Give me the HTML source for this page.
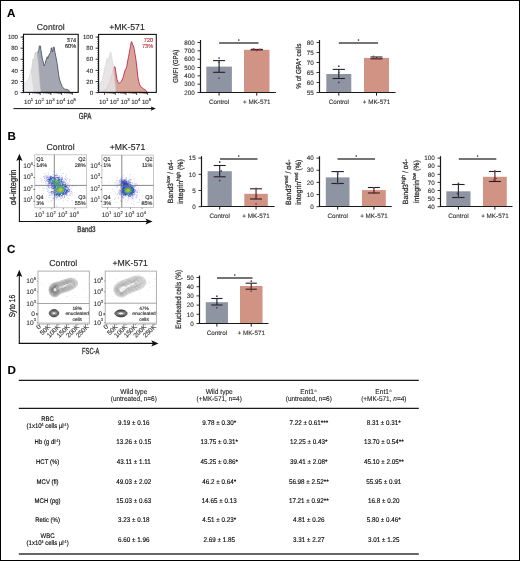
<!DOCTYPE html>
<html><head><meta charset="utf-8"><style>
html,body{margin:0;padding:0;background:#fff;}
body{width:520px;height:561px;overflow:hidden;}
svg{display:block;will-change:transform;}
text{font-family:"Liberation Sans",sans-serif;text-rendering:geometricPrecision;stroke-width:0.12px;}
.tb text{stroke-width:0.12px;}
</style></head><body>
<svg width="520" height="561" viewBox="0 0 520 561">
<rect width="520" height="561" fill="#fff"/>
<rect x="0.5" y="0.5" width="519" height="560" fill="none" stroke="#000" stroke-width="1"/>
<text x="6.9" y="16.7" font-size="11.6" text-anchor="start" fill="#000" stroke="#000" font-weight="bold" >A</text>
<text x="7.6" y="139.6" font-size="11.6" text-anchor="start" fill="#000" stroke="#000" font-weight="bold" >B</text>
<text x="7.0" y="252.8" font-size="11.6" text-anchor="start" fill="#000" stroke="#000" font-weight="bold" >C</text>
<text x="7.6" y="373.8" font-size="11.6" text-anchor="start" fill="#000" stroke="#000" font-weight="bold" >D</text>
<polygon points="37.30,92.40 37.30,53.50 37.80,52.50 38.30,51.00 38.80,50.60 39.10,48.00 39.30,46.10 40.60,46.10 40.70,49.50 41.00,50.50 41.50,54.00 42.20,58.00 43.10,61.50 43.80,64.50 44.20,66.00 44.60,64.50 45.20,63.50 45.80,61.00 46.50,59.00 47.00,57.50 47.30,56.70 47.80,58.50 48.30,57.50 49.00,55.00 49.80,53.50 50.50,52.50 51.00,50.50 51.20,48.00 51.60,47.80 52.00,50.00 52.50,52.00 53.00,49.50 53.20,47.20 54.20,47.20 54.50,50.00 55.00,52.50 55.80,56.50 56.50,60.00 56.90,62.50 57.50,66.00 58.00,70.00 58.60,74.50 59.20,78.00 60.30,82.00 61.50,85.00 62.20,86.50 63.00,87.50 64.40,89.10 65.20,89.40 66.00,89.20 67.30,89.70 68.20,89.80 69.00,90.80 69.60,92.40" fill="#a4a7b2" stroke="#535b6e" stroke-width="0.95" stroke-linejoin="round"/>
<polygon points="23.60,92.40 23.60,83.50 25.00,82.70 26.90,81.60 28.50,79.00 29.80,75.80 30.80,71.00 31.50,68.90 32.30,64.00 33.00,58.80 33.50,60.20 34.00,58.50 34.50,55.00 35.00,52.80 35.50,52.10 36.00,54.00 36.50,52.60 37.30,52.80 37.80,58.00 38.50,66.60 39.10,74.00 39.60,80.40 40.20,87.00 40.80,92.40" fill="#d9d9db" stroke="#c4c4c8" stroke-width="0.5"/>
<polygon points="23.60,92.40 23.60,83.50 25.00,82.70 26.90,81.60 28.50,79.00 29.80,75.80 30.80,71.00 31.30,74.00 32.00,80.00 32.80,86.00 33.50,92.40" fill="#ececee" stroke="none"/>
<rect x="23.5" y="34.3" width="54.7" height="58.10000000000001" fill="none" stroke="#111" stroke-width="1.1"/>
<line x1="20.5" y1="92.6" x2="23.5" y2="92.6" stroke="#111" stroke-width="0.8"/>
<text x="17.9" y="94.69999999999999" font-size="6" text-anchor="end" fill="#333" stroke="#333" font-weight="normal" >0</text>
<line x1="20.5" y1="81.5" x2="23.5" y2="81.5" stroke="#111" stroke-width="0.8"/>
<text x="17.9" y="83.6" font-size="6" text-anchor="end" fill="#333" stroke="#333" font-weight="normal" >20</text>
<line x1="20.5" y1="70.39999999999999" x2="23.5" y2="70.39999999999999" stroke="#111" stroke-width="0.8"/>
<text x="17.9" y="72.49999999999999" font-size="6" text-anchor="end" fill="#333" stroke="#333" font-weight="normal" >40</text>
<line x1="20.5" y1="59.3" x2="23.5" y2="59.3" stroke="#111" stroke-width="0.8"/>
<text x="17.9" y="61.4" font-size="6" text-anchor="end" fill="#333" stroke="#333" font-weight="normal" >60</text>
<line x1="20.5" y1="48.199999999999996" x2="23.5" y2="48.199999999999996" stroke="#111" stroke-width="0.8"/>
<text x="17.9" y="50.3" font-size="6" text-anchor="end" fill="#333" stroke="#333" font-weight="normal" >80</text>
<line x1="20.5" y1="37.099999999999994" x2="23.5" y2="37.099999999999994" stroke="#111" stroke-width="0.8"/>
<text x="17.9" y="39.199999999999996" font-size="6" text-anchor="end" fill="#333" stroke="#333" font-weight="normal" >100</text>
<line x1="22.0" y1="92.60" x2="23.5" y2="92.60" stroke="#111" stroke-width="0.6"/>
<line x1="22.0" y1="90.38" x2="23.5" y2="90.38" stroke="#111" stroke-width="0.6"/>
<line x1="22.0" y1="88.16" x2="23.5" y2="88.16" stroke="#111" stroke-width="0.6"/>
<line x1="22.0" y1="85.94" x2="23.5" y2="85.94" stroke="#111" stroke-width="0.6"/>
<line x1="22.0" y1="83.72" x2="23.5" y2="83.72" stroke="#111" stroke-width="0.6"/>
<line x1="22.0" y1="81.50" x2="23.5" y2="81.50" stroke="#111" stroke-width="0.6"/>
<line x1="22.0" y1="79.28" x2="23.5" y2="79.28" stroke="#111" stroke-width="0.6"/>
<line x1="22.0" y1="77.06" x2="23.5" y2="77.06" stroke="#111" stroke-width="0.6"/>
<line x1="22.0" y1="74.84" x2="23.5" y2="74.84" stroke="#111" stroke-width="0.6"/>
<line x1="22.0" y1="72.62" x2="23.5" y2="72.62" stroke="#111" stroke-width="0.6"/>
<line x1="22.0" y1="70.40" x2="23.5" y2="70.40" stroke="#111" stroke-width="0.6"/>
<line x1="22.0" y1="68.18" x2="23.5" y2="68.18" stroke="#111" stroke-width="0.6"/>
<line x1="22.0" y1="65.96" x2="23.5" y2="65.96" stroke="#111" stroke-width="0.6"/>
<line x1="22.0" y1="63.74" x2="23.5" y2="63.74" stroke="#111" stroke-width="0.6"/>
<line x1="22.0" y1="61.52" x2="23.5" y2="61.52" stroke="#111" stroke-width="0.6"/>
<line x1="22.0" y1="59.30" x2="23.5" y2="59.30" stroke="#111" stroke-width="0.6"/>
<line x1="22.0" y1="57.08" x2="23.5" y2="57.08" stroke="#111" stroke-width="0.6"/>
<line x1="22.0" y1="54.86" x2="23.5" y2="54.86" stroke="#111" stroke-width="0.6"/>
<line x1="22.0" y1="52.64" x2="23.5" y2="52.64" stroke="#111" stroke-width="0.6"/>
<line x1="22.0" y1="50.42" x2="23.5" y2="50.42" stroke="#111" stroke-width="0.6"/>
<line x1="22.0" y1="48.20" x2="23.5" y2="48.20" stroke="#111" stroke-width="0.6"/>
<line x1="22.0" y1="45.98" x2="23.5" y2="45.98" stroke="#111" stroke-width="0.6"/>
<line x1="22.0" y1="43.76" x2="23.5" y2="43.76" stroke="#111" stroke-width="0.6"/>
<line x1="22.0" y1="41.54" x2="23.5" y2="41.54" stroke="#111" stroke-width="0.6"/>
<line x1="22.0" y1="39.32" x2="23.5" y2="39.32" stroke="#111" stroke-width="0.6"/>
<line x1="22.0" y1="37.10" x2="23.5" y2="37.10" stroke="#111" stroke-width="0.6"/>
<line x1="29.5" y1="92.4" x2="29.5" y2="94.9" stroke="#111" stroke-width="0.8"/>
<line x1="40.2" y1="92.4" x2="40.2" y2="94.9" stroke="#111" stroke-width="0.8"/>
<line x1="50.9" y1="92.4" x2="50.9" y2="94.9" stroke="#111" stroke-width="0.8"/>
<line x1="61.6" y1="92.4" x2="61.6" y2="94.9" stroke="#111" stroke-width="0.8"/>
<line x1="72.3" y1="92.4" x2="72.3" y2="94.9" stroke="#111" stroke-width="0.8"/>
<line x1="32.72" y1="92.4" x2="32.72" y2="93.80000000000001" stroke="#111" stroke-width="0.5"/>
<line x1="34.61" y1="92.4" x2="34.61" y2="93.80000000000001" stroke="#111" stroke-width="0.5"/>
<line x1="35.94" y1="92.4" x2="35.94" y2="93.80000000000001" stroke="#111" stroke-width="0.5"/>
<line x1="36.98" y1="92.4" x2="36.98" y2="93.80000000000001" stroke="#111" stroke-width="0.5"/>
<line x1="37.83" y1="92.4" x2="37.83" y2="93.80000000000001" stroke="#111" stroke-width="0.5"/>
<line x1="38.54" y1="92.4" x2="38.54" y2="93.80000000000001" stroke="#111" stroke-width="0.5"/>
<line x1="39.16" y1="92.4" x2="39.16" y2="93.80000000000001" stroke="#111" stroke-width="0.5"/>
<line x1="39.71" y1="92.4" x2="39.71" y2="93.80000000000001" stroke="#111" stroke-width="0.5"/>
<line x1="43.42" y1="92.4" x2="43.42" y2="93.80000000000001" stroke="#111" stroke-width="0.5"/>
<line x1="45.31" y1="92.4" x2="45.31" y2="93.80000000000001" stroke="#111" stroke-width="0.5"/>
<line x1="46.64" y1="92.4" x2="46.64" y2="93.80000000000001" stroke="#111" stroke-width="0.5"/>
<line x1="47.68" y1="92.4" x2="47.68" y2="93.80000000000001" stroke="#111" stroke-width="0.5"/>
<line x1="48.53" y1="92.4" x2="48.53" y2="93.80000000000001" stroke="#111" stroke-width="0.5"/>
<line x1="49.24" y1="92.4" x2="49.24" y2="93.80000000000001" stroke="#111" stroke-width="0.5"/>
<line x1="49.86" y1="92.4" x2="49.86" y2="93.80000000000001" stroke="#111" stroke-width="0.5"/>
<line x1="50.41" y1="92.4" x2="50.41" y2="93.80000000000001" stroke="#111" stroke-width="0.5"/>
<line x1="54.12" y1="92.4" x2="54.12" y2="93.80000000000001" stroke="#111" stroke-width="0.5"/>
<line x1="56.01" y1="92.4" x2="56.01" y2="93.80000000000001" stroke="#111" stroke-width="0.5"/>
<line x1="57.34" y1="92.4" x2="57.34" y2="93.80000000000001" stroke="#111" stroke-width="0.5"/>
<line x1="58.38" y1="92.4" x2="58.38" y2="93.80000000000001" stroke="#111" stroke-width="0.5"/>
<line x1="59.23" y1="92.4" x2="59.23" y2="93.80000000000001" stroke="#111" stroke-width="0.5"/>
<line x1="59.94" y1="92.4" x2="59.94" y2="93.80000000000001" stroke="#111" stroke-width="0.5"/>
<line x1="60.56" y1="92.4" x2="60.56" y2="93.80000000000001" stroke="#111" stroke-width="0.5"/>
<line x1="61.11" y1="92.4" x2="61.11" y2="93.80000000000001" stroke="#111" stroke-width="0.5"/>
<line x1="64.82" y1="92.4" x2="64.82" y2="93.80000000000001" stroke="#111" stroke-width="0.5"/>
<line x1="66.71" y1="92.4" x2="66.71" y2="93.80000000000001" stroke="#111" stroke-width="0.5"/>
<line x1="68.04" y1="92.4" x2="68.04" y2="93.80000000000001" stroke="#111" stroke-width="0.5"/>
<line x1="69.08" y1="92.4" x2="69.08" y2="93.80000000000001" stroke="#111" stroke-width="0.5"/>
<line x1="69.93" y1="92.4" x2="69.93" y2="93.80000000000001" stroke="#111" stroke-width="0.5"/>
<line x1="70.64" y1="92.4" x2="70.64" y2="93.80000000000001" stroke="#111" stroke-width="0.5"/>
<line x1="71.26" y1="92.4" x2="71.26" y2="93.80000000000001" stroke="#111" stroke-width="0.5"/>
<line x1="71.81" y1="92.4" x2="71.81" y2="93.80000000000001" stroke="#111" stroke-width="0.5"/>
<text x="28.6" y="103.7" font-size="6.1" text-anchor="middle" fill="#2a2a2a" stroke="#2a2a2a">10<tspan font-size="4.3" dy="-2.6">1</tspan></text>
<text x="39.300000000000004" y="103.7" font-size="6.1" text-anchor="middle" fill="#2a2a2a" stroke="#2a2a2a">10<tspan font-size="4.3" dy="-2.6">2</tspan></text>
<text x="50.0" y="103.7" font-size="6.1" text-anchor="middle" fill="#2a2a2a" stroke="#2a2a2a">10<tspan font-size="4.3" dy="-2.6">3</tspan></text>
<text x="60.7" y="103.7" font-size="6.1" text-anchor="middle" fill="#2a2a2a" stroke="#2a2a2a">10<tspan font-size="4.3" dy="-2.6">4</tspan></text>
<text x="71.39999999999999" y="103.7" font-size="6.1" text-anchor="middle" fill="#2a2a2a" stroke="#2a2a2a">10<tspan font-size="4.3" dy="-2.6">5</tspan></text>
<text x="76.2" y="41.6" font-size="5.6" text-anchor="end" fill="#222" stroke="#222" font-weight="normal" >374</text>
<text x="76.2" y="47.8" font-size="5.6" text-anchor="end" fill="#222" stroke="#222" font-weight="normal" >60%</text>
<polygon points="101.00,92.40 104.00,90.50 107.00,88.50 109.00,84.00 110.50,80.00 112.00,75.00 113.00,70.00 113.80,67.50 114.50,66.60 115.20,67.60 115.80,72.00 116.40,76.00 117.00,79.50 118.00,82.50 119.00,83.30 120.50,82.50 121.30,81.50 122.00,80.00 123.10,77.50 124.30,73.00 125.50,69.00 126.20,68.30 126.80,66.50 127.70,61.00 128.60,56.60 129.60,51.00 130.50,46.80 131.00,43.00 131.50,41.60 132.00,42.50 132.60,44.80 133.20,45.20 134.20,49.20 135.00,54.00 136.00,60.30 137.00,69.00 137.80,76.30 138.70,81.50 139.70,84.90 141.00,86.80 142.20,88.00 143.70,89.00 145.20,89.80 146.30,90.80 147.10,92.40" fill="#d8a59a" stroke="#c2324f" stroke-width="0.95" stroke-linejoin="round"/>
<polygon points="98.70,92.40 98.70,88.50 99.50,83.50 100.20,82.60 101.00,82.20 102.00,81.00 103.50,74.00 104.30,70.00 105.00,66.40 106.00,62.50 106.50,60.40 107.00,58.20 107.50,60.00 108.00,61.20 108.50,59.00 109.00,57.00 109.60,54.50 110.00,52.70 111.00,52.30 111.50,56.10 112.00,58.50 112.50,61.20 113.50,67.20 114.00,75.00 114.80,82.00 115.40,87.00 116.00,92.40" fill="#e4e1e2" fill-opacity="0.88" stroke="#cfcfd2" stroke-width="0.5"/>
<rect x="98.6" y="34.4" width="57.70000000000002" height="58.00000000000001" fill="none" stroke="#111" stroke-width="1.1"/>
<line x1="95.6" y1="92.6" x2="98.6" y2="92.6" stroke="#111" stroke-width="0.8"/>
<text x="93.0" y="94.69999999999999" font-size="6" text-anchor="end" fill="#333" stroke="#333" font-weight="normal" >0</text>
<line x1="95.6" y1="81.5" x2="98.6" y2="81.5" stroke="#111" stroke-width="0.8"/>
<text x="93.0" y="83.6" font-size="6" text-anchor="end" fill="#333" stroke="#333" font-weight="normal" >20</text>
<line x1="95.6" y1="70.39999999999999" x2="98.6" y2="70.39999999999999" stroke="#111" stroke-width="0.8"/>
<text x="93.0" y="72.49999999999999" font-size="6" text-anchor="end" fill="#333" stroke="#333" font-weight="normal" >40</text>
<line x1="95.6" y1="59.3" x2="98.6" y2="59.3" stroke="#111" stroke-width="0.8"/>
<text x="93.0" y="61.4" font-size="6" text-anchor="end" fill="#333" stroke="#333" font-weight="normal" >60</text>
<line x1="95.6" y1="48.199999999999996" x2="98.6" y2="48.199999999999996" stroke="#111" stroke-width="0.8"/>
<text x="93.0" y="50.3" font-size="6" text-anchor="end" fill="#333" stroke="#333" font-weight="normal" >80</text>
<line x1="95.6" y1="37.099999999999994" x2="98.6" y2="37.099999999999994" stroke="#111" stroke-width="0.8"/>
<text x="93.0" y="39.199999999999996" font-size="6" text-anchor="end" fill="#333" stroke="#333" font-weight="normal" >100</text>
<line x1="97.1" y1="92.60" x2="98.6" y2="92.60" stroke="#111" stroke-width="0.6"/>
<line x1="97.1" y1="90.38" x2="98.6" y2="90.38" stroke="#111" stroke-width="0.6"/>
<line x1="97.1" y1="88.16" x2="98.6" y2="88.16" stroke="#111" stroke-width="0.6"/>
<line x1="97.1" y1="85.94" x2="98.6" y2="85.94" stroke="#111" stroke-width="0.6"/>
<line x1="97.1" y1="83.72" x2="98.6" y2="83.72" stroke="#111" stroke-width="0.6"/>
<line x1="97.1" y1="81.50" x2="98.6" y2="81.50" stroke="#111" stroke-width="0.6"/>
<line x1="97.1" y1="79.28" x2="98.6" y2="79.28" stroke="#111" stroke-width="0.6"/>
<line x1="97.1" y1="77.06" x2="98.6" y2="77.06" stroke="#111" stroke-width="0.6"/>
<line x1="97.1" y1="74.84" x2="98.6" y2="74.84" stroke="#111" stroke-width="0.6"/>
<line x1="97.1" y1="72.62" x2="98.6" y2="72.62" stroke="#111" stroke-width="0.6"/>
<line x1="97.1" y1="70.40" x2="98.6" y2="70.40" stroke="#111" stroke-width="0.6"/>
<line x1="97.1" y1="68.18" x2="98.6" y2="68.18" stroke="#111" stroke-width="0.6"/>
<line x1="97.1" y1="65.96" x2="98.6" y2="65.96" stroke="#111" stroke-width="0.6"/>
<line x1="97.1" y1="63.74" x2="98.6" y2="63.74" stroke="#111" stroke-width="0.6"/>
<line x1="97.1" y1="61.52" x2="98.6" y2="61.52" stroke="#111" stroke-width="0.6"/>
<line x1="97.1" y1="59.30" x2="98.6" y2="59.30" stroke="#111" stroke-width="0.6"/>
<line x1="97.1" y1="57.08" x2="98.6" y2="57.08" stroke="#111" stroke-width="0.6"/>
<line x1="97.1" y1="54.86" x2="98.6" y2="54.86" stroke="#111" stroke-width="0.6"/>
<line x1="97.1" y1="52.64" x2="98.6" y2="52.64" stroke="#111" stroke-width="0.6"/>
<line x1="97.1" y1="50.42" x2="98.6" y2="50.42" stroke="#111" stroke-width="0.6"/>
<line x1="97.1" y1="48.20" x2="98.6" y2="48.20" stroke="#111" stroke-width="0.6"/>
<line x1="97.1" y1="45.98" x2="98.6" y2="45.98" stroke="#111" stroke-width="0.6"/>
<line x1="97.1" y1="43.76" x2="98.6" y2="43.76" stroke="#111" stroke-width="0.6"/>
<line x1="97.1" y1="41.54" x2="98.6" y2="41.54" stroke="#111" stroke-width="0.6"/>
<line x1="97.1" y1="39.32" x2="98.6" y2="39.32" stroke="#111" stroke-width="0.6"/>
<line x1="97.1" y1="37.10" x2="98.6" y2="37.10" stroke="#111" stroke-width="0.6"/>
<line x1="104.6" y1="92.4" x2="104.6" y2="94.9" stroke="#111" stroke-width="0.8"/>
<line x1="115.3" y1="92.4" x2="115.3" y2="94.9" stroke="#111" stroke-width="0.8"/>
<line x1="126.0" y1="92.4" x2="126.0" y2="94.9" stroke="#111" stroke-width="0.8"/>
<line x1="136.7" y1="92.4" x2="136.7" y2="94.9" stroke="#111" stroke-width="0.8"/>
<line x1="147.4" y1="92.4" x2="147.4" y2="94.9" stroke="#111" stroke-width="0.8"/>
<line x1="107.82" y1="92.4" x2="107.82" y2="93.80000000000001" stroke="#111" stroke-width="0.5"/>
<line x1="109.71" y1="92.4" x2="109.71" y2="93.80000000000001" stroke="#111" stroke-width="0.5"/>
<line x1="111.04" y1="92.4" x2="111.04" y2="93.80000000000001" stroke="#111" stroke-width="0.5"/>
<line x1="112.08" y1="92.4" x2="112.08" y2="93.80000000000001" stroke="#111" stroke-width="0.5"/>
<line x1="112.93" y1="92.4" x2="112.93" y2="93.80000000000001" stroke="#111" stroke-width="0.5"/>
<line x1="113.64" y1="92.4" x2="113.64" y2="93.80000000000001" stroke="#111" stroke-width="0.5"/>
<line x1="114.26" y1="92.4" x2="114.26" y2="93.80000000000001" stroke="#111" stroke-width="0.5"/>
<line x1="114.81" y1="92.4" x2="114.81" y2="93.80000000000001" stroke="#111" stroke-width="0.5"/>
<line x1="118.52" y1="92.4" x2="118.52" y2="93.80000000000001" stroke="#111" stroke-width="0.5"/>
<line x1="120.41" y1="92.4" x2="120.41" y2="93.80000000000001" stroke="#111" stroke-width="0.5"/>
<line x1="121.74" y1="92.4" x2="121.74" y2="93.80000000000001" stroke="#111" stroke-width="0.5"/>
<line x1="122.78" y1="92.4" x2="122.78" y2="93.80000000000001" stroke="#111" stroke-width="0.5"/>
<line x1="123.63" y1="92.4" x2="123.63" y2="93.80000000000001" stroke="#111" stroke-width="0.5"/>
<line x1="124.34" y1="92.4" x2="124.34" y2="93.80000000000001" stroke="#111" stroke-width="0.5"/>
<line x1="124.96" y1="92.4" x2="124.96" y2="93.80000000000001" stroke="#111" stroke-width="0.5"/>
<line x1="125.51" y1="92.4" x2="125.51" y2="93.80000000000001" stroke="#111" stroke-width="0.5"/>
<line x1="129.22" y1="92.4" x2="129.22" y2="93.80000000000001" stroke="#111" stroke-width="0.5"/>
<line x1="131.11" y1="92.4" x2="131.11" y2="93.80000000000001" stroke="#111" stroke-width="0.5"/>
<line x1="132.44" y1="92.4" x2="132.44" y2="93.80000000000001" stroke="#111" stroke-width="0.5"/>
<line x1="133.48" y1="92.4" x2="133.48" y2="93.80000000000001" stroke="#111" stroke-width="0.5"/>
<line x1="134.33" y1="92.4" x2="134.33" y2="93.80000000000001" stroke="#111" stroke-width="0.5"/>
<line x1="135.04" y1="92.4" x2="135.04" y2="93.80000000000001" stroke="#111" stroke-width="0.5"/>
<line x1="135.66" y1="92.4" x2="135.66" y2="93.80000000000001" stroke="#111" stroke-width="0.5"/>
<line x1="136.21" y1="92.4" x2="136.21" y2="93.80000000000001" stroke="#111" stroke-width="0.5"/>
<line x1="139.92" y1="92.4" x2="139.92" y2="93.80000000000001" stroke="#111" stroke-width="0.5"/>
<line x1="141.81" y1="92.4" x2="141.81" y2="93.80000000000001" stroke="#111" stroke-width="0.5"/>
<line x1="143.14" y1="92.4" x2="143.14" y2="93.80000000000001" stroke="#111" stroke-width="0.5"/>
<line x1="144.18" y1="92.4" x2="144.18" y2="93.80000000000001" stroke="#111" stroke-width="0.5"/>
<line x1="145.03" y1="92.4" x2="145.03" y2="93.80000000000001" stroke="#111" stroke-width="0.5"/>
<line x1="145.74" y1="92.4" x2="145.74" y2="93.80000000000001" stroke="#111" stroke-width="0.5"/>
<line x1="146.36" y1="92.4" x2="146.36" y2="93.80000000000001" stroke="#111" stroke-width="0.5"/>
<line x1="146.91" y1="92.4" x2="146.91" y2="93.80000000000001" stroke="#111" stroke-width="0.5"/>
<text x="103.69999999999999" y="103.7" font-size="6.1" text-anchor="middle" fill="#2a2a2a" stroke="#2a2a2a">10<tspan font-size="4.3" dy="-2.6">1</tspan></text>
<text x="114.39999999999999" y="103.7" font-size="6.1" text-anchor="middle" fill="#2a2a2a" stroke="#2a2a2a">10<tspan font-size="4.3" dy="-2.6">2</tspan></text>
<text x="125.1" y="103.7" font-size="6.1" text-anchor="middle" fill="#2a2a2a" stroke="#2a2a2a">10<tspan font-size="4.3" dy="-2.6">3</tspan></text>
<text x="135.79999999999998" y="103.7" font-size="6.1" text-anchor="middle" fill="#2a2a2a" stroke="#2a2a2a">10<tspan font-size="4.3" dy="-2.6">4</tspan></text>
<text x="146.5" y="103.7" font-size="6.1" text-anchor="middle" fill="#2a2a2a" stroke="#2a2a2a">10<tspan font-size="4.3" dy="-2.6">5</tspan></text>
<text x="153.2" y="41.6" font-size="5.6" text-anchor="end" fill="#b52a3d" stroke="#b52a3d" font-weight="normal" >720</text>
<text x="153.2" y="47.8" font-size="5.6" text-anchor="end" fill="#b52a3d" stroke="#b52a3d" font-weight="normal" >73%</text>
<text x="50.8" y="29.6" font-size="8.7" text-anchor="middle" fill="#222" stroke="#222" font-weight="normal" >Control</text>
<text x="127.0" y="29.6" font-size="8.7" text-anchor="middle" fill="#222" stroke="#222" font-weight="normal" >+MK-571</text>
<line x1="13.5" y1="108.6" x2="152" y2="108.6" stroke="#111" stroke-width="1"/>
<polygon points="155.8,108.6 150.8,106.5 151.6,108.6 150.8,110.7" fill="#111"/>
<text x="85" y="119.0" font-size="8.8" text-anchor="middle" fill="#2a2a2a" stroke="#2a2a2a" font-weight="normal" style="stroke-width:0.3px" transform="translate(85,119.0) scale(0.71,1) translate(-85,-119.0)">GPA</text>
<line x1="197.5" y1="42.5" x2="200.5" y2="42.5" stroke="#1a1a1a" stroke-width="0.9"/>
<text x="194.8" y="44.7" font-size="6.3" text-anchor="end" fill="#333" stroke="#333" font-weight="normal" >800</text>
<line x1="197.5" y1="50.85" x2="200.5" y2="50.85" stroke="#1a1a1a" stroke-width="0.9"/>
<text x="194.8" y="53.050000000000004" font-size="6.3" text-anchor="end" fill="#333" stroke="#333" font-weight="normal" >700</text>
<line x1="197.5" y1="59.2" x2="200.5" y2="59.2" stroke="#1a1a1a" stroke-width="0.9"/>
<text x="194.8" y="61.400000000000006" font-size="6.3" text-anchor="end" fill="#333" stroke="#333" font-weight="normal" >600</text>
<line x1="197.5" y1="67.5" x2="200.5" y2="67.5" stroke="#1a1a1a" stroke-width="0.9"/>
<text x="194.8" y="69.7" font-size="6.3" text-anchor="end" fill="#333" stroke="#333" font-weight="normal" >500</text>
<line x1="197.5" y1="75.85" x2="200.5" y2="75.85" stroke="#1a1a1a" stroke-width="0.9"/>
<text x="194.8" y="78.05" font-size="6.3" text-anchor="end" fill="#333" stroke="#333" font-weight="normal" >400</text>
<line x1="197.5" y1="84.2" x2="200.5" y2="84.2" stroke="#1a1a1a" stroke-width="0.9"/>
<text x="194.8" y="86.4" font-size="6.3" text-anchor="end" fill="#333" stroke="#333" font-weight="normal" >300</text>
<line x1="197.5" y1="92.5" x2="200.5" y2="92.5" stroke="#1a1a1a" stroke-width="0.9"/>
<text x="194.8" y="94.7" font-size="6.3" text-anchor="end" fill="#333" stroke="#333" font-weight="normal" >200</text>
<rect x="206.3" y="66.6" width="25.599999999999994" height="25.900000000000006" fill="#8f94a3"/>
<rect x="244.0" y="49.8" width="25.5" height="42.7" fill="#d19384"/>
<line x1="200.5" y1="40.0" x2="200.5" y2="92.5" stroke="#1a1a1a" stroke-width="1.2"/>
<line x1="199.9" y1="92.5" x2="275.9" y2="92.5" stroke="#1a1a1a" stroke-width="1.2"/>
<line x1="219.10000000000002" y1="92.5" x2="219.10000000000002" y2="95.6" stroke="#1a1a1a" stroke-width="1"/>
<line x1="219.10000000000002" y1="60.6" x2="219.10000000000002" y2="72.3" stroke="#222" stroke-width="1.1"/>
<line x1="213.10000000000002" y1="60.6" x2="225.10000000000002" y2="60.6" stroke="#222" stroke-width="1.1"/>
<line x1="213.10000000000002" y1="72.3" x2="225.10000000000002" y2="72.3" stroke="#222" stroke-width="1.1"/>
<circle cx="219.10000000000002" cy="58.1" r="0.9" fill="#3c4a70"/>
<circle cx="219.10000000000002" cy="62.5" r="0.9" fill="#3c4a70"/>
<circle cx="219.10000000000002" cy="78.1" r="0.9" fill="#3c4a70"/>
<line x1="256.75" y1="92.5" x2="256.75" y2="95.6" stroke="#1a1a1a" stroke-width="1"/>
<line x1="256.75" y1="49.4" x2="256.75" y2="49.9" stroke="#222" stroke-width="1.1"/>
<line x1="250.75" y1="49.4" x2="262.75" y2="49.4" stroke="#222" stroke-width="1.1"/>
<line x1="250.75" y1="49.9" x2="262.75" y2="49.9" stroke="#222" stroke-width="1.1"/>
<circle cx="253.55" cy="48.9" r="0.9" fill="#c0283f"/>
<circle cx="256.75" cy="50.5" r="0.9" fill="#c0283f"/>
<circle cx="259.85" cy="49.4" r="0.9" fill="#c0283f"/>
<line x1="219.1" y1="43.0" x2="258.5" y2="43.0" stroke="#747474" stroke-width="1.9"/>
<circle cx="238.8" cy="40.1" r="0.8" fill="#333"/>
<text x="0" y="0" font-size="7.2" text-anchor="middle" fill="#2a2a2a" stroke="#2a2a2a" style="stroke-width:0.22px" transform="translate(178.3,66.3) rotate(-90) scale(0.84,1)">GMFI (GPA)</text>
<text x="219.10000000000002" y="104.2" font-size="6.3" text-anchor="middle" fill="#333" stroke="#333" font-weight="normal" >Control</text>
<text x="256.75" y="104.2" font-size="6.3" text-anchor="middle" fill="#333" stroke="#333" font-weight="normal" >+ MK-571</text>
<line x1="316.5" y1="42.5" x2="319.5" y2="42.5" stroke="#1a1a1a" stroke-width="0.9"/>
<text x="313.8" y="44.7" font-size="6.3" text-anchor="end" fill="#333" stroke="#333" font-weight="normal" >80</text>
<line x1="316.5" y1="52.5" x2="319.5" y2="52.5" stroke="#1a1a1a" stroke-width="0.9"/>
<text x="313.8" y="54.7" font-size="6.3" text-anchor="end" fill="#333" stroke="#333" font-weight="normal" >75</text>
<line x1="316.5" y1="62.5" x2="319.5" y2="62.5" stroke="#1a1a1a" stroke-width="0.9"/>
<text x="313.8" y="64.7" font-size="6.3" text-anchor="end" fill="#333" stroke="#333" font-weight="normal" >70</text>
<line x1="316.5" y1="72.5" x2="319.5" y2="72.5" stroke="#1a1a1a" stroke-width="0.9"/>
<text x="313.8" y="74.7" font-size="6.3" text-anchor="end" fill="#333" stroke="#333" font-weight="normal" >65</text>
<line x1="316.5" y1="82.5" x2="319.5" y2="82.5" stroke="#1a1a1a" stroke-width="0.9"/>
<text x="313.8" y="84.7" font-size="6.3" text-anchor="end" fill="#333" stroke="#333" font-weight="normal" >60</text>
<line x1="316.5" y1="92.5" x2="319.5" y2="92.5" stroke="#1a1a1a" stroke-width="0.9"/>
<text x="313.8" y="94.7" font-size="6.3" text-anchor="end" fill="#333" stroke="#333" font-weight="normal" >55</text>
<rect x="326.3" y="74.0" width="25.0" height="18.5" fill="#8f94a3"/>
<rect x="364.0" y="57.9" width="25.0" height="34.6" fill="#d19384"/>
<line x1="319.5" y1="40.0" x2="319.5" y2="92.5" stroke="#1a1a1a" stroke-width="1.2"/>
<line x1="318.9" y1="92.5" x2="395.6" y2="92.5" stroke="#1a1a1a" stroke-width="1.2"/>
<line x1="338.8" y1="92.5" x2="338.8" y2="95.6" stroke="#1a1a1a" stroke-width="1"/>
<line x1="338.8" y1="69.4" x2="338.8" y2="78.5" stroke="#222" stroke-width="1.1"/>
<line x1="332.7" y1="69.4" x2="344.90000000000003" y2="69.4" stroke="#222" stroke-width="1.1"/>
<line x1="332.7" y1="78.5" x2="344.90000000000003" y2="78.5" stroke="#222" stroke-width="1.1"/>
<circle cx="338.8" cy="66.2" r="0.9" fill="#3c4a70"/>
<circle cx="338.8" cy="72.5" r="0.9" fill="#3c4a70"/>
<circle cx="338.8" cy="82.5" r="0.9" fill="#3c4a70"/>
<line x1="376.5" y1="92.5" x2="376.5" y2="95.6" stroke="#1a1a1a" stroke-width="1"/>
<line x1="376.5" y1="57.0" x2="376.5" y2="58.8" stroke="#222" stroke-width="1.1"/>
<line x1="370.5" y1="57.0" x2="382.5" y2="57.0" stroke="#222" stroke-width="1.1"/>
<line x1="370.5" y1="58.8" x2="382.5" y2="58.8" stroke="#222" stroke-width="1.1"/>
<circle cx="373.5" cy="56.5" r="0.9" fill="#c0283f"/>
<circle cx="376.5" cy="58.6" r="0.9" fill="#c0283f"/>
<circle cx="379.5" cy="58.8" r="0.9" fill="#c0283f"/>
<line x1="338.8" y1="43.0" x2="378.1" y2="43.0" stroke="#747474" stroke-width="1.9"/>
<circle cx="358.45000000000005" cy="40.1" r="0.8" fill="#333"/>
<text x="0" y="0" font-size="7.2" text-anchor="middle" fill="#2a2a2a" stroke="#2a2a2a" style="stroke-width:0.22px" transform="translate(301.3,66.2) rotate(-90) scale(0.9,1)">% of GPA<tspan font-size="4.8" dy="-2.6">+</tspan><tspan dy="2.6"> cells</tspan></text>
<text x="338.8" y="104.2" font-size="6.3" text-anchor="middle" fill="#333" stroke="#333" font-weight="normal" >Control</text>
<text x="376.5" y="104.2" font-size="6.3" text-anchor="middle" fill="#333" stroke="#333" font-weight="normal" >+ MK-571</text>
<rect x="34.8" y="154.8" width="51.900000000000006" height="53.0" fill="#fff" stroke="#b0b0b0" stroke-width="0.7"/>
<rect x="61.8" y="167.6" width="0.75" height="0.75" fill="#9fa4e5" fill-opacity="0.8"/>
<rect x="71.7" y="200.1" width="0.75" height="0.75" fill="#9fa4e5" fill-opacity="0.8"/>
<rect x="56.5" y="206.4" width="0.75" height="0.75" fill="#9fa4e5" fill-opacity="0.8"/>
<rect x="75.6" y="185.6" width="0.75" height="0.75" fill="#9ea3e5" fill-opacity="0.8"/>
<rect x="38.7" y="187.5" width="0.75" height="0.75" fill="#9ea3e5" fill-opacity="0.8"/>
<rect x="55.8" y="205.0" width="0.75" height="0.75" fill="#9ea3e5" fill-opacity="0.8"/>
<rect x="59.9" y="169.6" width="0.75" height="0.75" fill="#9ea3e5" fill-opacity="0.8"/>
<rect x="40.4" y="178.3" width="0.75" height="0.75" fill="#9da3e5" fill-opacity="0.8"/>
<rect x="47.9" y="201.2" width="0.75" height="0.75" fill="#9da2e5" fill-opacity="0.8"/>
<rect x="67.2" y="200.3" width="0.75" height="0.75" fill="#9da2e5" fill-opacity="0.8"/>
<rect x="72.2" y="194.7" width="0.75" height="0.75" fill="#9da2e5" fill-opacity="0.8"/>
<rect x="44.9" y="173.0" width="0.75" height="0.75" fill="#9da2e5" fill-opacity="0.8"/>
<rect x="41.1" y="181.9" width="0.75" height="0.75" fill="#9ca1e5" fill-opacity="0.8"/>
<rect x="50.6" y="201.7" width="0.75" height="0.75" fill="#9ca1e5" fill-opacity="0.8"/>
<rect x="47.7" y="172.4" width="0.75" height="0.75" fill="#9ca1e4" fill-opacity="0.8"/>
<rect x="53.3" y="171.3" width="0.75" height="0.75" fill="#9ca1e4" fill-opacity="0.8"/>
<rect x="41.3" y="179.7" width="0.75" height="0.75" fill="#9ca1e4" fill-opacity="0.8"/>
<rect x="41.5" y="180.5" width="0.75" height="0.75" fill="#9ba0e4" fill-opacity="0.8"/>
<rect x="65.9" y="174.6" width="0.75" height="0.75" fill="#9ba0e4" fill-opacity="0.8"/>
<rect x="43.1" y="193.1" width="0.75" height="0.75" fill="#9ba0e4" fill-opacity="0.8"/>
<rect x="63.2" y="173.1" width="0.75" height="0.75" fill="#9ba0e4" fill-opacity="0.8"/>
<rect x="71.9" y="192.6" width="0.75" height="0.75" fill="#9aa0e4" fill-opacity="0.8"/>
<rect x="63.2" y="200.6" width="0.75" height="0.75" fill="#9a9fe4" fill-opacity="0.8"/>
<rect x="69.6" y="178.8" width="0.75" height="0.75" fill="#9a9fe4" fill-opacity="0.8"/>
<rect x="67.6" y="197.9" width="0.75" height="0.75" fill="#9a9fe4" fill-opacity="0.8"/>
<rect x="72.6" y="186.2" width="0.75" height="0.75" fill="#9a9fe4" fill-opacity="0.8"/>
<rect x="61.7" y="173.0" width="0.75" height="0.75" fill="#9a9fe4" fill-opacity="0.8"/>
<rect x="42.4" y="186.7" width="0.75" height="0.75" fill="#999fe4" fill-opacity="0.8"/>
<rect x="72.2" y="185.1" width="0.75" height="0.75" fill="#999fe4" fill-opacity="0.8"/>
<rect x="42.9" y="189.7" width="0.75" height="0.75" fill="#999ee4" fill-opacity="0.8"/>
<rect x="50.5" y="199.8" width="0.75" height="0.75" fill="#999ee4" fill-opacity="0.8"/>
<rect x="69.9" y="195.0" width="0.75" height="0.75" fill="#989ee3" fill-opacity="0.8"/>
<rect x="43.2" y="176.1" width="0.75" height="0.75" fill="#989ee3" fill-opacity="0.8"/>
<rect x="68.8" y="178.9" width="0.75" height="0.75" fill="#989de3" fill-opacity="0.8"/>
<rect x="44.6" y="174.8" width="0.75" height="0.75" fill="#989de3" fill-opacity="0.8"/>
<rect x="42.8" y="182.5" width="0.75" height="0.75" fill="#989de3" fill-opacity="0.8"/>
<rect x="51.7" y="199.9" width="0.75" height="0.75" fill="#979de3" fill-opacity="0.8"/>
<rect x="70.8" y="193.1" width="0.75" height="0.75" fill="#979de3" fill-opacity="0.8"/>
<rect x="56.6" y="172.8" width="0.75" height="0.75" fill="#979de3" fill-opacity="0.8"/>
<rect x="67.2" y="177.9" width="0.75" height="0.75" fill="#969ce3" fill-opacity="0.8"/>
<rect x="65.2" y="176.1" width="0.75" height="0.75" fill="#969be3" fill-opacity="0.8"/>
<rect x="43.7" y="176.3" width="0.75" height="0.75" fill="#969be3" fill-opacity="0.8"/>
<rect x="69.4" y="194.7" width="0.75" height="0.75" fill="#969be3" fill-opacity="0.8"/>
<rect x="43.8" y="188.0" width="0.75" height="0.75" fill="#959be3" fill-opacity="0.8"/>
<rect x="54.4" y="173.0" width="0.75" height="0.75" fill="#959be3" fill-opacity="0.8"/>
<rect x="48.1" y="173.8" width="0.75" height="0.75" fill="#959ae2" fill-opacity="0.8"/>
<rect x="66.2" y="177.4" width="0.75" height="0.75" fill="#959ae2" fill-opacity="0.8"/>
<rect x="70.1" y="193.3" width="0.75" height="0.75" fill="#949ae2" fill-opacity="0.8"/>
<rect x="48.7" y="197.0" width="0.75" height="0.75" fill="#949ae2" fill-opacity="0.8"/>
<rect x="70.9" y="191.5" width="0.75" height="0.75" fill="#9499e2" fill-opacity="0.8"/>
<rect x="69.0" y="181.3" width="0.75" height="0.75" fill="#9399e2" fill-opacity="0.8"/>
<rect x="71.4" y="187.6" width="0.75" height="0.75" fill="#9298e2" fill-opacity="0.8"/>
<rect x="44.9" y="175.6" width="0.75" height="0.75" fill="#9298e2" fill-opacity="0.8"/>
<rect x="44.1" y="176.6" width="0.75" height="0.75" fill="#9298e2" fill-opacity="0.8"/>
<rect x="70.8" y="191.4" width="0.75" height="0.75" fill="#9298e2" fill-opacity="0.8"/>
<rect x="58.7" y="199.5" width="0.75" height="0.75" fill="#9197e1" fill-opacity="0.8"/>
<rect x="55.6" y="199.4" width="0.75" height="0.75" fill="#9197e1" fill-opacity="0.8"/>
<rect x="68.7" y="194.5" width="0.75" height="0.75" fill="#9197e1" fill-opacity="0.8"/>
<rect x="70.7" y="190.7" width="0.75" height="0.75" fill="#8f96e1" fill-opacity="0.8"/>
<rect x="55.8" y="174.0" width="0.75" height="0.75" fill="#8e94e0" fill-opacity="0.8"/>
<rect x="53.0" y="198.3" width="0.75" height="0.75" fill="#8e94e0" fill-opacity="0.8"/>
<rect x="61.4" y="175.5" width="0.75" height="0.75" fill="#8e94e0" fill-opacity="0.8"/>
<rect x="44.1" y="177.8" width="0.75" height="0.75" fill="#8d93e0" fill-opacity="0.8"/>
<rect x="63.1" y="197.8" width="0.75" height="0.75" fill="#8d93e0" fill-opacity="0.8"/>
<rect x="51.9" y="174.1" width="0.75" height="0.75" fill="#8b91e0" fill-opacity="0.8"/>
<rect x="52.5" y="197.6" width="0.75" height="0.75" fill="#8b91e0" fill-opacity="0.8"/>
<rect x="44.3" y="178.1" width="0.75" height="0.75" fill="#8a91df" fill-opacity="0.8"/>
<rect x="46.6" y="175.4" width="0.75" height="0.75" fill="#8a91df" fill-opacity="0.8"/>
<rect x="48.9" y="195.0" width="0.75" height="0.75" fill="#8a91df" fill-opacity="0.8"/>
<rect x="44.3" y="180.0" width="0.75" height="0.75" fill="#8a90df" fill-opacity="0.8"/>
<rect x="70.5" y="188.7" width="0.75" height="0.75" fill="#8990df" fill-opacity="0.8"/>
<rect x="52.9" y="197.6" width="0.75" height="0.75" fill="#8990df" fill-opacity="0.8"/>
<rect x="64.1" y="196.9" width="0.75" height="0.75" fill="#898fdf" fill-opacity="0.8"/>
<rect x="46.3" y="188.3" width="0.75" height="0.75" fill="#898fdf" fill-opacity="0.8"/>
<rect x="46.4" y="175.7" width="0.75" height="0.75" fill="#888fdf" fill-opacity="0.8"/>
<rect x="59.4" y="175.4" width="0.75" height="0.75" fill="#878edf" fill-opacity="0.8"/>
<rect x="66.1" y="179.6" width="0.75" height="0.75" fill="#878edf" fill-opacity="0.8"/>
<rect x="46.2" y="185.7" width="0.75" height="0.75" fill="#878ede" fill-opacity="0.8"/>
<rect x="64.6" y="178.2" width="0.75" height="0.75" fill="#878ede" fill-opacity="0.8"/>
<rect x="56.5" y="174.7" width="0.75" height="0.75" fill="#878dde" fill-opacity="0.8"/>
<rect x="45.0" y="181.8" width="0.75" height="0.75" fill="#878dde" fill-opacity="0.8"/>
<rect x="60.7" y="197.9" width="0.75" height="0.75" fill="#868cde" fill-opacity="0.8"/>
<rect x="64.1" y="196.7" width="0.75" height="0.75" fill="#858cde" fill-opacity="0.8"/>
<rect x="66.4" y="195.3" width="0.75" height="0.75" fill="#858cde" fill-opacity="0.8"/>
<rect x="45.6" y="176.6" width="0.75" height="0.75" fill="#858cde" fill-opacity="0.8"/>
<rect x="64.4" y="196.6" width="0.75" height="0.75" fill="#858cde" fill-opacity="0.8"/>
<rect x="45.7" y="183.3" width="0.75" height="0.75" fill="#858cde" fill-opacity="0.8"/>
<rect x="49.6" y="194.9" width="0.75" height="0.75" fill="#858cde" fill-opacity="0.8"/>
<rect x="60.2" y="197.9" width="0.75" height="0.75" fill="#858bde" fill-opacity="0.8"/>
<rect x="47.3" y="190.9" width="0.75" height="0.75" fill="#848bde" fill-opacity="0.8"/>
<rect x="66.6" y="195.1" width="0.75" height="0.75" fill="#848bde" fill-opacity="0.8"/>
<rect x="45.0" y="177.7" width="0.75" height="0.75" fill="#848bde" fill-opacity="0.8"/>
<rect x="45.1" y="181.3" width="0.75" height="0.75" fill="#838add" fill-opacity="0.8"/>
<rect x="57.3" y="175.0" width="0.75" height="0.75" fill="#838add" fill-opacity="0.8"/>
<rect x="68.4" y="183.5" width="0.75" height="0.75" fill="#838add" fill-opacity="0.8"/>
<rect x="56.3" y="197.9" width="0.75" height="0.75" fill="#838add" fill-opacity="0.8"/>
<rect x="65.7" y="179.7" width="0.75" height="0.75" fill="#838add" fill-opacity="0.8"/>
<rect x="47.2" y="188.7" width="0.75" height="0.75" fill="#8289dd" fill-opacity="0.8"/>
<rect x="56.9" y="175.1" width="0.75" height="0.75" fill="#8189dd" fill-opacity="0.8"/>
<rect x="65.0" y="179.2" width="0.75" height="0.75" fill="#8188dd" fill-opacity="0.8"/>
<rect x="64.7" y="178.9" width="0.75" height="0.75" fill="#8188dd" fill-opacity="0.8"/>
<rect x="48.4" y="192.5" width="0.75" height="0.75" fill="#8188dd" fill-opacity="0.8"/>
<rect x="47.7" y="175.5" width="0.75" height="0.75" fill="#7f87dc" fill-opacity="0.8"/>
<rect x="67.5" y="182.7" width="0.75" height="0.75" fill="#7e85dc" fill-opacity="0.8"/>
<rect x="49.5" y="193.8" width="0.75" height="0.75" fill="#7e85dc" fill-opacity="0.8"/>
<rect x="69.0" y="185.5" width="0.75" height="0.75" fill="#7d85dc" fill-opacity="0.8"/>
<rect x="47.2" y="185.6" width="0.75" height="0.75" fill="#7d85dc" fill-opacity="0.8"/>
<rect x="66.5" y="194.6" width="0.75" height="0.75" fill="#7d84dc" fill-opacity="0.8"/>
<rect x="54.9" y="197.2" width="0.75" height="0.75" fill="#7c84db" fill-opacity="0.8"/>
<rect x="59.6" y="176.1" width="0.75" height="0.75" fill="#7c84db" fill-opacity="0.8"/>
<rect x="62.1" y="177.4" width="0.75" height="0.75" fill="#7c83db" fill-opacity="0.8"/>
<rect x="62.2" y="177.5" width="0.75" height="0.75" fill="#7b83db" fill-opacity="0.8"/>
<rect x="69.0" y="191.5" width="0.75" height="0.75" fill="#7b83db" fill-opacity="0.8"/>
<rect x="49.8" y="175.1" width="0.75" height="0.75" fill="#7b83db" fill-opacity="0.8"/>
<rect x="46.4" y="176.6" width="0.75" height="0.75" fill="#7a82db" fill-opacity="0.8"/>
<rect x="55.1" y="175.1" width="0.75" height="0.75" fill="#7a82db" fill-opacity="0.8"/>
<rect x="47.8" y="186.9" width="0.75" height="0.75" fill="#7a82db" fill-opacity="0.8"/>
<rect x="55.8" y="175.2" width="0.75" height="0.75" fill="#7981da" fill-opacity="0.8"/>
<rect x="69.2" y="186.7" width="0.75" height="0.75" fill="#7980da" fill-opacity="0.8"/>
<rect x="56.7" y="197.3" width="0.75" height="0.75" fill="#7880da" fill-opacity="0.8"/>
<rect x="69.4" y="189.8" width="0.75" height="0.75" fill="#7880da" fill-opacity="0.8"/>
<rect x="51.5" y="195.2" width="0.75" height="0.75" fill="#777fda" fill-opacity="0.8"/>
<rect x="68.7" y="191.5" width="0.75" height="0.75" fill="#777fda" fill-opacity="0.8"/>
<rect x="56.6" y="175.4" width="0.75" height="0.75" fill="#777fda" fill-opacity="0.8"/>
<rect x="55.0" y="175.2" width="0.75" height="0.75" fill="#777fda" fill-opacity="0.8"/>
<rect x="48.4" y="190.1" width="0.75" height="0.75" fill="#777eda" fill-opacity="0.8"/>
<rect x="61.7" y="196.8" width="0.75" height="0.75" fill="#777eda" fill-opacity="0.8"/>
<rect x="48.2" y="187.3" width="0.75" height="0.75" fill="#767eda" fill-opacity="0.8"/>
<rect x="64.0" y="195.9" width="0.75" height="0.75" fill="#757dd9" fill-opacity="0.8"/>
<rect x="54.9" y="175.2" width="0.75" height="0.75" fill="#757dd9" fill-opacity="0.8"/>
<rect x="61.0" y="177.2" width="0.75" height="0.75" fill="#747cd9" fill-opacity="0.8"/>
<rect x="45.6" y="179.7" width="0.75" height="0.75" fill="#747cd9" fill-opacity="0.8"/>
<rect x="49.4" y="192.2" width="0.75" height="0.75" fill="#737cd9" fill-opacity="0.8"/>
<rect x="68.9" y="190.8" width="0.75" height="0.75" fill="#737bd9" fill-opacity="0.8"/>
<rect x="46.4" y="177.2" width="0.75" height="0.75" fill="#737bd9" fill-opacity="0.8"/>
<rect x="48.0" y="185.4" width="0.75" height="0.75" fill="#727ad9" fill-opacity="0.8"/>
<rect x="48.4" y="186.4" width="0.75" height="0.75" fill="#727ad8" fill-opacity="0.8"/>
<rect x="68.8" y="186.7" width="0.75" height="0.75" fill="#727ad8" fill-opacity="0.8"/>
<rect x="61.7" y="177.7" width="0.75" height="0.75" fill="#6f78d8" fill-opacity="0.8"/>
<rect x="47.5" y="183.9" width="0.75" height="0.75" fill="#6f77d8" fill-opacity="0.8"/>
<rect x="66.4" y="194.0" width="0.75" height="0.75" fill="#6e76d7" fill-opacity="0.8"/>
<rect x="54.6" y="196.3" width="0.75" height="0.75" fill="#6d76d7" fill-opacity="0.8"/>
<rect x="68.9" y="189.8" width="0.75" height="0.75" fill="#6d76d7" fill-opacity="0.8"/>
<rect x="46.0" y="178.4" width="0.75" height="0.75" fill="#6d76d7" fill-opacity="0.8"/>
<rect x="48.5" y="185.8" width="0.75" height="0.75" fill="#6d76d7" fill-opacity="0.8"/>
<rect x="68.9" y="189.8" width="0.75" height="0.75" fill="#6c75d7" fill-opacity="0.8"/>
<rect x="47.2" y="176.8" width="0.75" height="0.75" fill="#6c75d7" fill-opacity="0.8"/>
<rect x="69.0" y="189.3" width="0.75" height="0.75" fill="#6c75d7" fill-opacity="0.8"/>
<rect x="50.0" y="192.5" width="0.75" height="0.75" fill="#6c75d7" fill-opacity="0.8"/>
<rect x="53.8" y="175.4" width="0.75" height="0.75" fill="#6c75d7" fill-opacity="0.8"/>
<rect x="49.1" y="188.1" width="0.75" height="0.75" fill="#6b73d6" fill-opacity="0.8"/>
<rect x="60.5" y="196.6" width="0.75" height="0.75" fill="#6a73d6" fill-opacity="0.8"/>
<rect x="56.6" y="196.7" width="0.75" height="0.75" fill="#6a72d6" fill-opacity="0.8"/>
<rect x="47.2" y="176.9" width="0.75" height="0.75" fill="#6972d6" fill-opacity="0.8"/>
<rect x="68.3" y="191.3" width="0.75" height="0.75" fill="#6971d6" fill-opacity="0.8"/>
<rect x="48.7" y="185.5" width="0.75" height="0.75" fill="#6871d6" fill-opacity="0.8"/>
<rect x="56.3" y="196.5" width="0.75" height="0.75" fill="#6770d5" fill-opacity="0.8"/>
<rect x="46.8" y="177.4" width="0.75" height="0.75" fill="#6770d5" fill-opacity="0.8"/>
<rect x="54.5" y="196.0" width="0.75" height="0.75" fill="#666fd5" fill-opacity="0.8"/>
<rect x="66.7" y="193.4" width="0.75" height="0.75" fill="#656fd5" fill-opacity="0.8"/>
<rect x="59.4" y="196.6" width="0.75" height="0.75" fill="#656ed5" fill-opacity="0.8"/>
<rect x="68.7" y="189.5" width="0.75" height="0.75" fill="#656ed5" fill-opacity="0.8"/>
<rect x="47.9" y="183.6" width="0.75" height="0.75" fill="#646dd4" fill-opacity="0.8"/>
<rect x="67.1" y="184.5" width="0.75" height="0.75" fill="#626bd4" fill-opacity="0.8"/>
<rect x="49.6" y="187.3" width="0.75" height="0.75" fill="#616ad4" fill-opacity="0.8"/>
<rect x="58.3" y="196.5" width="0.75" height="0.75" fill="#616ad4" fill-opacity="0.8"/>
<rect x="49.5" y="176.0" width="0.75" height="0.75" fill="#6069d3" fill-opacity="0.8"/>
<rect x="68.1" y="191.1" width="0.75" height="0.75" fill="#5f69d3" fill-opacity="0.8"/>
<rect x="47.8" y="183.2" width="0.75" height="0.75" fill="#5f69d3" fill-opacity="0.8"/>
<rect x="58.8" y="176.9" width="0.75" height="0.75" fill="#5f68d3" fill-opacity="0.8"/>
<rect x="46.5" y="180.6" width="0.75" height="0.75" fill="#5e68d3" fill-opacity="0.8"/>
<rect x="62.3" y="195.8" width="0.75" height="0.75" fill="#5e68d3" fill-opacity="0.8"/>
<rect x="61.8" y="178.5" width="0.75" height="0.75" fill="#5e68d3" fill-opacity="0.8"/>
<rect x="47.8" y="176.9" width="0.75" height="0.75" fill="#5e68d3" fill-opacity="0.8"/>
<rect x="58.0" y="176.6" width="0.75" height="0.75" fill="#5d67d2" fill-opacity="0.8"/>
<rect x="51.6" y="193.6" width="0.75" height="0.75" fill="#5d66d2" fill-opacity="0.8"/>
<rect x="54.3" y="175.8" width="0.75" height="0.75" fill="#5b65d2" fill-opacity="0.8"/>
<rect x="46.6" y="180.1" width="0.75" height="0.75" fill="#5b65d2" fill-opacity="0.8"/>
<rect x="48.3" y="176.7" width="0.75" height="0.75" fill="#5963d1" fill-opacity="0.8"/>
<rect x="67.4" y="192.0" width="0.75" height="0.75" fill="#5963d1" fill-opacity="0.8"/>
<rect x="68.3" y="189.2" width="0.75" height="0.75" fill="#5963d1" fill-opacity="0.8"/>
<rect x="51.5" y="193.2" width="0.75" height="0.75" fill="#5963d1" fill-opacity="0.8"/>
<rect x="51.0" y="192.4" width="0.75" height="0.75" fill="#5963d1" fill-opacity="0.8"/>
<rect x="48.6" y="183.9" width="0.75" height="0.75" fill="#5963d1" fill-opacity="0.8"/>
<rect x="50.5" y="191.0" width="0.75" height="0.75" fill="#5862d1" fill-opacity="0.8"/>
<rect x="67.9" y="186.8" width="0.75" height="0.75" fill="#5762d0" fill-opacity="0.8"/>
<rect x="52.0" y="193.6" width="0.75" height="0.75" fill="#5762d0" fill-opacity="0.8"/>
<rect x="68.2" y="188.5" width="0.75" height="0.75" fill="#5762d0" fill-opacity="0.8"/>
<rect x="68.0" y="190.5" width="0.75" height="0.75" fill="#5762d0" fill-opacity="0.8"/>
<rect x="64.1" y="194.8" width="0.75" height="0.75" fill="#5761d0" fill-opacity="0.8"/>
<rect x="67.8" y="191.0" width="0.75" height="0.75" fill="#5761d0" fill-opacity="0.8"/>
<rect x="46.8" y="178.8" width="0.75" height="0.75" fill="#5761d0" fill-opacity="0.8"/>
<rect x="61.6" y="178.6" width="0.75" height="0.75" fill="#5661d0" fill-opacity="0.8"/>
<rect x="66.3" y="193.1" width="0.75" height="0.75" fill="#5661cf" fill-opacity="0.8"/>
<rect x="64.8" y="181.9" width="0.75" height="0.75" fill="#5660cf" fill-opacity="0.8"/>
<rect x="58.0" y="176.9" width="0.75" height="0.75" fill="#5560cf" fill-opacity="0.8"/>
<rect x="63.5" y="180.3" width="0.75" height="0.75" fill="#5560cf" fill-opacity="0.8"/>
<rect x="62.1" y="179.1" width="0.75" height="0.75" fill="#5560cf" fill-opacity="0.8"/>
<rect x="51.2" y="176.0" width="0.75" height="0.75" fill="#5560cf" fill-opacity="0.8"/>
<rect x="68.1" y="188.2" width="0.75" height="0.75" fill="#5560cf" fill-opacity="0.8"/>
<rect x="47.1" y="180.8" width="0.75" height="0.75" fill="#5560cf" fill-opacity="0.8"/>
<rect x="51.0" y="191.6" width="0.75" height="0.75" fill="#5560cf" fill-opacity="0.8"/>
<rect x="60.2" y="177.9" width="0.75" height="0.75" fill="#545fce" fill-opacity="0.8"/>
<rect x="65.3" y="193.9" width="0.75" height="0.75" fill="#545fce" fill-opacity="0.8"/>
<rect x="67.3" y="191.6" width="0.75" height="0.75" fill="#545fce" fill-opacity="0.8"/>
<rect x="67.4" y="191.6" width="0.75" height="0.75" fill="#545fce" fill-opacity="0.8"/>
<rect x="46.9" y="179.1" width="0.75" height="0.75" fill="#545fce" fill-opacity="0.8"/>
<rect x="46.9" y="179.4" width="0.75" height="0.75" fill="#545fce" fill-opacity="0.8"/>
<rect x="51.5" y="192.5" width="0.75" height="0.75" fill="#545fce" fill-opacity="0.8"/>
<rect x="55.6" y="176.3" width="0.75" height="0.75" fill="#545fce" fill-opacity="0.8"/>
<rect x="64.5" y="181.7" width="0.75" height="0.75" fill="#545fce" fill-opacity="0.8"/>
<rect x="50.6" y="186.9" width="0.75" height="0.75" fill="#535ece" fill-opacity="0.8"/>
<rect x="65.2" y="193.9" width="0.75" height="0.75" fill="#535ece" fill-opacity="0.8"/>
<rect x="61.2" y="195.7" width="0.75" height="0.75" fill="#535ecd" fill-opacity="0.8"/>
<rect x="54.2" y="194.9" width="0.75" height="0.75" fill="#525ecd" fill-opacity="0.8"/>
<rect x="65.7" y="193.4" width="0.75" height="0.75" fill="#525ecd" fill-opacity="0.8"/>
<rect x="62.4" y="195.3" width="0.75" height="0.75" fill="#525ecd" fill-opacity="0.8"/>
<rect x="51.1" y="191.3" width="0.75" height="0.75" fill="#525ecd" fill-opacity="0.8"/>
<rect x="51.0" y="191.0" width="0.75" height="0.75" fill="#525ecd" fill-opacity="0.8"/>
<rect x="65.4" y="183.2" width="0.75" height="0.75" fill="#525dcd" fill-opacity="0.8"/>
<rect x="61.8" y="195.5" width="0.75" height="0.75" fill="#525dcd" fill-opacity="0.8"/>
<rect x="66.3" y="192.8" width="0.75" height="0.75" fill="#515dcd" fill-opacity="0.8"/>
<rect x="47.5" y="181.3" width="0.75" height="0.75" fill="#515dcc" fill-opacity="0.8"/>
<rect x="64.3" y="181.6" width="0.75" height="0.75" fill="#515dcc" fill-opacity="0.8"/>
<rect x="57.0" y="195.8" width="0.75" height="0.75" fill="#515dcc" fill-opacity="0.8"/>
<rect x="49.9" y="176.5" width="0.75" height="0.75" fill="#515ccc" fill-opacity="0.8"/>
<rect x="55.6" y="195.4" width="0.75" height="0.75" fill="#515ccc" fill-opacity="0.8"/>
<rect x="49.7" y="184.7" width="0.75" height="0.75" fill="#515ccc" fill-opacity="0.8"/>
<rect x="59.1" y="177.5" width="0.75" height="0.75" fill="#515ccc" fill-opacity="0.8"/>
<rect x="61.5" y="179.0" width="0.75" height="0.75" fill="#505ccc" fill-opacity="0.8"/>
<rect x="65.5" y="183.6" width="0.75" height="0.75" fill="#505ccc" fill-opacity="0.8"/>
<rect x="48.3" y="182.6" width="0.75" height="0.75" fill="#4f5bcb" fill-opacity="0.8"/>
<rect x="61.6" y="195.4" width="0.75" height="0.75" fill="#4f5bcb" fill-opacity="0.8"/>
<rect x="59.2" y="195.8" width="0.75" height="0.75" fill="#4f5bcb" fill-opacity="0.8"/>
<rect x="53.8" y="194.5" width="0.75" height="0.75" fill="#4e5bcb" fill-opacity="0.8"/>
<rect x="50.2" y="185.1" width="0.75" height="0.75" fill="#4e5bcb" fill-opacity="0.8"/>
<rect x="59.1" y="195.8" width="0.75" height="0.75" fill="#4e5acb" fill-opacity="0.8"/>
<rect x="65.6" y="193.3" width="0.75" height="0.75" fill="#4e5acb" fill-opacity="0.8"/>
<rect x="51.0" y="176.4" width="0.75" height="0.75" fill="#4d5aca" fill-opacity="0.8"/>
<rect x="50.3" y="176.5" width="0.75" height="0.75" fill="#4d5aca" fill-opacity="0.8"/>
<rect x="51.1" y="186.5" width="0.75" height="0.75" fill="#4d59ca" fill-opacity="0.8"/>
<rect x="50.5" y="176.5" width="0.75" height="0.75" fill="#4c59ca" fill-opacity="0.8"/>
<rect x="51.2" y="186.8" width="0.75" height="0.75" fill="#4c59ca" fill-opacity="0.8"/>
<rect x="59.3" y="177.8" width="0.75" height="0.75" fill="#4c58c9" fill-opacity="0.8"/>
<rect x="61.0" y="178.8" width="0.75" height="0.75" fill="#4c58c9" fill-opacity="0.8"/>
<rect x="65.0" y="193.7" width="0.75" height="0.75" fill="#4c58c9" fill-opacity="0.8"/>
<rect x="50.0" y="176.7" width="0.75" height="0.75" fill="#4b58c9" fill-opacity="0.8"/>
<rect x="58.9" y="195.6" width="0.75" height="0.75" fill="#4a57c8" fill-opacity="0.8"/>
<rect x="67.1" y="186.7" width="0.75" height="0.75" fill="#4a57c8" fill-opacity="0.8"/>
<rect x="60.9" y="178.8" width="0.75" height="0.75" fill="#4a57c8" fill-opacity="0.8"/>
<rect x="54.0" y="194.3" width="0.75" height="0.75" fill="#4a57c8" fill-opacity="0.8"/>
<rect x="57.0" y="177.0" width="0.75" height="0.75" fill="#4956c8" fill-opacity="0.8"/>
<rect x="56.3" y="195.3" width="0.75" height="0.75" fill="#4956c8" fill-opacity="0.8"/>
<rect x="67.4" y="190.3" width="0.75" height="0.75" fill="#4956c7" fill-opacity="0.8"/>
<rect x="67.3" y="187.3" width="0.75" height="0.75" fill="#4856c7" fill-opacity="0.8"/>
<rect x="61.1" y="195.3" width="0.75" height="0.75" fill="#4856c7" fill-opacity="0.8"/>
<rect x="48.1" y="181.6" width="0.75" height="0.75" fill="#4855c7" fill-opacity="0.8"/>
<rect x="51.5" y="188.8" width="0.75" height="0.75" fill="#4855c7" fill-opacity="0.8"/>
<rect x="51.6" y="187.8" width="0.75" height="0.75" fill="#4855c7" fill-opacity="0.8"/>
<rect x="67.5" y="189.3" width="0.75" height="0.75" fill="#4755c7" fill-opacity="0.8"/>
<rect x="58.6" y="195.5" width="0.75" height="0.75" fill="#4755c7" fill-opacity="0.8"/>
<rect x="54.8" y="194.6" width="0.75" height="0.75" fill="#4755c6" fill-opacity="0.8"/>
<rect x="51.6" y="186.8" width="0.75" height="0.75" fill="#4754c6" fill-opacity="0.8"/>
<rect x="48.9" y="182.9" width="0.75" height="0.75" fill="#4754c6" fill-opacity="0.8"/>
<rect x="49.9" y="176.9" width="0.75" height="0.75" fill="#4654c6" fill-opacity="0.8"/>
<rect x="63.0" y="180.9" width="0.75" height="0.75" fill="#4654c6" fill-opacity="0.8"/>
<rect x="65.2" y="193.3" width="0.75" height="0.75" fill="#4654c6" fill-opacity="0.8"/>
<rect x="66.5" y="191.9" width="0.75" height="0.75" fill="#4654c6" fill-opacity="0.8"/>
<rect x="51.7" y="187.1" width="0.75" height="0.75" fill="#4654c6" fill-opacity="0.8"/>
<rect x="67.4" y="188.5" width="0.75" height="0.75" fill="#4654c6" fill-opacity="0.8"/>
<rect x="54.6" y="194.5" width="0.75" height="0.75" fill="#4553c5" fill-opacity="0.8"/>
<rect x="57.4" y="195.4" width="0.75" height="0.75" fill="#4553c5" fill-opacity="0.8"/>
<rect x="48.7" y="177.7" width="0.75" height="0.75" fill="#4553c5" fill-opacity="0.8"/>
<rect x="51.9" y="191.3" width="0.75" height="0.75" fill="#4553c5" fill-opacity="0.8"/>
<rect x="66.8" y="191.3" width="0.75" height="0.75" fill="#4553c5" fill-opacity="0.8"/>
<rect x="65.6" y="184.7" width="0.75" height="0.75" fill="#4553c5" fill-opacity="0.8"/>
<rect x="49.1" y="182.9" width="0.75" height="0.75" fill="#4453c5" fill-opacity="0.8"/>
<rect x="64.9" y="193.5" width="0.75" height="0.75" fill="#4452c5" fill-opacity="0.8"/>
<rect x="65.9" y="192.6" width="0.75" height="0.75" fill="#4452c4" fill-opacity="0.8"/>
<rect x="65.0" y="183.9" width="0.75" height="0.75" fill="#4352c4" fill-opacity="0.8"/>
<rect x="60.7" y="179.0" width="0.75" height="0.75" fill="#4352c4" fill-opacity="0.8"/>
<rect x="57.5" y="177.4" width="0.75" height="0.75" fill="#4351c4" fill-opacity="0.8"/>
<rect x="57.3" y="177.3" width="0.75" height="0.75" fill="#4351c4" fill-opacity="0.8"/>
<rect x="49.1" y="177.5" width="0.75" height="0.75" fill="#4251c4" fill-opacity="0.8"/>
<rect x="48.1" y="178.7" width="0.75" height="0.75" fill="#4251c3" fill-opacity="0.8"/>
<rect x="51.8" y="186.1" width="0.75" height="0.75" fill="#4150c3" fill-opacity="0.8"/>
<rect x="58.0" y="177.6" width="0.75" height="0.75" fill="#4150c3" fill-opacity="0.8"/>
<rect x="65.0" y="184.1" width="0.75" height="0.75" fill="#4150c3" fill-opacity="0.8"/>
<rect x="49.6" y="183.3" width="0.75" height="0.75" fill="#404fc2" fill-opacity="0.8"/>
<rect x="61.6" y="179.8" width="0.75" height="0.75" fill="#404fc2" fill-opacity="0.8"/>
<rect x="49.2" y="182.7" width="0.75" height="0.75" fill="#404fc2" fill-opacity="0.8"/>
<rect x="52.2" y="191.4" width="0.75" height="0.75" fill="#3f4fc2" fill-opacity="0.8"/>
<rect x="65.8" y="185.4" width="0.75" height="0.75" fill="#3f4ec2" fill-opacity="0.8"/>
<rect x="54.1" y="176.7" width="0.75" height="0.75" fill="#3f4ec2" fill-opacity="0.8"/>
<rect x="51.7" y="176.8" width="0.75" height="0.75" fill="#3f4ec1" fill-opacity="0.8"/>
<rect x="48.1" y="180.5" width="0.75" height="0.75" fill="#3e4ec1" fill-opacity="0.8"/>
<rect x="48.5" y="178.2" width="0.75" height="0.75" fill="#3e4ec1" fill-opacity="0.8"/>
<rect x="54.7" y="176.8" width="0.75" height="0.75" fill="#3e4ec1" fill-opacity="0.8"/>
<rect x="55.6" y="194.6" width="0.75" height="0.75" fill="#3e4ec1" fill-opacity="0.8"/>
<rect x="52.1" y="188.5" width="0.75" height="0.75" fill="#3e4ec1" fill-opacity="0.8"/>
<rect x="58.1" y="177.7" width="0.75" height="0.75" fill="#3e4ec1" fill-opacity="0.8"/>
<rect x="54.9" y="194.3" width="0.75" height="0.75" fill="#3e4dc1" fill-opacity="0.8"/>
<rect x="63.7" y="194.0" width="0.75" height="0.75" fill="#3d4dc1" fill-opacity="0.8"/>
<rect x="56.9" y="177.3" width="0.75" height="0.75" fill="#3d4dc0" fill-opacity="0.8"/>
<rect x="66.5" y="186.8" width="0.75" height="0.75" fill="#3d4dc0" fill-opacity="0.8"/>
<rect x="66.3" y="191.7" width="0.75" height="0.75" fill="#3c4cc0" fill-opacity="0.8"/>
<rect x="48.6" y="181.7" width="0.75" height="0.75" fill="#3c4cc0" fill-opacity="0.8"/>
<rect x="48.4" y="181.1" width="0.75" height="0.75" fill="#3c4cc0" fill-opacity="0.8"/>
<rect x="67.0" y="189.8" width="0.75" height="0.75" fill="#3c4cc0" fill-opacity="0.8"/>
<rect x="65.4" y="185.1" width="0.75" height="0.75" fill="#3c4cc0" fill-opacity="0.8"/>
<rect x="66.1" y="186.0" width="0.75" height="0.75" fill="#3b4bbf" fill-opacity="0.8"/>
<rect x="67.0" y="189.9" width="0.75" height="0.75" fill="#3b4bbf" fill-opacity="0.8"/>
<rect x="51.5" y="185.0" width="0.75" height="0.75" fill="#3a4bbf" fill-opacity="0.8"/>
<rect x="50.1" y="183.5" width="0.75" height="0.75" fill="#3a4abe" fill-opacity="0.8"/>
<rect x="53.4" y="193.0" width="0.75" height="0.75" fill="#394abe" fill-opacity="0.8"/>
<rect x="63.3" y="194.1" width="0.75" height="0.75" fill="#394abe" fill-opacity="0.8"/>
<rect x="52.3" y="186.2" width="0.75" height="0.75" fill="#394abe" fill-opacity="0.8"/>
<rect x="49.9" y="177.4" width="0.75" height="0.75" fill="#394abe" fill-opacity="0.8"/>
<rect x="56.2" y="194.7" width="0.75" height="0.75" fill="#394abe" fill-opacity="0.8"/>
<rect x="52.8" y="192.0" width="0.75" height="0.75" fill="#394abe" fill-opacity="0.8"/>
<rect x="66.7" y="190.6" width="0.75" height="0.75" fill="#394abe" fill-opacity="0.8"/>
<rect x="52.9" y="176.8" width="0.75" height="0.75" fill="#394abe" fill-opacity="0.8"/>
<rect x="54.0" y="193.4" width="0.75" height="0.75" fill="#3849be" fill-opacity="0.8"/>
<rect x="54.5" y="193.8" width="0.75" height="0.75" fill="#3849be" fill-opacity="0.8"/>
<rect x="56.2" y="177.3" width="0.75" height="0.75" fill="#3849bd" fill-opacity="0.8"/>
<rect x="48.3" y="179.2" width="0.75" height="0.75" fill="#3849bd" fill-opacity="0.8"/>
<rect x="66.8" y="190.0" width="0.75" height="0.75" fill="#3748bd" fill-opacity="0.8"/>
<rect x="52.6" y="176.9" width="0.75" height="0.75" fill="#3647bc" fill-opacity="0.8"/>
<rect x="50.4" y="177.3" width="0.75" height="0.75" fill="#3647bc" fill-opacity="0.8"/>
<rect x="56.6" y="177.5" width="0.75" height="0.75" fill="#3647bc" fill-opacity="0.8"/>
<rect x="52.6" y="188.2" width="0.75" height="0.75" fill="#3546bc" fill-opacity="0.8"/>
<rect x="52.2" y="185.5" width="0.75" height="0.75" fill="#3546bc" fill-opacity="0.8"/>
<rect x="63.0" y="181.9" width="0.75" height="0.75" fill="#3546bb" fill-opacity="0.8"/>
<rect x="66.7" y="190.1" width="0.75" height="0.75" fill="#3446bb" fill-opacity="0.8"/>
<rect x="66.6" y="187.6" width="0.75" height="0.75" fill="#3446bb" fill-opacity="0.8"/>
<rect x="65.5" y="185.7" width="0.75" height="0.75" fill="#3446bb" fill-opacity="0.8"/>
<rect x="52.7" y="188.1" width="0.75" height="0.75" fill="#3445bb" fill-opacity="0.8"/>
<rect x="63.4" y="193.9" width="0.75" height="0.75" fill="#3445bb" fill-opacity="0.8"/>
<rect x="58.3" y="194.9" width="0.75" height="0.75" fill="#3345bb" fill-opacity="0.8"/>
<rect x="51.8" y="184.9" width="0.75" height="0.75" fill="#3345ba" fill-opacity="0.8"/>
<rect x="65.6" y="185.9" width="0.75" height="0.75" fill="#3345ba" fill-opacity="0.8"/>
<rect x="63.8" y="193.6" width="0.75" height="0.75" fill="#3344ba" fill-opacity="0.8"/>
<rect x="66.1" y="191.4" width="0.75" height="0.75" fill="#3344ba" fill-opacity="0.8"/>
<rect x="60.6" y="194.8" width="0.75" height="0.75" fill="#3344ba" fill-opacity="0.8"/>
<rect x="48.7" y="178.9" width="0.75" height="0.75" fill="#3143b9" fill-opacity="0.8"/>
<rect x="52.8" y="186.3" width="0.75" height="0.75" fill="#3143b9" fill-opacity="0.8"/>
<rect x="48.7" y="179.0" width="0.75" height="0.75" fill="#3043b9" fill-opacity="0.8"/>
<rect x="48.7" y="179.2" width="0.75" height="0.75" fill="#3042b9" fill-opacity="0.8"/>
<rect x="50.7" y="183.7" width="0.75" height="0.75" fill="#3042b8" fill-opacity="0.8"/>
<rect x="51.3" y="184.2" width="0.75" height="0.75" fill="#3042b8" fill-opacity="0.8"/>
<rect x="65.5" y="186.0" width="0.75" height="0.75" fill="#3042b8" fill-opacity="0.8"/>
<rect x="65.9" y="191.6" width="0.75" height="0.75" fill="#3042b8" fill-opacity="0.8"/>
<rect x="53.0" y="187.4" width="0.75" height="0.75" fill="#2f42b8" fill-opacity="0.8"/>
<rect x="65.3" y="185.6" width="0.75" height="0.75" fill="#2f42b8" fill-opacity="0.8"/>
<rect x="48.7" y="180.8" width="0.75" height="0.75" fill="#2f42b8" fill-opacity="0.8"/>
<rect x="52.2" y="185.1" width="0.75" height="0.75" fill="#2e41b8" fill-opacity="0.8"/>
<rect x="65.5" y="186.0" width="0.75" height="0.75" fill="#2e40b7" fill-opacity="0.8"/>
<rect x="63.9" y="183.8" width="0.75" height="0.75" fill="#2d40b7" fill-opacity="0.8"/>
<rect x="55.3" y="193.9" width="0.75" height="0.75" fill="#2d40b7" fill-opacity="0.8"/>
<rect x="52.0" y="177.2" width="0.75" height="0.75" fill="#2d40b7" fill-opacity="0.8"/>
<rect x="48.8" y="179.1" width="0.75" height="0.75" fill="#2c3fb6" fill-opacity="0.8"/>
<rect x="53.2" y="191.7" width="0.75" height="0.75" fill="#2c3fb6" fill-opacity="0.8"/>
<rect x="49.9" y="177.9" width="0.75" height="0.75" fill="#2c3fb6" fill-opacity="0.8"/>
<rect x="50.3" y="177.7" width="0.75" height="0.75" fill="#2b3fb6" fill-opacity="0.8"/>
<rect x="49.2" y="181.6" width="0.75" height="0.75" fill="#2b3eb6" fill-opacity="0.8"/>
<rect x="56.2" y="194.2" width="0.75" height="0.75" fill="#2b3eb6" fill-opacity="0.8"/>
<rect x="53.3" y="177.2" width="0.75" height="0.75" fill="#2b3eb5" fill-opacity="0.8"/>
<rect x="62.8" y="193.9" width="0.75" height="0.75" fill="#2b3eb5" fill-opacity="0.8"/>
<rect x="65.4" y="192.0" width="0.75" height="0.75" fill="#2a3eb5" fill-opacity="0.8"/>
<rect x="65.5" y="186.2" width="0.75" height="0.75" fill="#2a3eb5" fill-opacity="0.8"/>
<rect x="51.4" y="184.1" width="0.75" height="0.75" fill="#2a3eb5" fill-opacity="0.8"/>
<rect x="58.6" y="194.7" width="0.75" height="0.75" fill="#2a3db5" fill-opacity="0.8"/>
<rect x="52.2" y="184.8" width="0.75" height="0.75" fill="#2a3db5" fill-opacity="0.8"/>
<rect x="58.9" y="194.7" width="0.75" height="0.75" fill="#2a3db5" fill-opacity="0.8"/>
<rect x="63.8" y="184.0" width="0.75" height="0.75" fill="#2a3db5" fill-opacity="0.8"/>
<rect x="56.3" y="194.2" width="0.75" height="0.75" fill="#293cb4" fill-opacity="0.8"/>
<rect x="52.1" y="177.3" width="0.75" height="0.75" fill="#283cb4" fill-opacity="0.8"/>
<rect x="62.8" y="182.5" width="0.75" height="0.75" fill="#283cb4" fill-opacity="0.8"/>
<rect x="48.8" y="179.8" width="0.75" height="0.75" fill="#283cb4" fill-opacity="0.8"/>
<rect x="53.9" y="192.5" width="0.75" height="0.75" fill="#283cb4" fill-opacity="0.8"/>
<rect x="56.7" y="177.8" width="0.75" height="0.75" fill="#283cb4" fill-opacity="0.8"/>
<rect x="49.6" y="182.0" width="0.75" height="0.75" fill="#283cb4" fill-opacity="0.8"/>
<rect x="48.9" y="179.6" width="0.75" height="0.75" fill="#283cb4" fill-opacity="0.8"/>
<rect x="63.4" y="193.5" width="0.75" height="0.75" fill="#283cb4" fill-opacity="0.8"/>
<rect x="66.4" y="189.0" width="0.75" height="0.75" fill="#283cb4" fill-opacity="0.8"/>
<rect x="57.6" y="194.5" width="0.75" height="0.75" fill="#283db4" fill-opacity="0.8"/>
<rect x="53.5" y="186.6" width="0.75" height="0.75" fill="#283db4" fill-opacity="0.8"/>
<rect x="56.0" y="194.0" width="0.75" height="0.75" fill="#283db4" fill-opacity="0.8"/>
<rect x="62.4" y="182.0" width="0.75" height="0.75" fill="#283db4" fill-opacity="0.8"/>
<rect x="63.6" y="183.9" width="0.75" height="0.75" fill="#283db4" fill-opacity="0.8"/>
<rect x="65.9" y="191.1" width="0.75" height="0.75" fill="#283db4" fill-opacity="0.8"/>
<rect x="65.5" y="186.4" width="0.75" height="0.75" fill="#283db4" fill-opacity="0.8"/>
<rect x="63.3" y="183.5" width="0.75" height="0.75" fill="#283db4" fill-opacity="0.8"/>
<rect x="51.0" y="177.6" width="0.75" height="0.75" fill="#283db4" fill-opacity="0.8"/>
<rect x="55.1" y="177.5" width="0.75" height="0.75" fill="#283db4" fill-opacity="0.8"/>
<rect x="53.2" y="188.5" width="0.75" height="0.75" fill="#283eb4" fill-opacity="0.8"/>
<rect x="59.2" y="194.6" width="0.75" height="0.75" fill="#283eb4" fill-opacity="0.8"/>
<rect x="58.9" y="194.6" width="0.75" height="0.75" fill="#283eb4" fill-opacity="0.8"/>
<rect x="53.3" y="188.2" width="0.75" height="0.75" fill="#283eb4" fill-opacity="0.8"/>
<rect x="61.8" y="181.2" width="0.75" height="0.75" fill="#283eb4" fill-opacity="0.8"/>
<rect x="60.0" y="179.6" width="0.75" height="0.75" fill="#283eb4" fill-opacity="0.8"/>
<rect x="53.6" y="186.6" width="0.75" height="0.75" fill="#283eb4" fill-opacity="0.8"/>
<rect x="63.9" y="193.1" width="0.75" height="0.75" fill="#283eb4" fill-opacity="0.8"/>
<rect x="49.1" y="179.2" width="0.75" height="0.75" fill="#283fb4" fill-opacity="0.8"/>
<rect x="62.6" y="193.8" width="0.75" height="0.75" fill="#283fb4" fill-opacity="0.8"/>
<rect x="52.7" y="177.4" width="0.75" height="0.75" fill="#283fb4" fill-opacity="0.8"/>
<rect x="58.7" y="194.5" width="0.75" height="0.75" fill="#283fb4" fill-opacity="0.8"/>
<rect x="66.1" y="190.3" width="0.75" height="0.75" fill="#283fb4" fill-opacity="0.8"/>
<rect x="49.9" y="178.2" width="0.75" height="0.75" fill="#283fb4" fill-opacity="0.8"/>
<rect x="53.2" y="185.5" width="0.75" height="0.75" fill="#283fb4" fill-opacity="0.8"/>
<rect x="49.1" y="180.3" width="0.75" height="0.75" fill="#283fb4" fill-opacity="0.8"/>
<rect x="59.8" y="194.5" width="0.75" height="0.75" fill="#283fb4" fill-opacity="0.8"/>
<rect x="65.9" y="187.4" width="0.75" height="0.75" fill="#2840b4" fill-opacity="0.8"/>
<rect x="64.7" y="192.5" width="0.75" height="0.75" fill="#2840b4" fill-opacity="0.8"/>
<rect x="65.4" y="186.5" width="0.75" height="0.75" fill="#2840b4" fill-opacity="0.8"/>
<rect x="65.8" y="190.9" width="0.75" height="0.75" fill="#2840b4" fill-opacity="0.8"/>
<rect x="66.0" y="190.6" width="0.75" height="0.75" fill="#2840b4" fill-opacity="0.8"/>
<rect x="49.2" y="180.5" width="0.75" height="0.75" fill="#2841b5" fill-opacity="0.8"/>
<rect x="62.2" y="193.9" width="0.75" height="0.75" fill="#2841b5" fill-opacity="0.8"/>
<rect x="51.3" y="183.5" width="0.75" height="0.75" fill="#2842b5" fill-opacity="0.8"/>
<rect x="63.6" y="193.2" width="0.75" height="0.75" fill="#2842b5" fill-opacity="0.8"/>
<rect x="65.0" y="192.1" width="0.75" height="0.75" fill="#2842b5" fill-opacity="0.8"/>
<rect x="51.0" y="183.2" width="0.75" height="0.75" fill="#2843b5" fill-opacity="0.8"/>
<rect x="61.9" y="181.7" width="0.75" height="0.75" fill="#2843b5" fill-opacity="0.8"/>
<rect x="50.0" y="182.0" width="0.75" height="0.75" fill="#2843b5" fill-opacity="0.8"/>
<rect x="59.3" y="179.3" width="0.75" height="0.75" fill="#2844b5" fill-opacity="0.8"/>
<rect x="51.7" y="177.7" width="0.75" height="0.75" fill="#2844b5" fill-opacity="0.8"/>
<rect x="57.8" y="194.3" width="0.75" height="0.75" fill="#2844b5" fill-opacity="0.8"/>
<rect x="57.8" y="178.5" width="0.75" height="0.75" fill="#2844b5" fill-opacity="0.8"/>
<rect x="53.9" y="186.8" width="0.75" height="0.75" fill="#2844b5" fill-opacity="0.8"/>
<rect x="65.1" y="191.9" width="0.75" height="0.75" fill="#2844b5" fill-opacity="0.8"/>
<rect x="50.9" y="177.9" width="0.75" height="0.75" fill="#2845b5" fill-opacity="0.8"/>
<rect x="49.7" y="181.4" width="0.75" height="0.75" fill="#2845b5" fill-opacity="0.8"/>
<rect x="53.9" y="186.4" width="0.75" height="0.75" fill="#2845b5" fill-opacity="0.8"/>
<rect x="59.2" y="179.2" width="0.75" height="0.75" fill="#2845b5" fill-opacity="0.8"/>
<rect x="53.5" y="190.8" width="0.75" height="0.75" fill="#2946b6" fill-opacity="0.8"/>
<rect x="60.8" y="180.5" width="0.75" height="0.75" fill="#2946b6" fill-opacity="0.8"/>
<rect x="61.0" y="180.7" width="0.75" height="0.75" fill="#2946b6" fill-opacity="0.8"/>
<rect x="60.6" y="180.3" width="0.75" height="0.75" fill="#2946b6" fill-opacity="0.8"/>
<rect x="59.5" y="194.3" width="0.75" height="0.75" fill="#2946b6" fill-opacity="0.8"/>
<rect x="52.8" y="184.7" width="0.75" height="0.75" fill="#2946b6" fill-opacity="0.8"/>
<rect x="53.6" y="190.9" width="0.75" height="0.75" fill="#2946b6" fill-opacity="0.8"/>
<rect x="53.9" y="186.0" width="0.75" height="0.75" fill="#2946b6" fill-opacity="0.8"/>
<rect x="54.0" y="186.1" width="0.75" height="0.75" fill="#2947b6" fill-opacity="0.8"/>
<rect x="61.0" y="180.8" width="0.75" height="0.75" fill="#2947b6" fill-opacity="0.8"/>
<rect x="57.4" y="194.1" width="0.75" height="0.75" fill="#2948b6" fill-opacity="0.8"/>
<rect x="53.4" y="185.2" width="0.75" height="0.75" fill="#2948b6" fill-opacity="0.8"/>
<rect x="63.5" y="184.6" width="0.75" height="0.75" fill="#2948b6" fill-opacity="0.8"/>
<rect x="49.8" y="178.9" width="0.75" height="0.75" fill="#2948b6" fill-opacity="0.8"/>
<rect x="49.5" y="179.4" width="0.75" height="0.75" fill="#2948b6" fill-opacity="0.8"/>
<rect x="57.3" y="194.0" width="0.75" height="0.75" fill="#2949b6" fill-opacity="0.8"/>
<rect x="60.2" y="194.2" width="0.75" height="0.75" fill="#2949b6" fill-opacity="0.8"/>
<rect x="65.2" y="186.8" width="0.75" height="0.75" fill="#2949b6" fill-opacity="0.8"/>
<rect x="50.7" y="178.2" width="0.75" height="0.75" fill="#2949b6" fill-opacity="0.8"/>
<rect x="57.9" y="178.7" width="0.75" height="0.75" fill="#2949b6" fill-opacity="0.8"/>
<rect x="50.3" y="178.5" width="0.75" height="0.75" fill="#294ab6" fill-opacity="0.8"/>
<rect x="64.6" y="186.1" width="0.75" height="0.75" fill="#294ab6" fill-opacity="0.8"/>
<rect x="64.8" y="191.9" width="0.75" height="0.75" fill="#294ab6" fill-opacity="0.8"/>
<rect x="49.9" y="179.0" width="0.75" height="0.75" fill="#294ab6" fill-opacity="0.8"/>
<rect x="55.5" y="193.2" width="0.75" height="0.75" fill="#294bb7" fill-opacity="0.8"/>
<rect x="52.9" y="184.5" width="0.75" height="0.75" fill="#294bb7" fill-opacity="0.8"/>
<rect x="57.0" y="193.9" width="0.75" height="0.75" fill="#294bb7" fill-opacity="0.8"/>
<rect x="58.9" y="179.2" width="0.75" height="0.75" fill="#294bb7" fill-opacity="0.8"/>
<rect x="60.0" y="194.2" width="0.75" height="0.75" fill="#294bb7" fill-opacity="0.8"/>
<rect x="65.9" y="189.4" width="0.75" height="0.75" fill="#294cb7" fill-opacity="0.8"/>
<rect x="54.4" y="192.1" width="0.75" height="0.75" fill="#294cb7" fill-opacity="0.8"/>
<rect x="54.5" y="177.8" width="0.75" height="0.75" fill="#294cb7" fill-opacity="0.8"/>
<rect x="65.8" y="189.9" width="0.75" height="0.75" fill="#294db7" fill-opacity="0.8"/>
<rect x="58.4" y="179.0" width="0.75" height="0.75" fill="#294db7" fill-opacity="0.8"/>
<rect x="61.2" y="181.3" width="0.75" height="0.75" fill="#294eb7" fill-opacity="0.8"/>
<rect x="50.9" y="178.2" width="0.75" height="0.75" fill="#294eb7" fill-opacity="0.8"/>
<rect x="61.1" y="181.3" width="0.75" height="0.75" fill="#294eb7" fill-opacity="0.8"/>
<rect x="54.4" y="187.2" width="0.75" height="0.75" fill="#294eb7" fill-opacity="0.8"/>
<rect x="54.3" y="177.8" width="0.75" height="0.75" fill="#294eb7" fill-opacity="0.8"/>
<rect x="53.9" y="185.3" width="0.75" height="0.75" fill="#294eb7" fill-opacity="0.8"/>
<rect x="58.8" y="179.3" width="0.75" height="0.75" fill="#294eb7" fill-opacity="0.8"/>
<rect x="52.0" y="183.6" width="0.75" height="0.75" fill="#294fb7" fill-opacity="0.8"/>
<rect x="53.9" y="189.0" width="0.75" height="0.75" fill="#294fb7" fill-opacity="0.8"/>
<rect x="62.2" y="193.5" width="0.75" height="0.75" fill="#294fb7" fill-opacity="0.8"/>
<rect x="65.5" y="187.7" width="0.75" height="0.75" fill="#294fb7" fill-opacity="0.8"/>
<rect x="62.7" y="184.0" width="0.75" height="0.75" fill="#294fb7" fill-opacity="0.8"/>
<rect x="53.8" y="190.0" width="0.75" height="0.75" fill="#2a50b8" fill-opacity="0.8"/>
<rect x="54.4" y="185.8" width="0.75" height="0.75" fill="#2a50b8" fill-opacity="0.8"/>
<rect x="63.3" y="193.0" width="0.75" height="0.75" fill="#2a50b8" fill-opacity="0.8"/>
<rect x="62.4" y="183.7" width="0.75" height="0.75" fill="#2a50b8" fill-opacity="0.8"/>
<rect x="64.3" y="186.1" width="0.75" height="0.75" fill="#2a50b8" fill-opacity="0.8"/>
<rect x="51.1" y="182.7" width="0.75" height="0.75" fill="#2a51b8" fill-opacity="0.8"/>
<rect x="51.5" y="178.1" width="0.75" height="0.75" fill="#2a51b8" fill-opacity="0.8"/>
<rect x="64.5" y="186.3" width="0.75" height="0.75" fill="#2a51b8" fill-opacity="0.8"/>
<rect x="53.8" y="177.9" width="0.75" height="0.75" fill="#2a51b8" fill-opacity="0.8"/>
<rect x="53.7" y="184.9" width="0.75" height="0.75" fill="#2a52b8" fill-opacity="0.8"/>
<rect x="50.7" y="178.6" width="0.75" height="0.75" fill="#2a52b8" fill-opacity="0.8"/>
<rect x="50.1" y="181.2" width="0.75" height="0.75" fill="#2a52b8" fill-opacity="0.8"/>
<rect x="58.7" y="194.0" width="0.75" height="0.75" fill="#2a52b8" fill-opacity="0.8"/>
<rect x="62.0" y="183.1" width="0.75" height="0.75" fill="#2a52b8" fill-opacity="0.8"/>
<rect x="52.6" y="177.9" width="0.75" height="0.75" fill="#2a53b8" fill-opacity="0.8"/>
<rect x="65.5" y="190.0" width="0.75" height="0.75" fill="#2a53b8" fill-opacity="0.8"/>
<rect x="63.0" y="184.7" width="0.75" height="0.75" fill="#2a54b8" fill-opacity="0.8"/>
<rect x="62.9" y="193.1" width="0.75" height="0.75" fill="#2a54b8" fill-opacity="0.8"/>
<rect x="54.7" y="187.0" width="0.75" height="0.75" fill="#2a54b8" fill-opacity="0.8"/>
<rect x="50.4" y="178.9" width="0.75" height="0.75" fill="#2a54b8" fill-opacity="0.8"/>
<rect x="64.6" y="186.5" width="0.75" height="0.75" fill="#2a54b8" fill-opacity="0.8"/>
<rect x="54.9" y="192.3" width="0.75" height="0.75" fill="#2a54b8" fill-opacity="0.8"/>
<rect x="50.7" y="182.1" width="0.75" height="0.75" fill="#2a54b8" fill-opacity="0.8"/>
<rect x="64.1" y="186.0" width="0.75" height="0.75" fill="#2a55b9" fill-opacity="0.8"/>
<rect x="54.1" y="178.0" width="0.75" height="0.75" fill="#2a55b9" fill-opacity="0.8"/>
<rect x="56.9" y="193.6" width="0.75" height="0.75" fill="#2a55b9" fill-opacity="0.8"/>
<rect x="54.5" y="188.0" width="0.75" height="0.75" fill="#2a56b9" fill-opacity="0.8"/>
<rect x="58.2" y="179.2" width="0.75" height="0.75" fill="#2a56b9" fill-opacity="0.8"/>
<rect x="60.3" y="193.8" width="0.75" height="0.75" fill="#2a57b9" fill-opacity="0.8"/>
<rect x="55.9" y="193.1" width="0.75" height="0.75" fill="#2a57b9" fill-opacity="0.8"/>
<rect x="54.7" y="187.5" width="0.75" height="0.75" fill="#2a58b9" fill-opacity="0.8"/>
<rect x="53.8" y="178.0" width="0.75" height="0.75" fill="#2a58b9" fill-opacity="0.8"/>
<rect x="62.0" y="183.6" width="0.75" height="0.75" fill="#2a58b9" fill-opacity="0.8"/>
<rect x="50.6" y="179.0" width="0.75" height="0.75" fill="#2a58b9" fill-opacity="0.8"/>
<rect x="64.3" y="186.4" width="0.75" height="0.75" fill="#2a58b9" fill-opacity="0.8"/>
<rect x="50.1" y="180.3" width="0.75" height="0.75" fill="#2a58b9" fill-opacity="0.8"/>
<rect x="55.3" y="178.2" width="0.75" height="0.75" fill="#2a58b9" fill-opacity="0.8"/>
<rect x="54.9" y="187.2" width="0.75" height="0.75" fill="#2a58b9" fill-opacity="0.8"/>
<rect x="64.7" y="191.4" width="0.75" height="0.75" fill="#2a58b9" fill-opacity="0.8"/>
<rect x="62.2" y="193.3" width="0.75" height="0.75" fill="#2a59b9" fill-opacity="0.8"/>
<rect x="50.2" y="179.9" width="0.75" height="0.75" fill="#2a59b9" fill-opacity="0.8"/>
<rect x="62.4" y="184.3" width="0.75" height="0.75" fill="#2a59b9" fill-opacity="0.8"/>
<rect x="55.0" y="186.1" width="0.75" height="0.75" fill="#2a59b9" fill-opacity="0.8"/>
<rect x="51.1" y="178.6" width="0.75" height="0.75" fill="#2b5aba" fill-opacity="0.8"/>
<rect x="61.2" y="182.2" width="0.75" height="0.75" fill="#2b5aba" fill-opacity="0.8"/>
<rect x="51.3" y="178.5" width="0.75" height="0.75" fill="#2b5bba" fill-opacity="0.8"/>
<rect x="54.8" y="187.7" width="0.75" height="0.75" fill="#2b5bba" fill-opacity="0.8"/>
<rect x="59.2" y="180.0" width="0.75" height="0.75" fill="#2b5bba" fill-opacity="0.8"/>
<rect x="54.9" y="185.6" width="0.75" height="0.75" fill="#2b5cba" fill-opacity="0.8"/>
<rect x="58.9" y="193.8" width="0.75" height="0.75" fill="#2b5cba" fill-opacity="0.8"/>
<rect x="51.7" y="182.8" width="0.75" height="0.75" fill="#2b5cba" fill-opacity="0.8"/>
<rect x="58.5" y="179.5" width="0.75" height="0.75" fill="#2b5cba" fill-opacity="0.8"/>
<rect x="59.4" y="180.2" width="0.75" height="0.75" fill="#2b5cba" fill-opacity="0.8"/>
<rect x="53.7" y="178.1" width="0.75" height="0.75" fill="#2b5cba" fill-opacity="0.8"/>
<rect x="55.1" y="185.8" width="0.75" height="0.75" fill="#2b5dba" fill-opacity="0.8"/>
<rect x="57.8" y="179.2" width="0.75" height="0.75" fill="#2b5dba" fill-opacity="0.8"/>
<rect x="65.3" y="188.5" width="0.75" height="0.75" fill="#2b5dba" fill-opacity="0.8"/>
<rect x="55.5" y="192.5" width="0.75" height="0.75" fill="#2b5dba" fill-opacity="0.8"/>
<rect x="55.1" y="185.8" width="0.75" height="0.75" fill="#2b5dba" fill-opacity="0.8"/>
<rect x="50.4" y="179.6" width="0.75" height="0.75" fill="#2b5dba" fill-opacity="0.8"/>
<rect x="52.6" y="183.5" width="0.75" height="0.75" fill="#2b5dba" fill-opacity="0.8"/>
<rect x="54.0" y="184.6" width="0.75" height="0.75" fill="#2b5eba" fill-opacity="0.8"/>
<rect x="51.7" y="182.8" width="0.75" height="0.75" fill="#2b5eba" fill-opacity="0.8"/>
<rect x="60.1" y="193.7" width="0.75" height="0.75" fill="#2b5eba" fill-opacity="0.8"/>
<rect x="54.7" y="191.4" width="0.75" height="0.75" fill="#2b5eba" fill-opacity="0.8"/>
<rect x="51.2" y="178.8" width="0.75" height="0.75" fill="#2b5fbb" fill-opacity="0.8"/>
<rect x="51.4" y="178.6" width="0.75" height="0.75" fill="#2b5fbb" fill-opacity="0.8"/>
<rect x="54.3" y="178.2" width="0.75" height="0.75" fill="#2b5fbb" fill-opacity="0.8"/>
<rect x="60.8" y="181.9" width="0.75" height="0.75" fill="#2b5fbb" fill-opacity="0.8"/>
<rect x="54.9" y="188.1" width="0.75" height="0.75" fill="#2b5fbb" fill-opacity="0.8"/>
<rect x="52.3" y="183.2" width="0.75" height="0.75" fill="#2b60bb" fill-opacity="0.8"/>
<rect x="62.0" y="184.3" width="0.75" height="0.75" fill="#2b60bb" fill-opacity="0.8"/>
<rect x="53.3" y="178.2" width="0.75" height="0.75" fill="#2b61bb" fill-opacity="0.8"/>
<rect x="51.0" y="181.7" width="0.75" height="0.75" fill="#2b61bb" fill-opacity="0.8"/>
<rect x="59.5" y="193.7" width="0.75" height="0.75" fill="#2b61bb" fill-opacity="0.8"/>
<rect x="61.5" y="183.5" width="0.75" height="0.75" fill="#2b61bb" fill-opacity="0.8"/>
<rect x="62.4" y="184.9" width="0.75" height="0.75" fill="#2b61bb" fill-opacity="0.8"/>
<rect x="58.1" y="179.5" width="0.75" height="0.75" fill="#2b62bb" fill-opacity="0.8"/>
<rect x="51.5" y="182.4" width="0.75" height="0.75" fill="#2b62bb" fill-opacity="0.8"/>
<rect x="55.3" y="187.1" width="0.75" height="0.75" fill="#2b62bb" fill-opacity="0.8"/>
<rect x="62.2" y="184.7" width="0.75" height="0.75" fill="#2b62bb" fill-opacity="0.8"/>
<rect x="53.8" y="184.2" width="0.75" height="0.75" fill="#2b63bb" fill-opacity="0.8"/>
<rect x="54.3" y="184.5" width="0.75" height="0.75" fill="#2b63bb" fill-opacity="0.8"/>
<rect x="57.3" y="193.3" width="0.75" height="0.75" fill="#2c64bc" fill-opacity="0.8"/>
<rect x="59.7" y="193.6" width="0.75" height="0.75" fill="#2c64bc" fill-opacity="0.8"/>
<rect x="53.2" y="183.7" width="0.75" height="0.75" fill="#2c64bc" fill-opacity="0.8"/>
<rect x="54.9" y="188.4" width="0.75" height="0.75" fill="#2c64bc" fill-opacity="0.8"/>
<rect x="55.5" y="185.7" width="0.75" height="0.75" fill="#2c65bc" fill-opacity="0.8"/>
<rect x="54.6" y="189.6" width="0.75" height="0.75" fill="#2c65bc" fill-opacity="0.8"/>
<rect x="59.2" y="193.6" width="0.75" height="0.75" fill="#2c65bc" fill-opacity="0.8"/>
<rect x="52.0" y="182.7" width="0.75" height="0.75" fill="#2c66bc" fill-opacity="0.8"/>
<rect x="64.1" y="191.6" width="0.75" height="0.75" fill="#2c66bc" fill-opacity="0.8"/>
<rect x="55.4" y="185.4" width="0.75" height="0.75" fill="#2c66bc" fill-opacity="0.8"/>
<rect x="65.0" y="190.0" width="0.75" height="0.75" fill="#2c66bc" fill-opacity="0.8"/>
<rect x="62.4" y="185.2" width="0.75" height="0.75" fill="#2c67bc" fill-opacity="0.8"/>
<rect x="55.6" y="192.2" width="0.75" height="0.75" fill="#2c67bc" fill-opacity="0.8"/>
<rect x="54.6" y="184.6" width="0.75" height="0.75" fill="#2c67bc" fill-opacity="0.8"/>
<rect x="56.7" y="193.0" width="0.75" height="0.75" fill="#2c67bc" fill-opacity="0.8"/>
<rect x="54.7" y="189.8" width="0.75" height="0.75" fill="#2c67bc" fill-opacity="0.8"/>
<rect x="52.6" y="183.2" width="0.75" height="0.75" fill="#2c68bc" fill-opacity="0.8"/>
<rect x="55.2" y="191.5" width="0.75" height="0.75" fill="#2c69bd" fill-opacity="0.8"/>
<rect x="55.6" y="185.3" width="0.75" height="0.75" fill="#2c69bd" fill-opacity="0.8"/>
<rect x="58.0" y="179.6" width="0.75" height="0.75" fill="#2c69bd" fill-opacity="0.8"/>
<rect x="52.5" y="183.0" width="0.75" height="0.75" fill="#2c6abd" fill-opacity="0.8"/>
<rect x="54.8" y="190.4" width="0.75" height="0.75" fill="#2c6abd" fill-opacity="0.8"/>
<rect x="63.0" y="192.4" width="0.75" height="0.75" fill="#2c6abd" fill-opacity="0.8"/>
<rect x="64.2" y="191.4" width="0.75" height="0.75" fill="#2c6bbd" fill-opacity="0.8"/>
<rect x="63.6" y="191.9" width="0.75" height="0.75" fill="#2c6bbd" fill-opacity="0.8"/>
<rect x="63.2" y="192.3" width="0.75" height="0.75" fill="#2c6bbd" fill-opacity="0.8"/>
<rect x="54.6" y="184.4" width="0.75" height="0.75" fill="#2c6bbd" fill-opacity="0.8"/>
<rect x="55.6" y="185.3" width="0.75" height="0.75" fill="#2c6bbd" fill-opacity="0.8"/>
<rect x="51.6" y="182.1" width="0.75" height="0.75" fill="#2c6bbd" fill-opacity="0.8"/>
<rect x="64.9" y="189.0" width="0.75" height="0.75" fill="#2c6cbd" fill-opacity="0.8"/>
<rect x="54.8" y="189.8" width="0.75" height="0.75" fill="#2c6cbd" fill-opacity="0.8"/>
<rect x="58.0" y="179.7" width="0.75" height="0.75" fill="#2c6cbd" fill-opacity="0.8"/>
<rect x="64.6" y="190.7" width="0.75" height="0.75" fill="#2c6cbd" fill-opacity="0.8"/>
<rect x="61.5" y="193.1" width="0.75" height="0.75" fill="#2c6cbd" fill-opacity="0.8"/>
<rect x="62.1" y="192.9" width="0.75" height="0.75" fill="#2c6cbd" fill-opacity="0.8"/>
<rect x="55.6" y="187.5" width="0.75" height="0.75" fill="#2c6dbd" fill-opacity="0.8"/>
<rect x="56.8" y="192.9" width="0.75" height="0.75" fill="#2c6dbd" fill-opacity="0.8"/>
<rect x="57.7" y="193.2" width="0.75" height="0.75" fill="#2c6dbd" fill-opacity="0.8"/>
<rect x="58.3" y="179.9" width="0.75" height="0.75" fill="#2d6ebd" fill-opacity="0.8"/>
<rect x="63.2" y="192.2" width="0.75" height="0.75" fill="#2d6ebd" fill-opacity="0.8"/>
<rect x="64.7" y="188.4" width="0.75" height="0.75" fill="#2d6ebd" fill-opacity="0.8"/>
<rect x="61.6" y="184.9" width="0.75" height="0.75" fill="#2d70bc" fill-opacity="0.8"/>
<rect x="64.8" y="189.0" width="0.75" height="0.75" fill="#2d70bc" fill-opacity="0.8"/>
<rect x="59.8" y="181.3" width="0.75" height="0.75" fill="#2d70bc" fill-opacity="0.8"/>
<rect x="53.9" y="178.6" width="0.75" height="0.75" fill="#2d70bb" fill-opacity="0.8"/>
<rect x="55.7" y="185.0" width="0.75" height="0.75" fill="#2d71bb" fill-opacity="0.8"/>
<rect x="57.0" y="192.9" width="0.75" height="0.75" fill="#2d71bb" fill-opacity="0.8"/>
<rect x="63.3" y="192.1" width="0.75" height="0.75" fill="#2d71bb" fill-opacity="0.8"/>
<rect x="64.3" y="191.0" width="0.75" height="0.75" fill="#2d71bb" fill-opacity="0.8"/>
<rect x="55.0" y="189.9" width="0.75" height="0.75" fill="#2d71ba" fill-opacity="0.8"/>
<rect x="52.6" y="182.9" width="0.75" height="0.75" fill="#2d72ba" fill-opacity="0.8"/>
<rect x="55.8" y="185.1" width="0.75" height="0.75" fill="#2d72ba" fill-opacity="0.8"/>
<rect x="64.7" y="188.9" width="0.75" height="0.75" fill="#2d72ba" fill-opacity="0.8"/>
<rect x="55.0" y="178.7" width="0.75" height="0.75" fill="#2d72ba" fill-opacity="0.8"/>
<rect x="60.6" y="183.0" width="0.75" height="0.75" fill="#2d72ba" fill-opacity="0.8"/>
<rect x="55.4" y="188.3" width="0.75" height="0.75" fill="#2d73b9" fill-opacity="0.8"/>
<rect x="60.0" y="181.8" width="0.75" height="0.75" fill="#2d73b9" fill-opacity="0.8"/>
<rect x="60.6" y="183.3" width="0.75" height="0.75" fill="#2d73b9" fill-opacity="0.8"/>
<rect x="56.3" y="185.8" width="0.75" height="0.75" fill="#2d73b9" fill-opacity="0.8"/>
<rect x="61.7" y="185.2" width="0.75" height="0.75" fill="#2d73b9" fill-opacity="0.8"/>
<rect x="60.3" y="193.3" width="0.75" height="0.75" fill="#2d73b9" fill-opacity="0.8"/>
<rect x="54.9" y="178.7" width="0.75" height="0.75" fill="#2d73b9" fill-opacity="0.8"/>
<rect x="56.4" y="185.9" width="0.75" height="0.75" fill="#2d73b9" fill-opacity="0.8"/>
<rect x="55.9" y="179.0" width="0.75" height="0.75" fill="#2d74b9" fill-opacity="0.8"/>
<rect x="64.4" y="190.6" width="0.75" height="0.75" fill="#2d74b8" fill-opacity="0.8"/>
<rect x="64.7" y="189.2" width="0.75" height="0.75" fill="#2d74b8" fill-opacity="0.8"/>
<rect x="62.2" y="185.7" width="0.75" height="0.75" fill="#2d75b8" fill-opacity="0.8"/>
<rect x="64.6" y="188.5" width="0.75" height="0.75" fill="#2d75b8" fill-opacity="0.8"/>
<rect x="62.1" y="192.7" width="0.75" height="0.75" fill="#2d75b7" fill-opacity="0.8"/>
<rect x="62.4" y="185.8" width="0.75" height="0.75" fill="#2d76b6" fill-opacity="0.8"/>
<rect x="62.0" y="185.5" width="0.75" height="0.75" fill="#2d76b6" fill-opacity="0.8"/>
<rect x="57.4" y="192.9" width="0.75" height="0.75" fill="#2d77b6" fill-opacity="0.8"/>
<rect x="64.2" y="191.0" width="0.75" height="0.75" fill="#2d77b6" fill-opacity="0.8"/>
<rect x="60.6" y="183.8" width="0.75" height="0.75" fill="#2d77b6" fill-opacity="0.8"/>
<rect x="59.7" y="181.5" width="0.75" height="0.75" fill="#2e78b5" fill-opacity="0.8"/>
<rect x="51.3" y="180.5" width="0.75" height="0.75" fill="#2e78b5" fill-opacity="0.8"/>
<rect x="58.8" y="193.2" width="0.75" height="0.75" fill="#2e78b5" fill-opacity="0.8"/>
<rect x="60.5" y="193.1" width="0.75" height="0.75" fill="#2e79b4" fill-opacity="0.8"/>
<rect x="51.6" y="179.6" width="0.75" height="0.75" fill="#2e79b4" fill-opacity="0.8"/>
<rect x="58.3" y="193.1" width="0.75" height="0.75" fill="#2e79b4" fill-opacity="0.8"/>
<rect x="58.9" y="193.2" width="0.75" height="0.75" fill="#2e7ab4" fill-opacity="0.8"/>
<rect x="55.2" y="190.4" width="0.75" height="0.75" fill="#2e7ab4" fill-opacity="0.8"/>
<rect x="53.1" y="183.0" width="0.75" height="0.75" fill="#2e7ab3" fill-opacity="0.8"/>
<rect x="60.9" y="184.7" width="0.75" height="0.75" fill="#2e7ab3" fill-opacity="0.8"/>
<rect x="56.6" y="185.5" width="0.75" height="0.75" fill="#2e7ab3" fill-opacity="0.8"/>
<rect x="59.4" y="181.3" width="0.75" height="0.75" fill="#2e7ab3" fill-opacity="0.8"/>
<rect x="64.0" y="187.6" width="0.75" height="0.75" fill="#2e7ab3" fill-opacity="0.8"/>
<rect x="55.8" y="191.6" width="0.75" height="0.75" fill="#2e7bb3" fill-opacity="0.8"/>
<rect x="57.8" y="179.9" width="0.75" height="0.75" fill="#2e7bb3" fill-opacity="0.8"/>
<rect x="61.1" y="185.0" width="0.75" height="0.75" fill="#2e7bb3" fill-opacity="0.8"/>
<rect x="64.6" y="189.1" width="0.75" height="0.75" fill="#2e7bb2" fill-opacity="0.8"/>
<rect x="64.5" y="189.8" width="0.75" height="0.75" fill="#2e7bb2" fill-opacity="0.8"/>
<rect x="60.1" y="182.7" width="0.75" height="0.75" fill="#2e7cb2" fill-opacity="0.8"/>
<rect x="61.2" y="185.2" width="0.75" height="0.75" fill="#2e7cb2" fill-opacity="0.8"/>
<rect x="57.6" y="179.9" width="0.75" height="0.75" fill="#2e7cb2" fill-opacity="0.8"/>
<rect x="60.0" y="193.1" width="0.75" height="0.75" fill="#2e7cb2" fill-opacity="0.8"/>
<rect x="56.7" y="185.3" width="0.75" height="0.75" fill="#2e7db1" fill-opacity="0.8"/>
<rect x="56.0" y="187.8" width="0.75" height="0.75" fill="#2e7db1" fill-opacity="0.8"/>
<rect x="58.1" y="180.2" width="0.75" height="0.75" fill="#2e7eb0" fill-opacity="0.8"/>
<rect x="51.5" y="180.7" width="0.75" height="0.75" fill="#2e7eb0" fill-opacity="0.8"/>
<rect x="56.8" y="192.4" width="0.75" height="0.75" fill="#2e7eb0" fill-opacity="0.8"/>
<rect x="59.7" y="181.9" width="0.75" height="0.75" fill="#2e7faf" fill-opacity="0.8"/>
<rect x="57.0" y="186.0" width="0.75" height="0.75" fill="#2e7faf" fill-opacity="0.8"/>
<rect x="63.9" y="187.6" width="0.75" height="0.75" fill="#2e7faf" fill-opacity="0.8"/>
<rect x="61.5" y="192.8" width="0.75" height="0.75" fill="#2e7faf" fill-opacity="0.8"/>
<rect x="62.6" y="186.3" width="0.75" height="0.75" fill="#2e80af" fill-opacity="0.8"/>
<rect x="55.5" y="189.2" width="0.75" height="0.75" fill="#2e80af" fill-opacity="0.8"/>
<rect x="59.4" y="181.5" width="0.75" height="0.75" fill="#2e80af" fill-opacity="0.8"/>
<rect x="62.9" y="186.6" width="0.75" height="0.75" fill="#2e80af" fill-opacity="0.8"/>
<rect x="54.2" y="183.6" width="0.75" height="0.75" fill="#2e80af" fill-opacity="0.8"/>
<rect x="60.3" y="184.3" width="0.75" height="0.75" fill="#2e80ae" fill-opacity="0.8"/>
<rect x="63.8" y="187.6" width="0.75" height="0.75" fill="#2e81ae" fill-opacity="0.8"/>
<rect x="52.7" y="182.4" width="0.75" height="0.75" fill="#2e81ae" fill-opacity="0.8"/>
<rect x="62.5" y="192.3" width="0.75" height="0.75" fill="#2e81ae" fill-opacity="0.8"/>
<rect x="64.4" y="189.2" width="0.75" height="0.75" fill="#2f82ad" fill-opacity="0.8"/>
<rect x="63.6" y="187.3" width="0.75" height="0.75" fill="#2f83ac" fill-opacity="0.8"/>
<rect x="56.5" y="184.8" width="0.75" height="0.75" fill="#2f83ac" fill-opacity="0.8"/>
<rect x="64.3" y="188.6" width="0.75" height="0.75" fill="#2f83ac" fill-opacity="0.8"/>
<rect x="56.0" y="188.1" width="0.75" height="0.75" fill="#2f83ac" fill-opacity="0.8"/>
<rect x="61.3" y="185.5" width="0.75" height="0.75" fill="#2f83ac" fill-opacity="0.8"/>
<rect x="55.0" y="183.9" width="0.75" height="0.75" fill="#2f84ac" fill-opacity="0.8"/>
<rect x="52.3" y="182.0" width="0.75" height="0.75" fill="#2f84ac" fill-opacity="0.8"/>
<rect x="63.4" y="187.2" width="0.75" height="0.75" fill="#2f84ac" fill-opacity="0.8"/>
<rect x="64.3" y="189.7" width="0.75" height="0.75" fill="#2f84ab" fill-opacity="0.8"/>
<rect x="60.0" y="184.1" width="0.75" height="0.75" fill="#2f84ab" fill-opacity="0.8"/>
<rect x="55.6" y="190.7" width="0.75" height="0.75" fill="#2f84ab" fill-opacity="0.8"/>
<rect x="57.3" y="185.7" width="0.75" height="0.75" fill="#2f85ab" fill-opacity="0.8"/>
<rect x="54.1" y="183.3" width="0.75" height="0.75" fill="#2f85ab" fill-opacity="0.8"/>
<rect x="59.8" y="183.1" width="0.75" height="0.75" fill="#2f85aa" fill-opacity="0.8"/>
<rect x="61.4" y="185.7" width="0.75" height="0.75" fill="#2f86aa" fill-opacity="0.8"/>
<rect x="57.3" y="185.9" width="0.75" height="0.75" fill="#2f86aa" fill-opacity="0.8"/>
<rect x="58.6" y="180.8" width="0.75" height="0.75" fill="#2f86aa" fill-opacity="0.8"/>
<rect x="59.9" y="193.0" width="0.75" height="0.75" fill="#2f87a9" fill-opacity="0.8"/>
<rect x="55.9" y="184.3" width="0.75" height="0.75" fill="#2f87a9" fill-opacity="0.8"/>
<rect x="54.5" y="179.1" width="0.75" height="0.75" fill="#2f87a9" fill-opacity="0.8"/>
<rect x="58.5" y="192.9" width="0.75" height="0.75" fill="#2f87a9" fill-opacity="0.8"/>
<rect x="59.9" y="184.4" width="0.75" height="0.75" fill="#2f87a9" fill-opacity="0.8"/>
<rect x="56.4" y="179.5" width="0.75" height="0.75" fill="#2f87a9" fill-opacity="0.8"/>
<rect x="56.0" y="191.5" width="0.75" height="0.75" fill="#2f87a9" fill-opacity="0.8"/>
<rect x="57.3" y="179.9" width="0.75" height="0.75" fill="#2f87a9" fill-opacity="0.8"/>
<rect x="62.6" y="192.1" width="0.75" height="0.75" fill="#2f88a9" fill-opacity="0.8"/>
<rect x="55.7" y="189.0" width="0.75" height="0.75" fill="#2f88a8" fill-opacity="0.8"/>
<rect x="55.2" y="183.9" width="0.75" height="0.75" fill="#2f88a8" fill-opacity="0.8"/>
<rect x="62.7" y="192.0" width="0.75" height="0.75" fill="#2f88a8" fill-opacity="0.8"/>
<rect x="57.6" y="185.6" width="0.75" height="0.75" fill="#2f88a8" fill-opacity="0.8"/>
<rect x="60.1" y="185.0" width="0.75" height="0.75" fill="#2f88a8" fill-opacity="0.8"/>
<rect x="51.8" y="180.6" width="0.75" height="0.75" fill="#2f89a8" fill-opacity="0.8"/>
<rect x="51.9" y="181.0" width="0.75" height="0.75" fill="#2f89a8" fill-opacity="0.8"/>
<rect x="58.3" y="192.8" width="0.75" height="0.75" fill="#2f89a7" fill-opacity="0.8"/>
<rect x="64.2" y="189.7" width="0.75" height="0.75" fill="#2f89a7" fill-opacity="0.8"/>
<rect x="51.9" y="181.1" width="0.75" height="0.75" fill="#2f89a7" fill-opacity="0.8"/>
<rect x="61.7" y="186.1" width="0.75" height="0.75" fill="#2f8aa7" fill-opacity="0.8"/>
<rect x="61.1" y="192.7" width="0.75" height="0.75" fill="#2f8aa7" fill-opacity="0.8"/>
<rect x="63.9" y="188.1" width="0.75" height="0.75" fill="#2f8aa7" fill-opacity="0.8"/>
<rect x="63.0" y="186.9" width="0.75" height="0.75" fill="#2f8aa7" fill-opacity="0.8"/>
<rect x="52.0" y="181.1" width="0.75" height="0.75" fill="#2f8ba6" fill-opacity="0.8"/>
<rect x="55.8" y="184.1" width="0.75" height="0.75" fill="#2f8ba6" fill-opacity="0.8"/>
<rect x="56.3" y="188.0" width="0.75" height="0.75" fill="#2f8ba6" fill-opacity="0.8"/>
<rect x="57.3" y="186.6" width="0.75" height="0.75" fill="#2f8ba6" fill-opacity="0.8"/>
<rect x="63.9" y="190.6" width="0.75" height="0.75" fill="#2f8ba6" fill-opacity="0.8"/>
<rect x="55.2" y="179.2" width="0.75" height="0.75" fill="#308ca5" fill-opacity="0.8"/>
<rect x="51.9" y="180.8" width="0.75" height="0.75" fill="#308ca5" fill-opacity="0.8"/>
<rect x="61.0" y="185.7" width="0.75" height="0.75" fill="#308ca5" fill-opacity="0.8"/>
<rect x="52.2" y="179.8" width="0.75" height="0.75" fill="#308ca5" fill-opacity="0.8"/>
<rect x="56.9" y="187.1" width="0.75" height="0.75" fill="#308ca5" fill-opacity="0.8"/>
<rect x="52.9" y="182.3" width="0.75" height="0.75" fill="#308ca5" fill-opacity="0.8"/>
<rect x="56.8" y="187.3" width="0.75" height="0.75" fill="#308ca5" fill-opacity="0.8"/>
<rect x="61.6" y="192.5" width="0.75" height="0.75" fill="#308ca5" fill-opacity="0.8"/>
<rect x="55.8" y="190.7" width="0.75" height="0.75" fill="#308da5" fill-opacity="0.8"/>
<rect x="59.5" y="184.4" width="0.75" height="0.75" fill="#308da5" fill-opacity="0.8"/>
<rect x="56.1" y="188.4" width="0.75" height="0.75" fill="#308da5" fill-opacity="0.8"/>
<rect x="59.8" y="185.0" width="0.75" height="0.75" fill="#308da5" fill-opacity="0.8"/>
<rect x="59.3" y="182.3" width="0.75" height="0.75" fill="#308da4" fill-opacity="0.8"/>
<rect x="53.9" y="179.2" width="0.75" height="0.75" fill="#308da4" fill-opacity="0.8"/>
<rect x="52.0" y="180.8" width="0.75" height="0.75" fill="#308da4" fill-opacity="0.8"/>
<rect x="52.0" y="180.4" width="0.75" height="0.75" fill="#308da4" fill-opacity="0.8"/>
<rect x="52.5" y="179.6" width="0.75" height="0.75" fill="#308da4" fill-opacity="0.8"/>
<rect x="57.0" y="184.5" width="0.75" height="0.75" fill="#308ea4" fill-opacity="0.8"/>
<rect x="55.8" y="190.8" width="0.75" height="0.75" fill="#308ea4" fill-opacity="0.8"/>
<rect x="56.8" y="187.4" width="0.75" height="0.75" fill="#308ea4" fill-opacity="0.8"/>
<rect x="61.2" y="192.6" width="0.75" height="0.75" fill="#308ea4" fill-opacity="0.8"/>
<rect x="52.0" y="180.4" width="0.75" height="0.75" fill="#308ea4" fill-opacity="0.8"/>
<rect x="58.3" y="192.7" width="0.75" height="0.75" fill="#308ea3" fill-opacity="0.8"/>
<rect x="60.2" y="185.4" width="0.75" height="0.75" fill="#308ea3" fill-opacity="0.8"/>
<rect x="62.3" y="192.1" width="0.75" height="0.75" fill="#308ea3" fill-opacity="0.8"/>
<rect x="62.5" y="186.7" width="0.75" height="0.75" fill="#308ea3" fill-opacity="0.8"/>
<rect x="54.3" y="179.2" width="0.75" height="0.75" fill="#308fa3" fill-opacity="0.8"/>
<rect x="58.2" y="185.4" width="0.75" height="0.75" fill="#308fa3" fill-opacity="0.8"/>
<rect x="63.4" y="191.2" width="0.75" height="0.75" fill="#308fa3" fill-opacity="0.8"/>
<rect x="58.1" y="184.9" width="0.75" height="0.75" fill="#308fa2" fill-opacity="0.8"/>
<rect x="59.2" y="184.3" width="0.75" height="0.75" fill="#308fa2" fill-opacity="0.8"/>
<rect x="55.9" y="190.8" width="0.75" height="0.75" fill="#308fa2" fill-opacity="0.8"/>
<rect x="56.6" y="187.7" width="0.75" height="0.75" fill="#3090a2" fill-opacity="0.8"/>
<rect x="59.3" y="182.6" width="0.75" height="0.75" fill="#3090a2" fill-opacity="0.8"/>
<rect x="64.1" y="189.0" width="0.75" height="0.75" fill="#3090a2" fill-opacity="0.8"/>
<rect x="59.0" y="184.8" width="0.75" height="0.75" fill="#3090a2" fill-opacity="0.8"/>
<rect x="59.2" y="182.2" width="0.75" height="0.75" fill="#3091a1" fill-opacity="0.8"/>
<rect x="57.8" y="192.6" width="0.75" height="0.75" fill="#3091a1" fill-opacity="0.8"/>
<rect x="55.1" y="179.3" width="0.75" height="0.75" fill="#3091a1" fill-opacity="0.8"/>
<rect x="52.2" y="180.1" width="0.75" height="0.75" fill="#3091a1" fill-opacity="0.8"/>
<rect x="58.5" y="185.5" width="0.75" height="0.75" fill="#3091a1" fill-opacity="0.8"/>
<rect x="58.4" y="184.6" width="0.75" height="0.75" fill="#3092a0" fill-opacity="0.8"/>
<rect x="52.8" y="182.0" width="0.75" height="0.75" fill="#3092a0" fill-opacity="0.8"/>
<rect x="52.8" y="179.6" width="0.75" height="0.75" fill="#3092a0" fill-opacity="0.8"/>
<rect x="56.5" y="179.8" width="0.75" height="0.75" fill="#3092a0" fill-opacity="0.8"/>
<rect x="54.2" y="179.3" width="0.75" height="0.75" fill="#3092a0" fill-opacity="0.8"/>
<rect x="63.9" y="188.5" width="0.75" height="0.75" fill="#3092a0" fill-opacity="0.8"/>
<rect x="53.7" y="182.7" width="0.75" height="0.75" fill="#3092a0" fill-opacity="0.8"/>
<rect x="54.2" y="183.0" width="0.75" height="0.75" fill="#3093a0" fill-opacity="0.8"/>
<rect x="57.9" y="184.5" width="0.75" height="0.75" fill="#30939f" fill-opacity="0.8"/>
<rect x="58.6" y="181.4" width="0.75" height="0.75" fill="#30939f" fill-opacity="0.8"/>
<rect x="52.2" y="180.4" width="0.75" height="0.75" fill="#30949f" fill-opacity="0.8"/>
<rect x="54.5" y="183.2" width="0.75" height="0.75" fill="#30949f" fill-opacity="0.8"/>
<rect x="58.4" y="184.4" width="0.75" height="0.75" fill="#30949e" fill-opacity="0.8"/>
<rect x="59.3" y="185.5" width="0.75" height="0.75" fill="#30949e" fill-opacity="0.8"/>
<rect x="60.3" y="192.7" width="0.75" height="0.75" fill="#30949e" fill-opacity="0.8"/>
<rect x="62.3" y="186.7" width="0.75" height="0.75" fill="#30949e" fill-opacity="0.8"/>
<rect x="52.6" y="181.6" width="0.75" height="0.75" fill="#30959e" fill-opacity="0.8"/>
<rect x="62.5" y="186.9" width="0.75" height="0.75" fill="#30959e" fill-opacity="0.8"/>
<rect x="60.4" y="185.8" width="0.75" height="0.75" fill="#30959e" fill-opacity="0.8"/>
<rect x="56.8" y="187.6" width="0.75" height="0.75" fill="#30959e" fill-opacity="0.8"/>
<rect x="59.4" y="185.6" width="0.75" height="0.75" fill="#30959e" fill-opacity="0.8"/>
<rect x="59.0" y="182.1" width="0.75" height="0.75" fill="#30959e" fill-opacity="0.8"/>
<rect x="63.9" y="190.0" width="0.75" height="0.75" fill="#31969d" fill-opacity="0.8"/>
<rect x="64.0" y="189.8" width="0.75" height="0.75" fill="#31969d" fill-opacity="0.8"/>
<rect x="58.5" y="192.7" width="0.75" height="0.75" fill="#31969d" fill-opacity="0.8"/>
<rect x="58.1" y="192.6" width="0.75" height="0.75" fill="#31969d" fill-opacity="0.8"/>
<rect x="59.1" y="185.7" width="0.75" height="0.75" fill="#31969d" fill-opacity="0.8"/>
<rect x="55.9" y="189.6" width="0.75" height="0.75" fill="#31969d" fill-opacity="0.8"/>
<rect x="53.6" y="182.6" width="0.75" height="0.75" fill="#31969d" fill-opacity="0.8"/>
<rect x="59.6" y="185.7" width="0.75" height="0.75" fill="#31979d" fill-opacity="0.8"/>
<rect x="59.1" y="182.7" width="0.75" height="0.75" fill="#31979d" fill-opacity="0.8"/>
<rect x="62.9" y="187.3" width="0.75" height="0.75" fill="#31979c" fill-opacity="0.8"/>
<rect x="58.2" y="184.2" width="0.75" height="0.75" fill="#31979c" fill-opacity="0.8"/>
<rect x="61.1" y="186.2" width="0.75" height="0.75" fill="#31979c" fill-opacity="0.8"/>
<rect x="59.0" y="183.4" width="0.75" height="0.75" fill="#31979c" fill-opacity="0.8"/>
<rect x="60.2" y="185.8" width="0.75" height="0.75" fill="#31979c" fill-opacity="0.8"/>
<rect x="59.0" y="182.3" width="0.75" height="0.75" fill="#31979c" fill-opacity="0.8"/>
<rect x="58.8" y="183.8" width="0.75" height="0.75" fill="#31979c" fill-opacity="0.8"/>
<rect x="56.7" y="191.7" width="0.75" height="0.75" fill="#31989c" fill-opacity="0.8"/>
<rect x="58.4" y="186.1" width="0.75" height="0.75" fill="#31989c" fill-opacity="0.8"/>
<rect x="56.3" y="183.9" width="0.75" height="0.75" fill="#31989b" fill-opacity="0.8"/>
<rect x="57.9" y="180.8" width="0.75" height="0.75" fill="#31989b" fill-opacity="0.8"/>
<rect x="52.6" y="181.5" width="0.75" height="0.75" fill="#31989b" fill-opacity="0.8"/>
<rect x="56.1" y="189.0" width="0.75" height="0.75" fill="#31999b" fill-opacity="0.8"/>
<rect x="56.5" y="188.3" width="0.75" height="0.75" fill="#319a9a" fill-opacity="0.8"/>
<rect x="58.7" y="186.0" width="0.75" height="0.75" fill="#319a9a" fill-opacity="0.8"/>
<rect x="58.5" y="183.8" width="0.75" height="0.75" fill="#319a9a" fill-opacity="0.8"/>
<rect x="53.0" y="179.7" width="0.75" height="0.75" fill="#319a9a" fill-opacity="0.8"/>
<rect x="56.6" y="183.9" width="0.75" height="0.75" fill="#319a9a" fill-opacity="0.8"/>
<rect x="58.0" y="184.0" width="0.75" height="0.75" fill="#319a9a" fill-opacity="0.8"/>
<rect x="58.0" y="180.9" width="0.75" height="0.75" fill="#319a9a" fill-opacity="0.8"/>
<rect x="58.9" y="182.3" width="0.75" height="0.75" fill="#319a9a" fill-opacity="0.8"/>
<rect x="55.6" y="183.5" width="0.75" height="0.75" fill="#319a9a" fill-opacity="0.8"/>
<rect x="54.4" y="179.5" width="0.75" height="0.75" fill="#319b99" fill-opacity="0.8"/>
<rect x="55.8" y="183.6" width="0.75" height="0.75" fill="#319b99" fill-opacity="0.8"/>
<rect x="63.4" y="188.0" width="0.75" height="0.75" fill="#319b99" fill-opacity="0.8"/>
<rect x="63.6" y="188.2" width="0.75" height="0.75" fill="#319b99" fill-opacity="0.8"/>
<rect x="62.0" y="186.7" width="0.75" height="0.75" fill="#319b99" fill-opacity="0.8"/>
<rect x="60.7" y="192.5" width="0.75" height="0.75" fill="#319c98" fill-opacity="0.8"/>
<rect x="52.5" y="180.9" width="0.75" height="0.75" fill="#319c98" fill-opacity="0.8"/>
<rect x="58.6" y="183.5" width="0.75" height="0.75" fill="#319c98" fill-opacity="0.8"/>
<rect x="62.3" y="186.9" width="0.75" height="0.75" fill="#319c98" fill-opacity="0.8"/>
<rect x="54.4" y="182.9" width="0.75" height="0.75" fill="#319c98" fill-opacity="0.8"/>
<rect x="58.3" y="186.5" width="0.75" height="0.75" fill="#319d98" fill-opacity="0.8"/>
<rect x="57.4" y="192.1" width="0.75" height="0.75" fill="#319d98" fill-opacity="0.8"/>
<rect x="59.6" y="192.6" width="0.75" height="0.75" fill="#319d98" fill-opacity="0.8"/>
<rect x="53.8" y="179.6" width="0.75" height="0.75" fill="#319d97" fill-opacity="0.8"/>
<rect x="57.8" y="186.9" width="0.75" height="0.75" fill="#319d97" fill-opacity="0.8"/>
<rect x="60.5" y="192.5" width="0.75" height="0.75" fill="#319d97" fill-opacity="0.8"/>
<rect x="54.1" y="179.5" width="0.75" height="0.75" fill="#319d97" fill-opacity="0.8"/>
<rect x="56.3" y="190.9" width="0.75" height="0.75" fill="#319e97" fill-opacity="0.8"/>
<rect x="56.7" y="183.8" width="0.75" height="0.75" fill="#319e97" fill-opacity="0.8"/>
<rect x="56.7" y="188.2" width="0.75" height="0.75" fill="#319e97" fill-opacity="0.8"/>
<rect x="58.2" y="183.7" width="0.75" height="0.75" fill="#319e96" fill-opacity="0.8"/>
<rect x="57.0" y="191.8" width="0.75" height="0.75" fill="#319e96" fill-opacity="0.8"/>
<rect x="53.4" y="179.7" width="0.75" height="0.75" fill="#319e96" fill-opacity="0.8"/>
<rect x="58.4" y="192.5" width="0.75" height="0.75" fill="#319e96" fill-opacity="0.8"/>
<rect x="58.6" y="183.2" width="0.75" height="0.75" fill="#319f96" fill-opacity="0.8"/>
<rect x="57.5" y="183.8" width="0.75" height="0.75" fill="#319f96" fill-opacity="0.8"/>
<rect x="59.2" y="186.1" width="0.75" height="0.75" fill="#319f96" fill-opacity="0.8"/>
<rect x="57.8" y="183.8" width="0.75" height="0.75" fill="#319f96" fill-opacity="0.8"/>
<rect x="58.4" y="181.6" width="0.75" height="0.75" fill="#319f96" fill-opacity="0.8"/>
<rect x="57.4" y="192.1" width="0.75" height="0.75" fill="#319f96" fill-opacity="0.8"/>
<rect x="53.7" y="179.7" width="0.75" height="0.75" fill="#32a095" fill-opacity="0.8"/>
<rect x="57.6" y="187.1" width="0.75" height="0.75" fill="#32a095" fill-opacity="0.8"/>
<rect x="59.6" y="192.6" width="0.75" height="0.75" fill="#32a095" fill-opacity="0.8"/>
<rect x="56.5" y="188.6" width="0.75" height="0.75" fill="#32a095" fill-opacity="0.8"/>
<rect x="63.0" y="187.6" width="0.75" height="0.75" fill="#32a095" fill-opacity="0.8"/>
<rect x="57.3" y="183.8" width="0.75" height="0.75" fill="#32a095" fill-opacity="0.8"/>
<rect x="58.5" y="183.1" width="0.75" height="0.75" fill="#32a095" fill-opacity="0.8"/>
<rect x="63.4" y="188.3" width="0.75" height="0.75" fill="#33a094" fill-opacity="0.8"/>
<rect x="59.9" y="186.2" width="0.75" height="0.75" fill="#33a093" fill-opacity="0.8"/>
<rect x="58.6" y="186.5" width="0.75" height="0.75" fill="#33a093" fill-opacity="0.8"/>
<rect x="59.6" y="192.6" width="0.75" height="0.75" fill="#33a093" fill-opacity="0.8"/>
<rect x="63.7" y="189.0" width="0.75" height="0.75" fill="#33a092" fill-opacity="0.8"/>
<rect x="63.0" y="191.2" width="0.75" height="0.75" fill="#34a092" fill-opacity="0.8"/>
<rect x="53.2" y="181.9" width="0.75" height="0.75" fill="#34a092" fill-opacity="0.8"/>
<rect x="58.1" y="186.8" width="0.75" height="0.75" fill="#34a092" fill-opacity="0.8"/>
<rect x="56.2" y="189.6" width="0.75" height="0.75" fill="#34a092" fill-opacity="0.8"/>
<rect x="54.6" y="182.9" width="0.75" height="0.75" fill="#34a091" fill-opacity="0.8"/>
<rect x="58.5" y="183.0" width="0.75" height="0.75" fill="#34a091" fill-opacity="0.8"/>
<rect x="58.5" y="182.9" width="0.75" height="0.75" fill="#35a090" fill-opacity="0.8"/>
<rect x="60.6" y="186.3" width="0.75" height="0.75" fill="#35a190" fill-opacity="0.8"/>
<rect x="58.5" y="182.1" width="0.75" height="0.75" fill="#35a190" fill-opacity="0.8"/>
<rect x="52.7" y="180.8" width="0.75" height="0.75" fill="#35a190" fill-opacity="0.8"/>
<rect x="54.3" y="182.7" width="0.75" height="0.75" fill="#35a190" fill-opacity="0.8"/>
<rect x="53.1" y="181.6" width="0.75" height="0.75" fill="#35a18f" fill-opacity="0.8"/>
<rect x="57.7" y="187.2" width="0.75" height="0.75" fill="#36a18f" fill-opacity="0.8"/>
<rect x="63.6" y="190.1" width="0.75" height="0.75" fill="#36a18f" fill-opacity="0.8"/>
<rect x="62.9" y="187.7" width="0.75" height="0.75" fill="#36a18f" fill-opacity="0.8"/>
<rect x="62.8" y="187.6" width="0.75" height="0.75" fill="#36a18e" fill-opacity="0.8"/>
<rect x="63.5" y="190.2" width="0.75" height="0.75" fill="#36a18e" fill-opacity="0.8"/>
<rect x="62.8" y="187.6" width="0.75" height="0.75" fill="#36a18e" fill-opacity="0.8"/>
<rect x="60.1" y="186.3" width="0.75" height="0.75" fill="#37a18d" fill-opacity="0.8"/>
<rect x="56.7" y="180.3" width="0.75" height="0.75" fill="#37a18d" fill-opacity="0.8"/>
<rect x="54.8" y="179.7" width="0.75" height="0.75" fill="#37a18d" fill-opacity="0.8"/>
<rect x="57.7" y="183.5" width="0.75" height="0.75" fill="#37a18d" fill-opacity="0.8"/>
<rect x="62.9" y="187.7" width="0.75" height="0.75" fill="#37a18c" fill-opacity="0.8"/>
<rect x="55.1" y="183.0" width="0.75" height="0.75" fill="#37a18c" fill-opacity="0.8"/>
<rect x="59.6" y="186.3" width="0.75" height="0.75" fill="#38a18c" fill-opacity="0.8"/>
<rect x="59.8" y="186.3" width="0.75" height="0.75" fill="#38a18b" fill-opacity="0.8"/>
<rect x="53.8" y="182.3" width="0.75" height="0.75" fill="#38a28b" fill-opacity="0.8"/>
<rect x="53.8" y="179.8" width="0.75" height="0.75" fill="#38a28b" fill-opacity="0.8"/>
<rect x="57.3" y="183.5" width="0.75" height="0.75" fill="#39a28a" fill-opacity="0.8"/>
<rect x="54.6" y="182.8" width="0.75" height="0.75" fill="#39a289" fill-opacity="0.8"/>
<rect x="58.2" y="183.0" width="0.75" height="0.75" fill="#39a289" fill-opacity="0.8"/>
<rect x="58.3" y="182.1" width="0.75" height="0.75" fill="#39a289" fill-opacity="0.8"/>
<rect x="63.2" y="188.1" width="0.75" height="0.75" fill="#39a289" fill-opacity="0.8"/>
<rect x="57.4" y="191.9" width="0.75" height="0.75" fill="#39a289" fill-opacity="0.8"/>
<rect x="56.3" y="183.4" width="0.75" height="0.75" fill="#39a289" fill-opacity="0.8"/>
<rect x="56.7" y="180.3" width="0.75" height="0.75" fill="#3aa288" fill-opacity="0.8"/>
<rect x="57.4" y="187.7" width="0.75" height="0.75" fill="#3aa287" fill-opacity="0.8"/>
<rect x="53.0" y="181.0" width="0.75" height="0.75" fill="#3ba286" fill-opacity="0.8"/>
<rect x="59.9" y="186.4" width="0.75" height="0.75" fill="#3ba286" fill-opacity="0.8"/>
<rect x="57.8" y="187.3" width="0.75" height="0.75" fill="#3ba286" fill-opacity="0.8"/>
<rect x="57.1" y="180.6" width="0.75" height="0.75" fill="#3ca385" fill-opacity="0.8"/>
<rect x="57.1" y="191.6" width="0.75" height="0.75" fill="#3da384" fill-opacity="0.8"/>
<rect x="55.6" y="183.1" width="0.75" height="0.75" fill="#3da384" fill-opacity="0.8"/>
<rect x="58.2" y="182.6" width="0.75" height="0.75" fill="#3da384" fill-opacity="0.8"/>
<rect x="56.6" y="188.8" width="0.75" height="0.75" fill="#3da383" fill-opacity="0.8"/>
<rect x="58.9" y="186.7" width="0.75" height="0.75" fill="#3ea382" fill-opacity="0.8"/>
<rect x="63.2" y="188.3" width="0.75" height="0.75" fill="#3ea382" fill-opacity="0.8"/>
<rect x="56.6" y="183.3" width="0.75" height="0.75" fill="#3ea382" fill-opacity="0.8"/>
<rect x="63.5" y="190.0" width="0.75" height="0.75" fill="#3ea382" fill-opacity="0.8"/>
<rect x="56.1" y="183.2" width="0.75" height="0.75" fill="#3ea382" fill-opacity="0.8"/>
<rect x="63.3" y="190.3" width="0.75" height="0.75" fill="#3ea381" fill-opacity="0.8"/>
<rect x="59.1" y="186.7" width="0.75" height="0.75" fill="#3fa480" fill-opacity="0.8"/>
<rect x="53.2" y="181.2" width="0.75" height="0.75" fill="#3fa480" fill-opacity="0.8"/>
<rect x="55.3" y="180.0" width="0.75" height="0.75" fill="#3fa480" fill-opacity="0.8"/>
<rect x="57.7" y="183.0" width="0.75" height="0.75" fill="#3fa480" fill-opacity="0.8"/>
<rect x="58.1" y="182.5" width="0.75" height="0.75" fill="#3fa480" fill-opacity="0.8"/>
<rect x="53.6" y="180.1" width="0.75" height="0.75" fill="#3fa480" fill-opacity="0.8"/>
<rect x="62.3" y="187.4" width="0.75" height="0.75" fill="#40a47f" fill-opacity="0.8"/>
<rect x="56.8" y="183.2" width="0.75" height="0.75" fill="#41a47d" fill-opacity="0.8"/>
<rect x="57.5" y="183.1" width="0.75" height="0.75" fill="#41a47d" fill-opacity="0.8"/>
<rect x="57.9" y="182.7" width="0.75" height="0.75" fill="#41a47d" fill-opacity="0.8"/>
<rect x="57.2" y="180.9" width="0.75" height="0.75" fill="#41a47c" fill-opacity="0.8"/>
<rect x="61.5" y="187.0" width="0.75" height="0.75" fill="#42a47b" fill-opacity="0.8"/>
<rect x="56.5" y="190.1" width="0.75" height="0.75" fill="#42a57b" fill-opacity="0.8"/>
<rect x="58.7" y="187.0" width="0.75" height="0.75" fill="#43a57a" fill-opacity="0.8"/>
<rect x="61.9" y="187.2" width="0.75" height="0.75" fill="#43a579" fill-opacity="0.8"/>
<rect x="57.6" y="187.8" width="0.75" height="0.75" fill="#43a579" fill-opacity="0.8"/>
<rect x="56.3" y="183.1" width="0.75" height="0.75" fill="#43a579" fill-opacity="0.8"/>
<rect x="62.0" y="191.6" width="0.75" height="0.75" fill="#44a578" fill-opacity="0.8"/>
<rect x="57.8" y="181.9" width="0.75" height="0.75" fill="#44a578" fill-opacity="0.8"/>
<rect x="54.6" y="182.4" width="0.75" height="0.75" fill="#45a577" fill-opacity="0.8"/>
<rect x="57.6" y="181.4" width="0.75" height="0.75" fill="#45a577" fill-opacity="0.8"/>
<rect x="54.7" y="182.5" width="0.75" height="0.75" fill="#45a577" fill-opacity="0.8"/>
<rect x="56.7" y="183.0" width="0.75" height="0.75" fill="#45a576" fill-opacity="0.8"/>
<rect x="60.8" y="192.1" width="0.75" height="0.75" fill="#45a576" fill-opacity="0.8"/>
<rect x="59.0" y="186.9" width="0.75" height="0.75" fill="#46a675" fill-opacity="0.8"/>
<rect x="62.3" y="187.5" width="0.75" height="0.75" fill="#46a675" fill-opacity="0.8"/>
<rect x="62.2" y="187.5" width="0.75" height="0.75" fill="#47a674" fill-opacity="0.8"/>
<rect x="57.7" y="182.3" width="0.75" height="0.75" fill="#47a674" fill-opacity="0.8"/>
<rect x="56.8" y="180.8" width="0.75" height="0.75" fill="#48a672" fill-opacity="0.8"/>
<rect x="61.2" y="187.0" width="0.75" height="0.75" fill="#48a671" fill-opacity="0.8"/>
<rect x="53.6" y="180.6" width="0.75" height="0.75" fill="#48a671" fill-opacity="0.8"/>
<rect x="53.6" y="180.5" width="0.75" height="0.75" fill="#48a671" fill-opacity="0.8"/>
<rect x="57.6" y="182.2" width="0.75" height="0.75" fill="#48a671" fill-opacity="0.8"/>
<rect x="62.5" y="191.2" width="0.75" height="0.75" fill="#49a670" fill-opacity="0.8"/>
<rect x="63.3" y="189.3" width="0.75" height="0.75" fill="#49a770" fill-opacity="0.8"/>
<rect x="62.0" y="191.6" width="0.75" height="0.75" fill="#49a770" fill-opacity="0.8"/>
<rect x="63.2" y="188.8" width="0.75" height="0.75" fill="#49a770" fill-opacity="0.8"/>
<rect x="57.8" y="191.8" width="0.75" height="0.75" fill="#49a76f" fill-opacity="0.8"/>
<rect x="61.3" y="191.9" width="0.75" height="0.75" fill="#4aa76f" fill-opacity="0.8"/>
<rect x="59.6" y="192.2" width="0.75" height="0.75" fill="#4aa76f" fill-opacity="0.8"/>
<rect x="53.6" y="181.0" width="0.75" height="0.75" fill="#4aa76e" fill-opacity="0.8"/>
<rect x="57.1" y="182.7" width="0.75" height="0.75" fill="#4aa76e" fill-opacity="0.8"/>
<rect x="55.4" y="180.3" width="0.75" height="0.75" fill="#4aa76e" fill-opacity="0.8"/>
<rect x="62.6" y="187.9" width="0.75" height="0.75" fill="#4ba76d" fill-opacity="0.8"/>
<rect x="54.7" y="182.3" width="0.75" height="0.75" fill="#4ba76d" fill-opacity="0.8"/>
<rect x="57.5" y="182.1" width="0.75" height="0.75" fill="#4ba76d" fill-opacity="0.8"/>
<rect x="63.1" y="188.6" width="0.75" height="0.75" fill="#4ba76d" fill-opacity="0.8"/>
<rect x="54.6" y="182.2" width="0.75" height="0.75" fill="#4ba76c" fill-opacity="0.8"/>
<rect x="57.0" y="182.7" width="0.75" height="0.75" fill="#4ca76b" fill-opacity="0.8"/>
<rect x="56.9" y="182.7" width="0.75" height="0.75" fill="#4da86a" fill-opacity="0.8"/>
<rect x="62.4" y="187.8" width="0.75" height="0.75" fill="#4ea869" fill-opacity="0.8"/>
<rect x="57.4" y="188.3" width="0.75" height="0.75" fill="#4ea869" fill-opacity="0.8"/>
<rect x="54.0" y="180.6" width="0.75" height="0.75" fill="#4fa866" fill-opacity="0.8"/>
<rect x="63.0" y="188.7" width="0.75" height="0.75" fill="#4fa866" fill-opacity="0.8"/>
<rect x="53.9" y="181.1" width="0.75" height="0.75" fill="#50a965" fill-opacity="0.8"/>
<rect x="56.9" y="190.6" width="0.75" height="0.75" fill="#50a965" fill-opacity="0.8"/>
<rect x="57.3" y="188.6" width="0.75" height="0.75" fill="#50a965" fill-opacity="0.8"/>
<rect x="54.4" y="181.9" width="0.75" height="0.75" fill="#50a965" fill-opacity="0.8"/>
<rect x="63.0" y="188.7" width="0.75" height="0.75" fill="#50a964" fill-opacity="0.8"/>
<rect x="61.9" y="191.5" width="0.75" height="0.75" fill="#51a963" fill-opacity="0.8"/>
<rect x="57.3" y="188.6" width="0.75" height="0.75" fill="#51a963" fill-opacity="0.8"/>
<rect x="57.8" y="188.0" width="0.75" height="0.75" fill="#51a963" fill-opacity="0.8"/>
<rect x="55.7" y="180.6" width="0.75" height="0.75" fill="#52a962" fill-opacity="0.8"/>
<rect x="57.3" y="191.2" width="0.75" height="0.75" fill="#52a961" fill-opacity="0.8"/>
<rect x="54.3" y="181.6" width="0.75" height="0.75" fill="#52a961" fill-opacity="0.8"/>
<rect x="55.6" y="182.4" width="0.75" height="0.75" fill="#52a961" fill-opacity="0.8"/>
<rect x="54.3" y="180.6" width="0.75" height="0.75" fill="#53a961" fill-opacity="0.8"/>
<rect x="54.8" y="182.0" width="0.75" height="0.75" fill="#53a961" fill-opacity="0.8"/>
<rect x="56.3" y="182.5" width="0.75" height="0.75" fill="#53aa60" fill-opacity="0.8"/>
<rect x="57.2" y="188.7" width="0.75" height="0.75" fill="#53aa60" fill-opacity="0.8"/>
<rect x="59.3" y="187.2" width="0.75" height="0.75" fill="#53aa5f" fill-opacity="0.8"/>
<rect x="56.4" y="181.0" width="0.75" height="0.75" fill="#53aa5f" fill-opacity="0.8"/>
<rect x="55.4" y="182.3" width="0.75" height="0.75" fill="#54aa5f" fill-opacity="0.8"/>
<rect x="57.3" y="191.1" width="0.75" height="0.75" fill="#54aa5f" fill-opacity="0.8"/>
<rect x="54.1" y="181.2" width="0.75" height="0.75" fill="#54aa5f" fill-opacity="0.8"/>
<rect x="61.8" y="191.5" width="0.75" height="0.75" fill="#54aa5e" fill-opacity="0.8"/>
<rect x="61.7" y="191.5" width="0.75" height="0.75" fill="#54aa5e" fill-opacity="0.8"/>
<rect x="57.2" y="190.9" width="0.75" height="0.75" fill="#55aa5c" fill-opacity="0.8"/>
<rect x="54.2" y="181.1" width="0.75" height="0.75" fill="#55aa5c" fill-opacity="0.8"/>
<rect x="56.6" y="182.3" width="0.75" height="0.75" fill="#56aa5b" fill-opacity="0.8"/>
<rect x="55.3" y="180.6" width="0.75" height="0.75" fill="#56aa5b" fill-opacity="0.8"/>
<rect x="55.8" y="182.3" width="0.75" height="0.75" fill="#56ab5a" fill-opacity="0.8"/>
<rect x="56.7" y="182.1" width="0.75" height="0.75" fill="#56ab5a" fill-opacity="0.8"/>
<rect x="61.4" y="187.4" width="0.75" height="0.75" fill="#57ab5a" fill-opacity="0.8"/>
<rect x="60.0" y="187.1" width="0.75" height="0.75" fill="#57ab5a" fill-opacity="0.8"/>
<rect x="54.6" y="181.7" width="0.75" height="0.75" fill="#57ab59" fill-opacity="0.8"/>
<rect x="56.0" y="180.9" width="0.75" height="0.75" fill="#57ab59" fill-opacity="0.8"/>
<rect x="62.8" y="190.3" width="0.75" height="0.75" fill="#57ab59" fill-opacity="0.8"/>
<rect x="55.0" y="182.0" width="0.75" height="0.75" fill="#57ab59" fill-opacity="0.8"/>
<rect x="54.5" y="180.8" width="0.75" height="0.75" fill="#57ab59" fill-opacity="0.8"/>
<rect x="56.2" y="181.1" width="0.75" height="0.75" fill="#57ab59" fill-opacity="0.8"/>
<rect x="55.7" y="182.2" width="0.75" height="0.75" fill="#58ab58" fill-opacity="0.8"/>
<rect x="54.6" y="181.6" width="0.75" height="0.75" fill="#58ab57" fill-opacity="0.8"/>
<rect x="61.4" y="187.5" width="0.75" height="0.75" fill="#59ab57" fill-opacity="0.8"/>
<rect x="62.1" y="191.1" width="0.75" height="0.75" fill="#59ab57" fill-opacity="0.8"/>
<rect x="55.2" y="182.0" width="0.75" height="0.75" fill="#59ab56" fill-opacity="0.8"/>
<rect x="56.6" y="181.8" width="0.75" height="0.75" fill="#5aac55" fill-opacity="0.8"/>
<rect x="57.7" y="188.3" width="0.75" height="0.75" fill="#5aac55" fill-opacity="0.8"/>
<rect x="57.2" y="190.7" width="0.75" height="0.75" fill="#5aac55" fill-opacity="0.8"/>
<rect x="54.8" y="181.5" width="0.75" height="0.75" fill="#5bac54" fill-opacity="0.8"/>
<rect x="56.4" y="181.6" width="0.75" height="0.75" fill="#5bac53" fill-opacity="0.8"/>
<rect x="60.0" y="191.9" width="0.75" height="0.75" fill="#5bac52" fill-opacity="0.8"/>
<rect x="62.1" y="191.1" width="0.75" height="0.75" fill="#5cac52" fill-opacity="0.8"/>
<rect x="55.2" y="180.9" width="0.75" height="0.75" fill="#5cac52" fill-opacity="0.8"/>
<rect x="54.8" y="181.0" width="0.75" height="0.75" fill="#5cac52" fill-opacity="0.8"/>
<rect x="56.2" y="181.9" width="0.75" height="0.75" fill="#5cac52" fill-opacity="0.8"/>
<rect x="54.9" y="181.5" width="0.75" height="0.75" fill="#5cac51" fill-opacity="0.8"/>
<rect x="58.7" y="187.6" width="0.75" height="0.75" fill="#5cac51" fill-opacity="0.8"/>
<rect x="56.2" y="181.8" width="0.75" height="0.75" fill="#5cac51" fill-opacity="0.8"/>
<rect x="54.9" y="181.2" width="0.75" height="0.75" fill="#5dac50" fill-opacity="0.8"/>
<rect x="55.9" y="181.2" width="0.75" height="0.75" fill="#5dad50" fill-opacity="0.8"/>
<rect x="55.4" y="181.8" width="0.75" height="0.75" fill="#5dad50" fill-opacity="0.8"/>
<rect x="55.2" y="181.0" width="0.75" height="0.75" fill="#5dad50" fill-opacity="0.8"/>
<rect x="55.7" y="181.2" width="0.75" height="0.75" fill="#5dad4f" fill-opacity="0.8"/>
<rect x="56.1" y="181.7" width="0.75" height="0.75" fill="#5dad4f" fill-opacity="0.8"/>
<rect x="55.9" y="181.8" width="0.75" height="0.75" fill="#5ead4e" fill-opacity="0.8"/>
<rect x="55.4" y="181.5" width="0.75" height="0.75" fill="#5fad4d" fill-opacity="0.8"/>
<rect x="58.3" y="188.0" width="0.75" height="0.75" fill="#5fad4c" fill-opacity="0.8"/>
<rect x="57.1" y="190.0" width="0.75" height="0.75" fill="#5fad4c" fill-opacity="0.8"/>
<rect x="59.3" y="191.9" width="0.75" height="0.75" fill="#60ae4a" fill-opacity="0.8"/>
<rect x="58.9" y="187.6" width="0.75" height="0.75" fill="#61ae4a" fill-opacity="0.8"/>
<rect x="61.3" y="191.4" width="0.75" height="0.75" fill="#63ae46" fill-opacity="0.8"/>
<rect x="62.1" y="188.1" width="0.75" height="0.75" fill="#64af45" fill-opacity="0.8"/>
<rect x="61.3" y="187.7" width="0.75" height="0.75" fill="#64af45" fill-opacity="0.8"/>
<rect x="61.4" y="191.4" width="0.75" height="0.75" fill="#65af45" fill-opacity="0.8"/>
<rect x="58.8" y="187.8" width="0.75" height="0.75" fill="#67af44" fill-opacity="0.8"/>
<rect x="57.9" y="191.2" width="0.75" height="0.75" fill="#67af44" fill-opacity="0.8"/>
<rect x="57.4" y="189.3" width="0.75" height="0.75" fill="#69b044" fill-opacity="0.8"/>
<rect x="60.8" y="187.6" width="0.75" height="0.75" fill="#69b044" fill-opacity="0.8"/>
<rect x="57.5" y="189.1" width="0.75" height="0.75" fill="#69b044" fill-opacity="0.8"/>
<rect x="58.1" y="188.4" width="0.75" height="0.75" fill="#69b044" fill-opacity="0.8"/>
<rect x="61.3" y="191.4" width="0.75" height="0.75" fill="#6ab044" fill-opacity="0.8"/>
<rect x="59.8" y="187.6" width="0.75" height="0.75" fill="#6ab043" fill-opacity="0.8"/>
<rect x="57.4" y="190.3" width="0.75" height="0.75" fill="#6ab043" fill-opacity="0.8"/>
<rect x="62.6" y="189.9" width="0.75" height="0.75" fill="#6bb043" fill-opacity="0.8"/>
<rect x="58.0" y="188.6" width="0.75" height="0.75" fill="#6bb043" fill-opacity="0.8"/>
<rect x="57.9" y="191.1" width="0.75" height="0.75" fill="#6cb043" fill-opacity="0.8"/>
<rect x="57.7" y="188.9" width="0.75" height="0.75" fill="#6db143" fill-opacity="0.8"/>
<rect x="60.3" y="191.7" width="0.75" height="0.75" fill="#6eb142" fill-opacity="0.8"/>
<rect x="57.4" y="189.9" width="0.75" height="0.75" fill="#6eb142" fill-opacity="0.8"/>
<rect x="62.4" y="190.4" width="0.75" height="0.75" fill="#6fb142" fill-opacity="0.8"/>
<rect x="60.4" y="187.6" width="0.75" height="0.75" fill="#6fb142" fill-opacity="0.8"/>
<rect x="59.8" y="187.7" width="0.75" height="0.75" fill="#70b142" fill-opacity="0.8"/>
<rect x="62.3" y="190.5" width="0.75" height="0.75" fill="#71b241" fill-opacity="0.8"/>
<rect x="58.4" y="188.3" width="0.75" height="0.75" fill="#72b241" fill-opacity="0.8"/>
<rect x="59.3" y="191.6" width="0.75" height="0.75" fill="#75b340" fill-opacity="0.8"/>
<rect x="62.4" y="189.8" width="0.75" height="0.75" fill="#77b340" fill-opacity="0.8"/>
<rect x="61.4" y="188.0" width="0.75" height="0.75" fill="#77b340" fill-opacity="0.8"/>
<rect x="58.2" y="188.5" width="0.75" height="0.75" fill="#77b340" fill-opacity="0.8"/>
<rect x="62.3" y="190.1" width="0.75" height="0.75" fill="#77b33f" fill-opacity="0.8"/>
<rect x="62.1" y="190.6" width="0.75" height="0.75" fill="#78b33f" fill-opacity="0.8"/>
<rect x="57.8" y="189.0" width="0.75" height="0.75" fill="#78b33f" fill-opacity="0.8"/>
<rect x="58.1" y="188.7" width="0.75" height="0.75" fill="#7ab43f" fill-opacity="0.8"/>
<rect x="60.7" y="187.8" width="0.75" height="0.75" fill="#7ab43f" fill-opacity="0.8"/>
<rect x="60.0" y="187.8" width="0.75" height="0.75" fill="#7ab43f" fill-opacity="0.8"/>
<rect x="61.3" y="191.1" width="0.75" height="0.75" fill="#7bb43e" fill-opacity="0.8"/>
<rect x="57.6" y="190.2" width="0.75" height="0.75" fill="#7bb43e" fill-opacity="0.8"/>
<rect x="61.2" y="191.2" width="0.75" height="0.75" fill="#7bb43e" fill-opacity="0.8"/>
<rect x="59.7" y="191.5" width="0.75" height="0.75" fill="#7cb43e" fill-opacity="0.8"/>
<rect x="62.3" y="190.0" width="0.75" height="0.75" fill="#7db43e" fill-opacity="0.8"/>
<rect x="59.1" y="191.5" width="0.75" height="0.75" fill="#7eb53d" fill-opacity="0.8"/>
<rect x="60.6" y="187.9" width="0.75" height="0.75" fill="#7eb53d" fill-opacity="0.8"/>
<rect x="58.9" y="188.1" width="0.75" height="0.75" fill="#7eb53d" fill-opacity="0.8"/>
<rect x="57.9" y="189.1" width="0.75" height="0.75" fill="#7eb53d" fill-opacity="0.8"/>
<rect x="57.8" y="189.3" width="0.75" height="0.75" fill="#7fb53d" fill-opacity="0.8"/>
<rect x="58.2" y="188.7" width="0.75" height="0.75" fill="#7fb53d" fill-opacity="0.8"/>
<rect x="60.7" y="191.4" width="0.75" height="0.75" fill="#81b53d" fill-opacity="0.8"/>
<rect x="62.3" y="189.8" width="0.75" height="0.75" fill="#82b63c" fill-opacity="0.8"/>
<rect x="61.3" y="191.0" width="0.75" height="0.75" fill="#83b63c" fill-opacity="0.8"/>
<rect x="60.8" y="188.0" width="0.75" height="0.75" fill="#85b63b" fill-opacity="0.8"/>
<rect x="58.0" y="190.7" width="0.75" height="0.75" fill="#85b63b" fill-opacity="0.8"/>
<rect x="60.9" y="191.2" width="0.75" height="0.75" fill="#87b73b" fill-opacity="0.8"/>
<rect x="60.0" y="188.0" width="0.75" height="0.75" fill="#87b73a" fill-opacity="0.8"/>
<rect x="62.1" y="189.0" width="0.75" height="0.75" fill="#88b73a" fill-opacity="0.8"/>
<rect x="62.1" y="190.1" width="0.75" height="0.75" fill="#89b73a" fill-opacity="0.8"/>
<rect x="59.5" y="188.1" width="0.75" height="0.75" fill="#8ab73a" fill-opacity="0.8"/>
<rect x="62.1" y="189.3" width="0.75" height="0.75" fill="#8ab73a" fill-opacity="0.8"/>
<rect x="62.0" y="190.2" width="0.75" height="0.75" fill="#8bb839" fill-opacity="0.8"/>
<rect x="58.5" y="190.9" width="0.75" height="0.75" fill="#8eb838" fill-opacity="0.8"/>
<rect x="58.1" y="189.3" width="0.75" height="0.75" fill="#8eb838" fill-opacity="0.8"/>
<rect x="59.7" y="191.3" width="0.75" height="0.75" fill="#8fb838" fill-opacity="0.8"/>
<rect x="58.3" y="190.7" width="0.75" height="0.75" fill="#90b938" fill-opacity="0.8"/>
<rect x="59.1" y="188.4" width="0.75" height="0.75" fill="#90b938" fill-opacity="0.8"/>
<rect x="62.0" y="189.3" width="0.75" height="0.75" fill="#92b937" fill-opacity="0.8"/>
<rect x="58.1" y="189.4" width="0.75" height="0.75" fill="#92b937" fill-opacity="0.8"/>
<rect x="58.1" y="190.2" width="0.75" height="0.75" fill="#92b937" fill-opacity="0.8"/>
<rect x="59.3" y="188.3" width="0.75" height="0.75" fill="#93b937" fill-opacity="0.8"/>
<rect x="59.6" y="188.2" width="0.75" height="0.75" fill="#93b937" fill-opacity="0.8"/>
<rect x="59.1" y="188.4" width="0.75" height="0.75" fill="#93b937" fill-opacity="0.8"/>
<rect x="60.8" y="188.3" width="0.75" height="0.75" fill="#96ba36" fill-opacity="0.8"/>
<rect x="58.2" y="189.5" width="0.75" height="0.75" fill="#97ba36" fill-opacity="0.8"/>
<rect x="58.1" y="189.9" width="0.75" height="0.75" fill="#97ba36" fill-opacity="0.8"/>
<rect x="60.5" y="188.3" width="0.75" height="0.75" fill="#98bb35" fill-opacity="0.8"/>
<rect x="61.4" y="190.6" width="0.75" height="0.75" fill="#99bb35" fill-opacity="0.8"/>
<rect x="59.2" y="188.5" width="0.75" height="0.75" fill="#9abb35" fill-opacity="0.8"/>
<rect x="59.9" y="191.1" width="0.75" height="0.75" fill="#9cbb34" fill-opacity="0.8"/>
<rect x="61.6" y="188.9" width="0.75" height="0.75" fill="#9cbc34" fill-opacity="0.8"/>
<rect x="60.6" y="191.0" width="0.75" height="0.75" fill="#9dbc34" fill-opacity="0.8"/>
<rect x="60.6" y="191.0" width="0.75" height="0.75" fill="#9dbc34" fill-opacity="0.8"/>
<rect x="58.8" y="188.8" width="0.75" height="0.75" fill="#9ebc34" fill-opacity="0.8"/>
<rect x="61.7" y="189.5" width="0.75" height="0.75" fill="#a0bd33" fill-opacity="0.8"/>
<rect x="61.5" y="189.0" width="0.75" height="0.75" fill="#a2bd32" fill-opacity="0.8"/>
<rect x="58.7" y="189.1" width="0.75" height="0.75" fill="#a3bd32" fill-opacity="0.8"/>
<rect x="59.1" y="190.8" width="0.75" height="0.75" fill="#a5be31" fill-opacity="0.8"/>
<rect x="58.8" y="189.0" width="0.75" height="0.75" fill="#a6be31" fill-opacity="0.8"/>
<rect x="61.6" y="189.6" width="0.75" height="0.75" fill="#a7be31" fill-opacity="0.8"/>
<rect x="60.6" y="190.8" width="0.75" height="0.75" fill="#a9be31" fill-opacity="0.8"/>
<rect x="61.5" y="189.9" width="0.75" height="0.75" fill="#a9be31" fill-opacity="0.8"/>
<rect x="60.2" y="188.5" width="0.75" height="0.75" fill="#a9be31" fill-opacity="0.8"/>
<rect x="59.2" y="190.8" width="0.75" height="0.75" fill="#abbe31" fill-opacity="0.8"/>
<rect x="58.5" y="189.7" width="0.75" height="0.75" fill="#abbe31" fill-opacity="0.8"/>
<rect x="61.0" y="188.8" width="0.75" height="0.75" fill="#abbe31" fill-opacity="0.8"/>
<rect x="58.9" y="189.1" width="0.75" height="0.75" fill="#adbe30" fill-opacity="0.8"/>
<rect x="61.2" y="189.2" width="0.75" height="0.75" fill="#b2be30" fill-opacity="0.8"/>
<rect x="58.8" y="190.3" width="0.75" height="0.75" fill="#b3be30" fill-opacity="0.8"/>
<rect x="59.9" y="188.8" width="0.75" height="0.75" fill="#b5be2f" fill-opacity="0.8"/>
<rect x="58.8" y="189.7" width="0.75" height="0.75" fill="#b5be2f" fill-opacity="0.8"/>
<rect x="60.8" y="190.3" width="0.75" height="0.75" fill="#babe2f" fill-opacity="0.8"/>
<rect x="59.0" y="190.1" width="0.75" height="0.75" fill="#bbbe2f" fill-opacity="0.8"/>
<rect x="60.2" y="188.9" width="0.75" height="0.75" fill="#bcbe2f" fill-opacity="0.8"/>
<rect x="59.0" y="190.0" width="0.75" height="0.75" fill="#bcbe2f" fill-opacity="0.8"/>
<rect x="60.3" y="190.5" width="0.75" height="0.75" fill="#bcbe2f" fill-opacity="0.8"/>
<rect x="59.8" y="190.6" width="0.75" height="0.75" fill="#bdbe2e" fill-opacity="0.8"/>
<rect x="60.7" y="190.3" width="0.75" height="0.75" fill="#bebe2e" fill-opacity="0.8"/>
<rect x="59.0" y="189.6" width="0.75" height="0.75" fill="#bebe2e" fill-opacity="0.8"/>
<rect x="59.6" y="190.5" width="0.75" height="0.75" fill="#bfbe2e" fill-opacity="0.8"/>
<rect x="59.3" y="189.3" width="0.75" height="0.75" fill="#bfbe2e" fill-opacity="0.8"/>
<rect x="60.3" y="190.5" width="0.75" height="0.75" fill="#bfbe2e" fill-opacity="0.8"/>
<rect x="60.1" y="190.5" width="0.75" height="0.75" fill="#c0be2e" fill-opacity="0.8"/>
<rect x="60.0" y="189.0" width="0.75" height="0.75" fill="#c1be2e" fill-opacity="0.8"/>
<rect x="60.5" y="189.1" width="0.75" height="0.75" fill="#c2be2e" fill-opacity="0.8"/>
<rect x="59.8" y="190.4" width="0.75" height="0.75" fill="#c2be2e" fill-opacity="0.8"/>
<rect x="59.2" y="189.8" width="0.75" height="0.75" fill="#c4be2e" fill-opacity="0.8"/>
<rect x="59.3" y="189.5" width="0.75" height="0.75" fill="#c4be2e" fill-opacity="0.8"/>
<rect x="60.4" y="190.3" width="0.75" height="0.75" fill="#c5be2d" fill-opacity="0.8"/>
<rect x="60.3" y="190.2" width="0.75" height="0.75" fill="#c8be2d" fill-opacity="0.8"/>
<rect x="59.4" y="189.7" width="0.75" height="0.75" fill="#c9be2d" fill-opacity="0.8"/>
<rect x="59.9" y="189.3" width="0.75" height="0.75" fill="#c9be2d" fill-opacity="0.8"/>
<rect x="60.1" y="190.0" width="0.75" height="0.75" fill="#cdbe2d" fill-opacity="0.8"/>
<line x1="54.3" y1="154.8" x2="54.3" y2="207.8" stroke="#6a6a6a" stroke-width="0.8"/>
<line x1="34.8" y1="185.4" x2="86.7" y2="185.4" stroke="#6a6a6a" stroke-width="0.8"/>
<text x="36.199999999999996" y="160.60000000000002" font-size="5.5" text-anchor="start" fill="#222" stroke="#222" font-weight="normal" >Q1</text>
<text x="36.199999999999996" y="166.8" font-size="5.5" text-anchor="start" fill="#222" stroke="#222" font-weight="normal" >14%</text>
<text x="85.7" y="160.60000000000002" font-size="5.5" text-anchor="end" fill="#222" stroke="#222" font-weight="normal" >Q2</text>
<text x="85.7" y="166.8" font-size="5.5" text-anchor="end" fill="#222" stroke="#222" font-weight="normal" >28%</text>
<text x="36.199999999999996" y="199.0" font-size="5.5" text-anchor="start" fill="#222" stroke="#222" font-weight="normal" >Q4</text>
<text x="36.199999999999996" y="205.4" font-size="5.5" text-anchor="start" fill="#222" stroke="#222" font-weight="normal" >3%</text>
<text x="85.7" y="199.0" font-size="5.5" text-anchor="end" fill="#222" stroke="#222" font-weight="normal" >Q3</text>
<text x="85.7" y="205.4" font-size="5.5" text-anchor="end" fill="#222" stroke="#222" font-weight="normal" >55%</text>
<line x1="33.5" y1="165.7" x2="34.8" y2="165.7" stroke="#333" stroke-width="0.8"/>
<text x="30.599999999999998" y="167.60000000000002" font-size="6.6" text-anchor="end" fill="#333" stroke="#333">10</text>
<text x="32.9" y="164.70000000000002" font-size="4.2" text-anchor="end" fill="#333" stroke="#333">4</text>
<line x1="33.5" y1="177.55" x2="34.8" y2="177.55" stroke="#333" stroke-width="0.8"/>
<text x="30.599999999999998" y="179.3" font-size="6.6" text-anchor="end" fill="#333" stroke="#333">10</text>
<text x="32.9" y="176.4" font-size="4.2" text-anchor="end" fill="#333" stroke="#333">3</text>
<line x1="33.5" y1="189.4" x2="34.8" y2="189.4" stroke="#333" stroke-width="0.8"/>
<text x="30.599999999999998" y="190.9" font-size="6.6" text-anchor="end" fill="#333" stroke="#333">10</text>
<text x="32.9" y="188.0" font-size="4.2" text-anchor="end" fill="#333" stroke="#333">2</text>
<line x1="33.5" y1="201.25" x2="34.8" y2="201.25" stroke="#333" stroke-width="0.8"/>
<text x="30.599999999999998" y="202.3" font-size="6.6" text-anchor="end" fill="#333" stroke="#333">10</text>
<text x="32.9" y="199.4" font-size="4.2" text-anchor="end" fill="#333" stroke="#333">1</text>
<line x1="40.3" y1="207.8" x2="40.3" y2="209.4" stroke="#555" stroke-width="0.6"/>
<text x="39.4" y="216.8" font-size="6.6" text-anchor="middle" fill="#333" stroke="#333">10<tspan font-size="4.2" dy="-2.8">1</tspan></text>
<line x1="51.849999999999994" y1="207.8" x2="51.849999999999994" y2="209.4" stroke="#555" stroke-width="0.6"/>
<text x="50.949999999999996" y="216.8" font-size="6.6" text-anchor="middle" fill="#333" stroke="#333">10<tspan font-size="4.2" dy="-2.8">2</tspan></text>
<line x1="63.4" y1="207.8" x2="63.4" y2="209.4" stroke="#555" stroke-width="0.6"/>
<text x="62.5" y="216.8" font-size="6.6" text-anchor="middle" fill="#333" stroke="#333">10<tspan font-size="4.2" dy="-2.8">3</tspan></text>
<line x1="74.95" y1="207.8" x2="74.95" y2="209.4" stroke="#555" stroke-width="0.6"/>
<text x="74.05" y="216.8" font-size="6.6" text-anchor="middle" fill="#333" stroke="#333">10<tspan font-size="4.2" dy="-2.8">4</tspan></text>
<rect x="101.9" y="155.1" width="51.599999999999994" height="52.400000000000006" fill="#fff" stroke="#b0b0b0" stroke-width="0.7"/>
<rect x="108.5" y="181.8" width="0.75" height="0.75" fill="#9fa4e5" fill-opacity="0.8"/>
<rect x="110.0" y="200.3" width="0.75" height="0.75" fill="#9fa4e5" fill-opacity="0.8"/>
<rect x="142.4" y="177.6" width="0.75" height="0.75" fill="#9fa4e5" fill-opacity="0.8"/>
<rect x="141.2" y="202.7" width="0.75" height="0.75" fill="#9fa4e5" fill-opacity="0.8"/>
<rect x="110.4" y="192.3" width="0.75" height="0.75" fill="#9fa4e5" fill-opacity="0.8"/>
<rect x="138.4" y="202.2" width="0.75" height="0.75" fill="#9fa4e5" fill-opacity="0.8"/>
<rect x="115.9" y="202.2" width="0.75" height="0.75" fill="#9fa4e5" fill-opacity="0.8"/>
<rect x="129.9" y="174.3" width="0.75" height="0.75" fill="#9fa4e5" fill-opacity="0.8"/>
<rect x="114.1" y="199.3" width="0.75" height="0.75" fill="#9fa4e5" fill-opacity="0.8"/>
<rect x="141.8" y="195.1" width="0.75" height="0.75" fill="#9fa4e5" fill-opacity="0.8"/>
<rect x="139.0" y="199.9" width="0.75" height="0.75" fill="#9fa4e5" fill-opacity="0.8"/>
<rect x="133.6" y="204.1" width="0.75" height="0.75" fill="#9fa4e5" fill-opacity="0.8"/>
<rect x="123.1" y="174.8" width="0.75" height="0.75" fill="#9ea4e5" fill-opacity="0.8"/>
<rect x="136.8" y="201.8" width="0.75" height="0.75" fill="#9ea3e5" fill-opacity="0.8"/>
<rect x="117.2" y="177.6" width="0.75" height="0.75" fill="#9ea3e5" fill-opacity="0.8"/>
<rect x="111.9" y="189.0" width="0.75" height="0.75" fill="#9ea3e5" fill-opacity="0.8"/>
<rect x="139.1" y="199.0" width="0.75" height="0.75" fill="#9ea3e5" fill-opacity="0.8"/>
<rect x="115.0" y="197.9" width="0.75" height="0.75" fill="#9ea3e5" fill-opacity="0.8"/>
<rect x="121.1" y="202.9" width="0.75" height="0.75" fill="#9ea3e5" fill-opacity="0.8"/>
<rect x="131.0" y="203.3" width="0.75" height="0.75" fill="#9da2e5" fill-opacity="0.8"/>
<rect x="116.3" y="179.7" width="0.75" height="0.75" fill="#9da2e5" fill-opacity="0.8"/>
<rect x="115.0" y="182.1" width="0.75" height="0.75" fill="#9da2e5" fill-opacity="0.8"/>
<rect x="114.6" y="183.7" width="0.75" height="0.75" fill="#9ca2e5" fill-opacity="0.8"/>
<rect x="113.7" y="191.3" width="0.75" height="0.75" fill="#9ca2e5" fill-opacity="0.8"/>
<rect x="133.7" y="178.4" width="0.75" height="0.75" fill="#9ca2e5" fill-opacity="0.8"/>
<rect x="120.8" y="201.1" width="0.75" height="0.75" fill="#9ba1e4" fill-opacity="0.8"/>
<rect x="121.0" y="201.1" width="0.75" height="0.75" fill="#9ba1e4" fill-opacity="0.8"/>
<rect x="139.7" y="190.2" width="0.75" height="0.75" fill="#9ba0e4" fill-opacity="0.8"/>
<rect x="122.3" y="176.9" width="0.75" height="0.75" fill="#9ba0e4" fill-opacity="0.8"/>
<rect x="133.5" y="200.7" width="0.75" height="0.75" fill="#9ba0e4" fill-opacity="0.8"/>
<rect x="114.9" y="192.7" width="0.75" height="0.75" fill="#9ba0e4" fill-opacity="0.8"/>
<rect x="120.3" y="200.3" width="0.75" height="0.75" fill="#9ba0e4" fill-opacity="0.8"/>
<rect x="116.4" y="181.2" width="0.75" height="0.75" fill="#9aa0e4" fill-opacity="0.8"/>
<rect x="139.2" y="191.8" width="0.75" height="0.75" fill="#9aa0e4" fill-opacity="0.8"/>
<rect x="117.4" y="180.0" width="0.75" height="0.75" fill="#9a9fe4" fill-opacity="0.8"/>
<rect x="126.5" y="201.9" width="0.75" height="0.75" fill="#9a9fe4" fill-opacity="0.8"/>
<rect x="136.3" y="197.4" width="0.75" height="0.75" fill="#9a9fe4" fill-opacity="0.8"/>
<rect x="118.2" y="197.8" width="0.75" height="0.75" fill="#999fe4" fill-opacity="0.8"/>
<rect x="126.2" y="177.2" width="0.75" height="0.75" fill="#999ee4" fill-opacity="0.8"/>
<rect x="133.8" y="180.6" width="0.75" height="0.75" fill="#989ee3" fill-opacity="0.8"/>
<rect x="136.8" y="183.9" width="0.75" height="0.75" fill="#989ee3" fill-opacity="0.8"/>
<rect x="136.1" y="196.8" width="0.75" height="0.75" fill="#989ee3" fill-opacity="0.8"/>
<rect x="119.8" y="178.5" width="0.75" height="0.75" fill="#989de3" fill-opacity="0.8"/>
<rect x="136.6" y="195.9" width="0.75" height="0.75" fill="#989de3" fill-opacity="0.8"/>
<rect x="121.7" y="199.8" width="0.75" height="0.75" fill="#979de3" fill-opacity="0.8"/>
<rect x="135.6" y="182.7" width="0.75" height="0.75" fill="#979de3" fill-opacity="0.8"/>
<rect x="129.1" y="178.2" width="0.75" height="0.75" fill="#979de3" fill-opacity="0.8"/>
<rect x="116.3" y="185.7" width="0.75" height="0.75" fill="#979de3" fill-opacity="0.8"/>
<rect x="138.0" y="187.5" width="0.75" height="0.75" fill="#979ce3" fill-opacity="0.8"/>
<rect x="118.5" y="196.8" width="0.75" height="0.75" fill="#969ce3" fill-opacity="0.8"/>
<rect x="137.0" y="185.2" width="0.75" height="0.75" fill="#969ce3" fill-opacity="0.8"/>
<rect x="136.9" y="194.7" width="0.75" height="0.75" fill="#969ce3" fill-opacity="0.8"/>
<rect x="135.3" y="196.9" width="0.75" height="0.75" fill="#969ce3" fill-opacity="0.8"/>
<rect x="130.6" y="179.1" width="0.75" height="0.75" fill="#969be3" fill-opacity="0.8"/>
<rect x="116.7" y="183.8" width="0.75" height="0.75" fill="#959be3" fill-opacity="0.8"/>
<rect x="116.7" y="183.5" width="0.75" height="0.75" fill="#959be3" fill-opacity="0.8"/>
<rect x="130.0" y="178.9" width="0.75" height="0.75" fill="#959be3" fill-opacity="0.8"/>
<rect x="135.6" y="183.6" width="0.75" height="0.75" fill="#959be2" fill-opacity="0.8"/>
<rect x="126.0" y="177.7" width="0.75" height="0.75" fill="#959ae2" fill-opacity="0.8"/>
<rect x="117.3" y="194.1" width="0.75" height="0.75" fill="#959ae2" fill-opacity="0.8"/>
<rect x="116.7" y="187.3" width="0.75" height="0.75" fill="#959ae2" fill-opacity="0.8"/>
<rect x="137.9" y="189.6" width="0.75" height="0.75" fill="#949ae2" fill-opacity="0.8"/>
<rect x="117.2" y="193.7" width="0.75" height="0.75" fill="#949ae2" fill-opacity="0.8"/>
<rect x="130.4" y="179.3" width="0.75" height="0.75" fill="#949ae2" fill-opacity="0.8"/>
<rect x="120.1" y="178.8" width="0.75" height="0.75" fill="#949ae2" fill-opacity="0.8"/>
<rect x="130.9" y="199.5" width="0.75" height="0.75" fill="#949ae2" fill-opacity="0.8"/>
<rect x="127.5" y="200.0" width="0.75" height="0.75" fill="#9399e2" fill-opacity="0.8"/>
<rect x="136.1" y="185.0" width="0.75" height="0.75" fill="#9399e2" fill-opacity="0.8"/>
<rect x="130.6" y="179.7" width="0.75" height="0.75" fill="#9399e2" fill-opacity="0.8"/>
<rect x="132.7" y="198.1" width="0.75" height="0.75" fill="#9298e2" fill-opacity="0.8"/>
<rect x="137.3" y="191.6" width="0.75" height="0.75" fill="#9298e2" fill-opacity="0.8"/>
<rect x="135.8" y="195.0" width="0.75" height="0.75" fill="#9298e2" fill-opacity="0.8"/>
<rect x="117.2" y="186.1" width="0.75" height="0.75" fill="#9298e2" fill-opacity="0.8"/>
<rect x="132.3" y="198.3" width="0.75" height="0.75" fill="#9298e2" fill-opacity="0.8"/>
<rect x="125.1" y="199.6" width="0.75" height="0.75" fill="#9298e2" fill-opacity="0.8"/>
<rect x="137.2" y="191.7" width="0.75" height="0.75" fill="#9298e2" fill-opacity="0.8"/>
<rect x="119.0" y="180.0" width="0.75" height="0.75" fill="#9197e1" fill-opacity="0.8"/>
<rect x="134.4" y="183.3" width="0.75" height="0.75" fill="#9197e1" fill-opacity="0.8"/>
<rect x="121.5" y="178.5" width="0.75" height="0.75" fill="#9197e1" fill-opacity="0.8"/>
<rect x="119.8" y="179.4" width="0.75" height="0.75" fill="#9096e1" fill-opacity="0.8"/>
<rect x="136.9" y="192.1" width="0.75" height="0.75" fill="#9096e1" fill-opacity="0.8"/>
<rect x="132.2" y="198.0" width="0.75" height="0.75" fill="#9096e1" fill-opacity="0.8"/>
<rect x="120.8" y="197.3" width="0.75" height="0.75" fill="#9096e1" fill-opacity="0.8"/>
<rect x="135.8" y="194.3" width="0.75" height="0.75" fill="#8f95e1" fill-opacity="0.8"/>
<rect x="122.9" y="198.4" width="0.75" height="0.75" fill="#8f95e1" fill-opacity="0.8"/>
<rect x="129.4" y="179.5" width="0.75" height="0.75" fill="#8e95e1" fill-opacity="0.8"/>
<rect x="134.6" y="184.0" width="0.75" height="0.75" fill="#8e94e1" fill-opacity="0.8"/>
<rect x="132.4" y="182.0" width="0.75" height="0.75" fill="#8e94e1" fill-opacity="0.8"/>
<rect x="117.6" y="183.7" width="0.75" height="0.75" fill="#8e94e0" fill-opacity="0.8"/>
<rect x="125.1" y="178.3" width="0.75" height="0.75" fill="#8d94e0" fill-opacity="0.8"/>
<rect x="118.0" y="192.5" width="0.75" height="0.75" fill="#8d94e0" fill-opacity="0.8"/>
<rect x="121.4" y="178.8" width="0.75" height="0.75" fill="#8d93e0" fill-opacity="0.8"/>
<rect x="117.8" y="190.9" width="0.75" height="0.75" fill="#8d93e0" fill-opacity="0.8"/>
<rect x="136.8" y="189.5" width="0.75" height="0.75" fill="#8c92e0" fill-opacity="0.8"/>
<rect x="119.2" y="180.4" width="0.75" height="0.75" fill="#8b92e0" fill-opacity="0.8"/>
<rect x="127.9" y="198.6" width="0.75" height="0.75" fill="#8a91df" fill-opacity="0.8"/>
<rect x="129.6" y="198.2" width="0.75" height="0.75" fill="#8a90df" fill-opacity="0.8"/>
<rect x="120.7" y="179.5" width="0.75" height="0.75" fill="#8990df" fill-opacity="0.8"/>
<rect x="132.3" y="196.8" width="0.75" height="0.75" fill="#898fdf" fill-opacity="0.8"/>
<rect x="119.6" y="194.8" width="0.75" height="0.75" fill="#888fdf" fill-opacity="0.8"/>
<rect x="132.5" y="196.6" width="0.75" height="0.75" fill="#888edf" fill-opacity="0.8"/>
<rect x="133.6" y="195.7" width="0.75" height="0.75" fill="#888edf" fill-opacity="0.8"/>
<rect x="122.1" y="197.0" width="0.75" height="0.75" fill="#878edf" fill-opacity="0.8"/>
<rect x="118.9" y="193.3" width="0.75" height="0.75" fill="#878edf" fill-opacity="0.8"/>
<rect x="130.2" y="180.8" width="0.75" height="0.75" fill="#878ede" fill-opacity="0.8"/>
<rect x="128.9" y="179.9" width="0.75" height="0.75" fill="#868dde" fill-opacity="0.8"/>
<rect x="135.7" y="186.9" width="0.75" height="0.75" fill="#868dde" fill-opacity="0.8"/>
<rect x="118.6" y="182.0" width="0.75" height="0.75" fill="#868dde" fill-opacity="0.8"/>
<rect x="118.8" y="192.6" width="0.75" height="0.75" fill="#858cde" fill-opacity="0.8"/>
<rect x="123.3" y="197.4" width="0.75" height="0.75" fill="#858cde" fill-opacity="0.8"/>
<rect x="135.9" y="191.9" width="0.75" height="0.75" fill="#858cde" fill-opacity="0.8"/>
<rect x="123.3" y="178.8" width="0.75" height="0.75" fill="#858cde" fill-opacity="0.8"/>
<rect x="135.1" y="186.1" width="0.75" height="0.75" fill="#858bde" fill-opacity="0.8"/>
<rect x="122.1" y="179.1" width="0.75" height="0.75" fill="#848bde" fill-opacity="0.8"/>
<rect x="119.4" y="193.8" width="0.75" height="0.75" fill="#848bde" fill-opacity="0.8"/>
<rect x="120.5" y="179.9" width="0.75" height="0.75" fill="#848bde" fill-opacity="0.8"/>
<rect x="132.4" y="183.4" width="0.75" height="0.75" fill="#838add" fill-opacity="0.8"/>
<rect x="134.8" y="193.8" width="0.75" height="0.75" fill="#8289dd" fill-opacity="0.8"/>
<rect x="135.9" y="190.9" width="0.75" height="0.75" fill="#8289dd" fill-opacity="0.8"/>
<rect x="131.5" y="182.6" width="0.75" height="0.75" fill="#8289dd" fill-opacity="0.8"/>
<rect x="120.9" y="195.4" width="0.75" height="0.75" fill="#8289dd" fill-opacity="0.8"/>
<rect x="132.5" y="196.1" width="0.75" height="0.75" fill="#8289dd" fill-opacity="0.8"/>
<rect x="118.5" y="183.7" width="0.75" height="0.75" fill="#8289dd" fill-opacity="0.8"/>
<rect x="122.3" y="196.5" width="0.75" height="0.75" fill="#8189dd" fill-opacity="0.8"/>
<rect x="118.8" y="190.1" width="0.75" height="0.75" fill="#8189dd" fill-opacity="0.8"/>
<rect x="131.2" y="196.8" width="0.75" height="0.75" fill="#8188dd" fill-opacity="0.8"/>
<rect x="123.7" y="197.1" width="0.75" height="0.75" fill="#8188dd" fill-opacity="0.8"/>
<rect x="119.6" y="180.8" width="0.75" height="0.75" fill="#8188dd" fill-opacity="0.8"/>
<rect x="128.4" y="180.1" width="0.75" height="0.75" fill="#8087dc" fill-opacity="0.8"/>
<rect x="134.5" y="185.9" width="0.75" height="0.75" fill="#7f86dc" fill-opacity="0.8"/>
<rect x="119.0" y="189.5" width="0.75" height="0.75" fill="#7f86dc" fill-opacity="0.8"/>
<rect x="124.0" y="179.0" width="0.75" height="0.75" fill="#7e85dc" fill-opacity="0.8"/>
<rect x="120.8" y="180.0" width="0.75" height="0.75" fill="#7e85dc" fill-opacity="0.8"/>
<rect x="119.4" y="192.7" width="0.75" height="0.75" fill="#7e85dc" fill-opacity="0.8"/>
<rect x="119.1" y="182.1" width="0.75" height="0.75" fill="#7c83db" fill-opacity="0.8"/>
<rect x="127.8" y="197.4" width="0.75" height="0.75" fill="#7b83db" fill-opacity="0.8"/>
<rect x="125.5" y="179.2" width="0.75" height="0.75" fill="#7b83db" fill-opacity="0.8"/>
<rect x="120.2" y="193.8" width="0.75" height="0.75" fill="#7b82db" fill-opacity="0.8"/>
<rect x="135.6" y="189.8" width="0.75" height="0.75" fill="#7a82db" fill-opacity="0.8"/>
<rect x="128.1" y="180.2" width="0.75" height="0.75" fill="#7a82db" fill-opacity="0.8"/>
<rect x="130.6" y="196.5" width="0.75" height="0.75" fill="#7a82db" fill-opacity="0.8"/>
<rect x="119.8" y="193.0" width="0.75" height="0.75" fill="#7a81db" fill-opacity="0.8"/>
<rect x="122.7" y="196.1" width="0.75" height="0.75" fill="#7981db" fill-opacity="0.8"/>
<rect x="121.4" y="179.9" width="0.75" height="0.75" fill="#7981da" fill-opacity="0.8"/>
<rect x="119.4" y="191.4" width="0.75" height="0.75" fill="#7980da" fill-opacity="0.8"/>
<rect x="125.8" y="179.4" width="0.75" height="0.75" fill="#7980da" fill-opacity="0.8"/>
<rect x="119.6" y="181.4" width="0.75" height="0.75" fill="#7880da" fill-opacity="0.8"/>
<rect x="121.9" y="179.7" width="0.75" height="0.75" fill="#7880da" fill-opacity="0.8"/>
<rect x="130.2" y="182.2" width="0.75" height="0.75" fill="#7880da" fill-opacity="0.8"/>
<rect x="119.5" y="191.4" width="0.75" height="0.75" fill="#777fda" fill-opacity="0.8"/>
<rect x="134.1" y="193.6" width="0.75" height="0.75" fill="#777eda" fill-opacity="0.8"/>
<rect x="122.2" y="195.6" width="0.75" height="0.75" fill="#767eda" fill-opacity="0.8"/>
<rect x="119.1" y="183.9" width="0.75" height="0.75" fill="#767eda" fill-opacity="0.8"/>
<rect x="133.8" y="194.0" width="0.75" height="0.75" fill="#757dd9" fill-opacity="0.8"/>
<rect x="128.9" y="181.1" width="0.75" height="0.75" fill="#757dd9" fill-opacity="0.8"/>
<rect x="132.5" y="195.1" width="0.75" height="0.75" fill="#747cd9" fill-opacity="0.8"/>
<rect x="129.7" y="181.9" width="0.75" height="0.75" fill="#747cd9" fill-opacity="0.8"/>
<rect x="121.0" y="194.4" width="0.75" height="0.75" fill="#747cd9" fill-opacity="0.8"/>
<rect x="135.0" y="191.5" width="0.75" height="0.75" fill="#737bd9" fill-opacity="0.8"/>
<rect x="124.7" y="179.4" width="0.75" height="0.75" fill="#727ad8" fill-opacity="0.8"/>
<rect x="133.4" y="194.1" width="0.75" height="0.75" fill="#727ad8" fill-opacity="0.8"/>
<rect x="130.1" y="196.3" width="0.75" height="0.75" fill="#717ad8" fill-opacity="0.8"/>
<rect x="129.7" y="182.1" width="0.75" height="0.75" fill="#717ad8" fill-opacity="0.8"/>
<rect x="120.0" y="187.3" width="0.75" height="0.75" fill="#7179d8" fill-opacity="0.8"/>
<rect x="121.2" y="194.4" width="0.75" height="0.75" fill="#7079d8" fill-opacity="0.8"/>
<rect x="119.8" y="189.2" width="0.75" height="0.75" fill="#7079d8" fill-opacity="0.8"/>
<rect x="121.0" y="180.5" width="0.75" height="0.75" fill="#7078d8" fill-opacity="0.8"/>
<rect x="129.9" y="182.5" width="0.75" height="0.75" fill="#7078d8" fill-opacity="0.8"/>
<rect x="130.1" y="196.2" width="0.75" height="0.75" fill="#6f78d8" fill-opacity="0.8"/>
<rect x="132.1" y="195.2" width="0.75" height="0.75" fill="#6f77d8" fill-opacity="0.8"/>
<rect x="121.6" y="180.1" width="0.75" height="0.75" fill="#6f77d8" fill-opacity="0.8"/>
<rect x="128.2" y="180.9" width="0.75" height="0.75" fill="#6d76d7" fill-opacity="0.8"/>
<rect x="123.3" y="179.7" width="0.75" height="0.75" fill="#6d75d7" fill-opacity="0.8"/>
<rect x="128.8" y="196.4" width="0.75" height="0.75" fill="#6a73d6" fill-opacity="0.8"/>
<rect x="119.7" y="184.2" width="0.75" height="0.75" fill="#6a73d6" fill-opacity="0.8"/>
<rect x="129.2" y="182.1" width="0.75" height="0.75" fill="#6972d6" fill-opacity="0.8"/>
<rect x="120.0" y="190.6" width="0.75" height="0.75" fill="#6871d6" fill-opacity="0.8"/>
<rect x="124.8" y="179.7" width="0.75" height="0.75" fill="#6871d6" fill-opacity="0.8"/>
<rect x="121.4" y="194.0" width="0.75" height="0.75" fill="#6770d5" fill-opacity="0.8"/>
<rect x="120.1" y="190.3" width="0.75" height="0.75" fill="#6770d5" fill-opacity="0.8"/>
<rect x="120.5" y="186.9" width="0.75" height="0.75" fill="#666fd5" fill-opacity="0.8"/>
<rect x="133.7" y="193.2" width="0.75" height="0.75" fill="#666fd5" fill-opacity="0.8"/>
<rect x="133.5" y="186.3" width="0.75" height="0.75" fill="#656ed5" fill-opacity="0.8"/>
<rect x="134.8" y="189.0" width="0.75" height="0.75" fill="#656ed5" fill-opacity="0.8"/>
<rect x="120.4" y="181.5" width="0.75" height="0.75" fill="#656ed5" fill-opacity="0.8"/>
<rect x="134.8" y="190.3" width="0.75" height="0.75" fill="#646dd4" fill-opacity="0.8"/>
<rect x="134.8" y="190.1" width="0.75" height="0.75" fill="#646dd4" fill-opacity="0.8"/>
<rect x="125.5" y="179.9" width="0.75" height="0.75" fill="#636dd4" fill-opacity="0.8"/>
<rect x="126.8" y="180.4" width="0.75" height="0.75" fill="#636cd4" fill-opacity="0.8"/>
<rect x="130.7" y="184.0" width="0.75" height="0.75" fill="#636cd4" fill-opacity="0.8"/>
<rect x="129.2" y="196.1" width="0.75" height="0.75" fill="#636cd4" fill-opacity="0.8"/>
<rect x="132.4" y="194.5" width="0.75" height="0.75" fill="#626cd4" fill-opacity="0.8"/>
<rect x="133.8" y="186.8" width="0.75" height="0.75" fill="#626bd4" fill-opacity="0.8"/>
<rect x="120.7" y="192.5" width="0.75" height="0.75" fill="#626bd4" fill-opacity="0.8"/>
<rect x="128.1" y="181.3" width="0.75" height="0.75" fill="#616bd4" fill-opacity="0.8"/>
<rect x="132.1" y="194.6" width="0.75" height="0.75" fill="#616bd4" fill-opacity="0.8"/>
<rect x="132.8" y="194.0" width="0.75" height="0.75" fill="#616bd4" fill-opacity="0.8"/>
<rect x="120.5" y="191.7" width="0.75" height="0.75" fill="#606ad3" fill-opacity="0.8"/>
<rect x="120.7" y="181.4" width="0.75" height="0.75" fill="#6069d3" fill-opacity="0.8"/>
<rect x="130.0" y="183.5" width="0.75" height="0.75" fill="#6069d3" fill-opacity="0.8"/>
<rect x="124.7" y="180.0" width="0.75" height="0.75" fill="#5f68d3" fill-opacity="0.8"/>
<rect x="120.4" y="190.1" width="0.75" height="0.75" fill="#5f68d3" fill-opacity="0.8"/>
<rect x="120.7" y="188.0" width="0.75" height="0.75" fill="#5e68d3" fill-opacity="0.8"/>
<rect x="120.1" y="184.3" width="0.75" height="0.75" fill="#5e68d3" fill-opacity="0.8"/>
<rect x="124.1" y="180.0" width="0.75" height="0.75" fill="#5e67d3" fill-opacity="0.8"/>
<rect x="120.6" y="185.6" width="0.75" height="0.75" fill="#5d67d3" fill-opacity="0.8"/>
<rect x="123.7" y="180.0" width="0.75" height="0.75" fill="#5c66d2" fill-opacity="0.8"/>
<rect x="120.8" y="186.1" width="0.75" height="0.75" fill="#5c66d2" fill-opacity="0.8"/>
<rect x="132.3" y="185.5" width="0.75" height="0.75" fill="#5b65d2" fill-opacity="0.8"/>
<rect x="121.4" y="180.9" width="0.75" height="0.75" fill="#5b65d2" fill-opacity="0.8"/>
<rect x="122.7" y="180.3" width="0.75" height="0.75" fill="#5b65d2" fill-opacity="0.8"/>
<rect x="120.6" y="181.8" width="0.75" height="0.75" fill="#5a64d2" fill-opacity="0.8"/>
<rect x="122.6" y="194.6" width="0.75" height="0.75" fill="#5a64d2" fill-opacity="0.8"/>
<rect x="131.7" y="185.1" width="0.75" height="0.75" fill="#5963d1" fill-opacity="0.8"/>
<rect x="120.9" y="192.4" width="0.75" height="0.75" fill="#5963d1" fill-opacity="0.8"/>
<rect x="128.9" y="182.6" width="0.75" height="0.75" fill="#5963d1" fill-opacity="0.8"/>
<rect x="123.7" y="195.3" width="0.75" height="0.75" fill="#5963d1" fill-opacity="0.8"/>
<rect x="128.4" y="182.1" width="0.75" height="0.75" fill="#5963d1" fill-opacity="0.8"/>
<rect x="133.9" y="192.0" width="0.75" height="0.75" fill="#5963d1" fill-opacity="0.8"/>
<rect x="128.1" y="196.0" width="0.75" height="0.75" fill="#5863d1" fill-opacity="0.8"/>
<rect x="120.7" y="181.8" width="0.75" height="0.75" fill="#5863d1" fill-opacity="0.8"/>
<rect x="120.2" y="183.4" width="0.75" height="0.75" fill="#5863d1" fill-opacity="0.8"/>
<rect x="122.2" y="180.6" width="0.75" height="0.75" fill="#5863d1" fill-opacity="0.8"/>
<rect x="121.1" y="192.6" width="0.75" height="0.75" fill="#5862d1" fill-opacity="0.8"/>
<rect x="134.4" y="190.7" width="0.75" height="0.75" fill="#5862d1" fill-opacity="0.8"/>
<rect x="121.7" y="180.8" width="0.75" height="0.75" fill="#5862d1" fill-opacity="0.8"/>
<rect x="120.9" y="181.6" width="0.75" height="0.75" fill="#5862d1" fill-opacity="0.8"/>
<rect x="125.3" y="195.8" width="0.75" height="0.75" fill="#5862d1" fill-opacity="0.8"/>
<rect x="125.5" y="180.3" width="0.75" height="0.75" fill="#5862d1" fill-opacity="0.8"/>
<rect x="130.3" y="184.2" width="0.75" height="0.75" fill="#5862d0" fill-opacity="0.8"/>
<rect x="120.9" y="192.1" width="0.75" height="0.75" fill="#5862d0" fill-opacity="0.8"/>
<rect x="124.2" y="180.2" width="0.75" height="0.75" fill="#5862d0" fill-opacity="0.8"/>
<rect x="134.1" y="191.6" width="0.75" height="0.75" fill="#5862d0" fill-opacity="0.8"/>
<rect x="130.1" y="195.4" width="0.75" height="0.75" fill="#5862d0" fill-opacity="0.8"/>
<rect x="128.4" y="182.1" width="0.75" height="0.75" fill="#5862d0" fill-opacity="0.8"/>
<rect x="121.1" y="186.5" width="0.75" height="0.75" fill="#5862d0" fill-opacity="0.8"/>
<rect x="120.7" y="189.5" width="0.75" height="0.75" fill="#5862d0" fill-opacity="0.8"/>
<rect x="134.1" y="191.4" width="0.75" height="0.75" fill="#5762d0" fill-opacity="0.8"/>
<rect x="120.7" y="190.8" width="0.75" height="0.75" fill="#5762d0" fill-opacity="0.8"/>
<rect x="131.0" y="184.8" width="0.75" height="0.75" fill="#5761d0" fill-opacity="0.8"/>
<rect x="129.8" y="183.9" width="0.75" height="0.75" fill="#5661d0" fill-opacity="0.8"/>
<rect x="130.0" y="184.1" width="0.75" height="0.75" fill="#5661d0" fill-opacity="0.8"/>
<rect x="123.1" y="194.8" width="0.75" height="0.75" fill="#5661d0" fill-opacity="0.8"/>
<rect x="121.2" y="192.6" width="0.75" height="0.75" fill="#5661cf" fill-opacity="0.8"/>
<rect x="121.0" y="185.5" width="0.75" height="0.75" fill="#5661cf" fill-opacity="0.8"/>
<rect x="131.4" y="194.6" width="0.75" height="0.75" fill="#5661cf" fill-opacity="0.8"/>
<rect x="129.1" y="195.7" width="0.75" height="0.75" fill="#5661cf" fill-opacity="0.8"/>
<rect x="122.6" y="180.6" width="0.75" height="0.75" fill="#5560cf" fill-opacity="0.8"/>
<rect x="133.6" y="187.4" width="0.75" height="0.75" fill="#5560cf" fill-opacity="0.8"/>
<rect x="122.1" y="180.8" width="0.75" height="0.75" fill="#5560cf" fill-opacity="0.8"/>
<rect x="120.8" y="184.7" width="0.75" height="0.75" fill="#545fce" fill-opacity="0.8"/>
<rect x="127.1" y="181.2" width="0.75" height="0.75" fill="#545fce" fill-opacity="0.8"/>
<rect x="121.1" y="181.7" width="0.75" height="0.75" fill="#545fce" fill-opacity="0.8"/>
<rect x="124.5" y="180.4" width="0.75" height="0.75" fill="#535fce" fill-opacity="0.8"/>
<rect x="121.4" y="187.4" width="0.75" height="0.75" fill="#535ece" fill-opacity="0.8"/>
<rect x="128.6" y="182.9" width="0.75" height="0.75" fill="#535ece" fill-opacity="0.8"/>
<rect x="128.7" y="195.6" width="0.75" height="0.75" fill="#535ece" fill-opacity="0.8"/>
<rect x="133.6" y="192.1" width="0.75" height="0.75" fill="#535ece" fill-opacity="0.8"/>
<rect x="122.6" y="180.7" width="0.75" height="0.75" fill="#535ecd" fill-opacity="0.8"/>
<rect x="134.0" y="191.1" width="0.75" height="0.75" fill="#525ecd" fill-opacity="0.8"/>
<rect x="121.2" y="185.5" width="0.75" height="0.75" fill="#525ecd" fill-opacity="0.8"/>
<rect x="126.0" y="180.7" width="0.75" height="0.75" fill="#525ecd" fill-opacity="0.8"/>
<rect x="124.5" y="180.4" width="0.75" height="0.75" fill="#525dcd" fill-opacity="0.8"/>
<rect x="122.0" y="193.5" width="0.75" height="0.75" fill="#525dcd" fill-opacity="0.8"/>
<rect x="122.8" y="194.2" width="0.75" height="0.75" fill="#515dcd" fill-opacity="0.8"/>
<rect x="121.0" y="190.3" width="0.75" height="0.75" fill="#515dcc" fill-opacity="0.8"/>
<rect x="130.9" y="194.7" width="0.75" height="0.75" fill="#515dcc" fill-opacity="0.8"/>
<rect x="129.6" y="184.2" width="0.75" height="0.75" fill="#515dcc" fill-opacity="0.8"/>
<rect x="134.0" y="188.9" width="0.75" height="0.75" fill="#505ccc" fill-opacity="0.8"/>
<rect x="121.8" y="193.1" width="0.75" height="0.75" fill="#505ccc" fill-opacity="0.8"/>
<rect x="123.3" y="194.6" width="0.75" height="0.75" fill="#505ccc" fill-opacity="0.8"/>
<rect x="124.4" y="180.5" width="0.75" height="0.75" fill="#505ccc" fill-opacity="0.8"/>
<rect x="121.7" y="192.9" width="0.75" height="0.75" fill="#505ccc" fill-opacity="0.8"/>
<rect x="123.3" y="194.6" width="0.75" height="0.75" fill="#505ccc" fill-opacity="0.8"/>
<rect x="120.8" y="183.3" width="0.75" height="0.75" fill="#505ccc" fill-opacity="0.8"/>
<rect x="126.3" y="181.0" width="0.75" height="0.75" fill="#4f5bcb" fill-opacity="0.8"/>
<rect x="132.7" y="186.6" width="0.75" height="0.75" fill="#4f5bcb" fill-opacity="0.8"/>
<rect x="132.8" y="186.8" width="0.75" height="0.75" fill="#4f5bcb" fill-opacity="0.8"/>
<rect x="134.0" y="189.6" width="0.75" height="0.75" fill="#4e5bcb" fill-opacity="0.8"/>
<rect x="121.2" y="184.9" width="0.75" height="0.75" fill="#4e5bcb" fill-opacity="0.8"/>
<rect x="128.9" y="183.7" width="0.75" height="0.75" fill="#4e5acb" fill-opacity="0.8"/>
<rect x="121.9" y="181.4" width="0.75" height="0.75" fill="#4e5acb" fill-opacity="0.8"/>
<rect x="132.4" y="193.5" width="0.75" height="0.75" fill="#4e5acb" fill-opacity="0.8"/>
<rect x="120.9" y="183.1" width="0.75" height="0.75" fill="#4e5aca" fill-opacity="0.8"/>
<rect x="132.4" y="186.4" width="0.75" height="0.75" fill="#4e5aca" fill-opacity="0.8"/>
<rect x="126.0" y="181.0" width="0.75" height="0.75" fill="#4e5aca" fill-opacity="0.8"/>
<rect x="120.9" y="183.3" width="0.75" height="0.75" fill="#4e5aca" fill-opacity="0.8"/>
<rect x="124.8" y="180.7" width="0.75" height="0.75" fill="#4d5aca" fill-opacity="0.8"/>
<rect x="121.4" y="191.9" width="0.75" height="0.75" fill="#4d59ca" fill-opacity="0.8"/>
<rect x="125.1" y="195.2" width="0.75" height="0.75" fill="#4d59ca" fill-opacity="0.8"/>
<rect x="128.2" y="183.0" width="0.75" height="0.75" fill="#4d59ca" fill-opacity="0.8"/>
<rect x="121.7" y="185.7" width="0.75" height="0.75" fill="#4d59ca" fill-opacity="0.8"/>
<rect x="121.2" y="190.6" width="0.75" height="0.75" fill="#4c59ca" fill-opacity="0.8"/>
<rect x="128.5" y="183.5" width="0.75" height="0.75" fill="#4c59ca" fill-opacity="0.8"/>
<rect x="128.3" y="195.4" width="0.75" height="0.75" fill="#4c59ca" fill-opacity="0.8"/>
<rect x="121.2" y="182.4" width="0.75" height="0.75" fill="#4c59c9" fill-opacity="0.8"/>
<rect x="130.4" y="194.8" width="0.75" height="0.75" fill="#4c59c9" fill-opacity="0.8"/>
<rect x="128.8" y="183.8" width="0.75" height="0.75" fill="#4c59c9" fill-opacity="0.8"/>
<rect x="131.9" y="186.0" width="0.75" height="0.75" fill="#4c59c9" fill-opacity="0.8"/>
<rect x="121.7" y="187.9" width="0.75" height="0.75" fill="#4c59c9" fill-opacity="0.8"/>
<rect x="121.4" y="191.6" width="0.75" height="0.75" fill="#4c58c9" fill-opacity="0.8"/>
<rect x="128.9" y="184.0" width="0.75" height="0.75" fill="#4c58c9" fill-opacity="0.8"/>
<rect x="133.3" y="192.1" width="0.75" height="0.75" fill="#4c58c9" fill-opacity="0.8"/>
<rect x="133.2" y="192.2" width="0.75" height="0.75" fill="#4b58c9" fill-opacity="0.8"/>
<rect x="121.2" y="184.4" width="0.75" height="0.75" fill="#4b58c9" fill-opacity="0.8"/>
<rect x="126.1" y="181.1" width="0.75" height="0.75" fill="#4b58c9" fill-opacity="0.8"/>
<rect x="123.5" y="180.8" width="0.75" height="0.75" fill="#4b58c9" fill-opacity="0.8"/>
<rect x="121.5" y="184.8" width="0.75" height="0.75" fill="#4a57c8" fill-opacity="0.8"/>
<rect x="122.0" y="186.1" width="0.75" height="0.75" fill="#4a57c8" fill-opacity="0.8"/>
<rect x="122.2" y="181.4" width="0.75" height="0.75" fill="#4a57c8" fill-opacity="0.8"/>
<rect x="122.4" y="181.3" width="0.75" height="0.75" fill="#4957c8" fill-opacity="0.8"/>
<rect x="121.2" y="182.8" width="0.75" height="0.75" fill="#4956c7" fill-opacity="0.8"/>
<rect x="121.6" y="188.8" width="0.75" height="0.75" fill="#4956c7" fill-opacity="0.8"/>
<rect x="133.3" y="187.9" width="0.75" height="0.75" fill="#4956c7" fill-opacity="0.8"/>
<rect x="133.1" y="192.1" width="0.75" height="0.75" fill="#4856c7" fill-opacity="0.8"/>
<rect x="121.6" y="182.0" width="0.75" height="0.75" fill="#4856c7" fill-opacity="0.8"/>
<rect x="131.5" y="194.0" width="0.75" height="0.75" fill="#4856c7" fill-opacity="0.8"/>
<rect x="121.2" y="183.4" width="0.75" height="0.75" fill="#4856c7" fill-opacity="0.8"/>
<rect x="133.4" y="188.1" width="0.75" height="0.75" fill="#4855c7" fill-opacity="0.8"/>
<rect x="129.5" y="184.7" width="0.75" height="0.75" fill="#4855c7" fill-opacity="0.8"/>
<rect x="122.6" y="193.5" width="0.75" height="0.75" fill="#4755c7" fill-opacity="0.8"/>
<rect x="132.5" y="193.0" width="0.75" height="0.75" fill="#4755c6" fill-opacity="0.8"/>
<rect x="123.0" y="181.1" width="0.75" height="0.75" fill="#4755c6" fill-opacity="0.8"/>
<rect x="122.1" y="185.6" width="0.75" height="0.75" fill="#4755c6" fill-opacity="0.8"/>
<rect x="127.7" y="182.9" width="0.75" height="0.75" fill="#4755c6" fill-opacity="0.8"/>
<rect x="132.4" y="186.7" width="0.75" height="0.75" fill="#4755c6" fill-opacity="0.8"/>
<rect x="129.7" y="194.8" width="0.75" height="0.75" fill="#4654c6" fill-opacity="0.8"/>
<rect x="124.6" y="194.8" width="0.75" height="0.75" fill="#4654c6" fill-opacity="0.8"/>
<rect x="122.3" y="186.5" width="0.75" height="0.75" fill="#4654c6" fill-opacity="0.8"/>
<rect x="123.4" y="194.1" width="0.75" height="0.75" fill="#4654c6" fill-opacity="0.8"/>
<rect x="132.0" y="193.4" width="0.75" height="0.75" fill="#4553c5" fill-opacity="0.8"/>
<rect x="130.5" y="185.4" width="0.75" height="0.75" fill="#4553c5" fill-opacity="0.8"/>
<rect x="124.9" y="181.0" width="0.75" height="0.75" fill="#4553c5" fill-opacity="0.8"/>
<rect x="131.6" y="193.8" width="0.75" height="0.75" fill="#4553c5" fill-opacity="0.8"/>
<rect x="123.5" y="181.1" width="0.75" height="0.75" fill="#4553c5" fill-opacity="0.8"/>
<rect x="133.4" y="191.3" width="0.75" height="0.75" fill="#4553c5" fill-opacity="0.8"/>
<rect x="133.5" y="190.7" width="0.75" height="0.75" fill="#4453c5" fill-opacity="0.8"/>
<rect x="131.4" y="193.9" width="0.75" height="0.75" fill="#4452c5" fill-opacity="0.8"/>
<rect x="133.0" y="192.2" width="0.75" height="0.75" fill="#4452c5" fill-opacity="0.8"/>
<rect x="123.9" y="181.1" width="0.75" height="0.75" fill="#4452c4" fill-opacity="0.8"/>
<rect x="123.7" y="181.1" width="0.75" height="0.75" fill="#4352c4" fill-opacity="0.8"/>
<rect x="121.7" y="189.0" width="0.75" height="0.75" fill="#4352c4" fill-opacity="0.8"/>
<rect x="124.4" y="194.6" width="0.75" height="0.75" fill="#4351c4" fill-opacity="0.8"/>
<rect x="131.2" y="185.9" width="0.75" height="0.75" fill="#4351c4" fill-opacity="0.8"/>
<rect x="121.6" y="183.8" width="0.75" height="0.75" fill="#4251c4" fill-opacity="0.8"/>
<rect x="122.9" y="181.4" width="0.75" height="0.75" fill="#4251c3" fill-opacity="0.8"/>
<rect x="130.2" y="185.4" width="0.75" height="0.75" fill="#4250c3" fill-opacity="0.8"/>
<rect x="127.0" y="182.4" width="0.75" height="0.75" fill="#4250c3" fill-opacity="0.8"/>
<rect x="128.1" y="183.9" width="0.75" height="0.75" fill="#4250c3" fill-opacity="0.8"/>
<rect x="132.9" y="192.1" width="0.75" height="0.75" fill="#4150c3" fill-opacity="0.8"/>
<rect x="123.8" y="181.2" width="0.75" height="0.75" fill="#4150c3" fill-opacity="0.8"/>
<rect x="122.1" y="188.2" width="0.75" height="0.75" fill="#4150c3" fill-opacity="0.8"/>
<rect x="123.7" y="181.2" width="0.75" height="0.75" fill="#4150c3" fill-opacity="0.8"/>
<rect x="122.3" y="187.4" width="0.75" height="0.75" fill="#4150c3" fill-opacity="0.8"/>
<rect x="121.9" y="188.6" width="0.75" height="0.75" fill="#4150c3" fill-opacity="0.8"/>
<rect x="133.5" y="189.2" width="0.75" height="0.75" fill="#4150c3" fill-opacity="0.8"/>
<rect x="122.0" y="188.4" width="0.75" height="0.75" fill="#4150c3" fill-opacity="0.8"/>
<rect x="122.3" y="185.3" width="0.75" height="0.75" fill="#4150c3" fill-opacity="0.8"/>
<rect x="124.1" y="194.4" width="0.75" height="0.75" fill="#404fc2" fill-opacity="0.8"/>
<rect x="126.8" y="182.3" width="0.75" height="0.75" fill="#404fc2" fill-opacity="0.8"/>
<rect x="132.9" y="192.0" width="0.75" height="0.75" fill="#404fc2" fill-opacity="0.8"/>
<rect x="122.5" y="181.7" width="0.75" height="0.75" fill="#404fc2" fill-opacity="0.8"/>
<rect x="128.5" y="195.0" width="0.75" height="0.75" fill="#3f4fc2" fill-opacity="0.8"/>
<rect x="128.3" y="195.0" width="0.75" height="0.75" fill="#3f4ec2" fill-opacity="0.8"/>
<rect x="121.9" y="191.7" width="0.75" height="0.75" fill="#3e4ec1" fill-opacity="0.8"/>
<rect x="125.9" y="181.7" width="0.75" height="0.75" fill="#3e4ec1" fill-opacity="0.8"/>
<rect x="127.6" y="195.1" width="0.75" height="0.75" fill="#3e4ec1" fill-opacity="0.8"/>
<rect x="127.4" y="183.3" width="0.75" height="0.75" fill="#3d4dc0" fill-opacity="0.8"/>
<rect x="125.5" y="181.6" width="0.75" height="0.75" fill="#3d4dc0" fill-opacity="0.8"/>
<rect x="122.4" y="182.0" width="0.75" height="0.75" fill="#3c4cc0" fill-opacity="0.8"/>
<rect x="122.5" y="185.1" width="0.75" height="0.75" fill="#3c4cc0" fill-opacity="0.8"/>
<rect x="122.7" y="186.9" width="0.75" height="0.75" fill="#3c4cc0" fill-opacity="0.8"/>
<rect x="127.7" y="183.9" width="0.75" height="0.75" fill="#3c4cc0" fill-opacity="0.8"/>
<rect x="127.1" y="183.1" width="0.75" height="0.75" fill="#3b4bbf" fill-opacity="0.8"/>
<rect x="127.6" y="183.8" width="0.75" height="0.75" fill="#3b4bbf" fill-opacity="0.8"/>
<rect x="123.2" y="181.6" width="0.75" height="0.75" fill="#3b4bbf" fill-opacity="0.8"/>
<rect x="127.1" y="183.1" width="0.75" height="0.75" fill="#3b4bbf" fill-opacity="0.8"/>
<rect x="122.1" y="182.7" width="0.75" height="0.75" fill="#3a4bbf" fill-opacity="0.8"/>
<rect x="125.8" y="181.9" width="0.75" height="0.75" fill="#3a4abe" fill-opacity="0.8"/>
<rect x="122.3" y="184.3" width="0.75" height="0.75" fill="#3a4abe" fill-opacity="0.8"/>
<rect x="133.3" y="189.3" width="0.75" height="0.75" fill="#3a4abe" fill-opacity="0.8"/>
<rect x="122.1" y="191.9" width="0.75" height="0.75" fill="#394abe" fill-opacity="0.8"/>
<rect x="132.3" y="192.6" width="0.75" height="0.75" fill="#394abe" fill-opacity="0.8"/>
<rect x="122.4" y="182.3" width="0.75" height="0.75" fill="#394abe" fill-opacity="0.8"/>
<rect x="122.5" y="182.2" width="0.75" height="0.75" fill="#3949be" fill-opacity="0.8"/>
<rect x="123.0" y="185.7" width="0.75" height="0.75" fill="#3849be" fill-opacity="0.8"/>
<rect x="129.8" y="194.4" width="0.75" height="0.75" fill="#3849be" fill-opacity="0.8"/>
<rect x="121.9" y="190.5" width="0.75" height="0.75" fill="#3849be" fill-opacity="0.8"/>
<rect x="125.0" y="181.6" width="0.75" height="0.75" fill="#3849bd" fill-opacity="0.8"/>
<rect x="123.0" y="186.3" width="0.75" height="0.75" fill="#3848bd" fill-opacity="0.8"/>
<rect x="125.9" y="182.1" width="0.75" height="0.75" fill="#3748bd" fill-opacity="0.8"/>
<rect x="123.1" y="186.2" width="0.75" height="0.75" fill="#3748bd" fill-opacity="0.8"/>
<rect x="130.8" y="193.8" width="0.75" height="0.75" fill="#3748bd" fill-opacity="0.8"/>
<rect x="122.7" y="182.1" width="0.75" height="0.75" fill="#3748bd" fill-opacity="0.8"/>
<rect x="122.9" y="181.9" width="0.75" height="0.75" fill="#3748bd" fill-opacity="0.8"/>
<rect x="131.3" y="193.5" width="0.75" height="0.75" fill="#3748bd" fill-opacity="0.8"/>
<rect x="122.5" y="192.5" width="0.75" height="0.75" fill="#3647bc" fill-opacity="0.8"/>
<rect x="122.3" y="188.6" width="0.75" height="0.75" fill="#3647bc" fill-opacity="0.8"/>
<rect x="126.8" y="183.2" width="0.75" height="0.75" fill="#3647bc" fill-opacity="0.8"/>
<rect x="125.2" y="181.8" width="0.75" height="0.75" fill="#3647bc" fill-opacity="0.8"/>
<rect x="128.1" y="194.8" width="0.75" height="0.75" fill="#3647bc" fill-opacity="0.8"/>
<rect x="122.3" y="183.0" width="0.75" height="0.75" fill="#3647bc" fill-opacity="0.8"/>
<rect x="133.1" y="190.6" width="0.75" height="0.75" fill="#3647bc" fill-opacity="0.8"/>
<rect x="130.3" y="185.8" width="0.75" height="0.75" fill="#3547bc" fill-opacity="0.8"/>
<rect x="122.8" y="182.1" width="0.75" height="0.75" fill="#3547bc" fill-opacity="0.8"/>
<rect x="133.1" y="190.4" width="0.75" height="0.75" fill="#3546bc" fill-opacity="0.8"/>
<rect x="122.4" y="182.7" width="0.75" height="0.75" fill="#3546bc" fill-opacity="0.8"/>
<rect x="123.6" y="193.6" width="0.75" height="0.75" fill="#3546bb" fill-opacity="0.8"/>
<rect x="132.9" y="188.4" width="0.75" height="0.75" fill="#3546bb" fill-opacity="0.8"/>
<rect x="122.1" y="189.7" width="0.75" height="0.75" fill="#3546bb" fill-opacity="0.8"/>
<rect x="122.7" y="187.8" width="0.75" height="0.75" fill="#3446bb" fill-opacity="0.8"/>
<rect x="122.1" y="190.9" width="0.75" height="0.75" fill="#3445bb" fill-opacity="0.8"/>
<rect x="126.1" y="182.5" width="0.75" height="0.75" fill="#3445bb" fill-opacity="0.8"/>
<rect x="127.1" y="184.0" width="0.75" height="0.75" fill="#3445bb" fill-opacity="0.8"/>
<rect x="133.1" y="190.3" width="0.75" height="0.75" fill="#3345bb" fill-opacity="0.8"/>
<rect x="122.4" y="183.1" width="0.75" height="0.75" fill="#3344ba" fill-opacity="0.8"/>
<rect x="122.6" y="188.2" width="0.75" height="0.75" fill="#3344ba" fill-opacity="0.8"/>
<rect x="131.5" y="193.1" width="0.75" height="0.75" fill="#3244ba" fill-opacity="0.8"/>
<rect x="131.4" y="186.6" width="0.75" height="0.75" fill="#3244ba" fill-opacity="0.8"/>
<rect x="123.0" y="184.7" width="0.75" height="0.75" fill="#3244ba" fill-opacity="0.8"/>
<rect x="124.5" y="194.1" width="0.75" height="0.75" fill="#3244ba" fill-opacity="0.8"/>
<rect x="122.4" y="191.9" width="0.75" height="0.75" fill="#3244ba" fill-opacity="0.8"/>
<rect x="122.4" y="188.7" width="0.75" height="0.75" fill="#3244ba" fill-opacity="0.8"/>
<rect x="122.4" y="191.9" width="0.75" height="0.75" fill="#3244ba" fill-opacity="0.8"/>
<rect x="126.2" y="182.8" width="0.75" height="0.75" fill="#3244ba" fill-opacity="0.8"/>
<rect x="133.0" y="189.1" width="0.75" height="0.75" fill="#3143b9" fill-opacity="0.8"/>
<rect x="133.0" y="190.3" width="0.75" height="0.75" fill="#3143b9" fill-opacity="0.8"/>
<rect x="123.4" y="185.4" width="0.75" height="0.75" fill="#3143b9" fill-opacity="0.8"/>
<rect x="132.2" y="192.3" width="0.75" height="0.75" fill="#3143b9" fill-opacity="0.8"/>
<rect x="127.5" y="184.6" width="0.75" height="0.75" fill="#3143b9" fill-opacity="0.8"/>
<rect x="125.7" y="182.4" width="0.75" height="0.75" fill="#3143b9" fill-opacity="0.8"/>
<rect x="127.7" y="184.7" width="0.75" height="0.75" fill="#3043b9" fill-opacity="0.8"/>
<rect x="123.3" y="185.1" width="0.75" height="0.75" fill="#3042b9" fill-opacity="0.8"/>
<rect x="128.2" y="185.0" width="0.75" height="0.75" fill="#3042b9" fill-opacity="0.8"/>
<rect x="125.0" y="194.3" width="0.75" height="0.75" fill="#3042b9" fill-opacity="0.8"/>
<rect x="128.6" y="194.5" width="0.75" height="0.75" fill="#3042b9" fill-opacity="0.8"/>
<rect x="126.5" y="183.6" width="0.75" height="0.75" fill="#2f41b8" fill-opacity="0.8"/>
<rect x="126.2" y="183.1" width="0.75" height="0.75" fill="#2f41b8" fill-opacity="0.8"/>
<rect x="127.4" y="184.7" width="0.75" height="0.75" fill="#2f41b8" fill-opacity="0.8"/>
<rect x="122.9" y="184.1" width="0.75" height="0.75" fill="#2f41b8" fill-opacity="0.8"/>
<rect x="128.6" y="185.3" width="0.75" height="0.75" fill="#2f41b8" fill-opacity="0.8"/>
<rect x="123.2" y="187.3" width="0.75" height="0.75" fill="#2e41b8" fill-opacity="0.8"/>
<rect x="122.2" y="190.8" width="0.75" height="0.75" fill="#2e41b8" fill-opacity="0.8"/>
<rect x="132.0" y="187.3" width="0.75" height="0.75" fill="#2e41b8" fill-opacity="0.8"/>
<rect x="127.3" y="194.6" width="0.75" height="0.75" fill="#2e41b8" fill-opacity="0.8"/>
<rect x="123.2" y="193.1" width="0.75" height="0.75" fill="#2e41b7" fill-opacity="0.8"/>
<rect x="123.6" y="182.1" width="0.75" height="0.75" fill="#2e41b7" fill-opacity="0.8"/>
<rect x="122.7" y="183.3" width="0.75" height="0.75" fill="#2e41b7" fill-opacity="0.8"/>
<rect x="123.1" y="187.3" width="0.75" height="0.75" fill="#2e41b7" fill-opacity="0.8"/>
<rect x="126.8" y="184.1" width="0.75" height="0.75" fill="#2e40b7" fill-opacity="0.8"/>
<rect x="126.7" y="184.1" width="0.75" height="0.75" fill="#2e40b7" fill-opacity="0.8"/>
<rect x="123.2" y="184.6" width="0.75" height="0.75" fill="#2d40b7" fill-opacity="0.8"/>
<rect x="123.5" y="185.0" width="0.75" height="0.75" fill="#2d40b7" fill-opacity="0.8"/>
<rect x="132.1" y="187.5" width="0.75" height="0.75" fill="#2d40b7" fill-opacity="0.8"/>
<rect x="132.5" y="188.1" width="0.75" height="0.75" fill="#2d40b7" fill-opacity="0.8"/>
<rect x="125.1" y="194.2" width="0.75" height="0.75" fill="#2d40b7" fill-opacity="0.8"/>
<rect x="122.8" y="188.1" width="0.75" height="0.75" fill="#2d40b7" fill-opacity="0.8"/>
<rect x="126.4" y="194.6" width="0.75" height="0.75" fill="#2d40b7" fill-opacity="0.8"/>
<rect x="122.9" y="183.7" width="0.75" height="0.75" fill="#2d40b7" fill-opacity="0.8"/>
<rect x="125.3" y="194.3" width="0.75" height="0.75" fill="#2c3fb6" fill-opacity="0.8"/>
<rect x="124.0" y="182.2" width="0.75" height="0.75" fill="#2c3fb6" fill-opacity="0.8"/>
<rect x="125.6" y="182.6" width="0.75" height="0.75" fill="#2c3fb6" fill-opacity="0.8"/>
<rect x="132.9" y="189.3" width="0.75" height="0.75" fill="#2c3fb6" fill-opacity="0.8"/>
<rect x="127.5" y="184.8" width="0.75" height="0.75" fill="#2c3fb6" fill-opacity="0.8"/>
<rect x="126.9" y="184.5" width="0.75" height="0.75" fill="#2b3fb6" fill-opacity="0.8"/>
<rect x="125.4" y="194.3" width="0.75" height="0.75" fill="#2b3fb6" fill-opacity="0.8"/>
<rect x="132.5" y="191.5" width="0.75" height="0.75" fill="#2b3eb6" fill-opacity="0.8"/>
<rect x="126.8" y="184.4" width="0.75" height="0.75" fill="#2b3eb6" fill-opacity="0.8"/>
<rect x="123.8" y="185.4" width="0.75" height="0.75" fill="#2b3eb6" fill-opacity="0.8"/>
<rect x="125.0" y="194.1" width="0.75" height="0.75" fill="#2b3eb5" fill-opacity="0.8"/>
<rect x="126.2" y="194.5" width="0.75" height="0.75" fill="#2b3eb5" fill-opacity="0.8"/>
<rect x="123.2" y="184.1" width="0.75" height="0.75" fill="#2b3eb5" fill-opacity="0.8"/>
<rect x="123.7" y="185.0" width="0.75" height="0.75" fill="#2a3eb5" fill-opacity="0.8"/>
<rect x="125.4" y="182.6" width="0.75" height="0.75" fill="#2a3eb5" fill-opacity="0.8"/>
<rect x="123.1" y="182.8" width="0.75" height="0.75" fill="#2a3eb5" fill-opacity="0.8"/>
<rect x="129.9" y="186.0" width="0.75" height="0.75" fill="#2a3eb5" fill-opacity="0.8"/>
<rect x="123.8" y="185.1" width="0.75" height="0.75" fill="#2a3eb5" fill-opacity="0.8"/>
<rect x="123.6" y="182.4" width="0.75" height="0.75" fill="#2a3db5" fill-opacity="0.8"/>
<rect x="123.4" y="187.2" width="0.75" height="0.75" fill="#2a3db5" fill-opacity="0.8"/>
<rect x="122.6" y="189.0" width="0.75" height="0.75" fill="#2a3db5" fill-opacity="0.8"/>
<rect x="126.0" y="183.4" width="0.75" height="0.75" fill="#2a3db5" fill-opacity="0.8"/>
<rect x="122.4" y="190.9" width="0.75" height="0.75" fill="#293db5" fill-opacity="0.8"/>
<rect x="132.8" y="190.5" width="0.75" height="0.75" fill="#293db5" fill-opacity="0.8"/>
<rect x="123.3" y="182.8" width="0.75" height="0.75" fill="#293db5" fill-opacity="0.8"/>
<rect x="123.2" y="183.8" width="0.75" height="0.75" fill="#293db4" fill-opacity="0.8"/>
<rect x="130.2" y="186.1" width="0.75" height="0.75" fill="#293db4" fill-opacity="0.8"/>
<rect x="123.6" y="182.5" width="0.75" height="0.75" fill="#293db4" fill-opacity="0.8"/>
<rect x="131.2" y="186.8" width="0.75" height="0.75" fill="#293db4" fill-opacity="0.8"/>
<rect x="126.1" y="183.7" width="0.75" height="0.75" fill="#293db4" fill-opacity="0.8"/>
<rect x="123.4" y="184.1" width="0.75" height="0.75" fill="#293cb4" fill-opacity="0.8"/>
<rect x="124.0" y="185.3" width="0.75" height="0.75" fill="#283cb4" fill-opacity="0.8"/>
<rect x="124.0" y="193.5" width="0.75" height="0.75" fill="#283cb4" fill-opacity="0.8"/>
<rect x="124.0" y="185.1" width="0.75" height="0.75" fill="#283cb4" fill-opacity="0.8"/>
<rect x="123.3" y="187.4" width="0.75" height="0.75" fill="#283cb4" fill-opacity="0.8"/>
<rect x="122.4" y="190.7" width="0.75" height="0.75" fill="#283cb4" fill-opacity="0.8"/>
<rect x="123.9" y="186.3" width="0.75" height="0.75" fill="#283cb4" fill-opacity="0.8"/>
<rect x="124.1" y="182.5" width="0.75" height="0.75" fill="#283cb4" fill-opacity="0.8"/>
<rect x="125.4" y="183.0" width="0.75" height="0.75" fill="#283cb4" fill-opacity="0.8"/>
<rect x="132.8" y="189.4" width="0.75" height="0.75" fill="#283cb4" fill-opacity="0.8"/>
<rect x="125.3" y="182.8" width="0.75" height="0.75" fill="#283cb4" fill-opacity="0.8"/>
<rect x="131.8" y="187.4" width="0.75" height="0.75" fill="#283cb4" fill-opacity="0.8"/>
<rect x="126.1" y="184.1" width="0.75" height="0.75" fill="#283cb4" fill-opacity="0.8"/>
<rect x="124.0" y="182.6" width="0.75" height="0.75" fill="#283cb4" fill-opacity="0.8"/>
<rect x="123.0" y="192.4" width="0.75" height="0.75" fill="#283cb4" fill-opacity="0.8"/>
<rect x="131.3" y="187.0" width="0.75" height="0.75" fill="#283db4" fill-opacity="0.8"/>
<rect x="122.8" y="188.5" width="0.75" height="0.75" fill="#283db4" fill-opacity="0.8"/>
<rect x="123.7" y="186.9" width="0.75" height="0.75" fill="#283db4" fill-opacity="0.8"/>
<rect x="124.2" y="185.1" width="0.75" height="0.75" fill="#283db4" fill-opacity="0.8"/>
<rect x="123.5" y="183.8" width="0.75" height="0.75" fill="#283db4" fill-opacity="0.8"/>
<rect x="124.0" y="184.7" width="0.75" height="0.75" fill="#283db4" fill-opacity="0.8"/>
<rect x="130.7" y="193.4" width="0.75" height="0.75" fill="#283db4" fill-opacity="0.8"/>
<rect x="125.0" y="182.8" width="0.75" height="0.75" fill="#283db4" fill-opacity="0.8"/>
<rect x="123.7" y="186.9" width="0.75" height="0.75" fill="#283db4" fill-opacity="0.8"/>
<rect x="131.3" y="187.0" width="0.75" height="0.75" fill="#283db4" fill-opacity="0.8"/>
<rect x="124.5" y="182.7" width="0.75" height="0.75" fill="#283db4" fill-opacity="0.8"/>
<rect x="131.2" y="186.9" width="0.75" height="0.75" fill="#283eb4" fill-opacity="0.8"/>
<rect x="122.4" y="190.6" width="0.75" height="0.75" fill="#283eb4" fill-opacity="0.8"/>
<rect x="124.1" y="184.7" width="0.75" height="0.75" fill="#283eb4" fill-opacity="0.8"/>
<rect x="124.4" y="185.3" width="0.75" height="0.75" fill="#283eb4" fill-opacity="0.8"/>
<rect x="132.0" y="192.0" width="0.75" height="0.75" fill="#283eb4" fill-opacity="0.8"/>
<rect x="130.8" y="186.6" width="0.75" height="0.75" fill="#283eb4" fill-opacity="0.8"/>
<rect x="122.5" y="191.0" width="0.75" height="0.75" fill="#283eb4" fill-opacity="0.8"/>
<rect x="126.0" y="194.3" width="0.75" height="0.75" fill="#283eb4" fill-opacity="0.8"/>
<rect x="124.2" y="184.6" width="0.75" height="0.75" fill="#283eb4" fill-opacity="0.8"/>
<rect x="126.9" y="185.0" width="0.75" height="0.75" fill="#283eb4" fill-opacity="0.8"/>
<rect x="123.6" y="183.6" width="0.75" height="0.75" fill="#283eb4" fill-opacity="0.8"/>
<rect x="122.8" y="188.7" width="0.75" height="0.75" fill="#283eb4" fill-opacity="0.8"/>
<rect x="125.0" y="183.0" width="0.75" height="0.75" fill="#283eb4" fill-opacity="0.8"/>
<rect x="125.0" y="194.0" width="0.75" height="0.75" fill="#283fb4" fill-opacity="0.8"/>
<rect x="124.0" y="182.9" width="0.75" height="0.75" fill="#283fb4" fill-opacity="0.8"/>
<rect x="125.6" y="184.0" width="0.75" height="0.75" fill="#283fb4" fill-opacity="0.8"/>
<rect x="122.6" y="189.7" width="0.75" height="0.75" fill="#283fb4" fill-opacity="0.8"/>
<rect x="123.3" y="192.7" width="0.75" height="0.75" fill="#283fb4" fill-opacity="0.8"/>
<rect x="132.6" y="190.8" width="0.75" height="0.75" fill="#283fb4" fill-opacity="0.8"/>
<rect x="125.7" y="184.3" width="0.75" height="0.75" fill="#283fb4" fill-opacity="0.8"/>
<rect x="123.8" y="183.7" width="0.75" height="0.75" fill="#283fb4" fill-opacity="0.8"/>
<rect x="130.0" y="193.7" width="0.75" height="0.75" fill="#283fb4" fill-opacity="0.8"/>
<rect x="124.5" y="185.6" width="0.75" height="0.75" fill="#283fb4" fill-opacity="0.8"/>
<rect x="123.3" y="187.7" width="0.75" height="0.75" fill="#283fb4" fill-opacity="0.8"/>
<rect x="125.4" y="183.9" width="0.75" height="0.75" fill="#283fb4" fill-opacity="0.8"/>
<rect x="131.9" y="192.1" width="0.75" height="0.75" fill="#2840b4" fill-opacity="0.8"/>
<rect x="125.1" y="183.4" width="0.75" height="0.75" fill="#2840b4" fill-opacity="0.8"/>
<rect x="124.3" y="184.4" width="0.75" height="0.75" fill="#2840b4" fill-opacity="0.8"/>
<rect x="123.8" y="183.5" width="0.75" height="0.75" fill="#2840b4" fill-opacity="0.8"/>
<rect x="123.9" y="183.4" width="0.75" height="0.75" fill="#2840b4" fill-opacity="0.8"/>
<rect x="125.4" y="184.2" width="0.75" height="0.75" fill="#2840b4" fill-opacity="0.8"/>
<rect x="122.8" y="188.9" width="0.75" height="0.75" fill="#2840b4" fill-opacity="0.8"/>
<rect x="124.2" y="193.5" width="0.75" height="0.75" fill="#2840b4" fill-opacity="0.8"/>
<rect x="124.2" y="183.9" width="0.75" height="0.75" fill="#2840b4" fill-opacity="0.8"/>
<rect x="124.7" y="185.5" width="0.75" height="0.75" fill="#2841b5" fill-opacity="0.8"/>
<rect x="125.0" y="184.5" width="0.75" height="0.75" fill="#2841b5" fill-opacity="0.8"/>
<rect x="124.2" y="183.5" width="0.75" height="0.75" fill="#2841b5" fill-opacity="0.8"/>
<rect x="132.5" y="188.9" width="0.75" height="0.75" fill="#2841b5" fill-opacity="0.8"/>
<rect x="124.8" y="185.4" width="0.75" height="0.75" fill="#2841b5" fill-opacity="0.8"/>
<rect x="124.9" y="185.2" width="0.75" height="0.75" fill="#2841b5" fill-opacity="0.8"/>
<rect x="124.5" y="193.7" width="0.75" height="0.75" fill="#2841b5" fill-opacity="0.8"/>
<rect x="125.9" y="184.9" width="0.75" height="0.75" fill="#2841b5" fill-opacity="0.8"/>
<rect x="124.8" y="183.8" width="0.75" height="0.75" fill="#2841b5" fill-opacity="0.8"/>
<rect x="124.6" y="183.8" width="0.75" height="0.75" fill="#2841b5" fill-opacity="0.8"/>
<rect x="124.5" y="183.6" width="0.75" height="0.75" fill="#2841b5" fill-opacity="0.8"/>
<rect x="132.6" y="190.2" width="0.75" height="0.75" fill="#2841b5" fill-opacity="0.8"/>
<rect x="125.0" y="185.2" width="0.75" height="0.75" fill="#2841b5" fill-opacity="0.8"/>
<rect x="124.6" y="185.9" width="0.75" height="0.75" fill="#2841b5" fill-opacity="0.8"/>
<rect x="127.8" y="185.5" width="0.75" height="0.75" fill="#2842b5" fill-opacity="0.8"/>
<rect x="124.6" y="185.9" width="0.75" height="0.75" fill="#2842b5" fill-opacity="0.8"/>
<rect x="125.1" y="185.3" width="0.75" height="0.75" fill="#2842b5" fill-opacity="0.8"/>
<rect x="128.7" y="185.8" width="0.75" height="0.75" fill="#2843b5" fill-opacity="0.8"/>
<rect x="132.4" y="188.9" width="0.75" height="0.75" fill="#2843b5" fill-opacity="0.8"/>
<rect x="129.2" y="194.0" width="0.75" height="0.75" fill="#2843b5" fill-opacity="0.8"/>
<rect x="123.1" y="188.4" width="0.75" height="0.75" fill="#2843b5" fill-opacity="0.8"/>
<rect x="126.0" y="185.3" width="0.75" height="0.75" fill="#2844b5" fill-opacity="0.8"/>
<rect x="125.8" y="185.3" width="0.75" height="0.75" fill="#2844b5" fill-opacity="0.8"/>
<rect x="122.7" y="190.7" width="0.75" height="0.75" fill="#2844b5" fill-opacity="0.8"/>
<rect x="122.7" y="191.0" width="0.75" height="0.75" fill="#2844b5" fill-opacity="0.8"/>
<rect x="128.0" y="185.7" width="0.75" height="0.75" fill="#2845b5" fill-opacity="0.8"/>
<rect x="122.7" y="190.9" width="0.75" height="0.75" fill="#2845b5" fill-opacity="0.8"/>
<rect x="123.1" y="192.1" width="0.75" height="0.75" fill="#2845b5" fill-opacity="0.8"/>
<rect x="123.2" y="188.5" width="0.75" height="0.75" fill="#2845b5" fill-opacity="0.8"/>
<rect x="124.8" y="186.2" width="0.75" height="0.75" fill="#2946b6" fill-opacity="0.8"/>
<rect x="132.4" y="190.4" width="0.75" height="0.75" fill="#2946b6" fill-opacity="0.8"/>
<rect x="123.5" y="188.0" width="0.75" height="0.75" fill="#2948b6" fill-opacity="0.8"/>
<rect x="128.1" y="185.8" width="0.75" height="0.75" fill="#2948b6" fill-opacity="0.8"/>
<rect x="130.6" y="193.1" width="0.75" height="0.75" fill="#2948b6" fill-opacity="0.8"/>
<rect x="129.0" y="193.9" width="0.75" height="0.75" fill="#2948b6" fill-opacity="0.8"/>
<rect x="128.1" y="185.8" width="0.75" height="0.75" fill="#2948b6" fill-opacity="0.8"/>
<rect x="124.8" y="186.4" width="0.75" height="0.75" fill="#2949b6" fill-opacity="0.8"/>
<rect x="129.4" y="193.7" width="0.75" height="0.75" fill="#2949b6" fill-opacity="0.8"/>
<rect x="123.1" y="191.7" width="0.75" height="0.75" fill="#294ab6" fill-opacity="0.8"/>
<rect x="123.7" y="187.8" width="0.75" height="0.75" fill="#294ab6" fill-opacity="0.8"/>
<rect x="129.8" y="193.5" width="0.75" height="0.75" fill="#294bb7" fill-opacity="0.8"/>
<rect x="123.2" y="191.9" width="0.75" height="0.75" fill="#294bb7" fill-opacity="0.8"/>
<rect x="122.9" y="190.4" width="0.75" height="0.75" fill="#294bb7" fill-opacity="0.8"/>
<rect x="130.8" y="187.1" width="0.75" height="0.75" fill="#294cb7" fill-opacity="0.8"/>
<rect x="124.4" y="193.2" width="0.75" height="0.75" fill="#294db7" fill-opacity="0.8"/>
<rect x="130.2" y="193.3" width="0.75" height="0.75" fill="#294db7" fill-opacity="0.8"/>
<rect x="123.1" y="191.6" width="0.75" height="0.75" fill="#294db7" fill-opacity="0.8"/>
<rect x="128.8" y="186.2" width="0.75" height="0.75" fill="#294db7" fill-opacity="0.8"/>
<rect x="131.5" y="187.8" width="0.75" height="0.75" fill="#294db7" fill-opacity="0.8"/>
<rect x="126.0" y="185.9" width="0.75" height="0.75" fill="#294db7" fill-opacity="0.8"/>
<rect x="130.8" y="192.8" width="0.75" height="0.75" fill="#294eb7" fill-opacity="0.8"/>
<rect x="122.9" y="190.2" width="0.75" height="0.75" fill="#294eb7" fill-opacity="0.8"/>
<rect x="124.1" y="187.4" width="0.75" height="0.75" fill="#294eb7" fill-opacity="0.8"/>
<rect x="126.6" y="185.9" width="0.75" height="0.75" fill="#294fb7" fill-opacity="0.8"/>
<rect x="132.1" y="190.7" width="0.75" height="0.75" fill="#294fb7" fill-opacity="0.8"/>
<rect x="126.2" y="193.9" width="0.75" height="0.75" fill="#294fb7" fill-opacity="0.8"/>
<rect x="125.3" y="193.6" width="0.75" height="0.75" fill="#294fb7" fill-opacity="0.8"/>
<rect x="123.0" y="190.6" width="0.75" height="0.75" fill="#294fb7" fill-opacity="0.8"/>
<rect x="130.8" y="187.2" width="0.75" height="0.75" fill="#294fb7" fill-opacity="0.8"/>
<rect x="124.3" y="187.3" width="0.75" height="0.75" fill="#294fb7" fill-opacity="0.8"/>
<rect x="131.7" y="188.2" width="0.75" height="0.75" fill="#294fb7" fill-opacity="0.8"/>
<rect x="124.3" y="187.3" width="0.75" height="0.75" fill="#2a50b8" fill-opacity="0.8"/>
<rect x="128.7" y="186.2" width="0.75" height="0.75" fill="#2a50b8" fill-opacity="0.8"/>
<rect x="125.9" y="186.1" width="0.75" height="0.75" fill="#2a50b8" fill-opacity="0.8"/>
<rect x="126.7" y="186.0" width="0.75" height="0.75" fill="#2a51b8" fill-opacity="0.8"/>
<rect x="130.7" y="192.8" width="0.75" height="0.75" fill="#2a51b8" fill-opacity="0.8"/>
<rect x="130.9" y="187.3" width="0.75" height="0.75" fill="#2a51b8" fill-opacity="0.8"/>
<rect x="123.2" y="189.3" width="0.75" height="0.75" fill="#2a51b8" fill-opacity="0.8"/>
<rect x="131.1" y="187.5" width="0.75" height="0.75" fill="#2a51b8" fill-opacity="0.8"/>
<rect x="129.5" y="193.5" width="0.75" height="0.75" fill="#2a52b8" fill-opacity="0.8"/>
<rect x="123.8" y="192.5" width="0.75" height="0.75" fill="#2a52b8" fill-opacity="0.8"/>
<rect x="124.5" y="187.1" width="0.75" height="0.75" fill="#2a52b8" fill-opacity="0.8"/>
<rect x="124.7" y="187.0" width="0.75" height="0.75" fill="#2a52b8" fill-opacity="0.8"/>
<rect x="125.8" y="186.3" width="0.75" height="0.75" fill="#2a53b8" fill-opacity="0.8"/>
<rect x="123.9" y="192.5" width="0.75" height="0.75" fill="#2a53b8" fill-opacity="0.8"/>
<rect x="125.7" y="186.4" width="0.75" height="0.75" fill="#2a54b8" fill-opacity="0.8"/>
<rect x="132.1" y="189.7" width="0.75" height="0.75" fill="#2a54b8" fill-opacity="0.8"/>
<rect x="131.1" y="187.6" width="0.75" height="0.75" fill="#2a54b8" fill-opacity="0.8"/>
<rect x="132.1" y="189.6" width="0.75" height="0.75" fill="#2a54b8" fill-opacity="0.8"/>
<rect x="124.7" y="187.1" width="0.75" height="0.75" fill="#2a54b8" fill-opacity="0.8"/>
<rect x="131.8" y="188.6" width="0.75" height="0.75" fill="#2a55b9" fill-opacity="0.8"/>
<rect x="125.6" y="186.4" width="0.75" height="0.75" fill="#2a55b9" fill-opacity="0.8"/>
<rect x="123.3" y="189.3" width="0.75" height="0.75" fill="#2a55b9" fill-opacity="0.8"/>
<rect x="124.2" y="187.7" width="0.75" height="0.75" fill="#2a56b9" fill-opacity="0.8"/>
<rect x="131.2" y="192.1" width="0.75" height="0.75" fill="#2a56b9" fill-opacity="0.8"/>
<rect x="131.8" y="191.1" width="0.75" height="0.75" fill="#2a56b9" fill-opacity="0.8"/>
<rect x="125.5" y="193.5" width="0.75" height="0.75" fill="#2a56b9" fill-opacity="0.8"/>
<rect x="131.2" y="187.9" width="0.75" height="0.75" fill="#2a57b9" fill-opacity="0.8"/>
<rect x="124.1" y="192.6" width="0.75" height="0.75" fill="#2a57b9" fill-opacity="0.8"/>
<rect x="127.5" y="186.2" width="0.75" height="0.75" fill="#2a57b9" fill-opacity="0.8"/>
<rect x="125.6" y="186.6" width="0.75" height="0.75" fill="#2a58b9" fill-opacity="0.8"/>
<rect x="123.7" y="188.7" width="0.75" height="0.75" fill="#2a58b9" fill-opacity="0.8"/>
<rect x="124.0" y="188.1" width="0.75" height="0.75" fill="#2a58b9" fill-opacity="0.8"/>
<rect x="123.2" y="190.3" width="0.75" height="0.75" fill="#2a58b9" fill-opacity="0.8"/>
<rect x="130.9" y="187.6" width="0.75" height="0.75" fill="#2a58b9" fill-opacity="0.8"/>
<rect x="129.0" y="186.6" width="0.75" height="0.75" fill="#2a59b9" fill-opacity="0.8"/>
<rect x="130.1" y="193.0" width="0.75" height="0.75" fill="#2a59b9" fill-opacity="0.8"/>
<rect x="127.0" y="186.3" width="0.75" height="0.75" fill="#2a59b9" fill-opacity="0.8"/>
<rect x="132.0" y="190.2" width="0.75" height="0.75" fill="#2a59b9" fill-opacity="0.8"/>
<rect x="126.7" y="193.7" width="0.75" height="0.75" fill="#2a59b9" fill-opacity="0.8"/>
<rect x="131.8" y="189.0" width="0.75" height="0.75" fill="#2b5aba" fill-opacity="0.8"/>
<rect x="131.7" y="191.2" width="0.75" height="0.75" fill="#2b5aba" fill-opacity="0.8"/>
<rect x="124.3" y="192.7" width="0.75" height="0.75" fill="#2b5aba" fill-opacity="0.8"/>
<rect x="124.4" y="192.8" width="0.75" height="0.75" fill="#2b5cba" fill-opacity="0.8"/>
<rect x="128.9" y="193.5" width="0.75" height="0.75" fill="#2b5cba" fill-opacity="0.8"/>
<rect x="131.2" y="192.0" width="0.75" height="0.75" fill="#2b5cba" fill-opacity="0.8"/>
<rect x="124.2" y="188.0" width="0.75" height="0.75" fill="#2b5cba" fill-opacity="0.8"/>
<rect x="130.5" y="192.6" width="0.75" height="0.75" fill="#2b5cba" fill-opacity="0.8"/>
<rect x="129.9" y="193.0" width="0.75" height="0.75" fill="#2b5cba" fill-opacity="0.8"/>
<rect x="131.2" y="188.1" width="0.75" height="0.75" fill="#2b5cba" fill-opacity="0.8"/>
<rect x="130.2" y="192.9" width="0.75" height="0.75" fill="#2b5dba" fill-opacity="0.8"/>
<rect x="131.8" y="189.3" width="0.75" height="0.75" fill="#2b5dba" fill-opacity="0.8"/>
<rect x="125.8" y="186.7" width="0.75" height="0.75" fill="#2b5eba" fill-opacity="0.8"/>
<rect x="123.4" y="190.6" width="0.75" height="0.75" fill="#2b5eba" fill-opacity="0.8"/>
<rect x="123.4" y="191.1" width="0.75" height="0.75" fill="#2b5eba" fill-opacity="0.8"/>
<rect x="128.0" y="193.6" width="0.75" height="0.75" fill="#2b5fbb" fill-opacity="0.8"/>
<rect x="123.6" y="189.2" width="0.75" height="0.75" fill="#2b5fbb" fill-opacity="0.8"/>
<rect x="126.5" y="193.6" width="0.75" height="0.75" fill="#2b5fbb" fill-opacity="0.8"/>
<rect x="124.2" y="192.4" width="0.75" height="0.75" fill="#2b5fbb" fill-opacity="0.8"/>
<rect x="125.7" y="193.4" width="0.75" height="0.75" fill="#2b5fbb" fill-opacity="0.8"/>
<rect x="128.9" y="193.4" width="0.75" height="0.75" fill="#2b60bb" fill-opacity="0.8"/>
<rect x="130.8" y="192.3" width="0.75" height="0.75" fill="#2b60bb" fill-opacity="0.8"/>
<rect x="131.5" y="188.6" width="0.75" height="0.75" fill="#2b60bb" fill-opacity="0.8"/>
<rect x="131.1" y="191.9" width="0.75" height="0.75" fill="#2b60bb" fill-opacity="0.8"/>
<rect x="130.7" y="187.7" width="0.75" height="0.75" fill="#2b60bb" fill-opacity="0.8"/>
<rect x="126.4" y="193.6" width="0.75" height="0.75" fill="#2b60bb" fill-opacity="0.8"/>
<rect x="126.8" y="193.6" width="0.75" height="0.75" fill="#2b61bb" fill-opacity="0.8"/>
<rect x="130.8" y="187.8" width="0.75" height="0.75" fill="#2b61bb" fill-opacity="0.8"/>
<rect x="131.6" y="191.1" width="0.75" height="0.75" fill="#2b61bb" fill-opacity="0.8"/>
<rect x="131.7" y="189.2" width="0.75" height="0.75" fill="#2b62bb" fill-opacity="0.8"/>
<rect x="130.4" y="187.5" width="0.75" height="0.75" fill="#2b62bb" fill-opacity="0.8"/>
<rect x="129.1" y="186.8" width="0.75" height="0.75" fill="#2b62bb" fill-opacity="0.8"/>
<rect x="130.9" y="192.1" width="0.75" height="0.75" fill="#2c64bc" fill-opacity="0.8"/>
<rect x="127.0" y="186.6" width="0.75" height="0.75" fill="#2c64bc" fill-opacity="0.8"/>
<rect x="129.2" y="193.2" width="0.75" height="0.75" fill="#2c64bc" fill-opacity="0.8"/>
<rect x="130.7" y="192.2" width="0.75" height="0.75" fill="#2c65bc" fill-opacity="0.8"/>
<rect x="127.4" y="186.6" width="0.75" height="0.75" fill="#2c66bc" fill-opacity="0.8"/>
<rect x="131.5" y="190.9" width="0.75" height="0.75" fill="#2c66bc" fill-opacity="0.8"/>
<rect x="124.2" y="188.5" width="0.75" height="0.75" fill="#2c66bc" fill-opacity="0.8"/>
<rect x="130.0" y="192.7" width="0.75" height="0.75" fill="#2c66bc" fill-opacity="0.8"/>
<rect x="125.0" y="192.8" width="0.75" height="0.75" fill="#2c67bc" fill-opacity="0.8"/>
<rect x="124.9" y="187.6" width="0.75" height="0.75" fill="#2c67bc" fill-opacity="0.8"/>
<rect x="129.5" y="193.0" width="0.75" height="0.75" fill="#2c67bc" fill-opacity="0.8"/>
<rect x="131.6" y="190.5" width="0.75" height="0.75" fill="#2c67bc" fill-opacity="0.8"/>
<rect x="124.1" y="191.9" width="0.75" height="0.75" fill="#2c67bc" fill-opacity="0.8"/>
<rect x="124.1" y="192.0" width="0.75" height="0.75" fill="#2c68bc" fill-opacity="0.8"/>
<rect x="127.0" y="193.5" width="0.75" height="0.75" fill="#2c69bd" fill-opacity="0.8"/>
<rect x="123.7" y="190.9" width="0.75" height="0.75" fill="#2c69bd" fill-opacity="0.8"/>
<rect x="126.3" y="186.9" width="0.75" height="0.75" fill="#2c69bd" fill-opacity="0.8"/>
<rect x="130.9" y="188.1" width="0.75" height="0.75" fill="#2c69bd" fill-opacity="0.8"/>
<rect x="125.5" y="193.0" width="0.75" height="0.75" fill="#2c6abd" fill-opacity="0.8"/>
<rect x="125.8" y="193.1" width="0.75" height="0.75" fill="#2c6cbd" fill-opacity="0.8"/>
<rect x="129.5" y="192.9" width="0.75" height="0.75" fill="#2c6cbd" fill-opacity="0.8"/>
<rect x="131.5" y="190.3" width="0.75" height="0.75" fill="#2c6cbd" fill-opacity="0.8"/>
<rect x="127.4" y="186.8" width="0.75" height="0.75" fill="#2c6dbd" fill-opacity="0.8"/>
<rect x="131.5" y="190.1" width="0.75" height="0.75" fill="#2c6dbd" fill-opacity="0.8"/>
<rect x="125.6" y="193.0" width="0.75" height="0.75" fill="#2d6ebd" fill-opacity="0.8"/>
<rect x="125.1" y="192.8" width="0.75" height="0.75" fill="#2d6ebd" fill-opacity="0.8"/>
<rect x="131.5" y="189.9" width="0.75" height="0.75" fill="#2d6ebd" fill-opacity="0.8"/>
<rect x="125.7" y="187.3" width="0.75" height="0.75" fill="#2d6ebd" fill-opacity="0.8"/>
<rect x="127.6" y="193.4" width="0.75" height="0.75" fill="#2d6ebd" fill-opacity="0.8"/>
<rect x="123.8" y="190.5" width="0.75" height="0.75" fill="#2d6fbd" fill-opacity="0.8"/>
<rect x="130.2" y="187.7" width="0.75" height="0.75" fill="#2d6fbc" fill-opacity="0.8"/>
<rect x="126.2" y="193.2" width="0.75" height="0.75" fill="#2d6fbc" fill-opacity="0.8"/>
<rect x="126.1" y="187.1" width="0.75" height="0.75" fill="#2d70bc" fill-opacity="0.8"/>
<rect x="129.8" y="192.6" width="0.75" height="0.75" fill="#2d70bb" fill-opacity="0.8"/>
<rect x="128.7" y="187.0" width="0.75" height="0.75" fill="#2d70bb" fill-opacity="0.8"/>
<rect x="123.8" y="190.5" width="0.75" height="0.75" fill="#2d70bb" fill-opacity="0.8"/>
<rect x="123.9" y="189.6" width="0.75" height="0.75" fill="#2d71bb" fill-opacity="0.8"/>
<rect x="124.5" y="192.2" width="0.75" height="0.75" fill="#2d71bb" fill-opacity="0.8"/>
<rect x="129.5" y="192.8" width="0.75" height="0.75" fill="#2d71ba" fill-opacity="0.8"/>
<rect x="125.5" y="192.9" width="0.75" height="0.75" fill="#2d72ba" fill-opacity="0.8"/>
<rect x="126.1" y="193.1" width="0.75" height="0.75" fill="#2d72ba" fill-opacity="0.8"/>
<rect x="125.3" y="187.7" width="0.75" height="0.75" fill="#2d74b9" fill-opacity="0.8"/>
<rect x="129.9" y="192.5" width="0.75" height="0.75" fill="#2d74b9" fill-opacity="0.8"/>
<rect x="128.3" y="187.0" width="0.75" height="0.75" fill="#2d75b8" fill-opacity="0.8"/>
<rect x="124.0" y="189.6" width="0.75" height="0.75" fill="#2d76b7" fill-opacity="0.8"/>
<rect x="131.3" y="190.1" width="0.75" height="0.75" fill="#2d76b7" fill-opacity="0.8"/>
<rect x="130.1" y="192.3" width="0.75" height="0.75" fill="#2d76b6" fill-opacity="0.8"/>
<rect x="124.6" y="188.5" width="0.75" height="0.75" fill="#2d76b6" fill-opacity="0.8"/>
<rect x="130.9" y="191.5" width="0.75" height="0.75" fill="#2d77b6" fill-opacity="0.8"/>
<rect x="124.3" y="191.7" width="0.75" height="0.75" fill="#2e79b5" fill-opacity="0.8"/>
<rect x="130.4" y="192.0" width="0.75" height="0.75" fill="#2e79b5" fill-opacity="0.8"/>
<rect x="124.0" y="189.9" width="0.75" height="0.75" fill="#2e79b4" fill-opacity="0.8"/>
<rect x="129.6" y="187.5" width="0.75" height="0.75" fill="#2e79b4" fill-opacity="0.8"/>
<rect x="127.4" y="187.0" width="0.75" height="0.75" fill="#2e79b4" fill-opacity="0.8"/>
<rect x="127.2" y="187.0" width="0.75" height="0.75" fill="#2e79b4" fill-opacity="0.8"/>
<rect x="131.3" y="189.8" width="0.75" height="0.75" fill="#2e7bb3" fill-opacity="0.8"/>
<rect x="127.4" y="187.1" width="0.75" height="0.75" fill="#2e7bb2" fill-opacity="0.8"/>
<rect x="129.9" y="187.7" width="0.75" height="0.75" fill="#2e7bb2" fill-opacity="0.8"/>
<rect x="128.7" y="192.9" width="0.75" height="0.75" fill="#2e7cb2" fill-opacity="0.8"/>
<rect x="124.0" y="190.1" width="0.75" height="0.75" fill="#2e7db1" fill-opacity="0.8"/>
<rect x="127.2" y="187.1" width="0.75" height="0.75" fill="#2e7db1" fill-opacity="0.8"/>
<rect x="127.5" y="193.1" width="0.75" height="0.75" fill="#2e7db1" fill-opacity="0.8"/>
<rect x="124.2" y="191.2" width="0.75" height="0.75" fill="#2e7eb1" fill-opacity="0.8"/>
<rect x="126.4" y="187.3" width="0.75" height="0.75" fill="#2e7eb1" fill-opacity="0.8"/>
<rect x="131.0" y="190.8" width="0.75" height="0.75" fill="#2e7eb0" fill-opacity="0.8"/>
<rect x="129.1" y="187.4" width="0.75" height="0.75" fill="#2e7fb0" fill-opacity="0.8"/>
<rect x="131.2" y="189.7" width="0.75" height="0.75" fill="#2e7faf" fill-opacity="0.8"/>
<rect x="129.0" y="187.3" width="0.75" height="0.75" fill="#2e80af" fill-opacity="0.8"/>
<rect x="124.5" y="191.7" width="0.75" height="0.75" fill="#2e80ae" fill-opacity="0.8"/>
<rect x="129.9" y="187.8" width="0.75" height="0.75" fill="#2e81ae" fill-opacity="0.8"/>
<rect x="124.2" y="189.5" width="0.75" height="0.75" fill="#2e81ae" fill-opacity="0.8"/>
<rect x="129.2" y="187.5" width="0.75" height="0.75" fill="#2f82ad" fill-opacity="0.8"/>
<rect x="130.0" y="192.2" width="0.75" height="0.75" fill="#2f82ad" fill-opacity="0.8"/>
<rect x="130.2" y="191.9" width="0.75" height="0.75" fill="#2f83ad" fill-opacity="0.8"/>
<rect x="128.0" y="193.0" width="0.75" height="0.75" fill="#2f84ac" fill-opacity="0.8"/>
<rect x="129.4" y="192.5" width="0.75" height="0.75" fill="#2f84ab" fill-opacity="0.8"/>
<rect x="124.2" y="190.4" width="0.75" height="0.75" fill="#2f85ab" fill-opacity="0.8"/>
<rect x="130.7" y="188.7" width="0.75" height="0.75" fill="#2f85aa" fill-opacity="0.8"/>
<rect x="128.9" y="192.7" width="0.75" height="0.75" fill="#2f86aa" fill-opacity="0.8"/>
<rect x="126.0" y="192.8" width="0.75" height="0.75" fill="#2f86aa" fill-opacity="0.8"/>
<rect x="128.1" y="187.3" width="0.75" height="0.75" fill="#2f86aa" fill-opacity="0.8"/>
<rect x="124.2" y="190.8" width="0.75" height="0.75" fill="#2f86aa" fill-opacity="0.8"/>
<rect x="125.0" y="192.2" width="0.75" height="0.75" fill="#2f86aa" fill-opacity="0.8"/>
<rect x="129.0" y="187.5" width="0.75" height="0.75" fill="#2f89a8" fill-opacity="0.8"/>
<rect x="130.6" y="188.7" width="0.75" height="0.75" fill="#2f89a8" fill-opacity="0.8"/>
<rect x="128.2" y="187.3" width="0.75" height="0.75" fill="#2f8aa7" fill-opacity="0.8"/>
<rect x="129.0" y="192.6" width="0.75" height="0.75" fill="#2f8aa7" fill-opacity="0.8"/>
<rect x="124.3" y="190.1" width="0.75" height="0.75" fill="#2f8ba6" fill-opacity="0.8"/>
<rect x="124.3" y="190.5" width="0.75" height="0.75" fill="#2f8ba6" fill-opacity="0.8"/>
<rect x="128.4" y="187.4" width="0.75" height="0.75" fill="#2f8ba6" fill-opacity="0.8"/>
<rect x="130.7" y="191.0" width="0.75" height="0.75" fill="#2f8ba6" fill-opacity="0.8"/>
<rect x="124.9" y="191.9" width="0.75" height="0.75" fill="#2f8ba6" fill-opacity="0.8"/>
<rect x="126.4" y="192.8" width="0.75" height="0.75" fill="#2f8ba6" fill-opacity="0.8"/>
<rect x="127.2" y="192.9" width="0.75" height="0.75" fill="#308ca5" fill-opacity="0.8"/>
<rect x="130.8" y="189.1" width="0.75" height="0.75" fill="#308ca5" fill-opacity="0.8"/>
<rect x="130.5" y="191.4" width="0.75" height="0.75" fill="#308ca5" fill-opacity="0.8"/>
<rect x="124.3" y="190.5" width="0.75" height="0.75" fill="#308ca5" fill-opacity="0.8"/>
<rect x="127.6" y="187.3" width="0.75" height="0.75" fill="#308ca5" fill-opacity="0.8"/>
<rect x="124.3" y="190.6" width="0.75" height="0.75" fill="#308ca5" fill-opacity="0.8"/>
<rect x="125.3" y="188.2" width="0.75" height="0.75" fill="#308da4" fill-opacity="0.8"/>
<rect x="126.7" y="192.8" width="0.75" height="0.75" fill="#308da4" fill-opacity="0.8"/>
<rect x="127.9" y="192.9" width="0.75" height="0.75" fill="#308ea4" fill-opacity="0.8"/>
<rect x="130.9" y="189.7" width="0.75" height="0.75" fill="#308ea3" fill-opacity="0.8"/>
<rect x="125.7" y="188.0" width="0.75" height="0.75" fill="#308fa3" fill-opacity="0.8"/>
<rect x="129.9" y="188.1" width="0.75" height="0.75" fill="#308fa3" fill-opacity="0.8"/>
<rect x="129.5" y="192.3" width="0.75" height="0.75" fill="#308fa3" fill-opacity="0.8"/>
<rect x="128.7" y="187.5" width="0.75" height="0.75" fill="#3090a2" fill-opacity="0.8"/>
<rect x="129.0" y="192.5" width="0.75" height="0.75" fill="#3090a2" fill-opacity="0.8"/>
<rect x="126.9" y="187.5" width="0.75" height="0.75" fill="#3091a1" fill-opacity="0.8"/>
<rect x="129.7" y="188.0" width="0.75" height="0.75" fill="#3093a0" fill-opacity="0.8"/>
<rect x="129.9" y="188.2" width="0.75" height="0.75" fill="#3093a0" fill-opacity="0.8"/>
<rect x="130.8" y="190.5" width="0.75" height="0.75" fill="#3093a0" fill-opacity="0.8"/>
<rect x="126.3" y="192.7" width="0.75" height="0.75" fill="#30939f" fill-opacity="0.8"/>
<rect x="126.3" y="187.8" width="0.75" height="0.75" fill="#30949f" fill-opacity="0.8"/>
<rect x="130.7" y="189.2" width="0.75" height="0.75" fill="#30949f" fill-opacity="0.8"/>
<rect x="127.9" y="192.8" width="0.75" height="0.75" fill="#30949e" fill-opacity="0.8"/>
<rect x="124.6" y="191.0" width="0.75" height="0.75" fill="#30959e" fill-opacity="0.8"/>
<rect x="125.4" y="192.2" width="0.75" height="0.75" fill="#30959e" fill-opacity="0.8"/>
<rect x="126.8" y="192.7" width="0.75" height="0.75" fill="#30959e" fill-opacity="0.8"/>
<rect x="126.9" y="192.7" width="0.75" height="0.75" fill="#30959e" fill-opacity="0.8"/>
<rect x="126.6" y="187.7" width="0.75" height="0.75" fill="#31969d" fill-opacity="0.8"/>
<rect x="124.7" y="189.3" width="0.75" height="0.75" fill="#31969d" fill-opacity="0.8"/>
<rect x="125.0" y="188.9" width="0.75" height="0.75" fill="#31979c" fill-opacity="0.8"/>
<rect x="127.6" y="187.5" width="0.75" height="0.75" fill="#31979c" fill-opacity="0.8"/>
<rect x="130.3" y="188.6" width="0.75" height="0.75" fill="#31989c" fill-opacity="0.8"/>
<rect x="130.7" y="189.8" width="0.75" height="0.75" fill="#31989b" fill-opacity="0.8"/>
<rect x="130.6" y="189.3" width="0.75" height="0.75" fill="#31989b" fill-opacity="0.8"/>
<rect x="124.8" y="191.3" width="0.75" height="0.75" fill="#31989b" fill-opacity="0.8"/>
<rect x="124.6" y="189.9" width="0.75" height="0.75" fill="#31999b" fill-opacity="0.8"/>
<rect x="125.4" y="192.1" width="0.75" height="0.75" fill="#31999b" fill-opacity="0.8"/>
<rect x="128.5" y="187.7" width="0.75" height="0.75" fill="#319a9a" fill-opacity="0.8"/>
<rect x="126.0" y="188.0" width="0.75" height="0.75" fill="#319a9a" fill-opacity="0.8"/>
<rect x="127.5" y="192.7" width="0.75" height="0.75" fill="#319b99" fill-opacity="0.8"/>
<rect x="125.2" y="188.7" width="0.75" height="0.75" fill="#319b99" fill-opacity="0.8"/>
<rect x="125.6" y="188.4" width="0.75" height="0.75" fill="#319c99" fill-opacity="0.8"/>
<rect x="125.9" y="188.2" width="0.75" height="0.75" fill="#319c98" fill-opacity="0.8"/>
<rect x="127.6" y="192.7" width="0.75" height="0.75" fill="#319c98" fill-opacity="0.8"/>
<rect x="130.6" y="189.8" width="0.75" height="0.75" fill="#319d97" fill-opacity="0.8"/>
<rect x="127.7" y="187.6" width="0.75" height="0.75" fill="#319d97" fill-opacity="0.8"/>
<rect x="130.6" y="190.0" width="0.75" height="0.75" fill="#319e97" fill-opacity="0.8"/>
<rect x="124.7" y="189.8" width="0.75" height="0.75" fill="#319e97" fill-opacity="0.8"/>
<rect x="125.7" y="188.3" width="0.75" height="0.75" fill="#319e97" fill-opacity="0.8"/>
<rect x="127.6" y="192.6" width="0.75" height="0.75" fill="#319f96" fill-opacity="0.8"/>
<rect x="127.2" y="187.7" width="0.75" height="0.75" fill="#319f96" fill-opacity="0.8"/>
<rect x="124.7" y="190.3" width="0.75" height="0.75" fill="#32a094" fill-opacity="0.8"/>
<rect x="130.6" y="190.1" width="0.75" height="0.75" fill="#33a094" fill-opacity="0.8"/>
<rect x="128.7" y="192.4" width="0.75" height="0.75" fill="#35a090" fill-opacity="0.8"/>
<rect x="130.5" y="190.6" width="0.75" height="0.75" fill="#35a090" fill-opacity="0.8"/>
<rect x="125.6" y="188.5" width="0.75" height="0.75" fill="#36a18f" fill-opacity="0.8"/>
<rect x="124.8" y="189.9" width="0.75" height="0.75" fill="#36a18e" fill-opacity="0.8"/>
<rect x="125.0" y="189.2" width="0.75" height="0.75" fill="#37a18d" fill-opacity="0.8"/>
<rect x="129.5" y="191.9" width="0.75" height="0.75" fill="#37a18d" fill-opacity="0.8"/>
<rect x="130.3" y="189.1" width="0.75" height="0.75" fill="#37a18d" fill-opacity="0.8"/>
<rect x="125.0" y="189.3" width="0.75" height="0.75" fill="#38a18b" fill-opacity="0.8"/>
<rect x="127.3" y="187.8" width="0.75" height="0.75" fill="#39a28a" fill-opacity="0.8"/>
<rect x="125.0" y="189.6" width="0.75" height="0.75" fill="#3ba287" fill-opacity="0.8"/>
<rect x="124.9" y="190.9" width="0.75" height="0.75" fill="#3ba287" fill-opacity="0.8"/>
<rect x="129.3" y="188.2" width="0.75" height="0.75" fill="#3ba287" fill-opacity="0.8"/>
<rect x="125.9" y="192.1" width="0.75" height="0.75" fill="#3ba286" fill-opacity="0.8"/>
<rect x="127.1" y="192.5" width="0.75" height="0.75" fill="#3ca385" fill-opacity="0.8"/>
<rect x="129.1" y="188.1" width="0.75" height="0.75" fill="#3ca385" fill-opacity="0.8"/>
<rect x="127.7" y="187.8" width="0.75" height="0.75" fill="#3ca384" fill-opacity="0.8"/>
<rect x="126.2" y="188.2" width="0.75" height="0.75" fill="#3da383" fill-opacity="0.8"/>
<rect x="126.7" y="188.0" width="0.75" height="0.75" fill="#3da382" fill-opacity="0.8"/>
<rect x="130.4" y="189.9" width="0.75" height="0.75" fill="#3da382" fill-opacity="0.8"/>
<rect x="125.6" y="191.8" width="0.75" height="0.75" fill="#3ea381" fill-opacity="0.8"/>
<rect x="130.3" y="190.7" width="0.75" height="0.75" fill="#3fa380" fill-opacity="0.8"/>
<rect x="129.7" y="191.6" width="0.75" height="0.75" fill="#40a47e" fill-opacity="0.8"/>
<rect x="129.7" y="188.6" width="0.75" height="0.75" fill="#40a47e" fill-opacity="0.8"/>
<rect x="124.9" y="190.1" width="0.75" height="0.75" fill="#41a47c" fill-opacity="0.8"/>
<rect x="130.3" y="189.8" width="0.75" height="0.75" fill="#42a57a" fill-opacity="0.8"/>
<rect x="125.5" y="188.9" width="0.75" height="0.75" fill="#43a579" fill-opacity="0.8"/>
<rect x="129.0" y="192.0" width="0.75" height="0.75" fill="#44a578" fill-opacity="0.8"/>
<rect x="125.6" y="188.9" width="0.75" height="0.75" fill="#44a577" fill-opacity="0.8"/>
<rect x="128.7" y="192.1" width="0.75" height="0.75" fill="#44a577" fill-opacity="0.8"/>
<rect x="129.9" y="191.2" width="0.75" height="0.75" fill="#45a576" fill-opacity="0.8"/>
<rect x="129.7" y="188.7" width="0.75" height="0.75" fill="#46a675" fill-opacity="0.8"/>
<rect x="130.2" y="190.5" width="0.75" height="0.75" fill="#47a674" fill-opacity="0.8"/>
<rect x="127.4" y="188.0" width="0.75" height="0.75" fill="#47a673" fill-opacity="0.8"/>
<rect x="129.5" y="191.6" width="0.75" height="0.75" fill="#47a673" fill-opacity="0.8"/>
<rect x="130.1" y="189.2" width="0.75" height="0.75" fill="#47a673" fill-opacity="0.8"/>
<rect x="130.2" y="190.0" width="0.75" height="0.75" fill="#49a671" fill-opacity="0.8"/>
<rect x="125.8" y="188.7" width="0.75" height="0.75" fill="#49a671" fill-opacity="0.8"/>
<rect x="130.2" y="190.4" width="0.75" height="0.75" fill="#4aa76f" fill-opacity="0.8"/>
<rect x="129.9" y="191.1" width="0.75" height="0.75" fill="#4aa76f" fill-opacity="0.8"/>
<rect x="129.0" y="191.9" width="0.75" height="0.75" fill="#4ca76c" fill-opacity="0.8"/>
<rect x="125.6" y="189.0" width="0.75" height="0.75" fill="#4ca76b" fill-opacity="0.8"/>
<rect x="125.1" y="190.7" width="0.75" height="0.75" fill="#4ca76b" fill-opacity="0.8"/>
<rect x="126.3" y="192.0" width="0.75" height="0.75" fill="#4da869" fill-opacity="0.8"/>
<rect x="125.1" y="190.3" width="0.75" height="0.75" fill="#4ea868" fill-opacity="0.8"/>
<rect x="126.2" y="191.9" width="0.75" height="0.75" fill="#4fa866" fill-opacity="0.8"/>
<rect x="130.0" y="190.7" width="0.75" height="0.75" fill="#50a965" fill-opacity="0.8"/>
<rect x="130.0" y="189.4" width="0.75" height="0.75" fill="#51a963" fill-opacity="0.8"/>
<rect x="127.0" y="188.2" width="0.75" height="0.75" fill="#51a962" fill-opacity="0.8"/>
<rect x="128.6" y="192.0" width="0.75" height="0.75" fill="#52a962" fill-opacity="0.8"/>
<rect x="130.0" y="189.5" width="0.75" height="0.75" fill="#52a962" fill-opacity="0.8"/>
<rect x="130.0" y="189.7" width="0.75" height="0.75" fill="#54aa5e" fill-opacity="0.8"/>
<rect x="129.0" y="191.7" width="0.75" height="0.75" fill="#54aa5e" fill-opacity="0.8"/>
<rect x="129.9" y="190.7" width="0.75" height="0.75" fill="#54aa5e" fill-opacity="0.8"/>
<rect x="128.4" y="192.0" width="0.75" height="0.75" fill="#55aa5d" fill-opacity="0.8"/>
<rect x="125.6" y="189.2" width="0.75" height="0.75" fill="#55aa5c" fill-opacity="0.8"/>
<rect x="130.0" y="190.3" width="0.75" height="0.75" fill="#56aa5c" fill-opacity="0.8"/>
<rect x="129.7" y="191.1" width="0.75" height="0.75" fill="#56ab5b" fill-opacity="0.8"/>
<rect x="126.7" y="188.4" width="0.75" height="0.75" fill="#56ab5b" fill-opacity="0.8"/>
<rect x="126.0" y="191.6" width="0.75" height="0.75" fill="#57ab59" fill-opacity="0.8"/>
<rect x="128.2" y="192.0" width="0.75" height="0.75" fill="#57ab59" fill-opacity="0.8"/>
<rect x="129.7" y="189.2" width="0.75" height="0.75" fill="#57ab59" fill-opacity="0.8"/>
<rect x="129.9" y="189.6" width="0.75" height="0.75" fill="#57ab59" fill-opacity="0.8"/>
<rect x="128.7" y="188.4" width="0.75" height="0.75" fill="#58ab59" fill-opacity="0.8"/>
<rect x="127.8" y="192.1" width="0.75" height="0.75" fill="#58ab58" fill-opacity="0.8"/>
<rect x="126.2" y="188.7" width="0.75" height="0.75" fill="#58ab58" fill-opacity="0.8"/>
<rect x="129.5" y="191.2" width="0.75" height="0.75" fill="#59ab57" fill-opacity="0.8"/>
<rect x="125.8" y="189.1" width="0.75" height="0.75" fill="#5aac55" fill-opacity="0.8"/>
<rect x="126.3" y="191.8" width="0.75" height="0.75" fill="#5aac55" fill-opacity="0.8"/>
<rect x="128.5" y="188.4" width="0.75" height="0.75" fill="#5aac55" fill-opacity="0.8"/>
<rect x="127.4" y="188.3" width="0.75" height="0.75" fill="#5bac53" fill-opacity="0.8"/>
<rect x="126.4" y="188.6" width="0.75" height="0.75" fill="#5bac53" fill-opacity="0.8"/>
<rect x="127.6" y="192.0" width="0.75" height="0.75" fill="#5cac52" fill-opacity="0.8"/>
<rect x="128.9" y="188.6" width="0.75" height="0.75" fill="#60ad4b" fill-opacity="0.8"/>
<rect x="128.2" y="191.9" width="0.75" height="0.75" fill="#60ae4b" fill-opacity="0.8"/>
<rect x="126.8" y="191.9" width="0.75" height="0.75" fill="#60ae4a" fill-opacity="0.8"/>
<rect x="127.9" y="191.9" width="0.75" height="0.75" fill="#61ae4a" fill-opacity="0.8"/>
<rect x="128.9" y="191.6" width="0.75" height="0.75" fill="#61ae4a" fill-opacity="0.8"/>
<rect x="126.8" y="191.9" width="0.75" height="0.75" fill="#61ae4a" fill-opacity="0.8"/>
<rect x="129.4" y="189.0" width="0.75" height="0.75" fill="#61ae4a" fill-opacity="0.8"/>
<rect x="129.2" y="191.4" width="0.75" height="0.75" fill="#61ae49" fill-opacity="0.8"/>
<rect x="126.2" y="191.6" width="0.75" height="0.75" fill="#62ae49" fill-opacity="0.8"/>
<rect x="128.3" y="191.8" width="0.75" height="0.75" fill="#62ae48" fill-opacity="0.8"/>
<rect x="129.8" y="190.4" width="0.75" height="0.75" fill="#62ae47" fill-opacity="0.8"/>
<rect x="129.3" y="189.0" width="0.75" height="0.75" fill="#63ae47" fill-opacity="0.8"/>
<rect x="129.5" y="191.0" width="0.75" height="0.75" fill="#63ae47" fill-opacity="0.8"/>
<rect x="128.4" y="188.5" width="0.75" height="0.75" fill="#64af45" fill-opacity="0.8"/>
<rect x="126.1" y="189.0" width="0.75" height="0.75" fill="#65af45" fill-opacity="0.8"/>
<rect x="129.7" y="189.7" width="0.75" height="0.75" fill="#65af45" fill-opacity="0.8"/>
<rect x="129.6" y="190.7" width="0.75" height="0.75" fill="#65af45" fill-opacity="0.8"/>
<rect x="127.0" y="188.5" width="0.75" height="0.75" fill="#66af45" fill-opacity="0.8"/>
<rect x="128.4" y="191.8" width="0.75" height="0.75" fill="#66af45" fill-opacity="0.8"/>
<rect x="125.9" y="191.2" width="0.75" height="0.75" fill="#66af45" fill-opacity="0.8"/>
<rect x="126.5" y="191.7" width="0.75" height="0.75" fill="#67af45" fill-opacity="0.8"/>
<rect x="127.4" y="191.9" width="0.75" height="0.75" fill="#68af44" fill-opacity="0.8"/>
<rect x="125.8" y="191.0" width="0.75" height="0.75" fill="#68b044" fill-opacity="0.8"/>
<rect x="127.6" y="188.5" width="0.75" height="0.75" fill="#69b044" fill-opacity="0.8"/>
<rect x="127.3" y="188.5" width="0.75" height="0.75" fill="#6ab044" fill-opacity="0.8"/>
<rect x="129.7" y="190.4" width="0.75" height="0.75" fill="#6ab043" fill-opacity="0.8"/>
<rect x="129.3" y="191.1" width="0.75" height="0.75" fill="#6ab043" fill-opacity="0.8"/>
<rect x="127.4" y="188.5" width="0.75" height="0.75" fill="#6bb043" fill-opacity="0.8"/>
<rect x="127.5" y="188.5" width="0.75" height="0.75" fill="#6cb043" fill-opacity="0.8"/>
<rect x="129.3" y="189.2" width="0.75" height="0.75" fill="#6cb143" fill-opacity="0.8"/>
<rect x="128.9" y="191.4" width="0.75" height="0.75" fill="#6db143" fill-opacity="0.8"/>
<rect x="125.7" y="190.7" width="0.75" height="0.75" fill="#6db143" fill-opacity="0.8"/>
<rect x="128.4" y="191.7" width="0.75" height="0.75" fill="#6db142" fill-opacity="0.8"/>
<rect x="129.6" y="190.5" width="0.75" height="0.75" fill="#6db142" fill-opacity="0.8"/>
<rect x="127.1" y="191.8" width="0.75" height="0.75" fill="#6eb142" fill-opacity="0.8"/>
<rect x="127.8" y="188.5" width="0.75" height="0.75" fill="#6fb142" fill-opacity="0.8"/>
<rect x="126.9" y="191.7" width="0.75" height="0.75" fill="#6fb142" fill-opacity="0.8"/>
<rect x="127.3" y="191.8" width="0.75" height="0.75" fill="#71b241" fill-opacity="0.8"/>
<rect x="129.6" y="189.9" width="0.75" height="0.75" fill="#71b241" fill-opacity="0.8"/>
<rect x="126.3" y="189.1" width="0.75" height="0.75" fill="#74b240" fill-opacity="0.8"/>
<rect x="128.1" y="191.7" width="0.75" height="0.75" fill="#75b240" fill-opacity="0.8"/>
<rect x="126.3" y="189.1" width="0.75" height="0.75" fill="#77b33f" fill-opacity="0.8"/>
<rect x="129.5" y="189.6" width="0.75" height="0.75" fill="#77b33f" fill-opacity="0.8"/>
<rect x="126.2" y="191.3" width="0.75" height="0.75" fill="#77b33f" fill-opacity="0.8"/>
<rect x="127.6" y="191.7" width="0.75" height="0.75" fill="#78b33f" fill-opacity="0.8"/>
<rect x="125.9" y="189.8" width="0.75" height="0.75" fill="#78b33f" fill-opacity="0.8"/>
<rect x="129.4" y="189.5" width="0.75" height="0.75" fill="#78b33f" fill-opacity="0.8"/>
<rect x="129.5" y="190.0" width="0.75" height="0.75" fill="#78b33f" fill-opacity="0.8"/>
<rect x="129.3" y="190.7" width="0.75" height="0.75" fill="#79b43f" fill-opacity="0.8"/>
<rect x="127.7" y="188.6" width="0.75" height="0.75" fill="#7ab43f" fill-opacity="0.8"/>
<rect x="129.5" y="190.4" width="0.75" height="0.75" fill="#7ab43f" fill-opacity="0.8"/>
<rect x="128.5" y="188.8" width="0.75" height="0.75" fill="#7ab43e" fill-opacity="0.8"/>
<rect x="129.0" y="189.1" width="0.75" height="0.75" fill="#7cb43e" fill-opacity="0.8"/>
<rect x="129.4" y="190.5" width="0.75" height="0.75" fill="#7cb43e" fill-opacity="0.8"/>
<rect x="128.7" y="188.9" width="0.75" height="0.75" fill="#7eb53d" fill-opacity="0.8"/>
<rect x="127.3" y="188.7" width="0.75" height="0.75" fill="#7fb53d" fill-opacity="0.8"/>
<rect x="129.3" y="190.5" width="0.75" height="0.75" fill="#81b53c" fill-opacity="0.8"/>
<rect x="128.0" y="188.7" width="0.75" height="0.75" fill="#82b63c" fill-opacity="0.8"/>
<rect x="128.8" y="189.0" width="0.75" height="0.75" fill="#83b63c" fill-opacity="0.8"/>
<rect x="127.4" y="191.6" width="0.75" height="0.75" fill="#84b63b" fill-opacity="0.8"/>
<rect x="126.1" y="189.7" width="0.75" height="0.75" fill="#87b73b" fill-opacity="0.8"/>
<rect x="126.2" y="190.9" width="0.75" height="0.75" fill="#88b73a" fill-opacity="0.8"/>
<rect x="126.1" y="190.8" width="0.75" height="0.75" fill="#8ab73a" fill-opacity="0.8"/>
<rect x="129.3" y="190.0" width="0.75" height="0.75" fill="#8ab73a" fill-opacity="0.8"/>
<rect x="126.0" y="190.3" width="0.75" height="0.75" fill="#8bb839" fill-opacity="0.8"/>
<rect x="126.6" y="189.2" width="0.75" height="0.75" fill="#8bb839" fill-opacity="0.8"/>
<rect x="128.7" y="191.1" width="0.75" height="0.75" fill="#8bb839" fill-opacity="0.8"/>
<rect x="127.5" y="188.9" width="0.75" height="0.75" fill="#8db839" fill-opacity="0.8"/>
<rect x="126.0" y="190.3" width="0.75" height="0.75" fill="#8db839" fill-opacity="0.8"/>
<rect x="126.9" y="191.4" width="0.75" height="0.75" fill="#8eb838" fill-opacity="0.8"/>
<rect x="129.2" y="189.9" width="0.75" height="0.75" fill="#8eb838" fill-opacity="0.8"/>
<rect x="128.3" y="189.0" width="0.75" height="0.75" fill="#8fb838" fill-opacity="0.8"/>
<rect x="129.2" y="190.4" width="0.75" height="0.75" fill="#90b938" fill-opacity="0.8"/>
<rect x="129.1" y="189.7" width="0.75" height="0.75" fill="#90b938" fill-opacity="0.8"/>
<rect x="128.7" y="189.2" width="0.75" height="0.75" fill="#90b938" fill-opacity="0.8"/>
<rect x="129.2" y="189.8" width="0.75" height="0.75" fill="#90b938" fill-opacity="0.8"/>
<rect x="127.7" y="191.4" width="0.75" height="0.75" fill="#90b938" fill-opacity="0.8"/>
<rect x="126.2" y="189.8" width="0.75" height="0.75" fill="#91b937" fill-opacity="0.8"/>
<rect x="126.4" y="189.5" width="0.75" height="0.75" fill="#91b937" fill-opacity="0.8"/>
<rect x="129.2" y="190.0" width="0.75" height="0.75" fill="#92b937" fill-opacity="0.8"/>
<rect x="126.2" y="190.5" width="0.75" height="0.75" fill="#94ba37" fill-opacity="0.8"/>
<rect x="128.6" y="191.1" width="0.75" height="0.75" fill="#94ba37" fill-opacity="0.8"/>
<rect x="126.3" y="189.8" width="0.75" height="0.75" fill="#94ba36" fill-opacity="0.8"/>
<rect x="128.0" y="191.3" width="0.75" height="0.75" fill="#95ba36" fill-opacity="0.8"/>
<rect x="126.3" y="190.7" width="0.75" height="0.75" fill="#97ba36" fill-opacity="0.8"/>
<rect x="127.4" y="191.4" width="0.75" height="0.75" fill="#97ba36" fill-opacity="0.8"/>
<rect x="127.2" y="189.1" width="0.75" height="0.75" fill="#9bbb35" fill-opacity="0.8"/>
<rect x="126.3" y="189.9" width="0.75" height="0.75" fill="#9bbb34" fill-opacity="0.8"/>
<rect x="126.3" y="190.5" width="0.75" height="0.75" fill="#9cbc34" fill-opacity="0.8"/>
<rect x="126.4" y="190.6" width="0.75" height="0.75" fill="#9dbc34" fill-opacity="0.8"/>
<rect x="128.8" y="189.5" width="0.75" height="0.75" fill="#9ebc34" fill-opacity="0.8"/>
<rect x="128.9" y="189.7" width="0.75" height="0.75" fill="#9ebc34" fill-opacity="0.8"/>
<rect x="128.9" y="189.9" width="0.75" height="0.75" fill="#a0bc33" fill-opacity="0.8"/>
<rect x="127.2" y="191.2" width="0.75" height="0.75" fill="#a2bd32" fill-opacity="0.8"/>
<rect x="126.7" y="191.0" width="0.75" height="0.75" fill="#a3bd32" fill-opacity="0.8"/>
<rect x="127.0" y="191.1" width="0.75" height="0.75" fill="#a3bd32" fill-opacity="0.8"/>
<rect x="128.8" y="189.8" width="0.75" height="0.75" fill="#a3bd32" fill-opacity="0.8"/>
<rect x="127.3" y="191.2" width="0.75" height="0.75" fill="#a3bd32" fill-opacity="0.8"/>
<rect x="128.4" y="189.3" width="0.75" height="0.75" fill="#a4bd32" fill-opacity="0.8"/>
<rect x="128.6" y="190.7" width="0.75" height="0.75" fill="#a4bd32" fill-opacity="0.8"/>
<rect x="128.6" y="190.8" width="0.75" height="0.75" fill="#a6be31" fill-opacity="0.8"/>
<rect x="128.0" y="191.1" width="0.75" height="0.75" fill="#a8be31" fill-opacity="0.8"/>
<rect x="126.6" y="189.9" width="0.75" height="0.75" fill="#a8be31" fill-opacity="0.8"/>
<rect x="128.6" y="189.6" width="0.75" height="0.75" fill="#aabe31" fill-opacity="0.8"/>
<rect x="126.7" y="190.7" width="0.75" height="0.75" fill="#aabe31" fill-opacity="0.8"/>
<rect x="127.0" y="189.4" width="0.75" height="0.75" fill="#abbe31" fill-opacity="0.8"/>
<rect x="127.2" y="191.1" width="0.75" height="0.75" fill="#abbe31" fill-opacity="0.8"/>
<rect x="128.1" y="191.0" width="0.75" height="0.75" fill="#abbe31" fill-opacity="0.8"/>
<rect x="128.7" y="190.0" width="0.75" height="0.75" fill="#afbe30" fill-opacity="0.8"/>
<rect x="126.6" y="190.0" width="0.75" height="0.75" fill="#afbe30" fill-opacity="0.8"/>
<rect x="128.5" y="189.7" width="0.75" height="0.75" fill="#b1be30" fill-opacity="0.8"/>
<rect x="127.2" y="190.9" width="0.75" height="0.75" fill="#b3be30" fill-opacity="0.8"/>
<rect x="128.0" y="190.9" width="0.75" height="0.75" fill="#b3be30" fill-opacity="0.8"/>
<rect x="127.8" y="189.4" width="0.75" height="0.75" fill="#b5be2f" fill-opacity="0.8"/>
<rect x="126.8" y="190.5" width="0.75" height="0.75" fill="#b5be2f" fill-opacity="0.8"/>
<rect x="128.5" y="190.3" width="0.75" height="0.75" fill="#b5be2f" fill-opacity="0.8"/>
<rect x="126.8" y="190.5" width="0.75" height="0.75" fill="#b8be2f" fill-opacity="0.8"/>
<rect x="128.5" y="190.2" width="0.75" height="0.75" fill="#b8be2f" fill-opacity="0.8"/>
<rect x="127.0" y="189.8" width="0.75" height="0.75" fill="#b8be2f" fill-opacity="0.8"/>
<rect x="126.8" y="190.3" width="0.75" height="0.75" fill="#b9be2f" fill-opacity="0.8"/>
<rect x="126.8" y="190.0" width="0.75" height="0.75" fill="#b9be2f" fill-opacity="0.8"/>
<rect x="127.2" y="190.8" width="0.75" height="0.75" fill="#babe2f" fill-opacity="0.8"/>
<rect x="127.2" y="189.7" width="0.75" height="0.75" fill="#babe2f" fill-opacity="0.8"/>
<rect x="127.2" y="189.7" width="0.75" height="0.75" fill="#bbbe2f" fill-opacity="0.8"/>
<rect x="128.3" y="190.4" width="0.75" height="0.75" fill="#bdbe2e" fill-opacity="0.8"/>
<rect x="128.0" y="190.6" width="0.75" height="0.75" fill="#bfbe2e" fill-opacity="0.8"/>
<rect x="127.3" y="190.7" width="0.75" height="0.75" fill="#bfbe2e" fill-opacity="0.8"/>
<rect x="128.3" y="190.4" width="0.75" height="0.75" fill="#c0be2e" fill-opacity="0.8"/>
<rect x="127.0" y="190.3" width="0.75" height="0.75" fill="#c1be2e" fill-opacity="0.8"/>
<rect x="127.0" y="190.3" width="0.75" height="0.75" fill="#c2be2e" fill-opacity="0.8"/>
<rect x="127.5" y="190.7" width="0.75" height="0.75" fill="#c3be2e" fill-opacity="0.8"/>
<rect x="127.4" y="189.8" width="0.75" height="0.75" fill="#c4be2e" fill-opacity="0.8"/>
<rect x="128.1" y="189.9" width="0.75" height="0.75" fill="#c4be2e" fill-opacity="0.8"/>
<rect x="127.8" y="189.7" width="0.75" height="0.75" fill="#c4be2e" fill-opacity="0.8"/>
<rect x="128.1" y="189.9" width="0.75" height="0.75" fill="#c4be2e" fill-opacity="0.8"/>
<rect x="127.5" y="189.7" width="0.75" height="0.75" fill="#c4be2e" fill-opacity="0.8"/>
<rect x="127.8" y="190.6" width="0.75" height="0.75" fill="#c5be2d" fill-opacity="0.8"/>
<rect x="127.3" y="190.4" width="0.75" height="0.75" fill="#c6be2d" fill-opacity="0.8"/>
<rect x="127.3" y="190.0" width="0.75" height="0.75" fill="#c7be2d" fill-opacity="0.8"/>
<rect x="127.3" y="190.3" width="0.75" height="0.75" fill="#c8be2d" fill-opacity="0.8"/>
<rect x="127.3" y="190.0" width="0.75" height="0.75" fill="#c8be2d" fill-opacity="0.8"/>
<rect x="127.4" y="190.0" width="0.75" height="0.75" fill="#c9be2d" fill-opacity="0.8"/>
<rect x="127.6" y="190.5" width="0.75" height="0.75" fill="#c9be2d" fill-opacity="0.8"/>
<rect x="127.9" y="190.4" width="0.75" height="0.75" fill="#c9be2d" fill-opacity="0.8"/>
<rect x="128.0" y="190.1" width="0.75" height="0.75" fill="#c9be2d" fill-opacity="0.8"/>
<rect x="127.8" y="190.4" width="0.75" height="0.75" fill="#cabe2d" fill-opacity="0.8"/>
<rect x="127.9" y="190.0" width="0.75" height="0.75" fill="#cabe2d" fill-opacity="0.8"/>
<rect x="127.5" y="190.3" width="0.75" height="0.75" fill="#ccbe2d" fill-opacity="0.8"/>
<rect x="127.8" y="190.2" width="0.75" height="0.75" fill="#ccbe2d" fill-opacity="0.8"/>
<line x1="121.8" y1="155.1" x2="121.8" y2="207.5" stroke="#6a6a6a" stroke-width="0.8"/>
<line x1="101.9" y1="185.4" x2="153.5" y2="185.4" stroke="#6a6a6a" stroke-width="0.8"/>
<text x="103.30000000000001" y="160.9" font-size="5.5" text-anchor="start" fill="#222" stroke="#222" font-weight="normal" >Q1</text>
<text x="103.30000000000001" y="167.1" font-size="5.5" text-anchor="start" fill="#222" stroke="#222" font-weight="normal" >1%</text>
<text x="152.5" y="160.9" font-size="5.5" text-anchor="end" fill="#222" stroke="#222" font-weight="normal" >Q2</text>
<text x="152.5" y="167.1" font-size="5.5" text-anchor="end" fill="#222" stroke="#222" font-weight="normal" >11%</text>
<text x="103.30000000000001" y="198.7" font-size="5.5" text-anchor="start" fill="#222" stroke="#222" font-weight="normal" >Q4</text>
<text x="103.30000000000001" y="205.1" font-size="5.5" text-anchor="start" fill="#222" stroke="#222" font-weight="normal" >3%</text>
<text x="152.5" y="198.7" font-size="5.5" text-anchor="end" fill="#222" stroke="#222" font-weight="normal" >Q3</text>
<text x="152.5" y="205.1" font-size="5.5" text-anchor="end" fill="#222" stroke="#222" font-weight="normal" >85%</text>
<line x1="100.60000000000001" y1="165.7" x2="101.9" y2="165.7" stroke="#333" stroke-width="0.8"/>
<text x="97.7" y="167.60000000000002" font-size="6.6" text-anchor="end" fill="#333" stroke="#333">10</text>
<text x="100.0" y="164.70000000000002" font-size="4.2" text-anchor="end" fill="#333" stroke="#333">4</text>
<line x1="100.60000000000001" y1="177.55" x2="101.9" y2="177.55" stroke="#333" stroke-width="0.8"/>
<text x="97.7" y="179.3" font-size="6.6" text-anchor="end" fill="#333" stroke="#333">10</text>
<text x="100.0" y="176.4" font-size="4.2" text-anchor="end" fill="#333" stroke="#333">3</text>
<line x1="100.60000000000001" y1="189.4" x2="101.9" y2="189.4" stroke="#333" stroke-width="0.8"/>
<text x="97.7" y="190.9" font-size="6.6" text-anchor="end" fill="#333" stroke="#333">10</text>
<text x="100.0" y="188.0" font-size="4.2" text-anchor="end" fill="#333" stroke="#333">2</text>
<line x1="100.60000000000001" y1="201.25" x2="101.9" y2="201.25" stroke="#333" stroke-width="0.8"/>
<text x="97.7" y="202.3" font-size="6.6" text-anchor="end" fill="#333" stroke="#333">10</text>
<text x="100.0" y="199.4" font-size="4.2" text-anchor="end" fill="#333" stroke="#333">1</text>
<line x1="107.4" y1="207.5" x2="107.4" y2="209.1" stroke="#555" stroke-width="0.6"/>
<text x="106.5" y="216.5" font-size="6.6" text-anchor="middle" fill="#333" stroke="#333">10<tspan font-size="4.2" dy="-2.8">1</tspan></text>
<line x1="118.95" y1="207.5" x2="118.95" y2="209.1" stroke="#555" stroke-width="0.6"/>
<text x="118.05" y="216.5" font-size="6.6" text-anchor="middle" fill="#333" stroke="#333">10<tspan font-size="4.2" dy="-2.8">2</tspan></text>
<line x1="130.5" y1="207.5" x2="130.5" y2="209.1" stroke="#555" stroke-width="0.6"/>
<text x="129.6" y="216.5" font-size="6.6" text-anchor="middle" fill="#333" stroke="#333">10<tspan font-size="4.2" dy="-2.8">3</tspan></text>
<line x1="142.05" y1="207.5" x2="142.05" y2="209.1" stroke="#555" stroke-width="0.6"/>
<text x="141.15" y="216.5" font-size="6.6" text-anchor="middle" fill="#333" stroke="#333">10<tspan font-size="4.2" dy="-2.8">4</tspan></text>
<text x="60.6" y="150.0" font-size="8.7" text-anchor="middle" fill="#222" stroke="#222" font-weight="normal" >Control</text>
<text x="127.5" y="150.0" font-size="8.7" text-anchor="middle" fill="#222" stroke="#222" font-weight="normal" >+MK-571</text>
<line x1="18.9" y1="221.5" x2="148" y2="221.5" stroke="#111" stroke-width="1.1"/>
<polygon points="152.6,221.5 145.4,218.4 147.0,221.5 145.4,224.6" fill="#111"/>
<line x1="19.4" y1="222" x2="19.4" y2="158" stroke="#111" stroke-width="1.1"/>
<polygon points="19.4,153.8 16.3,160.9 19.4,159.4 22.5,160.9" fill="#111"/>
<text x="0" y="0" font-size="9" text-anchor="middle" fill="#2a2a2a" stroke="#2a2a2a" style="stroke-width:0.3px" transform="translate(15.9,187.3) rotate(-90) scale(0.83,1)">α4-integrin</text>
<text x="86.3" y="231.5" font-size="8.2" text-anchor="middle" fill="#2a2a2a" stroke="#2a2a2a" font-weight="normal" style="stroke-width:0.3px" transform="translate(86.3,231.5) scale(0.77,1) translate(-86.3,-231.5)">Band3</text>
<line x1="198.5" y1="158.1" x2="201.5" y2="158.1" stroke="#1a1a1a" stroke-width="0.9"/>
<text x="195.8" y="160.29999999999998" font-size="6.3" text-anchor="end" fill="#333" stroke="#333" font-weight="normal" >15</text>
<line x1="198.5" y1="174.35" x2="201.5" y2="174.35" stroke="#1a1a1a" stroke-width="0.9"/>
<text x="195.8" y="176.54999999999998" font-size="6.3" text-anchor="end" fill="#333" stroke="#333" font-weight="normal" >10</text>
<line x1="198.5" y1="190.5" x2="201.5" y2="190.5" stroke="#1a1a1a" stroke-width="0.9"/>
<text x="195.8" y="192.7" font-size="6.3" text-anchor="end" fill="#333" stroke="#333" font-weight="normal" >5</text>
<line x1="198.5" y1="206.7" x2="201.5" y2="206.7" stroke="#1a1a1a" stroke-width="0.9"/>
<text x="195.8" y="208.89999999999998" font-size="6.3" text-anchor="end" fill="#333" stroke="#333" font-weight="normal" >0</text>
<rect x="207.6" y="171.2" width="24.200000000000017" height="35.30000000000001" fill="#8f94a3"/>
<rect x="244.3" y="193.8" width="23.5" height="12.699999999999989" fill="#d19384"/>
<line x1="201.5" y1="156.2" x2="201.5" y2="206.5" stroke="#1a1a1a" stroke-width="1.2"/>
<line x1="200.9" y1="206.5" x2="274.6" y2="206.5" stroke="#1a1a1a" stroke-width="1.2"/>
<line x1="219.7" y1="206.5" x2="219.7" y2="209.6" stroke="#1a1a1a" stroke-width="1"/>
<line x1="219.7" y1="165.5" x2="219.7" y2="176.8" stroke="#222" stroke-width="1.1"/>
<line x1="213.7" y1="165.5" x2="225.7" y2="165.5" stroke="#222" stroke-width="1.1"/>
<line x1="213.7" y1="176.8" x2="225.7" y2="176.8" stroke="#222" stroke-width="1.1"/>
<circle cx="219.7" cy="162.0" r="0.9" fill="#3c4a70"/>
<circle cx="221.2" cy="171.0" r="0.9" fill="#3c4a70"/>
<circle cx="219.7" cy="180.5" r="0.9" fill="#3c4a70"/>
<line x1="256.05" y1="206.5" x2="256.05" y2="209.6" stroke="#1a1a1a" stroke-width="1"/>
<line x1="256.05" y1="188.8" x2="256.05" y2="199.0" stroke="#222" stroke-width="1.1"/>
<line x1="250.05" y1="188.8" x2="262.05" y2="188.8" stroke="#222" stroke-width="1.1"/>
<line x1="250.05" y1="199.0" x2="262.05" y2="199.0" stroke="#222" stroke-width="1.1"/>
<circle cx="256.05" cy="188.3" r="0.9" fill="#c0283f"/>
<circle cx="256.55" cy="196.0" r="0.9" fill="#c0283f"/>
<circle cx="256.05" cy="203.8" r="0.9" fill="#c0283f"/>
<line x1="220.0" y1="159.0" x2="257.5" y2="159.0" stroke="#747474" stroke-width="1.9"/>
<circle cx="238.75" cy="156.1" r="0.8" fill="#333"/>
<text x="0" y="0" font-size="7.6" text-anchor="middle" fill="#2a2a2a" stroke="#2a2a2a" style="stroke-width:0.22px" transform="translate(173.29999999999998,181.5) rotate(-90) scale(0.92,1)">Band3<tspan font-size="5.2" dy="-3.1">low</tspan><tspan dy="3.1"> / α4-</tspan></text>
<text x="0" y="0" font-size="7.6" text-anchor="middle" fill="#2a2a2a" stroke="#2a2a2a" style="stroke-width:0.22px" transform="translate(183.2,181.5) rotate(-90) scale(0.92,1)">integrin<tspan font-size="5.2" dy="-3.1">high</tspan><tspan dy="3.1"> (%)</tspan></text>
<text x="219.7" y="218.1" font-size="6.3" text-anchor="middle" fill="#333" stroke="#333" font-weight="normal" >Control</text>
<text x="256.05" y="218.1" font-size="6.3" text-anchor="middle" fill="#333" stroke="#333" font-weight="normal" >+ MK-571</text>
<line x1="316.5" y1="158.1" x2="319.5" y2="158.1" stroke="#1a1a1a" stroke-width="0.9"/>
<text x="313.8" y="160.29999999999998" font-size="6.3" text-anchor="end" fill="#333" stroke="#333" font-weight="normal" >40</text>
<line x1="316.5" y1="170.25" x2="319.5" y2="170.25" stroke="#1a1a1a" stroke-width="0.9"/>
<text x="313.8" y="172.45" font-size="6.3" text-anchor="end" fill="#333" stroke="#333" font-weight="normal" >30</text>
<line x1="316.5" y1="182.4" x2="319.5" y2="182.4" stroke="#1a1a1a" stroke-width="0.9"/>
<text x="313.8" y="184.6" font-size="6.3" text-anchor="end" fill="#333" stroke="#333" font-weight="normal" >20</text>
<line x1="316.5" y1="194.55" x2="319.5" y2="194.55" stroke="#1a1a1a" stroke-width="0.9"/>
<text x="313.8" y="196.75" font-size="6.3" text-anchor="end" fill="#333" stroke="#333" font-weight="normal" >10</text>
<line x1="316.5" y1="206.7" x2="319.5" y2="206.7" stroke="#1a1a1a" stroke-width="0.9"/>
<text x="313.8" y="208.89999999999998" font-size="6.3" text-anchor="end" fill="#333" stroke="#333" font-weight="normal" >0</text>
<rect x="325.8" y="177.4" width="23.69999999999999" height="29.099999999999994" fill="#8f94a3"/>
<rect x="362.0" y="190.1" width="23.80000000000001" height="16.400000000000006" fill="#d19384"/>
<line x1="319.5" y1="156.2" x2="319.5" y2="206.5" stroke="#1a1a1a" stroke-width="1.2"/>
<line x1="318.9" y1="206.5" x2="391.7" y2="206.5" stroke="#1a1a1a" stroke-width="1.2"/>
<line x1="337.65" y1="206.5" x2="337.65" y2="209.6" stroke="#1a1a1a" stroke-width="1"/>
<line x1="337.65" y1="171.6" x2="337.65" y2="183.5" stroke="#222" stroke-width="1.1"/>
<line x1="331.45" y1="171.6" x2="343.84999999999997" y2="171.6" stroke="#222" stroke-width="1.1"/>
<line x1="331.45" y1="183.5" x2="343.84999999999997" y2="183.5" stroke="#222" stroke-width="1.1"/>
<circle cx="337.65" cy="172.5" r="0.9" fill="#3c4a70"/>
<circle cx="337.65" cy="174.2" r="0.9" fill="#3c4a70"/>
<circle cx="337.65" cy="183.5" r="0.9" fill="#3c4a70"/>
<line x1="373.9" y1="206.5" x2="373.9" y2="209.6" stroke="#1a1a1a" stroke-width="1"/>
<line x1="373.9" y1="187.5" x2="373.9" y2="193.0" stroke="#222" stroke-width="1.1"/>
<line x1="367.9" y1="187.5" x2="379.9" y2="187.5" stroke="#222" stroke-width="1.1"/>
<line x1="367.9" y1="193.0" x2="379.9" y2="193.0" stroke="#222" stroke-width="1.1"/>
<circle cx="373.9" cy="187.8" r="0.9" fill="#c0283f"/>
<circle cx="373.9" cy="191.1" r="0.9" fill="#c0283f"/>
<circle cx="373.9" cy="193.3" r="0.9" fill="#c0283f"/>
<line x1="337.5" y1="159.0" x2="375.0" y2="159.0" stroke="#747474" stroke-width="1.9"/>
<circle cx="356.25" cy="156.1" r="0.8" fill="#333"/>
<text x="0" y="0" font-size="7.6" text-anchor="middle" fill="#2a2a2a" stroke="#2a2a2a" style="stroke-width:0.22px" transform="translate(291.4,182.2) rotate(-90) scale(0.92,1)">Band3<tspan font-size="5.2" dy="-3.1">med</tspan><tspan dy="3.1"> / α4-</tspan></text>
<text x="0" y="0" font-size="7.6" text-anchor="middle" fill="#2a2a2a" stroke="#2a2a2a" style="stroke-width:0.22px" transform="translate(301.1,182.2) rotate(-90) scale(0.92,1)">integrin<tspan font-size="5.2" dy="-3.1">med</tspan><tspan dy="3.1"> (%)</tspan></text>
<text x="337.65" y="218.1" font-size="6.3" text-anchor="middle" fill="#333" stroke="#333" font-weight="normal" >Control</text>
<text x="373.9" y="218.1" font-size="6.3" text-anchor="middle" fill="#333" stroke="#333" font-weight="normal" >+ MK-571</text>
<line x1="437.5" y1="158.1" x2="440.5" y2="158.1" stroke="#1a1a1a" stroke-width="0.9"/>
<text x="434.8" y="160.29999999999998" font-size="6.3" text-anchor="end" fill="#333" stroke="#333" font-weight="normal" >100</text>
<line x1="437.5" y1="166.2" x2="440.5" y2="166.2" stroke="#1a1a1a" stroke-width="0.9"/>
<text x="434.8" y="168.39999999999998" font-size="6.3" text-anchor="end" fill="#333" stroke="#333" font-weight="normal" >90</text>
<line x1="437.5" y1="174.3" x2="440.5" y2="174.3" stroke="#1a1a1a" stroke-width="0.9"/>
<text x="434.8" y="176.5" font-size="6.3" text-anchor="end" fill="#333" stroke="#333" font-weight="normal" >80</text>
<line x1="437.5" y1="182.4" x2="440.5" y2="182.4" stroke="#1a1a1a" stroke-width="0.9"/>
<text x="434.8" y="184.6" font-size="6.3" text-anchor="end" fill="#333" stroke="#333" font-weight="normal" >70</text>
<line x1="437.5" y1="190.5" x2="440.5" y2="190.5" stroke="#1a1a1a" stroke-width="0.9"/>
<text x="434.8" y="192.7" font-size="6.3" text-anchor="end" fill="#333" stroke="#333" font-weight="normal" >60</text>
<line x1="437.5" y1="198.6" x2="440.5" y2="198.6" stroke="#1a1a1a" stroke-width="0.9"/>
<text x="434.8" y="200.79999999999998" font-size="6.3" text-anchor="end" fill="#333" stroke="#333" font-weight="normal" >50</text>
<line x1="437.5" y1="206.7" x2="440.5" y2="206.7" stroke="#1a1a1a" stroke-width="0.9"/>
<text x="434.8" y="208.89999999999998" font-size="6.3" text-anchor="end" fill="#333" stroke="#333" font-weight="normal" >40</text>
<rect x="446.3" y="191.3" width="24.19999999999999" height="15.199999999999989" fill="#8f94a3"/>
<rect x="483.0" y="176.8" width="23.80000000000001" height="29.69999999999999" fill="#d19384"/>
<line x1="440.5" y1="156.2" x2="440.5" y2="206.5" stroke="#1a1a1a" stroke-width="1.2"/>
<line x1="439.9" y1="206.5" x2="512.5" y2="206.5" stroke="#1a1a1a" stroke-width="1.2"/>
<line x1="458.4" y1="206.5" x2="458.4" y2="209.6" stroke="#1a1a1a" stroke-width="1"/>
<line x1="458.4" y1="184.5" x2="458.4" y2="197.5" stroke="#222" stroke-width="1.1"/>
<line x1="452.2" y1="184.5" x2="464.59999999999997" y2="184.5" stroke="#222" stroke-width="1.1"/>
<line x1="452.2" y1="197.5" x2="464.59999999999997" y2="197.5" stroke="#222" stroke-width="1.1"/>
<circle cx="458.4" cy="183.5" r="0.9" fill="#3c4a70"/>
<circle cx="457.4" cy="193.5" r="0.9" fill="#3c4a70"/>
<circle cx="458.4" cy="197.5" r="0.9" fill="#3c4a70"/>
<line x1="494.9" y1="206.5" x2="494.9" y2="209.6" stroke="#1a1a1a" stroke-width="1"/>
<line x1="494.9" y1="171.5" x2="494.9" y2="181.5" stroke="#222" stroke-width="1.1"/>
<line x1="488.9" y1="171.5" x2="500.9" y2="171.5" stroke="#222" stroke-width="1.1"/>
<line x1="488.9" y1="181.5" x2="500.9" y2="181.5" stroke="#222" stroke-width="1.1"/>
<circle cx="494.9" cy="171.0" r="0.9" fill="#c0283f"/>
<circle cx="495.9" cy="178.5" r="0.9" fill="#c0283f"/>
<circle cx="493.9" cy="180.0" r="0.9" fill="#c0283f"/>
<line x1="458.8" y1="159.0" x2="496.3" y2="159.0" stroke="#747474" stroke-width="1.9"/>
<circle cx="477.55" cy="156.1" r="0.8" fill="#333"/>
<text x="0" y="0" font-size="7.6" text-anchor="middle" fill="#2a2a2a" stroke="#2a2a2a" style="stroke-width:0.22px" transform="translate(408.3,181.6) rotate(-90) scale(0.92,1)">Band3<tspan font-size="5.2" dy="-3.1">high</tspan><tspan dy="3.1"> / α4-</tspan></text>
<text x="0" y="0" font-size="7.6" text-anchor="middle" fill="#2a2a2a" stroke="#2a2a2a" style="stroke-width:0.22px" transform="translate(418.8,181.6) rotate(-90) scale(0.92,1)">integrin<tspan font-size="5.2" dy="-3.1">low</tspan><tspan dy="3.1"> (%)</tspan></text>
<text x="458.4" y="218.1" font-size="6.3" text-anchor="middle" fill="#333" stroke="#333" font-weight="normal" >Control</text>
<text x="494.9" y="218.1" font-size="6.3" text-anchor="middle" fill="#333" stroke="#333" font-weight="normal" >+ MK-571</text>
<rect x="38.0" y="271.1" width="51.3" height="52.89999999999998" fill="#fff" stroke="#a8a8a8" stroke-width="0.9"/>
<line x1="38.0" y1="323.3" x2="89.3" y2="323.3" stroke="#c8c8c8" stroke-width="1.6"/>
<line x1="38.0" y1="303.5" x2="89.3" y2="303.5" stroke="#9a9a9a" stroke-width="0.9"/>
<path d="M55.9,296.8 L55.5,296.9 L55.1,296.9 L54.7,296.9 L54.3,296.9 L53.9,296.9 L53.5,296.8 L53.3,296.7 L53.1,296.6 L52.7,296.4 L52.5,296.3 L52.2,296.2 L51.9,296.0 L51.7,295.8 L51.5,295.7 L51.2,295.5 L51.0,295.4 L50.8,295.2 L50.6,295.0 L50.4,294.8 L50.2,294.5 L50.0,294.2 L49.9,293.9 L49.8,293.7 L49.6,293.3 L49.5,293.1 L49.4,292.9 L49.3,292.5 L49.3,292.1 L49.2,291.8 L49.2,291.5 L49.1,291.1 L49.0,290.7 L49.0,290.5 L48.9,290.1 L48.9,289.7 L48.9,289.3 L49.0,288.9 L49.0,288.6 L49.1,288.3 L49.2,287.9 L49.3,287.7 L49.4,287.3 L49.5,287.1 L49.6,286.7 L49.7,286.5 L49.8,286.2 L50.0,285.9 L50.2,285.7 L50.3,285.5 L50.5,285.3 L50.7,285.1 L50.8,284.9 L51.0,284.6 L51.2,284.4 L51.5,284.2 L51.7,284.0 L51.9,283.8 L52.2,283.7 L52.5,283.6 L52.7,283.5 L53.1,283.3 L53.3,283.2 L53.5,283.1 L53.9,282.9 L54.1,282.8 L54.4,282.7 L54.7,282.6 L55.1,282.5 L55.3,282.5 L55.7,282.4 L56.1,282.4 L56.5,282.3 L56.7,282.3 L57.1,282.1 L57.3,282.1 L57.7,281.9 L58.0,281.9 L58.3,281.8 L58.7,281.7 L59.0,281.7 L59.3,281.6 L59.5,281.5 L59.9,281.3 L60.1,281.2 L60.3,281.1 L60.7,280.9 L60.9,280.8 L61.3,280.7 L61.5,280.7 L61.9,280.6 L62.3,280.5 L62.5,280.4 L62.8,280.3 L63.1,280.1 L63.3,280.1 L63.7,279.9 L63.9,279.8 L64.3,279.7 L64.5,279.6 L64.9,279.5 L65.1,279.4 L65.5,279.4 L65.9,279.3 L66.1,279.2 L66.5,279.1 L66.7,279.0 L67.1,278.9 L67.3,278.8 L67.7,278.7 L67.9,278.6 L68.3,278.5 L68.7,278.4 L68.9,278.4 L69.3,278.3 L69.7,278.2 L69.9,278.2 L70.3,278.2 L70.7,278.1 L71.1,278.1 L71.5,278.2 L71.9,278.2 L72.1,278.3 L72.5,278.4 L72.7,278.5 L73.1,278.6 L73.3,278.7 L73.7,278.8 L74.0,278.8 L74.3,279.0 L74.5,279.1 L74.8,279.2 L75.1,279.4 L75.3,279.6 L75.5,279.7 L75.8,279.9 L76.0,280.1 L76.2,280.3 L76.4,280.5 L76.6,280.7 L76.8,280.9 L77.0,281.2 L77.1,281.5 L77.2,281.7 L77.3,282.1 L77.4,282.3 L77.4,282.7 L77.5,283.1 L77.4,283.5 L77.4,283.9 L77.3,284.1 L77.3,284.5 L77.2,284.9 L77.1,285.1 L77.0,285.3 L76.8,285.6 L76.6,285.9 L76.4,286.1 L76.3,286.3 L76.2,286.6 L76.0,286.8 L75.8,287.0 L75.5,287.2 L75.3,287.4 L75.1,287.5 L74.9,287.7 L74.7,287.9 L74.4,288.1 L74.2,288.3 L73.9,288.5 L73.7,288.6 L73.5,288.7 L73.3,288.9 L72.9,289.1 L72.7,289.2 L72.4,289.3 L72.1,289.4 L71.9,289.5 L71.5,289.7 L71.3,289.8 L71.1,289.9 L70.7,290.1 L70.5,290.2 L70.1,290.3 L69.9,290.4 L69.5,290.5 L69.3,290.6 L69.0,290.7 L68.7,290.8 L68.5,290.9 L68.1,291.1 L67.9,291.1 L67.5,291.3 L67.3,291.3 L66.9,291.5 L66.7,291.6 L66.3,291.7 L66.1,291.8 L65.7,291.9 L65.5,292.0 L65.2,292.1 L64.9,292.3 L64.6,292.3 L64.3,292.4 L63.9,292.5 L63.7,292.5 L63.3,292.6 L63.0,292.7 L62.7,292.9 L62.5,292.9 L62.1,293.1 L61.9,293.2 L61.5,293.3 L61.3,293.4 L61.0,293.5 L60.7,293.7 L60.5,293.9 L60.3,294.1 L60.1,294.2 L59.9,294.4 L59.6,294.6 L59.4,294.8 L59.1,295.0 L58.9,295.2 L58.7,295.3 L58.5,295.5 L58.3,295.6 L58.1,295.8 L57.8,296.0 L57.5,296.1 L57.3,296.3 L57.1,296.4 L56.7,296.5 L56.5,296.6 L56.1,296.8 L55.9,296.8Z" fill="#ececec" stroke="none"/>
<path d="M55.9,296.8 L55.5,296.9 L55.1,296.9 L54.7,296.9 L54.3,296.9 L53.9,296.9 L53.5,296.8 L53.3,296.7 L53.1,296.6 L52.7,296.4 L52.5,296.3 L52.2,296.2 L51.9,296.0 L51.7,295.8 L51.5,295.7 L51.2,295.5 L51.0,295.4 L50.8,295.2 L50.6,295.0 L50.4,294.8 L50.2,294.5 L50.0,294.2 L49.9,293.9 L49.8,293.7 L49.6,293.3 L49.5,293.1 L49.4,292.9 L49.3,292.5 L49.3,292.1 L49.2,291.8 L49.2,291.5 L49.1,291.1 L49.0,290.7 L49.0,290.5 L48.9,290.1 L48.9,289.7 L48.9,289.3 L49.0,288.9 L49.0,288.6 L49.1,288.3 L49.2,287.9 L49.3,287.7 L49.4,287.3 L49.5,287.1 L49.6,286.7 L49.7,286.5 L49.8,286.2 L50.0,285.9 L50.2,285.7 L50.3,285.5 L50.5,285.3 L50.7,285.1 L50.8,284.9 L51.0,284.6 L51.2,284.4 L51.5,284.2 L51.7,284.0 L51.9,283.8 L52.2,283.7 L52.5,283.6 L52.7,283.5 L53.1,283.3 L53.3,283.2 L53.5,283.1 L53.9,282.9 L54.1,282.8 L54.4,282.7 L54.7,282.6 L55.1,282.5 L55.3,282.5 L55.7,282.4 L56.1,282.4 L56.5,282.3 L56.7,282.3 L57.1,282.1 L57.3,282.1 L57.7,281.9 L58.0,281.9 L58.3,281.8 L58.7,281.7 L59.0,281.7 L59.3,281.6 L59.5,281.5 L59.9,281.3 L60.1,281.2 L60.3,281.1 L60.7,280.9 L60.9,280.8 L61.3,280.7 L61.5,280.7 L61.9,280.6 L62.3,280.5 L62.5,280.4 L62.8,280.3 L63.1,280.1 L63.3,280.1 L63.7,279.9 L63.9,279.8 L64.3,279.7 L64.5,279.6 L64.9,279.5 L65.1,279.4 L65.5,279.4 L65.9,279.3 L66.1,279.2 L66.5,279.1 L66.7,279.0 L67.1,278.9 L67.3,278.8 L67.7,278.7 L67.9,278.6 L68.3,278.5 L68.7,278.4 L68.9,278.4 L69.3,278.3 L69.7,278.2 L69.9,278.2 L70.3,278.2 L70.7,278.1 L71.1,278.1 L71.5,278.2 L71.9,278.2 L72.1,278.3 L72.5,278.4 L72.7,278.5 L73.1,278.6 L73.3,278.7 L73.7,278.8 L74.0,278.8 L74.3,279.0 L74.5,279.1 L74.8,279.2 L75.1,279.4 L75.3,279.6 L75.5,279.7 L75.8,279.9 L76.0,280.1 L76.2,280.3 L76.4,280.5 L76.6,280.7 L76.8,280.9 L77.0,281.2 L77.1,281.5 L77.2,281.7 L77.3,282.1 L77.4,282.3 L77.4,282.7 L77.5,283.1 L77.4,283.5 L77.4,283.9 L77.3,284.1 L77.3,284.5 L77.2,284.9 L77.1,285.1 L77.0,285.3 L76.8,285.6 L76.6,285.9 L76.4,286.1 L76.3,286.3 L76.2,286.6 L76.0,286.8 L75.8,287.0 L75.5,287.2 L75.3,287.4 L75.1,287.5 L74.9,287.7 L74.7,287.9 L74.4,288.1 L74.2,288.3 L73.9,288.5 L73.7,288.6 L73.5,288.7 L73.3,288.9 L72.9,289.1 L72.7,289.2 L72.4,289.3 L72.1,289.4 L71.9,289.5 L71.5,289.7 L71.3,289.8 L71.1,289.9 L70.7,290.1 L70.5,290.2 L70.1,290.3 L69.9,290.4 L69.5,290.5 L69.3,290.6 L69.0,290.7 L68.7,290.8 L68.5,290.9 L68.1,291.1 L67.9,291.1 L67.5,291.3 L67.3,291.3 L66.9,291.5 L66.7,291.6 L66.3,291.7 L66.1,291.8 L65.7,291.9 L65.5,292.0 L65.2,292.1 L64.9,292.3 L64.6,292.3 L64.3,292.4 L63.9,292.5 L63.7,292.5 L63.3,292.6 L63.0,292.7 L62.7,292.9 L62.5,292.9 L62.1,293.1 L61.9,293.2 L61.5,293.3 L61.3,293.4 L61.0,293.5 L60.7,293.7 L60.5,293.9 L60.3,294.1 L60.1,294.2 L59.9,294.4 L59.6,294.6 L59.4,294.8 L59.1,295.0 L58.9,295.2 L58.7,295.3 L58.5,295.5 L58.3,295.6 L58.1,295.8 L57.8,296.0 L57.5,296.1 L57.3,296.3 L57.1,296.4 L56.7,296.5 L56.5,296.6 L56.1,296.8 L55.9,296.8Z" fill="none" stroke="rgb(147,147,147)" stroke-width="0.45"/>
<path d="M56.3,296.0 L55.9,296.1 L55.5,296.1 L55.1,296.2 L54.7,296.2 L54.3,296.1 L53.9,296.1 L53.5,296.0 L53.3,295.9 L52.9,295.8 L52.7,295.7 L52.4,295.6 L52.1,295.4 L51.9,295.2 L51.7,295.0 L51.5,294.9 L51.2,294.7 L51.0,294.5 L50.8,294.3 L50.6,294.0 L50.5,293.7 L50.4,293.5 L50.3,293.1 L50.2,292.9 L50.0,292.5 L50.0,292.3 L49.9,291.9 L49.8,291.7 L49.8,291.3 L49.7,290.9 L49.6,290.7 L49.6,290.3 L49.5,289.9 L49.5,289.5 L49.6,289.1 L49.7,288.9 L49.7,288.5 L49.8,288.1 L49.8,287.8 L49.9,287.5 L50.0,287.3 L50.2,286.9 L50.3,286.7 L50.4,286.4 L50.6,286.1 L50.8,285.9 L50.9,285.7 L51.1,285.5 L51.3,285.3 L51.5,285.1 L51.7,284.9 L51.9,284.7 L52.2,284.5 L52.5,284.4 L52.7,284.3 L53.0,284.1 L53.3,283.9 L53.5,283.8 L53.8,283.7 L54.1,283.6 L54.4,283.5 L54.7,283.4 L55.0,283.3 L55.3,283.2 L55.7,283.2 L56.1,283.1 L56.5,283.1 L56.7,283.0 L57.1,282.9 L57.3,282.8 L57.7,282.7 L57.9,282.7 L58.3,282.6 L58.7,282.5 L58.9,282.4 L59.3,282.3 L59.6,282.3 L59.9,282.2 L60.2,282.1 L60.5,281.9 L60.7,281.8 L61.0,281.7 L61.3,281.5 L61.7,281.5 L61.9,281.4 L62.3,281.3 L62.5,281.3 L62.9,281.1 L63.1,281.0 L63.5,280.9 L63.7,280.8 L64.0,280.7 L64.3,280.6 L64.6,280.5 L64.9,280.3 L65.2,280.3 L65.5,280.2 L65.9,280.1 L66.3,280.1 L66.5,280.0 L66.9,279.9 L67.1,279.8 L67.4,279.7 L67.7,279.5 L67.9,279.4 L68.3,279.3 L68.7,279.3 L68.9,279.2 L69.3,279.2 L69.7,279.1 L70.1,279.1 L70.3,279.0 L70.7,279.0 L71.1,279.0 L71.5,279.0 L71.8,279.0 L72.1,279.2 L72.4,279.2 L72.7,279.4 L72.9,279.5 L73.3,279.6 L73.5,279.7 L73.8,279.9 L74.1,280.1 L74.3,280.2 L74.5,280.3 L74.7,280.5 L74.9,280.7 L75.2,280.9 L75.4,281.1 L75.7,281.3 L75.9,281.5 L76.0,281.7 L76.2,281.9 L76.3,282.3 L76.4,282.6 L76.4,282.9 L76.4,283.3 L76.4,283.6 L76.3,283.9 L76.2,284.2 L76.0,284.5 L75.9,284.7 L75.7,284.9 L75.5,285.3 L75.5,285.5 L75.4,285.9 L75.3,286.1 L75.1,286.3 L74.9,286.5 L74.7,286.7 L74.4,286.9 L74.2,287.1 L74.0,287.3 L73.8,287.5 L73.5,287.7 L73.3,287.8 L73.1,288.0 L72.9,288.1 L72.5,288.3 L72.3,288.4 L72.1,288.5 L71.7,288.6 L71.5,288.7 L71.2,288.9 L70.9,289.1 L70.7,289.2 L70.5,289.3 L70.1,289.5 L69.9,289.6 L69.6,289.7 L69.3,289.8 L68.9,289.9 L68.7,290.0 L68.3,290.1 L68.1,290.2 L67.7,290.3 L67.5,290.4 L67.2,290.5 L66.9,290.6 L66.7,290.7 L66.3,290.9 L66.1,291.0 L65.7,291.1 L65.5,291.2 L65.1,291.3 L64.9,291.4 L64.5,291.5 L64.2,291.5 L63.9,291.6 L63.5,291.7 L63.3,291.8 L63.0,291.9 L62.7,292.0 L62.4,292.1 L62.1,292.2 L61.8,292.3 L61.5,292.4 L61.1,292.5 L60.9,292.6 L60.6,292.7 L60.3,292.9 L60.1,293.1 L59.9,293.3 L59.7,293.5 L59.5,293.6 L59.3,293.8 L59.1,294.0 L58.9,294.2 L58.7,294.4 L58.5,294.6 L58.3,294.8 L58.1,295.0 L57.8,295.2 L57.5,295.4 L57.3,295.5 L57.1,295.6 L56.8,295.8 L56.5,295.9 L56.3,296.0Z" fill="none" stroke="rgb(144,144,144)" stroke-width="0.45"/>
<path d="M55.7,295.6 L55.3,295.6 L54.9,295.6 L54.5,295.6 L54.1,295.6 L53.9,295.6 L53.5,295.4 L53.2,295.4 L52.9,295.2 L52.7,295.1 L52.4,295.0 L52.1,294.8 L51.9,294.6 L51.7,294.4 L51.5,294.2 L51.2,294.0 L51.1,293.7 L51.0,293.5 L50.8,293.2 L50.7,292.9 L50.6,292.7 L50.5,292.3 L50.4,292.1 L50.3,291.7 L50.2,291.5 L50.1,291.1 L50.1,290.7 L50.0,290.5 L50.0,290.1 L50.0,289.7 L50.0,289.3 L50.1,289.1 L50.1,288.7 L50.2,288.3 L50.2,288.1 L50.3,287.7 L50.4,287.5 L50.6,287.1 L50.7,286.9 L50.8,286.6 L51.0,286.3 L51.2,286.1 L51.3,285.9 L51.5,285.7 L51.7,285.5 L51.9,285.3 L52.2,285.1 L52.5,284.9 L52.7,284.8 L53.0,284.7 L53.3,284.5 L53.5,284.4 L53.7,284.3 L54.1,284.1 L54.3,284.1 L54.7,284.0 L55.0,283.9 L55.3,283.8 L55.7,283.8 L56.1,283.8 L56.5,283.7 L56.7,283.7 L57.1,283.6 L57.3,283.5 L57.7,283.3 L57.9,283.3 L58.3,283.2 L58.7,283.1 L58.9,283.0 L59.3,282.9 L59.6,282.9 L59.9,282.8 L60.3,282.7 L60.5,282.6 L60.9,282.5 L61.1,282.4 L61.4,282.3 L61.7,282.2 L62.1,282.1 L62.4,282.1 L62.7,282.0 L63.0,281.9 L63.3,281.7 L63.5,281.6 L63.8,281.5 L64.1,281.3 L64.3,281.2 L64.7,281.1 L64.9,281.0 L65.2,280.9 L65.5,280.8 L65.9,280.7 L66.1,280.6 L66.5,280.6 L66.9,280.5 L67.1,280.4 L67.5,280.3 L67.7,280.2 L68.1,280.1 L68.3,280.1 L68.7,280.0 L69.1,280.0 L69.5,279.9 L69.9,279.9 L70.2,279.9 L70.5,279.8 L70.9,279.8 L71.3,279.8 L71.7,279.8 L72.0,279.9 L72.3,280.0 L72.6,280.1 L72.9,280.2 L73.1,280.3 L73.3,280.5 L73.7,280.7 L73.9,280.8 L74.1,281.0 L74.3,281.2 L74.5,281.4 L74.7,281.6 L74.9,281.9 L75.1,282.1 L75.2,282.3 L75.3,282.7 L75.3,283.1 L75.3,283.5 L75.2,283.9 L75.1,284.1 L75.0,284.5 L74.9,284.7 L74.8,285.1 L74.7,285.4 L74.6,285.7 L74.5,285.9 L74.3,286.1 L74.1,286.3 L73.9,286.5 L73.6,286.7 L73.4,286.9 L73.2,287.1 L72.9,287.3 L72.7,287.4 L72.5,287.5 L72.1,287.7 L71.9,287.8 L71.6,287.9 L71.3,288.1 L71.1,288.2 L70.9,288.3 L70.6,288.5 L70.3,288.7 L70.1,288.8 L69.9,288.9 L69.5,289.0 L69.3,289.1 L68.9,289.2 L68.6,289.3 L68.3,289.4 L67.9,289.5 L67.7,289.6 L67.3,289.7 L67.1,289.8 L66.9,289.9 L66.5,290.1 L66.3,290.2 L66.0,290.3 L65.7,290.4 L65.3,290.5 L65.1,290.6 L64.7,290.7 L64.5,290.7 L64.1,290.8 L63.8,290.9 L63.5,291.1 L63.3,291.1 L62.9,291.3 L62.7,291.4 L62.3,291.5 L62.1,291.5 L61.7,291.7 L61.5,291.7 L61.1,291.9 L60.9,292.0 L60.7,292.1 L60.3,292.3 L60.1,292.5 L59.9,292.6 L59.7,292.7 L59.4,292.9 L59.2,293.1 L59.0,293.3 L58.8,293.5 L58.7,293.7 L58.5,293.9 L58.3,294.1 L58.0,294.3 L57.8,294.6 L57.5,294.7 L57.3,294.9 L57.1,295.0 L56.8,295.2 L56.5,295.3 L56.3,295.4 L55.9,295.5 L55.7,295.6Z" fill="none" stroke="rgb(140,140,140)" stroke-width="0.45"/>
<path d="M55.5,295.2 L55.1,295.3 L54.7,295.3 L54.3,295.3 L53.9,295.2 L53.7,295.1 L53.3,295.0 L53.1,294.9 L52.8,294.8 L52.5,294.6 L52.3,294.4 L52.1,294.2 L51.9,294.1 L51.7,293.9 L51.5,293.6 L51.3,293.3 L51.2,293.1 L51.0,292.8 L50.9,292.5 L50.8,292.3 L50.7,291.9 L50.6,291.7 L50.5,291.3 L50.4,291.0 L50.4,290.7 L50.3,290.3 L50.3,289.9 L50.3,289.5 L50.4,289.1 L50.4,288.8 L50.5,288.5 L50.6,288.1 L50.6,287.9 L50.8,287.5 L50.9,287.3 L51.0,287.0 L51.2,286.7 L51.3,286.5 L51.5,286.3 L51.7,286.0 L51.9,285.8 L52.1,285.6 L52.3,285.5 L52.6,285.3 L52.9,285.1 L53.1,285.0 L53.3,284.9 L53.7,284.7 L53.9,284.6 L54.3,284.5 L54.5,284.4 L54.9,284.3 L55.1,284.3 L55.5,284.2 L55.9,284.2 L56.3,284.2 L56.7,284.1 L57.1,284.1 L57.3,284.0 L57.7,283.9 L57.9,283.9 L58.3,283.7 L58.5,283.6 L58.9,283.5 L59.1,283.5 L59.5,283.4 L59.9,283.3 L60.1,283.2 L60.5,283.2 L60.7,283.1 L61.1,282.9 L61.3,282.8 L61.7,282.7 L61.9,282.7 L62.3,282.6 L62.6,282.5 L62.9,282.4 L63.3,282.3 L63.5,282.2 L63.8,282.1 L64.1,281.9 L64.3,281.8 L64.5,281.7 L64.9,281.5 L65.1,281.4 L65.4,281.3 L65.7,281.1 L65.9,281.1 L66.3,281.0 L66.7,280.9 L67.1,280.9 L67.3,280.8 L67.7,280.7 L68.1,280.7 L68.3,280.6 L68.7,280.6 L69.1,280.5 L69.5,280.5 L69.9,280.5 L70.3,280.5 L70.7,280.5 L71.1,280.5 L71.5,280.5 L71.9,280.5 L72.3,280.6 L72.5,280.7 L72.9,280.8 L73.1,280.9 L73.4,281.1 L73.7,281.3 L73.9,281.5 L74.1,281.7 L74.2,281.9 L74.3,282.2 L74.4,282.5 L74.5,282.9 L74.5,283.3 L74.5,283.7 L74.5,284.1 L74.4,284.5 L74.3,284.8 L74.3,285.1 L74.1,285.3 L73.9,285.6 L73.7,285.8 L73.5,286.0 L73.3,286.2 L73.1,286.3 L72.9,286.5 L72.7,286.7 L72.5,286.9 L72.1,287.1 L71.9,287.2 L71.7,287.3 L71.3,287.5 L71.1,287.6 L70.9,287.8 L70.6,287.9 L70.3,288.0 L70.1,288.1 L69.8,288.3 L69.5,288.4 L69.3,288.5 L68.9,288.6 L68.7,288.7 L68.3,288.8 L67.9,288.9 L67.7,289.0 L67.3,289.1 L67.1,289.2 L66.9,289.3 L66.6,289.5 L66.3,289.6 L66.1,289.7 L65.7,289.8 L65.5,289.9 L65.1,290.1 L64.9,290.1 L64.5,290.3 L64.3,290.3 L63.9,290.4 L63.6,290.5 L63.3,290.7 L63.1,290.7 L62.7,290.9 L62.5,290.9 L62.1,291.0 L61.7,291.1 L61.5,291.2 L61.2,291.3 L60.9,291.5 L60.7,291.7 L60.5,291.8 L60.3,291.9 L60.0,292.1 L59.7,292.3 L59.5,292.5 L59.3,292.6 L59.1,292.8 L58.9,293.0 L58.7,293.2 L58.5,293.5 L58.3,293.7 L58.1,293.9 L57.9,294.1 L57.7,294.2 L57.4,294.3 L57.1,294.6 L56.9,294.7 L56.7,294.8 L56.3,295.0 L56.1,295.0 L55.7,295.1 L55.5,295.2Z" fill="none" stroke="rgb(137,137,137)" stroke-width="0.45"/>
<path d="M55.5,294.8 L55.1,294.9 L54.7,294.9 L54.3,294.9 L53.9,294.8 L53.7,294.7 L53.3,294.6 L53.1,294.4 L52.9,294.3 L52.6,294.1 L52.3,293.9 L52.1,293.7 L51.9,293.5 L51.8,293.3 L51.7,293.0 L51.5,292.7 L51.4,292.5 L51.2,292.3 L51.1,291.9 L51.0,291.7 L50.8,291.3 L50.8,291.1 L50.7,290.7 L50.7,290.3 L50.6,290.0 L50.6,289.7 L50.6,289.5 L50.7,289.1 L50.8,288.7 L50.8,288.5 L50.9,288.1 L51.0,287.8 L51.2,287.5 L51.3,287.3 L51.5,286.9 L51.6,286.7 L51.7,286.5 L51.9,286.3 L52.1,286.1 L52.4,285.9 L52.7,285.7 L52.9,285.6 L53.1,285.5 L53.4,285.3 L53.7,285.1 L53.9,285.0 L54.3,284.9 L54.5,284.9 L54.9,284.8 L55.3,284.7 L55.5,284.7 L55.9,284.6 L56.3,284.6 L56.7,284.6 L57.1,284.5 L57.5,284.5 L57.8,284.5 L58.1,284.4 L58.4,284.3 L58.7,284.2 L58.9,284.1 L59.3,283.9 L59.6,283.9 L59.9,283.8 L60.3,283.8 L60.7,283.7 L60.9,283.6 L61.1,283.5 L61.5,283.3 L61.7,283.2 L62.1,283.1 L62.3,283.0 L62.7,282.9 L62.9,282.8 L63.3,282.7 L63.6,282.7 L63.9,282.6 L64.1,282.5 L64.5,282.3 L64.7,282.2 L64.9,282.1 L65.3,281.9 L65.5,281.8 L65.7,281.7 L66.1,281.5 L66.3,281.4 L66.7,281.4 L67.1,281.4 L67.5,281.3 L67.9,281.3 L68.1,281.2 L68.5,281.2 L68.9,281.1 L69.1,281.1 L69.5,281.0 L69.9,281.0 L70.3,281.1 L70.5,281.1 L70.9,281.1 L71.3,281.2 L71.7,281.2 L72.0,281.3 L72.3,281.3 L72.7,281.5 L72.9,281.6 L73.1,281.7 L73.4,281.9 L73.5,282.1 L73.7,282.5 L73.7,282.9 L73.7,283.3 L73.8,283.5 L73.8,283.9 L73.7,284.2 L73.7,284.5 L73.5,284.8 L73.4,285.1 L73.2,285.3 L73.0,285.5 L72.8,285.7 L72.6,285.9 L72.4,286.1 L72.2,286.3 L72.0,286.5 L71.7,286.6 L71.5,286.8 L71.3,286.9 L71.0,287.1 L70.7,287.2 L70.5,287.3 L70.1,287.4 L69.8,287.5 L69.5,287.6 L69.3,287.7 L69.0,287.9 L68.7,288.0 L68.5,288.1 L68.1,288.3 L67.9,288.3 L67.5,288.4 L67.2,288.5 L66.9,288.7 L66.7,288.8 L66.5,288.9 L66.1,289.1 L65.9,289.2 L65.5,289.3 L65.3,289.4 L65.0,289.5 L64.7,289.7 L64.5,289.7 L64.1,289.9 L63.9,290.0 L63.5,290.1 L63.3,290.1 L62.9,290.3 L62.7,290.3 L62.3,290.4 L61.9,290.5 L61.6,290.5 L61.3,290.6 L61.1,290.8 L60.9,290.9 L60.7,291.1 L60.4,291.3 L60.1,291.5 L59.9,291.7 L59.7,291.8 L59.5,292.0 L59.3,292.2 L59.1,292.3 L58.8,292.5 L58.7,292.7 L58.5,292.9 L58.3,293.2 L58.1,293.4 L57.9,293.6 L57.7,293.8 L57.4,293.9 L57.1,294.1 L56.9,294.3 L56.7,294.4 L56.3,294.6 L56.1,294.6 L55.7,294.7 L55.5,294.8Z" fill="none" stroke="rgb(132,132,132)" stroke-width="0.45"/>
<path d="M54.9,294.6 L54.5,294.6 L54.3,294.5 L53.9,294.4 L53.7,294.3 L53.3,294.1 L53.1,294.0 L52.9,293.9 L52.7,293.7 L52.4,293.5 L52.2,293.3 L52.1,293.0 L51.9,292.7 L51.8,292.5 L51.6,292.3 L51.5,292.0 L51.3,291.7 L51.2,291.5 L51.1,291.1 L51.0,290.9 L51.0,290.5 L50.9,290.1 L50.9,289.7 L50.9,289.3 L51.0,288.9 L51.1,288.7 L51.2,288.3 L51.3,288.1 L51.4,287.7 L51.5,287.5 L51.7,287.2 L51.8,286.9 L52.0,286.7 L52.2,286.5 L52.4,286.3 L52.7,286.1 L52.9,286.0 L53.1,285.9 L53.4,285.7 L53.7,285.5 L53.9,285.4 L54.1,285.3 L54.5,285.2 L54.9,285.1 L55.1,285.1 L55.5,285.0 L55.9,285.0 L56.3,284.9 L56.7,284.9 L56.9,284.9 L57.3,284.9 L57.5,284.9 L57.9,284.9 L58.1,284.9 L58.5,284.8 L58.7,284.7 L59.1,284.5 L59.3,284.4 L59.7,284.4 L60.1,284.4 L60.5,284.3 L60.7,284.2 L61.0,284.1 L61.3,283.9 L61.5,283.8 L61.7,283.7 L62.1,283.5 L62.3,283.4 L62.7,283.3 L62.9,283.2 L63.3,283.1 L63.7,283.1 L63.9,283.0 L64.3,282.9 L64.5,282.8 L64.7,282.7 L65.1,282.5 L65.3,282.4 L65.6,282.3 L65.9,282.1 L66.1,282.0 L66.5,281.9 L66.7,281.9 L67.1,281.8 L67.5,281.8 L67.9,281.7 L68.3,281.7 L68.5,281.6 L68.9,281.6 L69.3,281.5 L69.7,281.5 L70.1,281.5 L70.5,281.6 L70.9,281.6 L71.3,281.7 L71.5,281.7 L71.9,281.8 L72.2,281.9 L72.5,282.1 L72.7,282.3 L72.9,282.5 L73.0,282.7 L73.1,283.1 L73.1,283.5 L73.0,283.9 L72.9,284.1 L72.7,284.4 L72.5,284.6 L72.3,284.7 L72.1,284.9 L71.9,285.2 L71.8,285.5 L71.7,285.7 L71.5,286.0 L71.3,286.2 L71.1,286.4 L70.9,286.5 L70.7,286.7 L70.3,286.8 L70.1,286.9 L69.7,287.0 L69.4,287.1 L69.1,287.3 L68.9,287.4 L68.7,287.5 L68.3,287.7 L68.1,287.8 L67.7,287.9 L67.5,287.9 L67.1,288.0 L66.9,288.1 L66.5,288.3 L66.3,288.4 L66.1,288.6 L65.8,288.7 L65.5,288.8 L65.3,288.9 L64.9,289.1 L64.7,289.1 L64.3,289.3 L64.1,289.4 L63.9,289.5 L63.5,289.6 L63.2,289.7 L62.9,289.8 L62.5,289.8 L62.1,289.9 L61.9,289.9 L61.5,290.0 L61.2,290.1 L60.9,290.3 L60.7,290.5 L60.5,290.7 L60.3,290.9 L60.1,291.1 L59.9,291.2 L59.7,291.4 L59.5,291.6 L59.3,291.7 L59.0,291.9 L58.8,292.1 L58.6,292.3 L58.5,292.5 L58.3,292.8 L58.1,293.0 L57.9,293.2 L57.7,293.4 L57.5,293.6 L57.2,293.7 L56.9,293.9 L56.7,294.1 L56.5,294.2 L56.1,294.3 L55.9,294.4 L55.5,294.5 L55.1,294.5 L54.9,294.6Z" fill="none" stroke="rgb(128,128,128)" stroke-width="0.45"/>
<path d="M55.1,294.2 L54.7,294.2 L54.3,294.2 L54.1,294.1 L53.7,293.9 L53.5,293.8 L53.3,293.7 L53.1,293.5 L52.8,293.3 L52.6,293.1 L52.5,292.9 L52.3,292.7 L52.1,292.4 L51.9,292.1 L51.7,291.9 L51.6,291.7 L51.5,291.3 L51.4,291.1 L51.3,290.7 L51.3,290.3 L51.2,290.0 L51.2,289.7 L51.2,289.3 L51.3,289.1 L51.4,288.7 L51.5,288.5 L51.6,288.1 L51.7,287.9 L51.9,287.6 L52.0,287.3 L52.1,287.1 L52.3,286.9 L52.6,286.7 L52.8,286.5 L53.1,286.4 L53.3,286.2 L53.5,286.1 L53.7,285.9 L54.0,285.7 L54.3,285.6 L54.7,285.5 L54.9,285.5 L55.3,285.4 L55.7,285.4 L56.1,285.3 L56.3,285.3 L56.7,285.3 L57.1,285.3 L57.4,285.3 L57.7,285.3 L58.1,285.4 L58.5,285.3 L58.7,285.3 L59.1,285.1 L59.3,285.1 L59.7,285.0 L60.1,285.0 L60.5,284.9 L60.7,284.9 L61.1,284.7 L61.3,284.5 L61.5,284.4 L61.7,284.3 L62.1,284.1 L62.3,284.0 L62.6,283.9 L62.9,283.8 L63.2,283.7 L63.5,283.6 L63.9,283.6 L64.2,283.5 L64.5,283.4 L64.7,283.3 L65.1,283.1 L65.3,283.0 L65.6,282.9 L65.9,282.7 L66.1,282.6 L66.5,282.5 L66.8,282.5 L67.1,282.4 L67.5,282.4 L67.9,282.3 L68.1,282.2 L68.5,282.2 L68.9,282.2 L69.1,282.3 L69.5,282.4 L69.9,282.4 L70.3,282.3 L70.7,282.3 L71.1,282.3 L71.5,282.4 L71.8,282.5 L72.0,282.7 L72.2,282.9 L72.2,283.3 L72.1,283.5 L71.9,283.7 L71.7,283.9 L71.5,284.1 L71.3,284.4 L71.1,284.6 L70.9,284.8 L70.7,285.1 L70.7,285.3 L70.6,285.7 L70.5,285.9 L70.3,286.2 L70.1,286.3 L69.7,286.5 L69.5,286.5 L69.1,286.6 L68.9,286.7 L68.6,286.9 L68.3,287.0 L68.1,287.1 L67.7,287.3 L67.5,287.3 L67.1,287.5 L66.9,287.5 L66.5,287.7 L66.3,287.8 L66.1,287.9 L65.8,288.1 L65.5,288.2 L65.3,288.3 L64.9,288.4 L64.6,288.5 L64.3,288.6 L64.1,288.8 L63.9,288.9 L63.5,289.1 L63.3,289.2 L62.9,289.2 L62.5,289.2 L62.1,289.2 L61.7,289.2 L61.4,289.3 L61.1,289.5 L60.9,289.6 L60.7,289.8 L60.5,290.0 L60.3,290.2 L60.1,290.4 L59.9,290.6 L59.7,290.8 L59.5,291.0 L59.3,291.2 L59.1,291.4 L58.9,291.6 L58.7,291.8 L58.5,292.0 L58.3,292.3 L58.1,292.5 L57.9,292.7 L57.8,292.9 L57.6,293.1 L57.3,293.3 L57.1,293.5 L56.9,293.6 L56.7,293.7 L56.3,293.9 L56.1,294.0 L55.7,294.1 L55.3,294.1 L55.1,294.2Z" fill="none" stroke="rgb(122,122,122)" stroke-width="0.45"/>
<path d="M55.7,293.7 L55.3,293.8 L54.9,293.9 L54.5,293.9 L54.1,293.8 L53.9,293.7 L53.6,293.5 L53.4,293.3 L53.1,293.1 L52.9,292.9 L52.7,292.7 L52.5,292.5 L52.4,292.3 L52.2,292.1 L52.1,291.9 L51.9,291.6 L51.7,291.3 L51.7,291.0 L51.6,290.7 L51.6,290.3 L51.5,289.9 L51.5,289.5 L51.5,289.1 L51.6,288.7 L51.7,288.5 L51.9,288.3 L52.1,287.9 L52.2,287.7 L52.3,287.5 L52.5,287.3 L52.7,287.1 L52.9,286.9 L53.1,286.7 L53.4,286.5 L53.7,286.3 L53.9,286.2 L54.1,286.0 L54.4,285.9 L54.7,285.8 L55.1,285.8 L55.5,285.7 L55.7,285.7 L56.1,285.6 L56.5,285.6 L56.9,285.6 L57.2,285.7 L57.5,285.7 L57.9,285.8 L58.3,285.8 L58.7,285.8 L59.1,285.8 L59.4,285.7 L59.7,285.6 L60.1,285.5 L60.3,285.5 L60.7,285.4 L61.0,285.3 L61.3,285.1 L61.5,285.0 L61.8,284.9 L62.1,284.8 L62.4,284.7 L62.7,284.6 L62.9,284.5 L63.3,284.3 L63.5,284.2 L63.9,284.1 L64.1,284.0 L64.5,283.9 L64.7,283.9 L65.1,283.7 L65.3,283.5 L65.5,283.4 L65.7,283.3 L66.1,283.1 L66.3,283.0 L66.7,283.0 L67.1,282.9 L67.5,282.9 L67.7,282.8 L68.1,282.8 L68.5,282.8 L68.7,282.9 L69.1,283.1 L69.3,283.1 L69.7,283.2 L70.1,283.1 L70.5,283.1 L70.8,283.3 L70.9,283.5 L70.9,283.7 L70.8,284.1 L70.6,284.3 L70.4,284.5 L70.2,284.7 L70.1,284.9 L69.9,285.3 L69.8,285.5 L69.7,285.7 L69.4,285.9 L69.1,286.0 L68.7,286.1 L68.3,286.1 L68.1,286.1 L67.7,286.2 L67.5,286.4 L67.3,286.5 L67.1,286.7 L66.9,286.9 L66.5,287.1 L66.3,287.2 L66.1,287.4 L65.9,287.5 L65.5,287.7 L65.3,287.7 L64.9,287.8 L64.6,287.9 L64.3,288.0 L64.1,288.2 L63.9,288.3 L63.6,288.5 L63.3,288.7 L63.1,288.7 L62.7,288.7 L62.5,288.7 L62.1,288.6 L61.7,288.6 L61.4,288.7 L61.1,288.9 L60.9,289.0 L60.7,289.2 L60.5,289.3 L60.2,289.5 L60.0,289.7 L59.7,289.9 L59.6,290.1 L59.4,290.3 L59.3,290.6 L59.1,290.9 L58.9,291.1 L58.7,291.3 L58.5,291.5 L58.3,291.7 L58.2,291.9 L58.0,292.1 L57.9,292.4 L57.7,292.6 L57.5,292.9 L57.3,293.0 L57.1,293.2 L56.9,293.3 L56.5,293.5 L56.3,293.6 L55.9,293.7 L55.7,293.7Z" fill="none" stroke="rgb(116,116,116)" stroke-width="0.45"/>
<path d="M55.9,293.3 L55.5,293.4 L55.1,293.5 L54.7,293.5 L54.3,293.5 L54.0,293.3 L53.7,293.2 L53.5,293.0 L53.3,292.8 L53.1,292.7 L52.9,292.5 L52.7,292.3 L52.5,292.0 L52.3,291.7 L52.1,291.5 L52.1,291.3 L51.9,290.9 L51.9,290.5 L51.9,290.2 L51.8,289.9 L51.8,289.5 L51.8,289.1 L51.9,288.9 L52.0,288.5 L52.2,288.3 L52.3,288.1 L52.5,287.9 L52.7,287.6 L52.9,287.4 L53.1,287.2 L53.3,287.0 L53.5,286.8 L53.7,286.7 L53.9,286.5 L54.3,286.3 L54.5,286.2 L54.9,286.2 L55.3,286.1 L55.5,286.1 L55.9,286.0 L56.3,286.0 L56.7,286.1 L56.9,286.1 L57.3,286.2 L57.5,286.3 L57.9,286.4 L58.3,286.5 L58.5,286.5 L58.9,286.7 L59.1,286.8 L59.3,286.9 L59.6,287.1 L59.9,287.2 L60.2,287.1 L60.5,286.9 L60.6,286.7 L60.8,286.5 L61.0,286.3 L61.3,286.1 L61.5,285.9 L61.7,285.7 L61.9,285.6 L62.3,285.6 L62.7,285.6 L63.1,285.5 L63.3,285.4 L63.5,285.3 L63.7,285.1 L63.9,284.9 L64.3,284.7 L64.5,284.6 L64.9,284.6 L65.3,284.6 L65.5,284.3 L65.6,284.1 L65.8,283.9 L66.0,283.7 L66.3,283.5 L66.7,283.5 L66.9,283.5 L67.2,283.5 L67.5,283.5 L67.9,283.5 L68.3,283.7 L68.5,283.8 L68.7,283.9 L68.9,284.2 L69.0,284.5 L68.9,284.7 L68.7,285.0 L68.5,285.2 L68.1,285.2 L67.7,285.3 L67.5,285.3 L67.1,285.4 L66.8,285.5 L66.6,285.7 L66.5,285.9 L66.3,286.1 L66.1,286.4 L65.9,286.5 L65.7,286.7 L65.3,286.9 L65.1,286.9 L64.7,287.1 L64.5,287.2 L64.3,287.3 L64.1,287.5 L63.8,287.7 L63.6,287.9 L63.3,288.0 L62.9,288.1 L62.5,287.9 L62.3,287.9 L61.9,287.8 L61.5,287.9 L61.3,288.0 L61.1,288.1 L60.8,288.3 L60.5,288.5 L60.3,288.7 L60.1,288.9 L59.9,289.0 L59.7,289.2 L59.5,289.3 L59.3,289.5 L59.1,289.8 L58.9,290.1 L58.9,290.3 L58.7,290.7 L58.6,290.9 L58.4,291.1 L58.3,291.3 L58.1,291.6 L57.9,291.9 L57.7,292.1 L57.5,292.3 L57.4,292.5 L57.2,292.7 L56.9,292.9 L56.7,293.1 L56.5,293.2 L56.1,293.3 L55.9,293.3Z" fill="none" stroke="rgb(109,109,109)" stroke-width="0.45"/>
<path d="M55.5,292.9 L55.1,293.0 L54.7,293.0 L54.3,293.0 L54.0,292.9 L53.7,292.7 L53.5,292.6 L53.3,292.5 L53.1,292.3 L52.9,292.1 L52.7,291.8 L52.5,291.5 L52.4,291.3 L52.3,290.9 L52.2,290.7 L52.2,290.3 L52.1,289.9 L52.1,289.5 L52.1,289.1 L52.2,288.7 L52.3,288.5 L52.5,288.3 L52.7,288.1 L52.9,287.8 L53.1,287.6 L53.3,287.4 L53.5,287.2 L53.7,287.0 L53.9,286.9 L54.2,286.7 L54.5,286.6 L54.9,286.5 L55.1,286.5 L55.5,286.4 L55.9,286.4 L56.3,286.5 L56.5,286.5 L56.9,286.7 L57.1,286.7 L57.5,286.8 L57.7,286.9 L58.1,287.0 L58.3,287.1 L58.6,287.3 L58.8,287.5 L59.0,287.7 L59.1,288.0 L59.1,288.3 L59.1,288.5 L58.9,288.9 L58.8,289.1 L58.7,289.5 L58.6,289.7 L58.5,290.0 L58.4,290.3 L58.3,290.6 L58.1,290.9 L58.0,291.1 L57.9,291.3 L57.7,291.6 L57.5,291.9 L57.3,292.1 L57.1,292.3 L56.9,292.5 L56.7,292.7 L56.5,292.8 L56.1,292.9 L55.7,292.9 L55.5,292.9Z" fill="none" stroke="rgb(101,101,101)" stroke-width="0.45"/>
<path d="M54.3,292.5 L54.1,292.5 L53.7,292.4 L53.5,292.2 L53.3,292.1 L53.1,291.9 L52.9,291.6 L52.7,291.3 L52.7,291.0 L52.6,290.7 L52.6,290.3 L52.5,289.9 L52.4,289.7 L52.4,289.3 L52.5,288.9 L52.6,288.7 L52.7,288.5 L52.9,288.3 L53.1,288.0 L53.3,287.8 L53.5,287.6 L53.7,287.4 L53.9,287.3 L54.1,287.1 L54.5,286.9 L54.7,286.9 L55.1,286.8 L55.5,286.8 L55.9,286.9 L56.1,286.9 L56.4,287.1 L56.7,287.3 L56.9,287.4 L57.3,287.5 L57.5,287.5 L57.9,287.6 L58.1,287.8 L58.3,288.0 L58.4,288.3 L58.3,288.7 L58.3,289.0 L58.2,289.3 L58.1,289.7 L58.0,289.9 L57.9,290.3 L57.9,290.5 L57.7,290.9 L57.6,291.1 L57.4,291.3 L57.3,291.5 L57.1,291.8 L56.9,292.0 L56.7,292.2 L56.4,292.3 L56.1,292.4 L55.7,292.5 L55.3,292.5 L54.9,292.5 L54.5,292.5 L54.3,292.5Z" fill="none" stroke="rgb(92,92,92)" stroke-width="0.45"/>
<path d="M56.1,291.9 L55.7,292.0 L55.3,292.0 L54.9,292.0 L54.5,292.1 L54.1,292.1 L53.7,291.9 L53.5,291.8 L53.3,291.5 L53.2,291.3 L53.1,291.0 L53.0,290.7 L53.0,290.3 L52.9,289.9 L52.9,289.7 L52.8,289.3 L52.9,288.9 L53.0,288.7 L53.1,288.5 L53.3,288.3 L53.5,288.1 L53.7,287.9 L53.9,287.7 L54.1,287.5 L54.5,287.3 L54.7,287.3 L55.1,287.2 L55.5,287.2 L55.7,287.3 L56.1,287.5 L56.3,287.7 L56.5,287.9 L56.7,288.0 L56.9,288.2 L57.1,288.4 L57.3,288.6 L57.4,288.9 L57.5,289.3 L57.5,289.7 L57.5,290.1 L57.4,290.5 L57.3,290.7 L57.1,291.1 L56.9,291.3 L56.7,291.5 L56.5,291.7 L56.3,291.9 L56.1,291.9Z" fill="none" stroke="rgb(81,81,81)" stroke-width="0.45"/>
<path d="M56.1,291.3 L55.7,291.5 L55.3,291.5 L54.9,291.5 L54.5,291.5 L54.1,291.5 L53.8,291.3 L53.6,291.1 L53.5,290.7 L53.5,290.3 L53.4,290.1 L53.4,289.7 L53.3,289.3 L53.4,288.9 L53.5,288.7 L53.7,288.4 L53.9,288.2 L54.1,288.1 L54.3,287.9 L54.7,287.7 L54.9,287.7 L55.3,287.7 L55.5,287.7 L55.8,287.9 L56.0,288.1 L56.2,288.3 L56.3,288.5 L56.5,288.8 L56.6,289.1 L56.7,289.3 L56.8,289.7 L56.9,290.1 L56.8,290.5 L56.7,290.7 L56.5,291.0 L56.3,291.2 L56.1,291.3Z" fill="none" stroke="rgb(67,67,67)" stroke-width="0.45"/>
<rect x="54.1" y="289.7" width="0.5" height="0.5" fill="#aaa"/>
<rect x="68.2" y="291.7" width="0.5" height="0.5" fill="#aaa"/>
<rect x="50.1" y="292.5" width="0.5" height="0.5" fill="#aaa"/>
<rect x="43.8" y="285.6" width="0.5" height="0.5" fill="#aaa"/>
<rect x="49.5" y="283.4" width="0.5" height="0.5" fill="#aaa"/>
<rect x="74.7" y="295.0" width="0.5" height="0.5" fill="#aaa"/>
<rect x="60.3" y="287.8" width="0.5" height="0.5" fill="#aaa"/>
<rect x="74.6" y="277.0" width="0.5" height="0.5" fill="#aaa"/>
<rect x="62.9" y="290.5" width="0.5" height="0.5" fill="#aaa"/>
<rect x="59.5" y="289.4" width="0.5" height="0.5" fill="#aaa"/>
<rect x="54.7" y="299.9" width="0.5" height="0.5" fill="#aaa"/>
<rect x="40.6" y="283.7" width="0.5" height="0.5" fill="#aaa"/>
<rect x="60.2" y="289.6" width="0.5" height="0.5" fill="#aaa"/>
<rect x="76.3" y="275.6" width="0.5" height="0.5" fill="#aaa"/>
<rect x="63.8" y="283.8" width="0.5" height="0.5" fill="#aaa"/>
<rect x="77.2" y="297.5" width="0.5" height="0.5" fill="#aaa"/>
<rect x="83.7" y="289.4" width="0.5" height="0.5" fill="#aaa"/>
<rect x="62.1" y="286.6" width="0.5" height="0.5" fill="#aaa"/>
<rect x="66.7" y="289.5" width="0.5" height="0.5" fill="#aaa"/>
<rect x="66.9" y="296.7" width="0.5" height="0.5" fill="#aaa"/>
<rect x="62.4" y="281.4" width="0.5" height="0.5" fill="#aaa"/>
<rect x="85.9" y="297.4" width="0.5" height="0.5" fill="#aaa"/>
<rect x="72.6" y="292.3" width="0.5" height="0.5" fill="#aaa"/>
<rect x="66.1" y="279.0" width="0.5" height="0.5" fill="#aaa"/>
<rect x="66.8" y="296.2" width="0.5" height="0.5" fill="#aaa"/>
<rect x="56.7" y="280.7" width="0.5" height="0.5" fill="#aaa"/>
<rect x="54.5" y="283.1" width="0.5" height="0.5" fill="#aaa"/>
<rect x="62.3" y="286.2" width="0.5" height="0.5" fill="#aaa"/>
<path d="M54.9,316.8 L54.5,316.8 L54.1,316.8 L53.7,316.8 L53.3,316.8 L52.9,316.7 L52.7,316.7 L52.3,316.6 L52.1,316.5 L51.7,316.4 L51.5,316.3 L51.2,316.1 L50.9,316.0 L50.7,315.8 L50.5,315.7 L50.3,315.5 L50.1,315.3 L49.9,315.0 L49.7,314.7 L49.5,314.5 L49.4,314.3 L49.3,313.9 L49.3,313.7 L49.2,313.3 L49.2,312.9 L49.3,312.7 L49.4,312.3 L49.5,312.0 L49.6,311.7 L49.8,311.5 L49.9,311.3 L50.1,311.1 L50.3,310.9 L50.6,310.7 L50.8,310.5 L51.1,310.3 L51.3,310.2 L51.6,310.1 L51.9,309.9 L52.1,309.9 L52.5,309.7 L52.8,309.7 L53.1,309.6 L53.5,309.5 L53.9,309.5 L54.1,309.4 L54.5,309.4 L54.9,309.4 L55.1,309.5 L55.5,309.6 L55.7,309.7 L56.1,309.8 L56.3,309.9 L56.5,310.1 L56.9,310.3 L57.1,310.4 L57.3,310.6 L57.5,310.7 L57.7,310.9 L57.9,311.1 L58.1,311.3 L58.3,311.6 L58.5,311.9 L58.6,312.1 L58.7,312.5 L58.7,312.7 L58.8,313.1 L58.8,313.5 L58.7,313.8 L58.6,314.1 L58.5,314.4 L58.4,314.7 L58.2,314.9 L58.1,315.1 L57.9,315.3 L57.7,315.5 L57.4,315.7 L57.2,315.9 L56.9,316.1 L56.7,316.2 L56.4,316.3 L56.1,316.5 L55.9,316.5 L55.5,316.7 L55.1,316.7 L54.9,316.8Z" fill="none" stroke="rgb(42,42,42)" stroke-width="0.6"/>
<path d="M55.3,316.4 L54.9,316.5 L54.5,316.5 L54.1,316.5 L53.7,316.5 L53.3,316.5 L52.9,316.4 L52.5,316.3 L52.3,316.3 L51.9,316.1 L51.7,316.0 L51.5,315.9 L51.1,315.7 L50.9,315.5 L50.7,315.4 L50.5,315.2 L50.3,315.0 L50.1,314.7 L50.0,314.5 L49.9,314.3 L49.7,313.9 L49.7,313.7 L49.6,313.3 L49.6,312.9 L49.7,312.7 L49.8,312.3 L49.9,312.1 L50.1,311.7 L50.2,311.5 L50.4,311.3 L50.6,311.1 L50.9,310.9 L51.1,310.7 L51.3,310.6 L51.5,310.5 L51.9,310.3 L52.1,310.2 L52.5,310.1 L52.7,310.0 L53.1,309.9 L53.5,309.9 L53.7,309.9 L54.1,309.8 L54.5,309.8 L54.8,309.9 L55.1,309.9 L55.5,310.0 L55.7,310.1 L56.1,310.3 L56.3,310.3 L56.5,310.5 L56.9,310.7 L57.1,310.9 L57.3,311.0 L57.5,311.2 L57.7,311.4 L57.9,311.7 L58.0,311.9 L58.1,312.1 L58.3,312.5 L58.3,312.7 L58.4,313.1 L58.4,313.5 L58.3,313.8 L58.2,314.1 L58.1,314.3 L57.9,314.7 L57.8,314.9 L57.6,315.1 L57.4,315.3 L57.1,315.5 L56.9,315.7 L56.7,315.8 L56.5,315.9 L56.1,316.1 L55.9,316.2 L55.5,316.3 L55.3,316.4Z" fill="none" stroke="rgb(44,44,44)" stroke-width="0.6"/>
<path d="M54.9,316.1 L54.5,316.2 L54.1,316.2 L53.7,316.2 L53.3,316.2 L53.1,316.1 L52.7,316.0 L52.3,315.9 L52.1,315.8 L51.8,315.7 L51.5,315.5 L51.3,315.4 L51.1,315.2 L50.9,315.1 L50.7,314.8 L50.5,314.6 L50.3,314.3 L50.2,314.1 L50.1,313.7 L50.0,313.5 L50.0,313.1 L50.1,312.8 L50.1,312.5 L50.3,312.2 L50.4,311.9 L50.6,311.7 L50.7,311.5 L50.9,311.3 L51.2,311.1 L51.5,310.9 L51.7,310.8 L51.9,310.7 L52.3,310.5 L52.5,310.4 L52.9,310.3 L53.1,310.3 L53.5,310.2 L53.9,310.2 L54.3,310.2 L54.7,310.2 L55.0,310.3 L55.3,310.3 L55.7,310.5 L55.9,310.5 L56.2,310.7 L56.5,310.9 L56.7,311.0 L56.9,311.2 L57.1,311.3 L57.3,311.5 L57.5,311.8 L57.7,312.1 L57.8,312.3 L57.9,312.7 L58.0,312.9 L58.0,313.3 L57.9,313.7 L57.9,313.9 L57.7,314.3 L57.6,314.5 L57.4,314.7 L57.3,314.9 L57.1,315.1 L56.8,315.3 L56.5,315.5 L56.3,315.7 L56.1,315.8 L55.7,315.9 L55.5,316.0 L55.1,316.1 L54.9,316.1Z" fill="none" stroke="rgb(47,47,47)" stroke-width="0.6"/>
<path d="M54.9,315.8 L54.5,315.8 L54.1,315.8 L53.7,315.8 L53.3,315.8 L53.0,315.7 L52.7,315.6 L52.3,315.5 L52.1,315.4 L51.9,315.3 L51.6,315.1 L51.3,314.9 L51.1,314.7 L51.0,314.5 L50.8,314.3 L50.7,314.0 L50.6,313.7 L50.5,313.3 L50.5,312.9 L50.6,312.5 L50.7,312.3 L50.9,312.0 L51.1,311.8 L51.3,311.6 L51.5,311.4 L51.7,311.2 L51.9,311.1 L52.3,310.9 L52.5,310.8 L52.9,310.7 L53.1,310.7 L53.5,310.6 L53.9,310.6 L54.3,310.6 L54.7,310.6 L55.0,310.7 L55.3,310.7 L55.7,310.9 L55.9,311.0 L56.1,311.1 L56.4,311.3 L56.6,311.5 L56.9,311.7 L57.0,311.9 L57.2,312.1 L57.3,312.4 L57.4,312.7 L57.5,313.1 L57.5,313.5 L57.4,313.9 L57.3,314.1 L57.1,314.4 L56.9,314.6 L56.7,314.9 L56.5,315.0 L56.3,315.2 L56.1,315.3 L55.7,315.5 L55.5,315.6 L55.1,315.7 L54.9,315.8Z" fill="none" stroke="rgb(51,51,51)" stroke-width="0.6"/>
<path d="M54.9,315.3 L54.5,315.4 L54.1,315.4 L53.7,315.4 L53.3,315.4 L53.1,315.3 L52.7,315.2 L52.5,315.1 L52.1,314.9 L51.9,314.8 L51.7,314.6 L51.5,314.4 L51.3,314.1 L51.2,313.9 L51.1,313.5 L51.0,313.3 L51.1,312.9 L51.1,312.7 L51.3,312.3 L51.4,312.1 L51.6,311.9 L51.8,311.7 L52.1,311.5 L52.3,311.4 L52.5,311.3 L52.9,311.1 L53.1,311.1 L53.5,311.0 L53.9,311.0 L54.3,311.0 L54.7,311.0 L54.9,311.1 L55.3,311.2 L55.5,311.3 L55.9,311.5 L56.1,311.6 L56.3,311.8 L56.5,312.0 L56.7,312.3 L56.8,312.5 L56.9,312.8 L57.0,313.1 L56.9,313.5 L56.9,313.7 L56.7,314.1 L56.6,314.3 L56.4,314.5 L56.2,314.7 L55.9,314.9 L55.7,315.0 L55.5,315.1 L55.1,315.3 L54.9,315.3Z" fill="none" stroke="rgb(59,59,59)" stroke-width="0.6"/>
<path d="M54.5,314.9 L54.1,315.0 L53.7,315.0 L53.4,314.9 L53.1,314.8 L52.8,314.7 L52.5,314.6 L52.3,314.4 L52.1,314.2 L51.9,314.0 L51.8,313.7 L51.7,313.4 L51.7,313.1 L51.7,312.9 L51.9,312.5 L52.0,312.3 L52.2,312.1 L52.4,311.9 L52.7,311.7 L52.9,311.6 L53.3,311.5 L53.5,311.5 L53.9,311.4 L54.3,311.4 L54.6,311.5 L54.9,311.6 L55.2,311.7 L55.5,311.8 L55.7,312.0 L55.9,312.2 L56.1,312.4 L56.2,312.7 L56.3,312.9 L56.3,313.3 L56.3,313.5 L56.2,313.9 L56.0,314.1 L55.8,314.3 L55.6,314.5 L55.3,314.7 L55.1,314.8 L54.7,314.9 L54.5,314.9Z" fill="none" stroke="rgb(71,71,71)" stroke-width="0.6"/>
<path d="M54.5,314.3 L54.1,314.4 L53.7,314.4 L53.4,314.3 L53.1,314.2 L52.9,314.0 L52.7,313.8 L52.5,313.5 L52.4,313.3 L52.5,312.9 L52.6,312.7 L52.7,312.5 L53.0,312.3 L53.3,312.1 L53.5,312.1 L53.9,312.0 L54.3,312.0 L54.5,312.1 L54.9,312.2 L55.1,312.4 L55.3,312.5 L55.5,312.9 L55.6,313.1 L55.5,313.5 L55.4,313.7 L55.3,313.9 L55.0,314.1 L54.7,314.3 L54.5,314.3Z" fill="none" stroke="rgb(89,89,89)" stroke-width="0.6"/>
<text x="77.2" y="310.1" font-size="4.8" text-anchor="middle" fill="#1a1a1a" stroke="#1a1a1a">18%</text>
<text x="77.2" y="315.45000000000005" font-size="4.8" text-anchor="middle" fill="#1a1a1a" stroke="#1a1a1a">enucleated</text>
<text x="77.2" y="320.8" font-size="4.8" text-anchor="middle" fill="#1a1a1a" stroke="#1a1a1a">cells</text>
<text x="33.7" y="283.3" font-size="6.6" text-anchor="end" fill="#333" stroke="#333">10</text>
<text x="36.0" y="280.4" font-size="4.2" text-anchor="end" fill="#333" stroke="#333">5</text>
<text x="33.7" y="294.1" font-size="6.6" text-anchor="end" fill="#333" stroke="#333">10</text>
<text x="36.0" y="291.2" font-size="4.2" text-anchor="end" fill="#333" stroke="#333">4</text>
<text x="33.7" y="305.6" font-size="6.6" text-anchor="end" fill="#333" stroke="#333">10</text>
<text x="36.0" y="302.7" font-size="4.2" text-anchor="end" fill="#333" stroke="#333">3</text>
<text x="35.0" y="316.3" font-size="6.6" text-anchor="end" fill="#333" stroke="#333">0</text>
<rect x="36.4" y="313" width="1" height="2.2" fill="#222"/>
<text x="33.7" y="325.0" font-size="6.6" text-anchor="end" fill="#333" stroke="#333">10</text>
<text x="36.0" y="321.1" font-size="4.2" text-anchor="end" fill="#333" stroke="#333">3</text>
<line x1="36.7" y1="281.0" x2="38.0" y2="281.0" stroke="#555" stroke-width="0.5"/>
<line x1="36.7" y1="291.8" x2="38.0" y2="291.8" stroke="#555" stroke-width="0.5"/>
<line x1="36.7" y1="303.3" x2="38.0" y2="303.3" stroke="#555" stroke-width="0.5"/>
<line x1="36.7" y1="322.7" x2="38.0" y2="322.7" stroke="#555" stroke-width="0.5"/>
<line x1="39.5" y1="324.0" x2="39.5" y2="325.4" stroke="#555" stroke-width="0.5"/>
<text x="0" y="0" font-size="6.6" text-anchor="end" fill="#333" stroke="#333" transform="translate(41.3,327.2) rotate(-45)">0</text>
<line x1="49.1" y1="324.0" x2="49.1" y2="325.4" stroke="#555" stroke-width="0.5"/>
<text x="0" y="0" font-size="6.6" text-anchor="end" fill="#333" stroke="#333" transform="translate(50.9,327.2) rotate(-45)">50K</text>
<line x1="58.7" y1="324.0" x2="58.7" y2="325.4" stroke="#555" stroke-width="0.5"/>
<text x="0" y="0" font-size="6.6" text-anchor="end" fill="#333" stroke="#333" transform="translate(60.5,327.2) rotate(-45)">100K</text>
<line x1="68.3" y1="324.0" x2="68.3" y2="325.4" stroke="#555" stroke-width="0.5"/>
<text x="0" y="0" font-size="6.6" text-anchor="end" fill="#333" stroke="#333" transform="translate(70.1,327.2) rotate(-45)">150K</text>
<line x1="77.9" y1="324.0" x2="77.9" y2="325.4" stroke="#555" stroke-width="0.5"/>
<text x="0" y="0" font-size="6.6" text-anchor="end" fill="#333" stroke="#333" transform="translate(79.7,327.2) rotate(-45)">200K</text>
<line x1="87.5" y1="324.0" x2="87.5" y2="325.4" stroke="#555" stroke-width="0.5"/>
<text x="0" y="0" font-size="6.6" text-anchor="end" fill="#333" stroke="#333" transform="translate(89.3,327.2) rotate(-45)">250K</text>
<rect x="105.2" y="271.1" width="51.2" height="52.89999999999998" fill="#fff" stroke="#a8a8a8" stroke-width="0.9"/>
<line x1="105.2" y1="323.3" x2="156.4" y2="323.3" stroke="#c8c8c8" stroke-width="1.6"/>
<line x1="105.2" y1="303.2" x2="156.4" y2="303.2" stroke="#9a9a9a" stroke-width="0.9"/>
<path d="M122.7,296.8 L122.3,296.9 L121.9,296.9 L121.5,296.9 L121.1,296.9 L120.7,296.9 L120.3,296.9 L119.9,296.8 L119.6,296.8 L119.3,296.7 L119.0,296.6 L118.7,296.4 L118.5,296.3 L118.2,296.2 L117.8,296.1 L117.6,296.0 L117.2,295.8 L117.0,295.7 L116.8,295.6 L116.5,295.4 L116.3,295.2 L116.1,295.0 L116.0,294.8 L115.8,294.6 L115.6,294.2 L115.5,293.9 L115.4,293.7 L115.2,293.5 L115.0,293.3 L114.8,293.0 L114.7,292.7 L114.6,292.5 L114.4,292.2 L114.3,291.9 L114.2,291.5 L114.2,291.3 L114.1,290.9 L114.0,290.6 L114.0,290.3 L114.0,289.9 L114.0,289.5 L113.9,289.1 L113.9,288.7 L114.0,288.3 L114.0,288.1 L114.2,287.7 L114.2,287.5 L114.4,287.1 L114.4,286.9 L114.6,286.5 L114.7,286.3 L114.9,286.1 L115.0,285.8 L115.2,285.5 L115.2,285.3 L115.4,284.9 L115.6,284.7 L115.7,284.5 L115.9,284.3 L116.1,284.1 L116.3,283.9 L116.6,283.7 L116.8,283.5 L117.0,283.3 L117.2,283.2 L117.4,283.0 L117.6,282.9 L117.9,282.7 L118.2,282.5 L118.5,282.3 L118.7,282.2 L119.0,282.1 L119.3,281.9 L119.5,281.8 L119.9,281.7 L120.1,281.6 L120.4,281.5 L120.7,281.4 L121.0,281.3 L121.3,281.2 L121.6,281.1 L121.9,281.0 L122.1,280.9 L122.5,280.7 L122.7,280.6 L123.1,280.5 L123.3,280.4 L123.6,280.3 L123.9,280.1 L124.1,280.0 L124.5,279.9 L124.7,279.8 L125.1,279.7 L125.3,279.6 L125.6,279.4 L125.9,279.3 L126.1,279.2 L126.5,279.1 L126.7,279.0 L127.1,278.9 L127.3,278.8 L127.7,278.7 L127.9,278.6 L128.3,278.4 L128.5,278.4 L128.8,278.2 L129.1,278.2 L129.4,278.0 L129.7,277.9 L129.9,277.8 L130.2,277.6 L130.5,277.5 L130.7,277.4 L131.1,277.3 L131.3,277.2 L131.7,277.1 L132.1,277.1 L132.3,277.0 L132.7,276.9 L132.9,276.8 L133.2,276.6 L133.5,276.5 L133.9,276.4 L134.1,276.4 L134.5,276.3 L134.9,276.3 L135.3,276.3 L135.7,276.3 L136.1,276.2 L136.3,276.2 L136.7,276.1 L137.1,276.0 L137.3,276.0 L137.5,276.0 L137.9,276.1 L138.3,276.1 L138.7,276.2 L138.9,276.2 L139.3,276.3 L139.7,276.4 L140.1,276.4 L140.3,276.4 L140.7,276.5 L141.1,276.6 L141.3,276.7 L141.7,276.8 L141.9,276.9 L142.2,277.0 L142.5,277.2 L142.8,277.3 L143.0,277.5 L143.2,277.6 L143.4,277.8 L143.7,278.0 L144.0,278.2 L144.2,278.4 L144.4,278.6 L144.6,278.8 L144.8,279.0 L144.9,279.2 L145.1,279.4 L145.2,279.7 L145.4,280.0 L145.4,280.3 L145.5,280.7 L145.6,280.9 L145.7,281.3 L145.8,281.5 L145.9,281.9 L146.0,282.1 L146.0,282.5 L146.0,282.9 L146.0,283.2 L145.9,283.5 L145.8,283.7 L145.6,284.1 L145.5,284.3 L145.4,284.6 L145.2,284.9 L145.1,285.1 L144.9,285.3 L144.8,285.5 L144.6,285.8 L144.4,286.1 L144.2,286.3 L144.1,286.5 L144.0,286.7 L143.8,286.9 L143.5,287.1 L143.2,287.3 L143.0,287.5 L142.8,287.6 L142.5,287.7 L142.3,287.9 L142.0,288.1 L141.7,288.3 L141.5,288.4 L141.3,288.5 L141.0,288.7 L140.7,288.9 L140.5,289.0 L140.3,289.2 L140.1,289.3 L139.7,289.5 L139.5,289.6 L139.2,289.7 L138.9,289.8 L138.7,289.9 L138.3,290.1 L138.1,290.2 L137.7,290.3 L137.5,290.4 L137.1,290.5 L136.9,290.5 L136.5,290.6 L136.2,290.7 L135.9,290.9 L135.7,290.9 L135.3,291.1 L135.1,291.2 L134.8,291.3 L134.5,291.4 L134.3,291.5 L133.9,291.7 L133.7,291.7 L133.3,291.8 L133.0,291.9 L132.7,292.1 L132.5,292.2 L132.2,292.3 L131.9,292.5 L131.7,292.6 L131.3,292.7 L131.1,292.8 L130.9,292.9 L130.5,293.1 L130.3,293.2 L129.9,293.3 L129.7,293.4 L129.3,293.5 L129.1,293.6 L128.8,293.7 L128.5,293.9 L128.3,293.9 L127.9,294.1 L127.7,294.3 L127.5,294.4 L127.2,294.6 L126.9,294.7 L126.7,294.9 L126.5,295.0 L126.3,295.2 L126.0,295.4 L125.7,295.6 L125.5,295.7 L125.3,295.9 L125.1,296.0 L124.7,296.2 L124.5,296.3 L124.1,296.4 L123.9,296.4 L123.5,296.5 L123.3,296.6 L122.9,296.7 L122.7,296.8Z" fill="#f2f2f2" stroke="none"/>
<path d="M122.7,296.8 L122.3,296.9 L121.9,296.9 L121.5,296.9 L121.1,296.9 L120.7,296.9 L120.3,296.9 L119.9,296.8 L119.6,296.8 L119.3,296.7 L119.0,296.6 L118.7,296.4 L118.5,296.3 L118.2,296.2 L117.8,296.1 L117.6,296.0 L117.2,295.8 L117.0,295.7 L116.8,295.6 L116.5,295.4 L116.3,295.2 L116.1,295.0 L116.0,294.8 L115.8,294.6 L115.6,294.2 L115.5,293.9 L115.4,293.7 L115.2,293.5 L115.0,293.3 L114.8,293.0 L114.7,292.7 L114.6,292.5 L114.4,292.2 L114.3,291.9 L114.2,291.5 L114.2,291.3 L114.1,290.9 L114.0,290.6 L114.0,290.3 L114.0,289.9 L114.0,289.5 L113.9,289.1 L113.9,288.7 L114.0,288.3 L114.0,288.1 L114.2,287.7 L114.2,287.5 L114.4,287.1 L114.4,286.9 L114.6,286.5 L114.7,286.3 L114.9,286.1 L115.0,285.8 L115.2,285.5 L115.2,285.3 L115.4,284.9 L115.6,284.7 L115.7,284.5 L115.9,284.3 L116.1,284.1 L116.3,283.9 L116.6,283.7 L116.8,283.5 L117.0,283.3 L117.2,283.2 L117.4,283.0 L117.6,282.9 L117.9,282.7 L118.2,282.5 L118.5,282.3 L118.7,282.2 L119.0,282.1 L119.3,281.9 L119.5,281.8 L119.9,281.7 L120.1,281.6 L120.4,281.5 L120.7,281.4 L121.0,281.3 L121.3,281.2 L121.6,281.1 L121.9,281.0 L122.1,280.9 L122.5,280.7 L122.7,280.6 L123.1,280.5 L123.3,280.4 L123.6,280.3 L123.9,280.1 L124.1,280.0 L124.5,279.9 L124.7,279.8 L125.1,279.7 L125.3,279.6 L125.6,279.4 L125.9,279.3 L126.1,279.2 L126.5,279.1 L126.7,279.0 L127.1,278.9 L127.3,278.8 L127.7,278.7 L127.9,278.6 L128.3,278.4 L128.5,278.4 L128.8,278.2 L129.1,278.2 L129.4,278.0 L129.7,277.9 L129.9,277.8 L130.2,277.6 L130.5,277.5 L130.7,277.4 L131.1,277.3 L131.3,277.2 L131.7,277.1 L132.1,277.1 L132.3,277.0 L132.7,276.9 L132.9,276.8 L133.2,276.6 L133.5,276.5 L133.9,276.4 L134.1,276.4 L134.5,276.3 L134.9,276.3 L135.3,276.3 L135.7,276.3 L136.1,276.2 L136.3,276.2 L136.7,276.1 L137.1,276.0 L137.3,276.0 L137.5,276.0 L137.9,276.1 L138.3,276.1 L138.7,276.2 L138.9,276.2 L139.3,276.3 L139.7,276.4 L140.1,276.4 L140.3,276.4 L140.7,276.5 L141.1,276.6 L141.3,276.7 L141.7,276.8 L141.9,276.9 L142.2,277.0 L142.5,277.2 L142.8,277.3 L143.0,277.5 L143.2,277.6 L143.4,277.8 L143.7,278.0 L144.0,278.2 L144.2,278.4 L144.4,278.6 L144.6,278.8 L144.8,279.0 L144.9,279.2 L145.1,279.4 L145.2,279.7 L145.4,280.0 L145.4,280.3 L145.5,280.7 L145.6,280.9 L145.7,281.3 L145.8,281.5 L145.9,281.9 L146.0,282.1 L146.0,282.5 L146.0,282.9 L146.0,283.2 L145.9,283.5 L145.8,283.7 L145.6,284.1 L145.5,284.3 L145.4,284.6 L145.2,284.9 L145.1,285.1 L144.9,285.3 L144.8,285.5 L144.6,285.8 L144.4,286.1 L144.2,286.3 L144.1,286.5 L144.0,286.7 L143.8,286.9 L143.5,287.1 L143.2,287.3 L143.0,287.5 L142.8,287.6 L142.5,287.7 L142.3,287.9 L142.0,288.1 L141.7,288.3 L141.5,288.4 L141.3,288.5 L141.0,288.7 L140.7,288.9 L140.5,289.0 L140.3,289.2 L140.1,289.3 L139.7,289.5 L139.5,289.6 L139.2,289.7 L138.9,289.8 L138.7,289.9 L138.3,290.1 L138.1,290.2 L137.7,290.3 L137.5,290.4 L137.1,290.5 L136.9,290.5 L136.5,290.6 L136.2,290.7 L135.9,290.9 L135.7,290.9 L135.3,291.1 L135.1,291.2 L134.8,291.3 L134.5,291.4 L134.3,291.5 L133.9,291.7 L133.7,291.7 L133.3,291.8 L133.0,291.9 L132.7,292.1 L132.5,292.2 L132.2,292.3 L131.9,292.5 L131.7,292.6 L131.3,292.7 L131.1,292.8 L130.9,292.9 L130.5,293.1 L130.3,293.2 L129.9,293.3 L129.7,293.4 L129.3,293.5 L129.1,293.6 L128.8,293.7 L128.5,293.9 L128.3,293.9 L127.9,294.1 L127.7,294.3 L127.5,294.4 L127.2,294.6 L126.9,294.7 L126.7,294.9 L126.5,295.0 L126.3,295.2 L126.0,295.4 L125.7,295.6 L125.5,295.7 L125.3,295.9 L125.1,296.0 L124.7,296.2 L124.5,296.3 L124.1,296.4 L123.9,296.4 L123.5,296.5 L123.3,296.6 L122.9,296.7 L122.7,296.8Z" fill="none" stroke="rgb(168,168,168)" stroke-width="0.45"/>
<path d="M122.7,296.0 L122.3,296.0 L121.9,296.0 L121.7,296.0 L121.4,296.0 L121.1,296.0 L120.7,296.0 L120.3,296.0 L120.0,296.0 L119.7,295.8 L119.5,295.7 L119.1,295.6 L118.9,295.5 L118.5,295.4 L118.2,295.3 L117.8,295.2 L117.6,295.1 L117.3,295.0 L117.1,294.8 L116.8,294.6 L116.7,294.3 L116.5,294.1 L116.4,293.9 L116.2,293.7 L116.0,293.4 L115.9,293.1 L115.7,292.9 L115.6,292.7 L115.4,292.4 L115.3,292.1 L115.2,291.9 L115.1,291.5 L115.0,291.3 L114.9,290.9 L114.8,290.6 L114.8,290.3 L114.8,289.9 L114.7,289.5 L114.7,289.1 L114.7,288.7 L114.8,288.3 L114.9,288.1 L115.0,287.7 L115.1,287.5 L115.2,287.1 L115.2,286.9 L115.4,286.5 L115.5,286.3 L115.6,286.1 L115.8,285.7 L116.0,285.5 L116.2,285.3 L116.3,285.1 L116.5,284.9 L116.7,284.7 L116.8,284.5 L117.0,284.3 L117.3,284.1 L117.5,283.9 L117.8,283.7 L118.0,283.5 L118.2,283.4 L118.5,283.3 L118.9,283.1 L119.1,283.0 L119.3,282.9 L119.6,282.7 L119.9,282.5 L120.1,282.4 L120.4,282.3 L120.7,282.1 L120.9,282.1 L121.3,281.9 L121.5,281.8 L121.8,281.7 L122.1,281.6 L122.4,281.5 L122.7,281.4 L123.1,281.3 L123.3,281.2 L123.7,281.1 L124.0,281.1 L124.3,281.0 L124.5,280.9 L124.9,280.7 L125.1,280.5 L125.3,280.4 L125.5,280.3 L125.9,280.1 L126.1,280.0 L126.4,279.9 L126.7,279.8 L127.1,279.7 L127.3,279.6 L127.7,279.5 L127.9,279.4 L128.3,279.3 L128.5,279.2 L128.9,279.1 L129.1,279.0 L129.5,279.0 L129.9,278.9 L130.1,278.8 L130.4,278.6 L130.7,278.5 L130.9,278.4 L131.2,278.2 L131.5,278.1 L131.7,278.0 L132.1,277.9 L132.3,277.8 L132.7,277.7 L132.9,277.6 L133.2,277.4 L133.5,277.3 L133.8,277.2 L134.1,277.2 L134.5,277.1 L134.9,277.0 L135.3,277.0 L135.7,277.1 L136.1,277.2 L136.5,277.2 L136.9,277.1 L137.3,277.1 L137.7,277.0 L137.9,277.0 L138.3,277.0 L138.7,277.0 L139.1,277.0 L139.3,277.1 L139.7,277.2 L139.9,277.3 L140.3,277.3 L140.7,277.4 L140.9,277.5 L141.3,277.6 L141.5,277.7 L141.8,277.8 L142.1,278.0 L142.3,278.1 L142.5,278.3 L142.8,278.4 L143.1,278.6 L143.3,278.8 L143.5,279.0 L143.7,279.2 L143.8,279.4 L144.0,279.7 L144.2,280.0 L144.3,280.3 L144.4,280.5 L144.5,280.9 L144.6,281.2 L144.6,281.5 L144.6,281.9 L144.6,282.3 L144.6,282.7 L144.6,283.1 L144.6,283.5 L144.6,283.7 L144.4,284.1 L144.3,284.3 L144.1,284.5 L144.0,284.8 L143.8,285.1 L143.6,285.3 L143.4,285.5 L143.3,285.7 L143.1,285.9 L143.0,286.1 L142.8,286.4 L142.5,286.5 L142.3,286.7 L142.0,286.9 L141.7,287.1 L141.5,287.2 L141.3,287.3 L141.1,287.5 L140.7,287.7 L140.5,287.8 L140.3,287.9 L140.0,288.1 L139.7,288.3 L139.5,288.4 L139.3,288.5 L139.0,288.7 L138.7,288.8 L138.5,288.9 L138.2,289.1 L137.9,289.3 L137.7,289.4 L137.4,289.5 L137.1,289.6 L136.7,289.7 L136.5,289.7 L136.1,289.8 L135.8,289.9 L135.5,290.0 L135.3,290.1 L135.0,290.3 L134.7,290.5 L134.5,290.6 L134.1,290.7 L133.9,290.8 L133.6,290.9 L133.3,291.0 L133.0,291.1 L132.7,291.2 L132.4,291.3 L132.1,291.4 L131.9,291.5 L131.5,291.7 L131.3,291.8 L131.1,291.9 L130.7,292.1 L130.5,292.2 L130.1,292.3 L129.9,292.4 L129.5,292.5 L129.3,292.6 L128.9,292.7 L128.7,292.8 L128.4,292.9 L128.1,293.1 L127.9,293.2 L127.7,293.3 L127.4,293.5 L127.1,293.7 L126.9,293.9 L126.7,294.0 L126.4,294.1 L126.1,294.3 L125.9,294.5 L125.7,294.7 L125.5,294.9 L125.3,295.0 L125.1,295.2 L124.8,295.4 L124.5,295.5 L124.3,295.6 L123.9,295.7 L123.7,295.8 L123.3,295.9 L122.9,296.0 L122.7,296.0Z" fill="none" stroke="rgb(166,166,166)" stroke-width="0.45"/>
<path d="M123.5,295.2 L123.1,295.3 L122.7,295.3 L122.3,295.3 L121.9,295.3 L121.5,295.3 L121.1,295.3 L120.7,295.3 L120.3,295.2 L120.0,295.2 L119.7,295.0 L119.4,295.0 L119.1,294.9 L118.7,294.8 L118.5,294.7 L118.0,294.6 L117.8,294.5 L117.6,294.3 L117.3,294.1 L117.1,293.9 L117.0,293.7 L116.8,293.5 L116.6,293.3 L116.4,293.0 L116.3,292.7 L116.2,292.5 L116.0,292.2 L115.9,291.9 L115.8,291.5 L115.8,291.3 L115.6,290.9 L115.6,290.7 L115.5,290.3 L115.4,289.9 L115.4,289.7 L115.4,289.3 L115.4,288.9 L115.4,288.7 L115.5,288.3 L115.6,288.0 L115.7,287.7 L115.8,287.3 L115.9,287.1 L116.0,286.7 L116.1,286.5 L116.3,286.3 L116.4,286.0 L116.6,285.8 L116.8,285.6 L117.0,285.3 L117.2,285.1 L117.3,284.9 L117.5,284.7 L117.8,284.5 L118.0,284.3 L118.2,284.2 L118.7,284.1 L118.9,284.0 L119.3,283.9 L119.5,283.7 L119.7,283.6 L119.9,283.4 L120.1,283.2 L120.3,283.1 L120.7,282.9 L120.9,282.8 L121.1,282.7 L121.4,282.5 L121.7,282.4 L121.9,282.3 L122.3,282.2 L122.7,282.1 L122.9,282.1 L123.3,282.0 L123.7,282.0 L124.1,281.9 L124.3,281.8 L124.7,281.7 L124.9,281.6 L125.1,281.5 L125.4,281.3 L125.6,281.1 L125.9,280.9 L126.1,280.7 L126.3,280.6 L126.5,280.5 L126.9,280.3 L127.2,280.3 L127.5,280.2 L127.9,280.1 L128.1,280.0 L128.5,279.9 L128.7,279.8 L129.1,279.7 L129.5,279.7 L129.7,279.6 L130.1,279.6 L130.5,279.5 L130.7,279.3 L130.9,279.2 L131.1,279.0 L131.4,278.8 L131.7,278.7 L132.0,278.6 L132.3,278.5 L132.6,278.4 L132.9,278.3 L133.1,278.2 L133.5,278.0 L133.7,278.0 L134.1,277.9 L134.5,277.8 L134.7,277.8 L135.1,277.7 L135.5,277.7 L135.9,277.8 L136.3,277.8 L136.5,277.9 L136.9,277.9 L137.3,277.9 L137.6,277.8 L137.9,277.7 L138.3,277.6 L138.5,277.6 L138.9,277.6 L139.1,277.7 L139.5,277.8 L139.7,277.9 L140.1,278.0 L140.3,278.1 L140.7,278.2 L140.9,278.3 L141.3,278.4 L141.5,278.6 L141.7,278.7 L142.0,278.8 L142.3,279.0 L142.5,279.2 L142.7,279.4 L142.9,279.7 L143.0,279.9 L143.2,280.1 L143.4,280.4 L143.5,280.7 L143.6,280.9 L143.7,281.3 L143.7,281.7 L143.7,282.1 L143.6,282.5 L143.6,282.9 L143.6,283.3 L143.6,283.7 L143.5,283.9 L143.4,284.2 L143.2,284.5 L143.0,284.7 L142.8,284.9 L142.6,285.1 L142.4,285.3 L142.3,285.5 L142.1,285.8 L141.9,286.0 L141.7,286.2 L141.5,286.3 L141.3,286.5 L140.9,286.7 L140.7,286.8 L140.5,286.9 L140.2,287.1 L140.0,287.3 L139.7,287.5 L139.5,287.6 L139.3,287.7 L139.0,287.9 L138.7,288.0 L138.5,288.1 L138.1,288.3 L137.9,288.4 L137.7,288.5 L137.4,288.7 L137.1,288.9 L136.9,289.0 L136.5,289.1 L136.3,289.1 L135.9,289.2 L135.5,289.3 L135.3,289.4 L135.0,289.5 L134.7,289.7 L134.5,289.8 L134.3,289.9 L133.9,290.1 L133.7,290.2 L133.4,290.3 L133.1,290.4 L132.8,290.5 L132.5,290.6 L132.1,290.7 L131.9,290.8 L131.5,290.9 L131.3,291.1 L131.1,291.2 L130.8,291.3 L130.5,291.5 L130.3,291.5 L129.9,291.6 L129.5,291.7 L129.3,291.8 L128.9,291.9 L128.7,292.0 L128.4,292.1 L128.1,292.3 L127.9,292.4 L127.7,292.6 L127.5,292.7 L127.2,292.9 L126.9,293.1 L126.7,293.3 L126.5,293.4 L126.2,293.5 L125.9,293.7 L125.7,293.9 L125.5,294.1 L125.3,294.3 L125.1,294.4 L124.9,294.6 L124.7,294.8 L124.3,295.0 L124.1,295.0 L123.7,295.2 L123.5,295.2Z" fill="none" stroke="rgb(163,163,163)" stroke-width="0.45"/>
<path d="M123.5,294.8 L123.1,294.8 L122.7,294.9 L122.3,294.9 L121.9,294.9 L121.5,294.9 L121.1,294.9 L120.7,294.9 L120.3,294.8 L120.0,294.8 L119.7,294.6 L119.4,294.6 L119.1,294.4 L118.8,294.3 L118.5,294.2 L118.2,294.1 L117.8,293.9 L117.6,293.8 L117.4,293.6 L117.2,293.4 L117.0,293.1 L116.9,292.9 L116.8,292.7 L116.6,292.5 L116.5,292.1 L116.4,291.9 L116.3,291.5 L116.3,291.1 L116.2,290.9 L116.1,290.5 L116.0,290.3 L116.0,289.9 L115.9,289.5 L115.9,289.1 L115.9,288.7 L116.0,288.3 L116.0,288.1 L116.2,287.7 L116.2,287.4 L116.4,287.1 L116.5,286.9 L116.6,286.6 L116.8,286.3 L117.0,286.1 L117.1,285.9 L117.3,285.7 L117.4,285.5 L117.6,285.2 L117.8,285.0 L118.0,284.9 L118.4,284.7 L118.7,284.6 L118.9,284.5 L119.3,284.3 L119.5,284.2 L119.7,284.1 L120.0,283.9 L120.2,283.7 L120.5,283.5 L120.7,283.4 L120.9,283.3 L121.3,283.1 L121.5,283.0 L121.7,282.9 L122.1,282.8 L122.5,282.7 L122.8,282.7 L123.1,282.6 L123.5,282.6 L123.9,282.6 L124.3,282.5 L124.5,282.4 L124.7,282.3 L125.0,282.1 L125.3,281.9 L125.5,281.8 L125.8,281.7 L126.1,281.5 L126.3,281.3 L126.5,281.2 L126.7,281.0 L127.0,280.9 L127.3,280.7 L127.6,280.7 L127.9,280.6 L128.3,280.5 L128.5,280.4 L128.9,280.3 L129.1,280.2 L129.5,280.2 L129.9,280.2 L130.3,280.1 L130.5,280.1 L130.8,279.9 L131.0,279.7 L131.3,279.4 L131.5,279.3 L131.7,279.2 L132.1,279.1 L132.3,279.0 L132.7,278.9 L132.9,278.8 L133.3,278.7 L133.7,278.7 L134.1,278.7 L134.4,278.6 L134.7,278.5 L134.9,278.4 L135.3,278.2 L135.5,278.2 L135.9,278.2 L136.1,278.3 L136.5,278.3 L136.9,278.4 L137.3,278.4 L137.7,278.3 L138.0,278.2 L138.3,278.2 L138.7,278.2 L139.1,278.2 L139.3,278.3 L139.6,278.4 L139.9,278.6 L140.1,278.7 L140.5,278.8 L140.7,278.9 L141.1,279.0 L141.3,279.2 L141.5,279.3 L141.7,279.5 L141.9,279.7 L142.1,279.9 L142.3,280.2 L142.5,280.4 L142.7,280.7 L142.8,280.9 L143.0,281.2 L143.0,281.5 L143.0,281.9 L143.0,282.3 L142.9,282.5 L142.9,282.9 L142.9,283.3 L142.8,283.7 L142.7,283.9 L142.5,284.1 L142.3,284.3 L142.1,284.5 L141.9,284.7 L141.7,284.9 L141.6,285.3 L141.4,285.5 L141.1,285.7 L140.9,285.8 L140.7,285.9 L140.5,286.1 L140.3,286.3 L140.1,286.5 L139.9,286.7 L139.7,286.9 L139.5,287.1 L139.2,287.3 L138.9,287.4 L138.7,287.5 L138.3,287.6 L138.1,287.7 L137.7,287.9 L137.5,288.0 L137.3,288.1 L137.1,288.3 L136.7,288.5 L136.5,288.6 L136.1,288.6 L135.7,288.6 L135.4,288.7 L135.1,288.8 L134.9,289.0 L134.7,289.1 L134.4,289.3 L134.1,289.5 L133.9,289.6 L133.6,289.7 L133.3,289.8 L132.9,289.9 L132.7,290.0 L132.3,290.1 L132.0,290.1 L131.7,290.2 L131.5,290.3 L131.2,290.5 L130.9,290.7 L130.7,290.8 L130.5,290.9 L130.1,291.1 L129.9,291.1 L129.5,291.2 L129.1,291.3 L128.9,291.4 L128.5,291.4 L128.3,291.5 L128.0,291.7 L127.8,291.9 L127.5,292.1 L127.3,292.3 L127.1,292.5 L126.9,292.6 L126.7,292.8 L126.4,292.9 L126.1,293.1 L125.9,293.2 L125.7,293.3 L125.3,293.5 L125.1,293.7 L124.9,293.9 L124.7,294.1 L124.5,294.3 L124.3,294.4 L124.1,294.6 L123.7,294.7 L123.5,294.8Z" fill="none" stroke="rgb(160,160,160)" stroke-width="0.45"/>
<path d="M123.3,294.4 L122.9,294.4 L122.5,294.5 L122.1,294.4 L121.7,294.5 L121.3,294.5 L120.9,294.5 L120.5,294.5 L120.1,294.4 L119.9,294.3 L119.6,294.1 L119.3,294.0 L119.1,293.9 L118.8,293.7 L118.5,293.6 L118.2,293.5 L118.0,293.3 L117.7,293.1 L117.5,292.9 L117.3,292.7 L117.2,292.5 L117.0,292.2 L117.0,291.9 L116.9,291.5 L116.8,291.3 L116.7,290.9 L116.6,290.7 L116.5,290.3 L116.4,289.9 L116.4,289.7 L116.4,289.3 L116.3,288.9 L116.3,288.5 L116.4,288.1 L116.5,287.9 L116.6,287.6 L116.8,287.3 L116.9,287.1 L117.1,286.9 L117.2,286.6 L117.4,286.3 L117.5,286.1 L117.6,285.8 L117.8,285.6 L118.0,285.4 L118.2,285.2 L118.5,285.1 L118.9,284.9 L119.1,284.8 L119.4,284.7 L119.7,284.6 L119.9,284.5 L120.2,284.3 L120.5,284.1 L120.7,284.0 L120.9,283.9 L121.3,283.7 L121.5,283.6 L121.7,283.5 L122.1,283.4 L122.5,283.3 L122.7,283.3 L123.1,283.2 L123.5,283.2 L123.9,283.2 L124.3,283.1 L124.5,283.0 L124.7,282.9 L124.9,282.7 L125.3,282.5 L125.5,282.4 L125.7,282.3 L126.1,282.1 L126.3,282.0 L126.5,281.9 L126.9,281.7 L127.1,281.5 L127.3,281.4 L127.6,281.3 L127.9,281.1 L128.1,281.1 L128.5,280.9 L128.7,280.9 L129.1,280.7 L129.5,280.7 L129.7,280.6 L130.1,280.7 L130.5,280.6 L130.9,280.5 L131.1,280.3 L131.3,280.1 L131.5,279.9 L131.7,279.8 L132.1,279.7 L132.5,279.7 L132.7,279.6 L133.1,279.5 L133.3,279.4 L133.7,279.4 L134.1,279.4 L134.5,279.3 L134.8,279.2 L135.1,279.0 L135.3,278.9 L135.5,278.8 L135.9,278.7 L136.3,278.8 L136.6,278.8 L136.9,278.9 L137.3,279.0 L137.7,279.0 L138.1,279.0 L138.5,278.9 L138.9,278.9 L139.3,279.0 L139.5,279.1 L139.9,279.2 L140.1,279.4 L140.3,279.5 L140.7,279.7 L140.9,279.8 L141.1,280.0 L141.3,280.2 L141.5,280.5 L141.6,280.7 L141.7,280.9 L141.9,281.3 L141.9,281.7 L141.8,282.1 L141.9,282.5 L142.0,282.7 L142.1,283.1 L142.0,283.5 L141.9,283.7 L141.7,283.9 L141.5,284.1 L141.3,284.3 L141.1,284.5 L140.8,284.7 L140.6,284.9 L140.4,285.1 L140.3,285.3 L140.1,285.5 L139.9,285.8 L139.8,286.1 L139.6,286.3 L139.5,286.5 L139.2,286.7 L138.9,286.9 L138.7,286.9 L138.3,287.0 L138.0,287.1 L137.7,287.2 L137.3,287.3 L137.1,287.4 L136.9,287.5 L136.6,287.7 L136.3,287.8 L136.1,287.9 L135.7,288.0 L135.3,288.1 L135.1,288.1 L134.8,288.3 L134.5,288.5 L134.3,288.7 L134.1,288.9 L133.9,289.1 L133.7,289.2 L133.3,289.3 L133.1,289.4 L132.7,289.4 L132.3,289.4 L131.9,289.5 L131.7,289.6 L131.4,289.7 L131.1,289.9 L130.9,290.1 L130.7,290.2 L130.5,290.3 L130.2,290.5 L129.9,290.6 L129.5,290.7 L129.3,290.8 L128.9,290.8 L128.5,290.8 L128.1,290.9 L127.9,291.1 L127.7,291.2 L127.5,291.5 L127.3,291.7 L127.1,291.9 L126.9,292.1 L126.7,292.2 L126.5,292.3 L126.2,292.5 L125.9,292.7 L125.7,292.8 L125.4,292.9 L125.1,293.1 L124.9,293.2 L124.7,293.4 L124.5,293.6 L124.3,293.8 L124.1,294.0 L123.8,294.1 L123.5,294.3 L123.3,294.4Z" fill="none" stroke="rgb(157,157,157)" stroke-width="0.45"/>
<path d="M123.1,294.0 L122.7,294.0 L122.3,294.0 L121.9,294.0 L121.5,294.1 L121.1,294.1 L120.7,294.1 L120.3,294.0 L120.1,293.9 L119.8,293.7 L119.5,293.5 L119.3,293.4 L119.1,293.2 L118.9,293.1 L118.5,292.9 L118.2,292.8 L118.0,292.7 L117.8,292.5 L117.6,292.2 L117.5,291.9 L117.4,291.7 L117.3,291.3 L117.2,291.1 L117.1,290.7 L117.0,290.5 L116.9,290.1 L116.9,289.7 L116.8,289.5 L116.7,289.1 L116.7,288.7 L116.8,288.3 L116.9,288.1 L117.0,287.8 L117.2,287.5 L117.4,287.3 L117.5,287.1 L117.6,286.8 L117.8,286.5 L117.9,286.3 L118.0,286.0 L118.2,285.8 L118.5,285.6 L118.7,285.5 L119.1,285.3 L119.3,285.2 L119.5,285.1 L119.9,284.9 L120.1,284.9 L120.5,284.8 L120.7,284.6 L120.9,284.5 L121.3,284.3 L121.5,284.2 L121.7,284.1 L122.1,283.9 L122.3,283.9 L122.7,283.8 L123.1,283.7 L123.5,283.7 L123.7,283.7 L124.1,283.6 L124.5,283.5 L124.7,283.4 L124.9,283.2 L125.2,283.1 L125.5,282.9 L125.7,282.8 L126.1,282.7 L126.3,282.6 L126.6,282.5 L126.9,282.3 L127.1,282.2 L127.3,282.1 L127.6,281.9 L127.9,281.7 L128.1,281.6 L128.5,281.5 L128.7,281.3 L128.9,281.3 L129.3,281.1 L129.7,281.1 L129.9,281.0 L130.3,281.1 L130.5,281.1 L130.7,281.1 L131.1,281.0 L131.3,280.9 L131.6,280.7 L131.9,280.5 L132.3,280.5 L132.5,280.4 L132.9,280.3 L133.1,280.2 L133.5,280.1 L133.7,280.0 L134.1,279.9 L134.5,279.9 L134.7,279.8 L135.0,279.7 L135.3,279.4 L135.5,279.3 L135.8,279.2 L136.1,279.2 L136.3,279.3 L136.7,279.4 L136.9,279.5 L137.3,279.6 L137.5,279.7 L137.9,279.8 L138.1,279.9 L138.5,280.0 L138.9,279.9 L139.3,279.9 L139.7,279.9 L140.1,280.0 L140.3,280.2 L140.5,280.4 L140.7,280.7 L140.8,280.9 L140.9,281.3 L141.0,281.5 L141.1,281.9 L141.1,282.3 L141.2,282.5 L141.3,282.9 L141.4,283.1 L141.3,283.3 L141.1,283.7 L140.9,283.9 L140.7,284.0 L140.5,284.2 L140.3,284.4 L140.1,284.6 L139.9,284.8 L139.7,285.0 L139.5,285.2 L139.3,285.5 L139.1,285.7 L138.9,285.8 L138.7,286.0 L138.5,286.1 L138.2,286.3 L137.9,286.4 L137.7,286.5 L137.3,286.6 L137.1,286.7 L136.7,286.8 L136.5,287.0 L136.3,287.1 L136.0,287.3 L135.7,287.4 L135.4,287.5 L135.1,287.6 L134.7,287.6 L134.4,287.7 L134.1,287.9 L133.9,288.1 L133.8,288.3 L133.6,288.5 L133.3,288.7 L133.1,288.7 L132.7,288.8 L132.3,288.8 L131.9,288.9 L131.7,289.0 L131.5,289.1 L131.2,289.3 L130.9,289.5 L130.7,289.6 L130.5,289.8 L130.2,289.9 L129.9,290.0 L129.5,290.1 L129.1,290.1 L128.7,290.0 L128.4,290.1 L128.1,290.3 L127.9,290.4 L127.7,290.6 L127.5,290.8 L127.3,291.0 L127.1,291.2 L126.9,291.4 L126.7,291.6 L126.5,291.7 L126.2,291.9 L125.9,292.1 L125.7,292.3 L125.5,292.4 L125.1,292.5 L124.9,292.6 L124.5,292.7 L124.3,292.9 L124.1,293.1 L123.9,293.3 L123.7,293.5 L123.5,293.7 L123.3,293.9 L123.1,294.0Z" fill="none" stroke="rgb(153,153,153)" stroke-width="0.45"/>
<path d="M122.7,293.6 L122.3,293.6 L121.9,293.6 L121.5,293.7 L121.1,293.7 L120.7,293.7 L120.3,293.6 L120.1,293.5 L119.9,293.3 L119.6,293.1 L119.4,292.9 L119.1,292.8 L118.9,292.6 L118.7,292.5 L118.5,292.3 L118.2,292.1 L118.0,291.8 L117.9,291.5 L117.7,291.3 L117.6,291.1 L117.5,290.7 L117.4,290.3 L117.4,290.1 L117.3,289.7 L117.2,289.5 L117.1,289.1 L117.1,288.7 L117.2,288.4 L117.4,288.1 L117.5,287.9 L117.6,287.7 L117.8,287.3 L117.9,287.1 L118.0,286.9 L118.2,286.5 L118.4,286.3 L118.7,286.1 L118.9,286.0 L119.1,285.9 L119.4,285.7 L119.7,285.6 L119.9,285.5 L120.3,285.3 L120.5,285.3 L120.9,285.1 L121.1,284.9 L121.3,284.8 L121.5,284.7 L121.9,284.5 L122.1,284.4 L122.5,284.3 L122.8,284.3 L123.1,284.2 L123.5,284.2 L123.8,284.1 L124.1,284.0 L124.5,283.9 L124.7,283.8 L124.9,283.7 L125.3,283.5 L125.5,283.4 L125.9,283.3 L126.1,283.3 L126.5,283.1 L126.7,283.1 L127.0,282.9 L127.3,282.7 L127.5,282.6 L127.8,282.5 L128.1,282.3 L128.3,282.2 L128.5,282.1 L128.7,281.9 L129.0,281.7 L129.3,281.5 L129.6,281.5 L129.9,281.4 L130.3,281.4 L130.7,281.5 L130.9,281.5 L131.1,281.5 L131.5,281.4 L131.9,281.3 L132.1,281.2 L132.4,281.1 L132.7,281.0 L133.0,280.9 L133.3,280.7 L133.5,280.6 L133.8,280.5 L134.1,280.4 L134.5,280.3 L134.7,280.2 L135.1,280.1 L135.3,280.0 L135.5,279.8 L135.9,279.7 L136.3,279.7 L136.7,279.8 L136.9,279.9 L137.2,280.1 L137.5,280.2 L137.7,280.3 L138.0,280.5 L138.3,280.6 L138.5,280.7 L138.8,280.9 L139.1,281.0 L139.3,281.1 L139.7,281.3 L139.8,281.5 L139.9,281.7 L140.1,281.9 L140.3,282.3 L140.4,282.5 L140.5,282.8 L140.6,283.1 L140.5,283.3 L140.3,283.7 L140.2,283.9 L140.0,284.1 L139.8,284.3 L139.6,284.5 L139.3,284.7 L139.1,284.9 L138.9,285.1 L138.7,285.3 L138.5,285.4 L138.3,285.5 L138.1,285.7 L137.8,285.9 L137.5,286.1 L137.3,286.2 L137.0,286.3 L136.7,286.4 L136.5,286.5 L136.1,286.7 L135.9,286.8 L135.6,286.9 L135.3,287.0 L134.9,287.0 L134.5,287.1 L134.3,287.2 L133.9,287.3 L133.7,287.4 L133.5,287.5 L133.1,287.7 L132.9,287.8 L132.5,287.9 L132.3,288.0 L132.1,288.2 L131.9,288.3 L131.6,288.5 L131.3,288.7 L131.1,288.9 L130.9,289.0 L130.7,289.2 L130.4,289.3 L130.1,289.4 L129.7,289.4 L129.3,289.4 L128.9,289.5 L128.5,289.5 L128.3,289.6 L128.1,289.7 L127.8,289.9 L127.6,290.1 L127.4,290.3 L127.2,290.5 L127.0,290.7 L126.7,290.9 L126.5,291.1 L126.3,291.2 L126.1,291.4 L125.8,291.5 L125.5,291.7 L125.3,291.9 L125.1,292.0 L124.8,292.1 L124.5,292.3 L124.3,292.4 L123.9,292.5 L123.7,292.7 L123.5,292.9 L123.3,293.1 L123.1,293.3 L122.9,293.5 L122.7,293.6Z" fill="none" stroke="rgb(149,149,149)" stroke-width="0.45"/>
<path d="M122.3,293.2 L121.9,293.2 L121.5,293.3 L121.1,293.3 L120.7,293.3 L120.3,293.1 L120.1,293.0 L119.9,292.9 L119.7,292.7 L119.4,292.5 L119.1,292.3 L118.9,292.1 L118.8,291.9 L118.6,291.7 L118.5,291.5 L118.2,291.2 L118.1,290.9 L118.0,290.6 L118.0,290.3 L117.9,289.9 L117.8,289.7 L117.6,289.3 L117.6,289.1 L117.6,288.7 L117.7,288.5 L117.8,288.1 L118.0,287.9 L118.1,287.7 L118.2,287.4 L118.4,287.1 L118.6,286.9 L118.8,286.7 L119.1,286.6 L119.3,286.5 L119.5,286.3 L119.8,286.1 L120.1,285.9 L120.3,285.9 L120.7,285.7 L120.9,285.6 L121.1,285.4 L121.3,285.3 L121.5,285.1 L121.9,284.9 L122.1,284.8 L122.5,284.7 L122.9,284.7 L123.1,284.7 L123.5,284.6 L123.9,284.5 L124.1,284.4 L124.5,284.3 L124.7,284.2 L125.0,284.1 L125.3,284.0 L125.6,283.9 L125.9,283.8 L126.3,283.7 L126.5,283.6 L126.9,283.5 L127.1,283.4 L127.4,283.3 L127.7,283.2 L128.0,283.1 L128.3,283.0 L128.7,282.9 L128.9,282.8 L129.1,282.5 L129.2,282.3 L129.4,282.1 L129.7,281.9 L129.9,281.9 L130.3,281.8 L130.7,281.9 L130.9,281.9 L131.3,281.9 L131.6,281.9 L131.9,281.8 L132.3,281.7 L132.5,281.6 L132.8,281.5 L133.1,281.4 L133.3,281.3 L133.7,281.1 L133.9,280.9 L134.1,280.8 L134.5,280.7 L134.8,280.7 L135.1,280.6 L135.5,280.5 L135.7,280.4 L136.1,280.3 L136.5,280.4 L136.8,280.5 L137.1,280.6 L137.3,280.7 L137.6,280.9 L137.9,281.0 L138.1,281.1 L138.4,281.3 L138.6,281.5 L138.7,281.7 L138.9,282.0 L139.1,282.2 L139.3,282.4 L139.5,282.6 L139.7,282.9 L139.8,283.1 L139.7,283.4 L139.6,283.7 L139.4,283.9 L139.1,284.1 L138.9,284.2 L138.7,284.4 L138.6,284.7 L138.4,284.9 L138.1,285.1 L137.9,285.2 L137.7,285.4 L137.5,285.6 L137.3,285.7 L137.0,285.9 L136.7,286.0 L136.4,286.1 L136.1,286.2 L135.9,286.3 L135.5,286.4 L135.1,286.5 L134.9,286.5 L134.5,286.6 L134.3,286.7 L133.9,286.9 L133.7,287.0 L133.4,287.1 L133.1,287.2 L132.8,287.3 L132.5,287.4 L132.2,287.5 L131.9,287.7 L131.7,287.8 L131.5,287.9 L131.3,288.1 L131.0,288.3 L130.8,288.5 L130.6,288.7 L130.3,288.9 L130.1,288.9 L129.7,288.9 L129.3,288.9 L128.9,289.0 L128.5,289.0 L128.3,289.1 L127.9,289.3 L127.7,289.4 L127.5,289.6 L127.3,289.8 L127.1,290.0 L126.9,290.2 L126.7,290.3 L126.4,290.5 L126.1,290.7 L125.9,290.9 L125.7,291.0 L125.5,291.1 L125.2,291.3 L125.0,291.5 L124.7,291.7 L124.5,291.9 L124.3,292.0 L123.9,292.1 L123.7,292.2 L123.5,292.4 L123.3,292.6 L123.1,292.8 L122.9,293.0 L122.5,293.1 L122.3,293.2Z" fill="none" stroke="rgb(144,144,144)" stroke-width="0.45"/>
<path d="M122.3,292.7 L121.9,292.8 L121.5,292.8 L121.1,292.9 L120.7,292.8 L120.4,292.7 L120.1,292.5 L119.9,292.4 L119.7,292.2 L119.5,292.0 L119.3,291.7 L119.1,291.5 L119.0,291.3 L118.8,291.1 L118.7,290.7 L118.6,290.5 L118.5,290.1 L118.4,289.9 L118.3,289.5 L118.2,289.3 L118.1,288.9 L118.2,288.5 L118.3,288.3 L118.5,288.1 L118.7,287.7 L118.8,287.5 L119.1,287.3 L119.3,287.2 L119.5,287.1 L119.7,286.9 L120.0,286.7 L120.3,286.5 L120.5,286.4 L120.7,286.3 L121.0,286.1 L121.3,285.9 L121.5,285.7 L121.7,285.5 L121.9,285.4 L122.1,285.3 L122.5,285.2 L122.9,285.2 L123.3,285.1 L123.5,285.1 L123.9,285.0 L124.2,284.9 L124.5,284.8 L124.9,284.7 L125.1,284.7 L125.5,284.6 L125.8,284.5 L126.1,284.4 L126.3,284.3 L126.7,284.1 L126.9,284.1 L127.3,284.0 L127.7,283.9 L127.9,283.8 L128.3,283.7 L128.5,283.6 L128.9,283.5 L129.1,283.4 L129.4,283.3 L129.6,283.1 L129.8,282.9 L130.0,282.7 L130.3,282.5 L130.5,282.5 L130.9,282.4 L131.3,282.4 L131.7,282.3 L131.9,282.3 L132.3,282.2 L132.6,282.1 L132.9,282.0 L133.2,281.9 L133.5,281.7 L133.7,281.6 L134.0,281.5 L134.3,281.3 L134.5,281.2 L134.9,281.2 L135.3,281.2 L135.5,281.3 L135.9,281.5 L136.1,281.6 L136.3,281.7 L136.7,281.9 L136.9,281.9 L137.3,282.0 L137.7,282.0 L137.9,282.1 L138.1,282.4 L138.3,282.7 L138.4,282.9 L138.3,283.1 L138.0,283.3 L137.8,283.5 L137.7,283.8 L137.7,284.1 L137.7,284.3 L137.7,284.5 L137.5,284.8 L137.3,285.0 L137.1,285.2 L136.9,285.3 L136.5,285.5 L136.3,285.5 L135.9,285.6 L135.7,285.7 L135.3,285.8 L135.1,285.9 L134.7,286.0 L134.5,286.1 L134.1,286.3 L133.9,286.4 L133.6,286.5 L133.3,286.6 L133.1,286.7 L132.7,286.8 L132.4,286.9 L132.1,287.0 L131.9,287.2 L131.6,287.3 L131.3,287.4 L131.1,287.5 L130.7,287.7 L130.5,287.9 L130.3,288.1 L130.1,288.2 L129.7,288.3 L129.5,288.3 L129.1,288.3 L128.7,288.4 L128.3,288.5 L128.1,288.5 L127.7,288.7 L127.5,288.8 L127.3,289.0 L127.1,289.2 L126.9,289.4 L126.7,289.5 L126.4,289.7 L126.1,289.9 L125.9,290.1 L125.7,290.3 L125.5,290.5 L125.3,290.6 L125.1,290.8 L124.9,290.9 L124.7,291.1 L124.5,291.3 L124.2,291.5 L123.9,291.7 L123.7,291.7 L123.4,291.9 L123.2,292.1 L123.0,292.3 L122.7,292.5 L122.5,292.7 L122.3,292.7Z" fill="none" stroke="rgb(137,137,137)" stroke-width="0.45"/>
<path d="M122.1,292.4 L121.7,292.4 L121.3,292.4 L120.9,292.3 L120.7,292.3 L120.4,292.1 L120.2,291.9 L120.0,291.7 L119.8,291.5 L119.6,291.3 L119.4,291.1 L119.3,290.9 L119.1,290.5 L119.0,290.3 L118.9,289.9 L118.9,289.5 L118.9,289.1 L118.9,288.7 L119.1,288.4 L119.2,288.1 L119.3,287.9 L119.5,287.7 L119.7,287.5 L120.1,287.3 L120.3,287.3 L120.7,287.2 L120.9,287.1 L121.1,286.9 L121.3,286.7 L121.5,286.5 L121.7,286.3 L122.0,286.1 L122.3,285.9 L122.5,285.8 L122.9,285.8 L123.3,285.8 L123.7,285.7 L123.9,285.7 L124.3,285.6 L124.7,285.5 L124.7,285.5 L125.1,285.6 L125.3,285.8 L125.4,286.1 L125.6,286.3 L125.9,286.5 L126.1,286.3 L126.2,285.9 L126.2,285.5 L126.3,285.3 L126.5,285.0 L126.7,284.9 L127.1,284.7 L127.5,284.8 L127.9,284.8 L128.1,284.7 L128.3,284.5 L128.6,284.3 L128.9,284.2 L129.1,284.1 L129.5,284.0 L129.7,283.9 L130.0,283.7 L130.2,283.5 L130.5,283.3 L130.7,283.2 L131.1,283.1 L131.3,283.1 L131.7,282.9 L131.9,282.8 L132.3,282.7 L132.5,282.6 L132.9,282.5 L133.3,282.5 L133.7,282.5 L133.9,282.4 L134.1,282.3 L134.3,282.0 L134.7,281.9 L134.8,281.9 L135.1,282.0 L135.3,282.3 L135.4,282.5 L135.4,282.9 L135.3,283.1 L135.0,283.3 L134.9,283.5 L134.9,283.8 L135.1,284.1 L135.2,284.3 L135.1,284.7 L135.0,284.9 L134.9,285.1 L134.6,285.3 L134.3,285.4 L133.9,285.4 L133.5,285.3 L133.3,285.2 L133.1,285.1 L132.7,284.9 L132.3,285.1 L132.1,285.2 L131.8,285.3 L131.5,285.4 L131.3,285.5 L131.1,285.9 L131.3,286.3 L131.3,286.5 L131.2,286.7 L130.9,286.9 L130.7,287.0 L130.4,287.1 L130.1,287.3 L129.9,287.4 L129.5,287.5 L129.1,287.5 L128.7,287.5 L128.5,287.6 L128.2,287.7 L127.9,287.9 L127.7,288.0 L127.4,288.1 L127.1,288.3 L126.9,288.4 L126.6,288.5 L126.3,288.7 L126.1,288.8 L125.9,289.1 L125.7,289.3 L125.6,289.5 L125.4,289.7 L125.2,289.9 L124.9,290.1 L124.7,290.2 L124.4,290.3 L124.2,290.5 L124.1,290.7 L123.9,291.0 L123.7,291.2 L123.4,291.3 L123.2,291.5 L123.0,291.7 L122.8,291.9 L122.6,292.1 L122.3,292.3 L122.1,292.4Z" fill="none" stroke="rgb(129,129,129)" stroke-width="0.45"/>
<path d="M136.5,284.5 L136.2,284.5 L135.9,284.3 L135.7,284.1 L135.7,283.9 L135.7,283.5 L135.8,283.3 L136.1,283.1 L136.3,283.0 L136.6,283.1 L136.8,283.3 L136.8,283.7 L136.7,284.0 L136.7,284.3 L136.5,284.5Z" fill="none" stroke="rgb(129,129,129)" stroke-width="0.45"/>
<rect x="154.0" y="282.5" width="0.5" height="0.5" fill="#bbb"/>
<rect x="126.0" y="286.3" width="0.5" height="0.5" fill="#bbb"/>
<rect x="139.5" y="297.6" width="0.5" height="0.5" fill="#bbb"/>
<rect x="148.6" y="290.7" width="0.5" height="0.5" fill="#bbb"/>
<rect x="128.6" y="280.1" width="0.5" height="0.5" fill="#bbb"/>
<rect x="119.6" y="285.7" width="0.5" height="0.5" fill="#bbb"/>
<rect x="149.0" y="273.5" width="0.5" height="0.5" fill="#bbb"/>
<rect x="125.8" y="289.2" width="0.5" height="0.5" fill="#bbb"/>
<rect x="136.3" y="278.1" width="0.5" height="0.5" fill="#bbb"/>
<rect x="115.1" y="287.3" width="0.5" height="0.5" fill="#bbb"/>
<rect x="113.4" y="290.6" width="0.5" height="0.5" fill="#bbb"/>
<rect x="122.3" y="282.7" width="0.5" height="0.5" fill="#bbb"/>
<rect x="135.3" y="276.5" width="0.5" height="0.5" fill="#bbb"/>
<rect x="154.2" y="279.0" width="0.5" height="0.5" fill="#bbb"/>
<rect x="154.6" y="279.2" width="0.5" height="0.5" fill="#bbb"/>
<rect x="149.3" y="282.2" width="0.5" height="0.5" fill="#bbb"/>
<rect x="131.3" y="300.8" width="0.5" height="0.5" fill="#bbb"/>
<rect x="137.6" y="274.3" width="0.5" height="0.5" fill="#bbb"/>
<rect x="134.8" y="286.7" width="0.5" height="0.5" fill="#bbb"/>
<rect x="120.6" y="288.3" width="0.5" height="0.5" fill="#bbb"/>
<rect x="130.2" y="273.8" width="0.5" height="0.5" fill="#bbb"/>
<rect x="115.5" y="279.2" width="0.5" height="0.5" fill="#bbb"/>
<rect x="119.8" y="281.4" width="0.5" height="0.5" fill="#bbb"/>
<rect x="138.7" y="283.7" width="0.5" height="0.5" fill="#bbb"/>
<rect x="117.7" y="285.2" width="0.5" height="0.5" fill="#bbb"/>
<rect x="141.5" y="279.8" width="0.5" height="0.5" fill="#bbb"/>
<rect x="131.2" y="281.2" width="0.5" height="0.5" fill="#bbb"/>
<rect x="134.6" y="289.4" width="0.5" height="0.5" fill="#bbb"/>
<rect x="116.0" y="286.2" width="0.5" height="0.5" fill="#bbb"/>
<rect x="134.1" y="281.1" width="0.5" height="0.5" fill="#bbb"/>
<rect x="138.7" y="274.3" width="0.5" height="0.5" fill="#bbb"/>
<rect x="148.7" y="281.7" width="0.5" height="0.5" fill="#bbb"/>
<rect x="131.6" y="282.4" width="0.5" height="0.5" fill="#bbb"/>
<rect x="132.6" y="294.1" width="0.5" height="0.5" fill="#bbb"/>
<rect x="140.7" y="282.6" width="0.5" height="0.5" fill="#bbb"/>
<rect x="143.0" y="286.1" width="0.5" height="0.5" fill="#bbb"/>
<rect x="108.7" y="296.0" width="0.5" height="0.5" fill="#bbb"/>
<rect x="150.5" y="287.1" width="0.5" height="0.5" fill="#bbb"/>
<rect x="140.1" y="283.7" width="0.5" height="0.5" fill="#bbb"/>
<rect x="139.9" y="295.1" width="0.5" height="0.5" fill="#bbb"/>
<rect x="109.1" y="277.7" width="0.5" height="0.5" fill="#bbb"/>
<rect x="136.9" y="298.7" width="0.5" height="0.5" fill="#bbb"/>
<rect x="136.0" y="279.5" width="0.5" height="0.5" fill="#bbb"/>
<rect x="125.9" y="287.7" width="0.5" height="0.5" fill="#bbb"/>
<rect x="115.6" y="290.1" width="0.5" height="0.5" fill="#bbb"/>
<rect x="112.3" y="296.1" width="0.5" height="0.5" fill="#bbb"/>
<rect x="154.4" y="285.8" width="0.5" height="0.5" fill="#bbb"/>
<rect x="129.3" y="289.1" width="0.5" height="0.5" fill="#bbb"/>
<rect x="123.3" y="288.2" width="0.5" height="0.5" fill="#bbb"/>
<rect x="123.7" y="280.3" width="0.5" height="0.5" fill="#bbb"/>
<rect x="121.7" y="280.7" width="0.5" height="0.5" fill="#bbb"/>
<rect x="138.7" y="280.0" width="0.5" height="0.5" fill="#bbb"/>
<rect x="106.2" y="280.2" width="0.5" height="0.5" fill="#bbb"/>
<rect x="139.1" y="292.4" width="0.5" height="0.5" fill="#bbb"/>
<rect x="127.4" y="282.3" width="0.5" height="0.5" fill="#bbb"/>
<rect x="130.2" y="286.2" width="0.5" height="0.5" fill="#bbb"/>
<rect x="107.5" y="288.4" width="0.5" height="0.5" fill="#bbb"/>
<rect x="133.5" y="279.7" width="0.5" height="0.5" fill="#bbb"/>
<rect x="134.8" y="286.8" width="0.5" height="0.5" fill="#bbb"/>
<rect x="140.6" y="285.3" width="0.5" height="0.5" fill="#bbb"/>
<rect x="152.0" y="285.9" width="0.5" height="0.5" fill="#bbb"/>
<rect x="127.4" y="289.3" width="0.5" height="0.5" fill="#bbb"/>
<rect x="130.4" y="285.7" width="0.5" height="0.5" fill="#bbb"/>
<rect x="125.9" y="281.3" width="0.5" height="0.5" fill="#bbb"/>
<rect x="130.7" y="284.9" width="0.5" height="0.5" fill="#bbb"/>
<rect x="139.3" y="287.1" width="0.5" height="0.5" fill="#bbb"/>
<rect x="129.6" y="283.2" width="0.5" height="0.5" fill="#bbb"/>
<rect x="148.4" y="283.5" width="0.5" height="0.5" fill="#bbb"/>
<rect x="142.5" y="277.5" width="0.5" height="0.5" fill="#bbb"/>
<rect x="125.1" y="284.4" width="0.5" height="0.5" fill="#bbb"/>
<rect x="137.2" y="289.4" width="0.5" height="0.5" fill="#bbb"/>
<rect x="147.9" y="295.3" width="0.5" height="0.5" fill="#bbb"/>
<path d="M122.5,316.7 L122.1,316.8 L121.7,316.8 L121.3,316.8 L120.9,316.9 L120.5,316.8 L120.1,316.8 L119.7,316.8 L119.5,316.7 L119.1,316.7 L118.7,316.6 L118.4,316.5 L118.1,316.4 L117.8,316.3 L117.5,316.2 L117.2,316.1 L116.9,315.9 L116.7,315.8 L116.5,315.7 L116.2,315.5 L115.9,315.3 L115.7,315.1 L115.5,314.9 L115.3,314.7 L115.2,314.5 L115.1,314.2 L114.9,313.9 L114.9,313.5 L114.9,313.1 L115.0,312.7 L115.1,312.5 L115.3,312.2 L115.5,311.9 L115.7,311.7 L115.9,311.5 L116.1,311.4 L116.3,311.2 L116.5,311.1 L116.8,310.9 L117.1,310.7 L117.3,310.7 L117.7,310.5 L117.9,310.4 L118.3,310.3 L118.5,310.3 L118.9,310.2 L119.3,310.1 L119.5,310.1 L119.9,310.0 L120.3,310.0 L120.7,310.0 L121.1,309.9 L121.5,310.0 L121.9,310.0 L122.3,310.0 L122.5,310.1 L122.9,310.1 L123.3,310.2 L123.6,310.3 L123.9,310.4 L124.2,310.5 L124.5,310.6 L124.7,310.7 L125.1,310.8 L125.3,310.9 L125.5,311.1 L125.8,311.3 L126.1,311.5 L126.3,311.7 L126.5,311.9 L126.7,312.1 L126.8,312.3 L126.9,312.5 L127.1,312.9 L127.1,313.3 L127.1,313.7 L127.0,314.1 L126.9,314.3 L126.7,314.6 L126.5,314.9 L126.3,315.1 L126.1,315.3 L125.9,315.5 L125.7,315.6 L125.5,315.7 L125.2,315.9 L124.9,316.1 L124.7,316.1 L124.3,316.3 L124.1,316.4 L123.7,316.5 L123.5,316.5 L123.1,316.6 L122.7,316.7 L122.5,316.7Z" fill="none" stroke="rgb(42,42,42)" stroke-width="0.65"/>
<path d="M121.9,316.5 L121.5,316.6 L121.1,316.6 L120.7,316.6 L120.3,316.6 L120.0,316.5 L119.7,316.5 L119.3,316.4 L118.9,316.4 L118.7,316.3 L118.3,316.2 L118.1,316.1 L117.7,316.0 L117.5,315.9 L117.1,315.7 L116.9,315.6 L116.7,315.5 L116.5,315.3 L116.2,315.1 L116.0,314.9 L115.8,314.7 L115.7,314.5 L115.5,314.1 L115.4,313.9 L115.3,313.5 L115.4,313.1 L115.5,312.7 L115.6,312.5 L115.7,312.3 L115.9,312.1 L116.1,311.8 L116.3,311.6 L116.5,311.5 L116.8,311.3 L117.1,311.1 L117.3,311.0 L117.5,310.9 L117.9,310.7 L118.1,310.7 L118.5,310.5 L118.8,310.5 L119.1,310.4 L119.5,310.3 L119.9,310.3 L120.1,310.3 L120.5,310.2 L120.9,310.2 L121.3,310.2 L121.7,310.2 L122.0,310.3 L122.3,310.3 L122.7,310.4 L123.1,310.4 L123.3,310.5 L123.7,310.6 L123.9,310.7 L124.3,310.8 L124.5,310.9 L124.9,311.1 L125.1,311.2 L125.3,311.3 L125.5,311.5 L125.8,311.7 L126.0,311.9 L126.2,312.1 L126.3,312.3 L126.5,312.7 L126.6,312.9 L126.7,313.3 L126.6,313.7 L126.5,314.1 L126.4,314.3 L126.3,314.5 L126.1,314.8 L125.9,315.0 L125.7,315.2 L125.5,315.3 L125.2,315.5 L124.9,315.7 L124.7,315.8 L124.5,315.9 L124.1,316.1 L123.9,316.1 L123.5,316.3 L123.2,316.3 L122.9,316.4 L122.5,316.5 L122.1,316.5 L121.9,316.5Z" fill="none" stroke="rgb(44,44,44)" stroke-width="0.65"/>
<path d="M122.5,316.2 L122.1,316.2 L121.7,316.3 L121.3,316.3 L120.9,316.3 L120.5,316.3 L120.1,316.2 L119.7,316.2 L119.3,316.1 L119.1,316.1 L118.7,316.0 L118.5,315.9 L118.1,315.8 L117.9,315.7 L117.5,315.5 L117.3,315.4 L117.1,315.3 L116.9,315.1 L116.6,314.9 L116.4,314.7 L116.2,314.5 L116.1,314.2 L115.9,313.9 L115.9,313.5 L115.9,313.3 L115.9,313.1 L116.0,312.7 L116.1,312.5 L116.3,312.3 L116.5,312.0 L116.7,311.8 L116.9,311.7 L117.1,311.5 L117.5,311.3 L117.7,311.2 L117.9,311.1 L118.3,310.9 L118.5,310.9 L118.9,310.8 L119.3,310.7 L119.5,310.6 L119.9,310.6 L120.3,310.5 L120.7,310.5 L121.1,310.5 L121.5,310.5 L121.9,310.5 L122.3,310.6 L122.7,310.7 L122.9,310.7 L123.3,310.8 L123.5,310.9 L123.9,311.0 L124.1,311.1 L124.5,311.3 L124.7,311.4 L124.9,311.5 L125.1,311.7 L125.4,311.9 L125.6,312.1 L125.8,312.3 L125.9,312.6 L126.1,312.9 L126.1,313.1 L126.1,313.5 L126.1,313.7 L126.0,314.1 L125.9,314.3 L125.7,314.6 L125.5,314.8 L125.3,315.0 L125.1,315.1 L124.9,315.3 L124.5,315.5 L124.3,315.6 L124.1,315.7 L123.7,315.9 L123.5,315.9 L123.1,316.0 L122.7,316.1 L122.5,316.2Z" fill="none" stroke="rgb(46,46,46)" stroke-width="0.65"/>
<path d="M121.9,315.9 L121.5,316.0 L121.1,316.0 L120.7,316.0 L120.3,316.0 L120.1,315.9 L119.7,315.9 L119.3,315.8 L119.0,315.7 L118.7,315.6 L118.4,315.5 L118.1,315.4 L117.9,315.3 L117.6,315.1 L117.3,314.9 L117.1,314.7 L116.9,314.5 L116.7,314.3 L116.6,314.1 L116.5,313.8 L116.4,313.5 L116.4,313.1 L116.5,312.9 L116.7,312.5 L116.8,312.3 L117.0,312.1 L117.3,311.9 L117.5,311.7 L117.7,311.6 L117.9,311.5 L118.3,311.3 L118.5,311.2 L118.9,311.1 L119.1,311.1 L119.5,311.0 L119.9,310.9 L120.1,310.9 L120.5,310.8 L120.9,310.8 L121.3,310.8 L121.7,310.8 L121.9,310.9 L122.3,310.9 L122.7,311.0 L123.0,311.1 L123.3,311.2 L123.6,311.3 L123.9,311.4 L124.1,311.5 L124.4,311.7 L124.7,311.9 L124.9,312.0 L125.1,312.2 L125.3,312.5 L125.4,312.7 L125.5,312.9 L125.6,313.3 L125.6,313.7 L125.5,313.9 L125.3,314.3 L125.2,314.5 L125.0,314.7 L124.7,314.9 L124.5,315.1 L124.3,315.2 L124.1,315.3 L123.7,315.5 L123.5,315.6 L123.1,315.7 L122.9,315.8 L122.5,315.8 L122.1,315.9 L121.9,315.9Z" fill="none" stroke="rgb(51,51,51)" stroke-width="0.65"/>
<path d="M122.1,315.5 L121.7,315.6 L121.3,315.6 L120.9,315.6 L120.5,315.6 L120.1,315.6 L119.8,315.5 L119.5,315.5 L119.1,315.4 L118.9,315.3 L118.5,315.1 L118.3,315.0 L118.1,314.9 L117.8,314.7 L117.5,314.5 L117.4,314.3 L117.2,314.1 L117.1,313.7 L117.0,313.5 L117.1,313.1 L117.1,312.9 L117.3,312.6 L117.5,312.4 L117.7,312.2 L117.9,312.0 L118.1,311.9 L118.5,311.7 L118.7,311.6 L119.0,311.5 L119.3,311.4 L119.7,311.3 L119.9,311.3 L120.3,311.2 L120.7,311.2 L121.1,311.2 L121.5,311.2 L121.9,311.2 L122.2,311.3 L122.5,311.3 L122.9,311.4 L123.1,311.5 L123.5,311.7 L123.7,311.8 L123.9,311.9 L124.2,312.1 L124.5,312.3 L124.6,312.5 L124.8,312.7 L124.9,313.0 L125.0,313.3 L124.9,313.7 L124.9,313.9 L124.7,314.2 L124.5,314.4 L124.3,314.6 L124.1,314.8 L123.9,314.9 L123.5,315.1 L123.3,315.2 L123.0,315.3 L122.7,315.4 L122.3,315.5 L122.1,315.5Z" fill="none" stroke="rgb(58,58,58)" stroke-width="0.65"/>
<path d="M121.9,315.1 L121.5,315.2 L121.1,315.2 L120.7,315.2 L120.3,315.2 L120.0,315.1 L119.7,315.1 L119.3,314.9 L119.1,314.9 L118.8,314.7 L118.5,314.5 L118.3,314.4 L118.1,314.2 L117.9,313.9 L117.8,313.7 L117.8,313.3 L117.9,313.0 L118.0,312.7 L118.2,312.5 L118.4,312.3 L118.7,312.1 L118.9,312.0 L119.2,311.9 L119.5,311.8 L119.9,311.7 L120.1,311.7 L120.5,311.6 L120.9,311.6 L121.3,311.6 L121.7,311.6 L122.0,311.7 L122.3,311.7 L122.7,311.9 L122.9,311.9 L123.2,312.1 L123.5,312.3 L123.7,312.4 L123.9,312.6 L124.1,312.9 L124.2,313.1 L124.2,313.5 L124.1,313.9 L124.0,314.1 L123.8,314.3 L123.6,314.5 L123.3,314.7 L123.1,314.8 L122.8,314.9 L122.5,315.0 L122.1,315.1 L121.9,315.1Z" fill="none" stroke="rgb(70,70,70)" stroke-width="0.65"/>
<path d="M121.1,314.7 L120.8,314.7 L120.5,314.7 L120.1,314.6 L119.7,314.5 L119.5,314.4 L119.3,314.3 L119.0,314.1 L118.8,313.9 L118.7,313.6 L118.7,313.3 L118.7,313.1 L118.9,312.8 L119.1,312.6 L119.3,312.5 L119.7,312.3 L119.9,312.2 L120.3,312.1 L120.7,312.1 L120.9,312.1 L121.2,312.1 L121.5,312.1 L121.9,312.2 L122.3,312.3 L122.5,312.4 L122.7,312.5 L123.0,312.7 L123.2,312.9 L123.3,313.1 L123.3,313.5 L123.3,313.7 L123.1,314.0 L122.9,314.2 L122.7,314.3 L122.3,314.5 L122.1,314.6 L121.7,314.7 L121.3,314.7 L121.1,314.7Z" fill="none" stroke="rgb(88,88,88)" stroke-width="0.65"/>
<text x="144.0" y="310.1" font-size="4.8" text-anchor="middle" fill="#1a1a1a" stroke="#1a1a1a">47%</text>
<text x="144.0" y="315.45000000000005" font-size="4.8" text-anchor="middle" fill="#1a1a1a" stroke="#1a1a1a">enucleated</text>
<text x="144.0" y="320.8" font-size="4.8" text-anchor="middle" fill="#1a1a1a" stroke="#1a1a1a">cells</text>
<text x="100.9" y="283.3" font-size="6.6" text-anchor="end" fill="#333" stroke="#333">10</text>
<text x="103.2" y="280.4" font-size="4.2" text-anchor="end" fill="#333" stroke="#333">5</text>
<text x="100.9" y="294.1" font-size="6.6" text-anchor="end" fill="#333" stroke="#333">10</text>
<text x="103.2" y="291.2" font-size="4.2" text-anchor="end" fill="#333" stroke="#333">4</text>
<text x="100.9" y="305.6" font-size="6.6" text-anchor="end" fill="#333" stroke="#333">10</text>
<text x="103.2" y="302.7" font-size="4.2" text-anchor="end" fill="#333" stroke="#333">3</text>
<text x="102.2" y="316.3" font-size="6.6" text-anchor="end" fill="#333" stroke="#333">0</text>
<rect x="103.60000000000001" y="313" width="1" height="2.2" fill="#222"/>
<text x="100.9" y="325.0" font-size="6.6" text-anchor="end" fill="#333" stroke="#333">10</text>
<text x="103.2" y="321.1" font-size="4.2" text-anchor="end" fill="#333" stroke="#333">3</text>
<line x1="103.9" y1="281.0" x2="105.2" y2="281.0" stroke="#555" stroke-width="0.5"/>
<line x1="103.9" y1="291.8" x2="105.2" y2="291.8" stroke="#555" stroke-width="0.5"/>
<line x1="103.9" y1="303.3" x2="105.2" y2="303.3" stroke="#555" stroke-width="0.5"/>
<line x1="103.9" y1="322.7" x2="105.2" y2="322.7" stroke="#555" stroke-width="0.5"/>
<line x1="106.7" y1="324.0" x2="106.7" y2="325.4" stroke="#555" stroke-width="0.5"/>
<text x="0" y="0" font-size="6.6" text-anchor="end" fill="#333" stroke="#333" transform="translate(108.5,327.2) rotate(-45)">0</text>
<line x1="116.3" y1="324.0" x2="116.3" y2="325.4" stroke="#555" stroke-width="0.5"/>
<text x="0" y="0" font-size="6.6" text-anchor="end" fill="#333" stroke="#333" transform="translate(118.1,327.2) rotate(-45)">50K</text>
<line x1="125.9" y1="324.0" x2="125.9" y2="325.4" stroke="#555" stroke-width="0.5"/>
<text x="0" y="0" font-size="6.6" text-anchor="end" fill="#333" stroke="#333" transform="translate(127.7,327.2) rotate(-45)">100K</text>
<line x1="135.5" y1="324.0" x2="135.5" y2="325.4" stroke="#555" stroke-width="0.5"/>
<text x="0" y="0" font-size="6.6" text-anchor="end" fill="#333" stroke="#333" transform="translate(137.3,327.2) rotate(-45)">150K</text>
<line x1="145.1" y1="324.0" x2="145.1" y2="325.4" stroke="#555" stroke-width="0.5"/>
<text x="0" y="0" font-size="6.6" text-anchor="end" fill="#333" stroke="#333" transform="translate(146.9,327.2) rotate(-45)">200K</text>
<line x1="154.7" y1="324.0" x2="154.7" y2="325.4" stroke="#555" stroke-width="0.5"/>
<text x="0" y="0" font-size="6.6" text-anchor="end" fill="#333" stroke="#333" transform="translate(156.5,327.2) rotate(-45)">250K</text>
<text x="63.3" y="265.6" font-size="8.7" text-anchor="middle" fill="#222" stroke="#222" font-weight="normal" >Control</text>
<text x="130.2" y="265.6" font-size="8.7" text-anchor="middle" fill="#222" stroke="#222" font-weight="normal" >+MK-571</text>
<line x1="18.8" y1="343.4" x2="154" y2="343.4" stroke="#111" stroke-width="1.1"/>
<polygon points="158.5,343.4 151.3,340.3 152.9,343.4 151.3,346.5" fill="#111"/>
<line x1="19.3" y1="343.9" x2="19.3" y2="274" stroke="#111" stroke-width="1.1"/>
<polygon points="19.3,269.8 16.3,276.9 19.3,275.4 22.3,276.9" fill="#111"/>
<text x="0" y="0" font-size="8.6" text-anchor="middle" fill="#2a2a2a" stroke="#2a2a2a" style="stroke-width:0.3px" transform="translate(14.6,306.1) rotate(-90) scale(0.77,1)">Syto 16</text>
<text x="90.7" y="353.9" font-size="8.8" text-anchor="middle" fill="#2a2a2a" stroke="#2a2a2a" font-weight="normal" style="stroke-width:0.3px" transform="translate(90.7,353.9) scale(0.65,1) translate(-90.7,-353.9)">FSC-A</text>
<line x1="196.5" y1="277.5" x2="199.5" y2="277.5" stroke="#1a1a1a" stroke-width="0.9"/>
<text x="193.8" y="279.7" font-size="6.3" text-anchor="end" fill="#333" stroke="#333" font-weight="normal" >50</text>
<line x1="196.5" y1="286.7" x2="199.5" y2="286.7" stroke="#1a1a1a" stroke-width="0.9"/>
<text x="193.8" y="288.9" font-size="6.3" text-anchor="end" fill="#333" stroke="#333" font-weight="normal" >40</text>
<line x1="196.5" y1="295.9" x2="199.5" y2="295.9" stroke="#1a1a1a" stroke-width="0.9"/>
<text x="193.8" y="298.09999999999997" font-size="6.3" text-anchor="end" fill="#333" stroke="#333" font-weight="normal" >30</text>
<line x1="196.5" y1="305.1" x2="199.5" y2="305.1" stroke="#1a1a1a" stroke-width="0.9"/>
<text x="193.8" y="307.3" font-size="6.3" text-anchor="end" fill="#333" stroke="#333" font-weight="normal" >20</text>
<line x1="196.5" y1="314.3" x2="199.5" y2="314.3" stroke="#1a1a1a" stroke-width="0.9"/>
<text x="193.8" y="316.5" font-size="6.3" text-anchor="end" fill="#333" stroke="#333" font-weight="normal" >10</text>
<line x1="196.5" y1="323.5" x2="199.5" y2="323.5" stroke="#1a1a1a" stroke-width="0.9"/>
<text x="193.8" y="325.7" font-size="6.3" text-anchor="end" fill="#333" stroke="#333" font-weight="normal" >0</text>
<rect x="205.8" y="302.2" width="22.19999999999999" height="21.30000000000001" fill="#8f94a3"/>
<rect x="240.0" y="286.0" width="22.5" height="37.5" fill="#d19384"/>
<line x1="199.5" y1="275.5" x2="199.5" y2="323.5" stroke="#1a1a1a" stroke-width="1.2"/>
<line x1="198.9" y1="323.5" x2="268.5" y2="323.5" stroke="#1a1a1a" stroke-width="1.2"/>
<line x1="216.9" y1="323.5" x2="216.9" y2="326.6" stroke="#1a1a1a" stroke-width="1"/>
<line x1="216.9" y1="298.5" x2="216.9" y2="305.0" stroke="#222" stroke-width="1.1"/>
<line x1="211.3" y1="298.5" x2="222.5" y2="298.5" stroke="#222" stroke-width="1.1"/>
<line x1="211.3" y1="305.0" x2="222.5" y2="305.0" stroke="#222" stroke-width="1.1"/>
<circle cx="216.9" cy="296.2" r="0.9" fill="#3c4a70"/>
<circle cx="216.9" cy="303.6" r="0.9" fill="#3c4a70"/>
<circle cx="216.9" cy="307.7" r="0.9" fill="#3c4a70"/>
<line x1="251.25" y1="323.5" x2="251.25" y2="326.6" stroke="#1a1a1a" stroke-width="1"/>
<line x1="251.25" y1="283.2" x2="251.25" y2="289.2" stroke="#222" stroke-width="1.1"/>
<line x1="245.65" y1="283.2" x2="256.85" y2="283.2" stroke="#222" stroke-width="1.1"/>
<line x1="245.65" y1="289.2" x2="256.85" y2="289.2" stroke="#222" stroke-width="1.1"/>
<circle cx="251.25" cy="281.2" r="0.9" fill="#c0283f"/>
<circle cx="251.25" cy="287.9" r="0.9" fill="#c0283f"/>
<circle cx="251.25" cy="291.2" r="0.9" fill="#c0283f"/>
<line x1="217.0" y1="278.0" x2="252.5" y2="278.0" stroke="#747474" stroke-width="1.9"/>
<circle cx="234.75" cy="275.1" r="0.8" fill="#333"/>
<text x="0" y="0" font-size="7.8" text-anchor="middle" fill="#2a2a2a" stroke="#2a2a2a" style="stroke-width:0.22px" transform="translate(181.4,299.4) rotate(-90) scale(0.83,1)">Enucleated cells (%)</text>
<text x="216.9" y="335.2" font-size="6.3" text-anchor="middle" fill="#333" stroke="#333" font-weight="normal" >Control</text>
<text x="251.25" y="335.2" font-size="6.3" text-anchor="middle" fill="#333" stroke="#333" font-weight="normal" >+ MK-571</text>
<g class="tb">
<line x1="18.8" y1="380.3" x2="418.8" y2="380.3" stroke="#1a1a1a" stroke-width="1.2"/>
<line x1="18.8" y1="408.3" x2="418.8" y2="408.3" stroke="#1a1a1a" stroke-width="1.2"/>
<line x1="18.8" y1="554.0" x2="418.8" y2="554.0" stroke="#333" stroke-width="1.6"/>
<text x="0" y="0" font-size="7.10" text-anchor="middle" fill="#222" stroke="#222" font-weight="normal" transform="translate(133.8,394.1) scale(0.93,1)">Wild type</text>
<text x="0" y="0" font-size="6.94" text-anchor="middle" fill="#222" stroke="#222" font-weight="normal" transform="translate(133.8,401.3) scale(0.93,1)">(untreated, n=6)</text>
<text x="0" y="0" font-size="7.10" text-anchor="middle" fill="#222" stroke="#222" font-weight="normal" transform="translate(219.2,394.1) scale(0.93,1)">Wild type</text>
<text x="0" y="0" font-size="6.94" text-anchor="middle" fill="#222" stroke="#222" font-weight="normal" transform="translate(219.2,401.3) scale(0.93,1)">(+MK-571, n=4)</text>
<text x="0" y="0" font-size="7.10" text-anchor="middle" fill="#222" stroke="#222" font-weight="normal" transform="translate(308.8,394.1) scale(0.93,1)">Ent1<tspan font-size="3.8" dy="-2.3" fill="#999">-/-</tspan></text>
<text x="0" y="0" font-size="6.94" text-anchor="middle" fill="#222" stroke="#222" font-weight="normal" transform="translate(308.8,401.3) scale(0.93,1)">(untreated, n=6)</text>
<text x="0" y="0" font-size="7.10" text-anchor="middle" fill="#222" stroke="#222" font-weight="normal" transform="translate(383.8,394.1) scale(0.93,1)">Ent1<tspan font-size="3.8" dy="-2.3" fill="#999">-/-</tspan></text>
<text x="0" y="0" font-size="6.94" text-anchor="middle" fill="#222" stroke="#222" font-weight="normal" transform="translate(383.8,401.3) scale(0.93,1)">(+MK-571, <tspan font-style="italic">n</tspan>=4)</text>
<text x="0" y="0" font-size="6.77" text-anchor="middle" fill="#000" stroke="#000" font-weight="normal" transform="translate(133.8,424.9) scale(0.93,1)">9.19 ± 0.16</text>
<text x="0" y="0" font-size="6.77" text-anchor="middle" fill="#000" stroke="#000" font-weight="normal" transform="translate(219.2,424.9) scale(0.93,1)">9.78 ± 0.30*</text>
<text x="0" y="0" font-size="6.77" text-anchor="middle" fill="#000" stroke="#000" font-weight="normal" transform="translate(308.8,424.9) scale(0.93,1)">7.22 ± 0.61***</text>
<text x="0" y="0" font-size="6.77" text-anchor="middle" fill="#000" stroke="#000" font-weight="normal" transform="translate(383.8,424.9) scale(0.93,1)">8.31 ± 0.31*</text>
<text x="0" y="0" font-size="6.67" text-anchor="middle" fill="#000" stroke="#000" font-weight="normal" transform="translate(47.6,444.3) scale(0.9,1)">Hb (g dl<tspan font-size="3.8" dy="-2.3">-1</tspan><tspan dy="2.3">)</tspan></text>
<text x="0" y="0" font-size="6.77" text-anchor="middle" fill="#000" stroke="#000" font-weight="normal" transform="translate(133.8,444.3) scale(0.93,1)">13.26 ± 0.15</text>
<text x="0" y="0" font-size="6.77" text-anchor="middle" fill="#000" stroke="#000" font-weight="normal" transform="translate(219.2,444.3) scale(0.93,1)">13.75 ± 0.31*</text>
<text x="0" y="0" font-size="6.77" text-anchor="middle" fill="#000" stroke="#000" font-weight="normal" transform="translate(308.8,444.3) scale(0.93,1)">12.25 ± 0.43*</text>
<text x="0" y="0" font-size="6.77" text-anchor="middle" fill="#000" stroke="#000" font-weight="normal" transform="translate(383.8,444.3) scale(0.93,1)">13.70 ± 0.54**</text>
<text x="0" y="0" font-size="6.67" text-anchor="middle" fill="#000" stroke="#000" font-weight="normal" transform="translate(47.6,463.9) scale(0.9,1)">HCT (%)</text>
<text x="0" y="0" font-size="6.77" text-anchor="middle" fill="#000" stroke="#000" font-weight="normal" transform="translate(133.8,463.9) scale(0.93,1)">43.11 ± 1.11</text>
<text x="0" y="0" font-size="6.77" text-anchor="middle" fill="#000" stroke="#000" font-weight="normal" transform="translate(219.2,463.9) scale(0.93,1)">45.25 ± 0.86*</text>
<text x="0" y="0" font-size="6.77" text-anchor="middle" fill="#000" stroke="#000" font-weight="normal" transform="translate(308.8,463.9) scale(0.93,1)">39.41 ± 2.08*</text>
<text x="0" y="0" font-size="6.77" text-anchor="middle" fill="#000" stroke="#000" font-weight="normal" transform="translate(383.8,463.9) scale(0.93,1)">45.10 ± 2.05**</text>
<text x="0" y="0" font-size="6.67" text-anchor="middle" fill="#000" stroke="#000" font-weight="normal" transform="translate(47.6,483.5) scale(0.9,1)">MCV (fl)</text>
<text x="0" y="0" font-size="6.77" text-anchor="middle" fill="#000" stroke="#000" font-weight="normal" transform="translate(133.8,483.5) scale(0.93,1)">49.03 ± 2.02</text>
<text x="0" y="0" font-size="6.77" text-anchor="middle" fill="#000" stroke="#000" font-weight="normal" transform="translate(219.2,483.5) scale(0.93,1)">46.2 ± 0.64*</text>
<text x="0" y="0" font-size="6.77" text-anchor="middle" fill="#000" stroke="#000" font-weight="normal" transform="translate(308.8,483.5) scale(0.93,1)">56.98 ± 2.52**</text>
<text x="0" y="0" font-size="6.77" text-anchor="middle" fill="#000" stroke="#000" font-weight="normal" transform="translate(383.8,483.5) scale(0.93,1)">55.95 ± 0.91</text>
<text x="0" y="0" font-size="6.67" text-anchor="middle" fill="#000" stroke="#000" font-weight="normal" transform="translate(47.6,502.9) scale(0.9,1)">MCH (pg)</text>
<text x="0" y="0" font-size="6.77" text-anchor="middle" fill="#000" stroke="#000" font-weight="normal" transform="translate(133.8,502.9) scale(0.93,1)">15.03 ± 0.63</text>
<text x="0" y="0" font-size="6.77" text-anchor="middle" fill="#000" stroke="#000" font-weight="normal" transform="translate(219.2,502.9) scale(0.93,1)">14.65 ± 0.13</text>
<text x="0" y="0" font-size="6.77" text-anchor="middle" fill="#000" stroke="#000" font-weight="normal" transform="translate(308.8,502.9) scale(0.93,1)">17.21 ± 0.92**</text>
<text x="0" y="0" font-size="6.77" text-anchor="middle" fill="#000" stroke="#000" font-weight="normal" transform="translate(383.8,502.9) scale(0.93,1)">16.8 ± 0.20</text>
<text x="0" y="0" font-size="6.67" text-anchor="middle" fill="#000" stroke="#000" font-weight="normal" transform="translate(47.6,522.3) scale(0.9,1)">Retic (%)</text>
<text x="0" y="0" font-size="6.77" text-anchor="middle" fill="#000" stroke="#000" font-weight="normal" transform="translate(133.8,522.3) scale(0.93,1)">3.23 ± 0.18</text>
<text x="0" y="0" font-size="6.77" text-anchor="middle" fill="#000" stroke="#000" font-weight="normal" transform="translate(219.2,522.3) scale(0.93,1)">4.51 ± 0.23*</text>
<text x="0" y="0" font-size="6.77" text-anchor="middle" fill="#000" stroke="#000" font-weight="normal" transform="translate(308.8,522.3) scale(0.93,1)">4.81 ± 0.26</text>
<text x="0" y="0" font-size="6.77" text-anchor="middle" fill="#000" stroke="#000" font-weight="normal" transform="translate(383.8,522.3) scale(0.93,1)">5.80 ± 0.46*</text>
<text x="0" y="0" font-size="6.77" text-anchor="middle" fill="#000" stroke="#000" font-weight="normal" transform="translate(133.8,541.9) scale(0.93,1)">6.60 ± 1.96</text>
<text x="0" y="0" font-size="6.77" text-anchor="middle" fill="#000" stroke="#000" font-weight="normal" transform="translate(219.2,541.9) scale(0.93,1)">2.69 ± 1.85</text>
<text x="0" y="0" font-size="6.77" text-anchor="middle" fill="#000" stroke="#000" font-weight="normal" transform="translate(308.8,541.9) scale(0.93,1)">3.31 ± 2.27</text>
<text x="0" y="0" font-size="6.77" text-anchor="middle" fill="#000" stroke="#000" font-weight="normal" transform="translate(383.8,541.9) scale(0.93,1)">3.01 ± 1.25</text>
<text x="0" y="0" font-size="6.67" text-anchor="middle" fill="#000" stroke="#000" font-weight="normal" transform="translate(47.6,420.6) scale(0.9,1)">RBC</text>
<text x="0" y="0" font-size="6.67" text-anchor="middle" fill="#000" stroke="#000" font-weight="normal" transform="translate(47.6,428.2) scale(0.9,1)">(1x10<tspan font-size="3.8" dy="-2.3">6</tspan><tspan dy="2.3"> cells µl</tspan><tspan font-size="3.8" dy="-2.3">-1</tspan><tspan dy="2.3">)</tspan></text>
<text x="0" y="0" font-size="6.67" text-anchor="middle" fill="#000" stroke="#000" font-weight="normal" transform="translate(47.6,537.6) scale(0.9,1)">WBC</text>
<text x="0" y="0" font-size="6.67" text-anchor="middle" fill="#000" stroke="#000" font-weight="normal" transform="translate(47.6,545.2) scale(0.9,1)">(1x10<tspan font-size="3.8" dy="-2.3">3</tspan><tspan dy="2.3"> cells µl</tspan><tspan font-size="3.8" dy="-2.3">-1</tspan><tspan dy="2.3">)</tspan></text>
</g>
</svg></body></html>
